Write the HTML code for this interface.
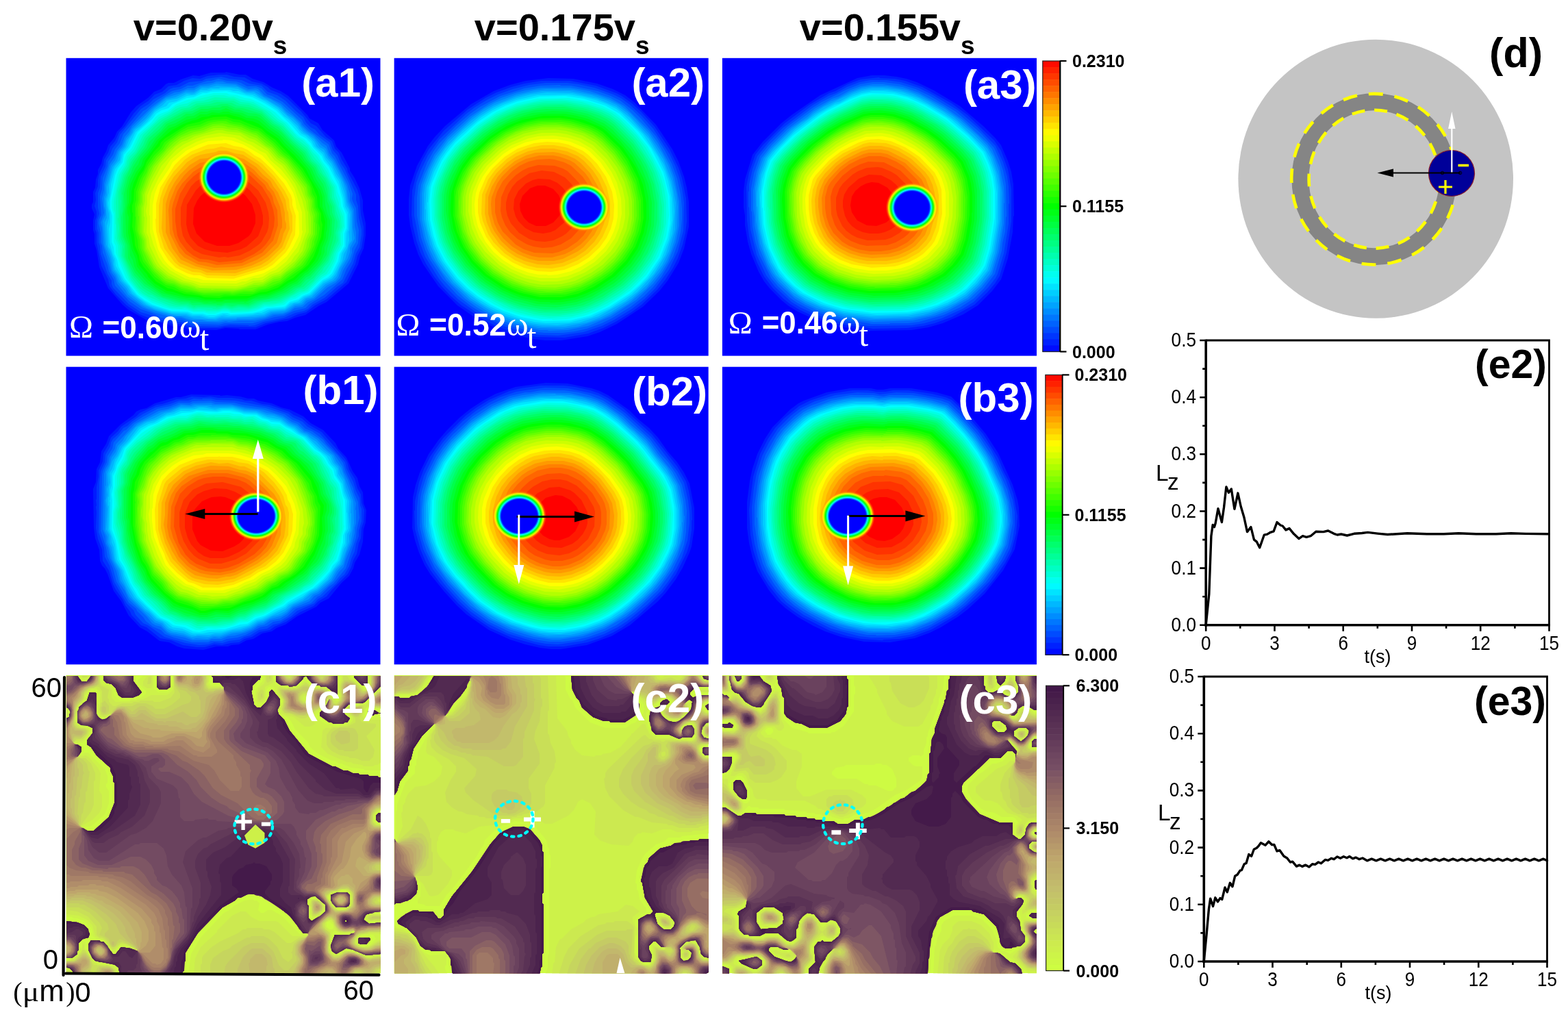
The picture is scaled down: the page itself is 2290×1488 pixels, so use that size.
<!DOCTYPE html>
<html><head><meta charset="utf-8"><title>figure</title><style>html,body{margin:0;padding:0;background:#fff;width:2290px;height:1488px;overflow:hidden}svg{display:block}</style></head><body>
<svg xmlns="http://www.w3.org/2000/svg" width="2290" height="1488" viewBox="0 0 2290 1488">
<rect width="2290" height="1488" fill="#fff"/>
<text x="194.8" y="59.0" font-family='"Liberation Sans", Arial, sans-serif' font-weight="bold" font-size="56">v=0.20v<tspan font-size="37" dy="19.5">s</tspan></text>
<text x="692.8" y="59.0" font-family='"Liberation Sans", Arial, sans-serif' font-weight="bold" font-size="56">v=0.175v<tspan font-size="37" dy="19.5">s</tspan></text>
<text x="1167.8" y="59.0" font-family='"Liberation Sans", Arial, sans-serif' font-weight="bold" font-size="56">v=0.155v<tspan font-size="37" dy="19.5">s</tspan></text>
<clipPath id="cp00"><rect x="96.3" y="84.6" width="459.4" height="435.2"/></clipPath>
<g clip-path="url(#cp00)" fill-rule="evenodd">
<rect x="96.3" y="84.6" width="459.4" height="435.2" fill="#0000ff"/>
<path fill="#001aff" d="M410 133l-12-5-13-8-16-5-10-6-9 0-20-4-1 1-21 0-17 5-9-1-18 6-10 5-8 0-4 2-7 7-10 4-9 9-17 12-8 9-13 21-7 7-4 9-9 11-3 9-5 9-2 9-5 9 0 6-3 8-1 12-3 6 0 15-2 4 0 5 4 9-2 9 0 14 2 6 0 14 3 9 4 25 13 31 21 24 8 7 28 16 29 5 9 4 10-1 12 5 41 1 13-3 20 1 1 1 23 0 18-7 17-4 11-1 12-5 15-4 19-13 12-6 32-27 14-28 3-12 5-11 3-19 0-18-4-19 0-14-5-18-7-15-7-11 0-3-12-23-8-9-3-9-17-15-6-10-13-7-3-5-28-28z"/>
<path fill="#0033ff" d="M281 114l-12 4-11 6-12 2-9 8-11 4-9 9-12 8-10 11-13 19-8 8-6 13-7 8-3 9-6 10-1 8-6 13-2 9 0 9-4 10 1 10-2 9 3 8 0 8-2 5 0 13 2 5 0 14 7 34 10 20 2 10 9 12 16 16 19 13 15 6 7 1 8 4 11 0 9 4 10-1 11 5 10 0 1 1 35 0 7-2 45 1 15-6 34-7 13-6 12-3 13-10 17-9 29-25 13-26 3-12 6-12 3-18 0-13-4-18-2-26-3-10-14-26-1-5-8-13-4-10-6-6-4-11-9-6-14-16-8-4-14-17-20-19-10-7-15-6-4-4-9-5-14-3-11-6-15-1-11-3-11 0-17 2-11 4z"/>
<path fill="#004cff" d="M276 120l-14 7-9 1-5 2-7 6-17 9-7 7-11 7-31 38-4 11-7 9-3 8-6 9-1 9-7 15-1 16-3 8 0 21 2 9-3 9 0 13 2 6 0 14 2 5 1 12 10 29 6 10 0 5 2 5 23 24 18 12 17 5 10 6 12 0 7 3 13 0 8 4 8 2 36 1 19-3 27 1 1 1 8-1 13-5 30-6 16-7 13-3 6-3 6-6 18-10 18-16 9-6 15-29 4-14 5-9 3-18 0-8-4-17-1-17-3-9 0-8-17-38-5-7-5-12-7-8-4-11-15-11-7-8-6-3-7-7-4-8-10-8-16-16-12-8-14-5-9-9-18-3-11-5-18-2-12-3-22 3-6 3z"/>
<path fill="#0066ff" d="M319 115l-11 3-5 0-22 7-7 0-10 5-13 3-23 14-15 13-4 2-29 34-5 13-7 9-3 8-7 10-1 7-7 17-1 16-3 11 2 27-3 6-1 6 3 14 0 14 2 5 1 10 7 18 2 9 7 12 2 9 21 23 16 11 22 8 8 5 10 0 8 3 13 0 15 6 39 1 8-2 41 0 32-9 14-2 14-7 17-4 6-6 21-13 27-23 6-15 7-11 5-17 5-10 1-19-3-13-1-19-5-10-1-4 1-7-6-17-20-38-4-4-5-13-28-22-8-8-3-6-28-26-16-9-7-2-8-9-8-3-13 0-9-5-7-2-13-1z"/>
<path fill="#0080ff" d="M242 141l-20 15-29 28-5 9-6 7-4 11-7 9-4 10-7 10-8 28 0 9-3 13 3 21-5 14 2 8 1 22 13 43 5 7 3 9 15 19 22 16 17 7 27 8 13 0 17 6 38 1 10-2 4 1 15-2 23 0 15-3 13-5 13-1 10-4 7-5 12-2 8-7 9-4 19-17 12-7 7-7 4-11 10-17 3-9 0-6 6-10 0-14-2-9-1-24-6-13 0-10-4-14-18-35-8-10-4-11-6-4-12-12-9-6-9-9-1-3-30-28-24-12-9-9-4-1-10 1-18-8-14-1-6-2-9 0-5 2-19 3-9 5-9 0-12 5-7 1z"/>
<path fill="#0099ff" d="M242 143l-19 15-30 30-4 8-5 6-5 12-6 7-5 13-6 8-8 28 0 12-2 6 0 13 2 6 0 7-4 9 3 36 7 18 4 18 5 7 4 10 10 11 4 7 19 15 9 5 37 12 12 0 16 5 15 0 8 2 14 0 9-2 19 0 1-1 21 0 20-3 11-5 15-1 6-2 12-8 8-1 4-2 4-5 11-4 19-18 13-7 4-5 5-13 9-15 3-9 0-6 7-14-3-16 0-24-6-14-3-21-8-18-11-20-7-8-4-10-7-5-11-13-10-7-8-8-2-4-9-9-11-8-8-9-15-9-10-4-7-7-4-2-13 0-17-8-28-2-11 3-12 1-10 6-11 0-8 4z"/>
<path fill="#00b2ff" d="M243 145l-18 14-12 14-18 16-2 5-8 11-3 9-7 8-4 13-7 9-8 29 0 12-2 5 2 28-3 7 2 32 7 18 4 19 5 7 4 9 10 11 4 7 21 17 18 8 30 8 12 0 13 4 32 2 6-2 24 0 1-1 27-1 13-2 10-5 20-2 14-9 10-2 7-7 8-2 20-19 12-6 5-6 4-11 8-13 6-22 4-6-1-41-6-15-2-16-4-13-16-30-5-5-7-13-6-3-8-12-16-12-8-11-7-7-8-5-9-10-40-24-10 0-14-7-30-2-13 3-9 0-12 7-12 0-15 7z"/>
<path fill="#00ccff" d="M244 147l-7 7-11 7-7 9-14 14-7 5-9 14-5 12-7 8-2 11-7 8-3 6-6 22 0 11-3 11 0 7 3 13 0 7-3 11 2 30 3 5 5 15 0 6 2 7 7 10 3 7 8 8 7 11 21 16 11 5 26 8 21 1 8 3 12 0 12 3 10 0 10-3 9 1 26-1 26-3 10-5 21-2 13-9 8-1 8-7 10-4 17-17 13-7 5-6 10-20 2-10 5-9 3-11-1-13 1-1 1-23-2-9-3-5-3-18-6-19-6-9-7-15-8-9-3-7-11-9-3-7-9-9-7-4-6-6-2-4-29-27-16-10-8-3-10-7-15-2-9-5-13-2-14 0-1 1-12 0-6 2-9 0-9 6-4 1-7-1-14 7z"/>
<path fill="#00e6ff" d="M247 150l-4 5-10 4-7 5-11 14-17 15-11 22-7 8-4 14-8 10-6 22-1 15-3 12 1 9 2 5 0 14-2 10 1 20 5 18 3 6 1 10 12 22 8 8 4 7 10 10 15 10 33 11 22 1 8 3 13 0 12 3 6 0 15-4 9 2 33-2 7-2 6 0 11-5 23-2 8-7 11-3 9-7 9-3 19-19 10-5 5-5 10-20 2-11 6-10 1-20 2-6 0-24-4-8-2-13-7-24-6-9-4-10-10-13-4-8-12-11-4-8-9-8-6-3-8-10-11-11-6-4-9-10-19-12-18-9-9-1-12-5-7 0-6-2-24 0-6 2-12 1-8 5-12 1-16 8z"/>
<path fill="#00ffff" d="M369 142l-38-9-23 1-6 2-6 0-13 6-10 1-21 9-6 6-10 3-8 5-5 7-22 20-11 22-9 11-2 11-7 9-4 10-7 36 0 12 3 11-1 38 3 8 1 10 4 8 2 10 9 18 18 23 12 9 11 6 28 9 23 1 8 3 14 0 6 2 13 0 10-3 7 0 5 2 32-2 13-3 8-4 24-2 3-1 6-6 13-4 6-5 10-4 19-19 8-4 6-6 9-18 2-10 7-12 0-18 3-8 0-20-5-12-1-10-6-21-14-27-7-8-3-7-13-13-3-6-7-7-9-5-13-15-22-21-16-10z"/>
<path fill="#00ffe5" d="M232 167l-5 4-6 8-19 17-10 21-7 7-3 7-1 7-7 10-3 7-8 39 0 10 3 9 0 40 3 6 0 10 15 37 19 24 19 12 18 7 12 3 22 1 9 3 15 0 7 2 9 0 10-3 9 0 5 2 24-1 11-2 14-6 11 0 17-3 7-6 10-3 9-6 9-3 20-20 12-8 9-18 3-12 4-5 3-7 0-18 3-7-1-20-5-11-1-11-4-10-1-8-7-11-6-14-9-12-4-8-22-24-6-3-7-6-12-15-5-3-12-12-21-13-16-7-8-1-11-4-11-1-4-2-19 0-19 4-9 4-8 1-18 7-13 10z"/>
<path fill="#00ffcc" d="M256 156l-8 7-16 8-7 8-20 18-10 21-9 10-4 14-8 13-8 39 0 12 2 5 0 16 1 1-1 20 4 10 1 15 16 36 15 19 18 11 26 10 16 2 6-1 13 4 17 0 1 1 17 0 7-2 8 0 5 2 25-1 15-4 8-4 9 0 17-3 13-8 5-1 10-6 9-3 21-21 7-4 6-9 5-10 3-11 7-12 0-17 4-11-1-14-6-15 0-5-4-11-2-13-6-9-4-10-16-25-7-7-6-9-9-8-7-4-18-20-9-6-12-11-25-14-19-4-10-4-7 0-7-2-15 0-29 7-10 5-10 2z"/>
<path fill="#00ffb2" d="M257 159l-9 7-15 8-24 23-12 24-8 8-3 6-1 6-7 12-7 25-2 17 2 54 4 10 1 15 15 34 9 12 8 8 8 5 31 13 11 2 13 0 12 4 7-1 14 2 14 0 8-2 6 0 6 2 25-1 11-3 11-5 17-1 8-2 28-15 6-1 5-3 19-20 6-4 8-12 4-8 2-8 8-15 0-16 3-7-1-15-10-30-1-13-19-34-8-9-11-16-19-15-17-19-7-4-17-15-17-9-9-3-11-1-10-5-28-2-17 5-11 1-6 2-7 5-9 1z"/>
<path fill="#00ff99" d="M287 151l-11 6-11 2-30 17-10 9-14 15-12 23-9 10-3 10-7 12-7 26 0 37-1 1 2 14-1 11 1 6 4 9 0 14 14 32 12 16 13 9 5 1 10 6 20 7 10 2 10 0 11 4 6-1 21 1 1 1 8 0 9-2 10 2 11-2 15 1 21-8 23-3 21-10 9-6 6-1 14-12 4-6 8-7 3-6 7-8 14-32-1-11 3-8 0-9-5-15-1-8-5-11-1-15-7-14-5-6-6-12-9-9-9-15-17-14-17-19-14-9-17-15-20-8-12-1-10-5-28-1-9 3z"/>
<path fill="#00ff80" d="M288 154l-11 6-8 1-30 16-26 25-4 10-18 25-3 10-6 10-6 21 0 14 1 1-2 20 1 34 5 13-1 5 1 10 12 27 16 19 21 12 26 9 9 2 9 0 10 4 2-1 29 1 1 1 13-2 9 2 10-2 15 1 18-7 11-1 17-4 19-9 6-5 9-3 9-9 6-4 21-26 11-27 1-6-1-7 3-9 0-7-4-11-1-11-6-14-1-13-6-14-8-10-5-10-7-6-8-14-20-17-17-19-9-5-19-17-17-6-19-3-8-4-21-1-11 3z"/>
<path fill="#00ff66" d="M293 156l-12 6-12 2-28 15-9 10-15 13-6 13-16 21-11 23-6 24 1 2 0 23-2 9 1 27 5 13 0 17 2 6 11 22 15 16 26 16 25 7 13 1 6 3 17 0 25 2 6-2 10 2 9-2 15 1 14-6 27-5 17-7 10-7 8-3 8-9 6-3 22-25 5-9 7-25 2-26-4-11 0-8-5-11-2-15-3-9-10-14-4-9-10-10-6-11-17-15-21-22-9-5-16-15-27-8-11-1-12-5-9 0-7 2z"/>
<path fill="#00ff4c" d="M294 159l-14 7-8 0-9 6-20 9-7 9-18 17-4 9-10 12-10 16-3 9-4 6-6 24 1 18-2 12 0 25 1 8 5 12 1 19 10 21 14 16 27 18 27 7 12 1 3 2 12 0 7 2 17 0 1 1 6 0 6-2 33 1 10-5 20-3 25-9 12-8 9-4 9-10 6-3 14-15 10-15 1-9 6-21 1-22-3-7-1-12-3-7-1-9-5-16-9-13-4-10-11-12-6-10-17-15-14-16-16-11-15-14-6-2-11-1-14-5-6 0-11-5-7 0-4 2-9 0-9 2z"/>
<path fill="#00ff33" d="M381 173l-6-3-13-1-8-4-12-2-12-5-8 3-14 0-5 2-10 0-10 6-10 1-17 10-10 3-18 18-12 18-11 13-3 8-4 5-8 16-5 18 0 18-2 12 1 35 5 15 1 14 4 7 2 9 3 6 17 19 20 14 28 8 38 6 6-1 4 1 44-1 2 1 12-5 20-3 24-9 14-9 6-2 12-12 4-2 14-14 6-8 4-10 0-7 5-12 3-21 0-6-4-10-3-13-1-13-4-12-8-12-7-16-10-11-5-8-34-34-11-7z"/>
<path fill="#00ff1a" d="M293 167l-8 5-13 3-16 9-9 3-18 18-12 18-8 9-3 10-7 9-8 17-2 8-1 20-2 7 0 8 2 6-1 23 5 24 6 14 2 11 13 17 14 13 16 9 30 7 7 0 18 4 17 0 1 1 8 0 5-2 31 1 20-7 12-1 20-8 10-7 11-5 12-12 4-2 15-16 5-10 1-9 6-15 0-7 2-6 0-14-7-18 0-14-3-10-9-14-7-16-16-20-20-19-8-10-16-11-14-12-8-3-10-1-11-5-12-2-3-2-8 0-6 2-10-1-8 3z"/>
<path fill="#00ff00" d="M295 171l-8 4-6 1-15 6-15 8-19 16-1 3-19 25-2 7-8 12-7 15-3 12 0 12-3 11 2 12-1 21 5 27 5 10 3 14 12 14 1 3 10 10 18 11 8 1 18 6 20 2 10 3 60-1 18-6 11-1 19-7 13-9 9-4 9-9 9-6 12-14 5-11 3-12 4-8 3-25-4-15-4-8 0-13-3-10-11-18-6-13-17-20-16-15-8-10-15-10-13-11-9-4-8-1-9-4-18-5-25 1-4 2z"/>
<path fill="#1aff00" d="M330 170l-18 1-12 3-9 4-18 4-32 20-6 6-2 5-8 8-11 16-4 11-7 10-7 19-1 17-2 6 0 10 1 1-1 20 3 12 1 15 6 15 1 7 5 9 19 22 17 10 6 1 18 7 24 3 5 2 23 1 6-2 38-1 15-5 9-1 17-6 14-10 8-4 22-19 8-12 11-29 2-18-2-6 0-10-5-10-1-15-9-21-12-20-40-42-13-9-7-7-32-13-9-1z"/>
<path fill="#33ff00" d="M275 185l-13 7-22 16-5 9-10 10-9 13-11 22-6 18 0 12-2 6 0 18 1 1-1 18 4 16 1 11 7 20 17 22 16 12 12 3 9 5 10 3 6 0 17 4 24 1 8-2 13 1 10-2 18 0 12-5 11-2 19-8 8-7 22-15 5-5 13-22 6-18 2-14-2-7 1-14-5-10-1-13-4-7-1-7-3-7-12-19-18-21-8-6-13-14-24-19-11-3-16-7-9-1-10-4-19 1-9 2-11 5z"/>
<path fill="#4cff00" d="M274 189l-10 5-17 12-5 5-4 7-10 10-11 15-3 9-5 8-7 20 0 12-3 12 1 33 4 13 1 12 6 17 11 16 15 15 7 4 10 2 11 6 33 7 37-1 4 1 18-3 14 0 5-3 11-2 22-9 33-25 9-13 8-17 0-4 4-11 0-15-1-1 1-14-4-8-1-13-4-7-2-11-14-22-15-18-11-9-13-14-22-18-9-2-15-7-17-3-6-3-11 0-12 2-14 6z"/>
<path fill="#66ff00" d="M278 191l-17 8-13 10-8 11-11 11-11 16-13 33-1 16-2 6 0 13 1 1-1 18 1 7 4 9 1 13 10 22 8 11 14 13 6 3 9 2 9 5 27 7 8 1 36-1 4 1 17-3 12 0 10-4 10-2 10-6 11-3 9-8 20-14 9-12 7-13 2-10 4-10 0-17-1-1 1-10-4-12 0-9-5-10-3-13-27-36-12-9-12-13-23-18-6-1-15-7-28-6-14 1-21 8z"/>
<path fill="#80ff00" d="M265 200l-11 8-10 10-20 24-10 21-7 19 0 13-2 6 0 38 5 13 1 13 14 26 17 16 12 4 12 6 7 1 18 6 50 1 43-8 16-9 9-2 10-9 11-7 15-17 6-12 2-11 4-8 0-26-3-10-1-14-4-7-2-11-27-37-6-6-7-4-9-11-8-5-15-13-29-11-13-1-5-2-9-1-8 1-14 6-14 3z"/>
<path fill="#99ff00" d="M263 205l-17 15-20 24-9 19-8 22 0 13-2 6 1 37 4 9 1 13 11 22 5 7 17 14 9 3 9 5 20 5 3 2 21 1 1 1 6-1 28 1 8-1 20-6 7 0 7-2 15-9 9-2 19-15 14-16 5-10 2-11 5-10 0-23-3-13-1-12-4-8-2-10-25-35-6-6-7-4-11-13-7-4-13-11-29-12-7 0-14-3-13 0-15 6-16 4z"/>
<path fill="#b3ff00" d="M316 190l-32 9-11 6-7 2-10 7-23 25-13 24-8 20 0 10-2 10 0 13 1 1-1 21 4 11 1 12 11 22 4 6 15 13 20 10 10 2 17 6 52 1 15-3 13-5 12-1 14-9 11-3 22-19 11-15 4-15 5-12-1-29-2-5-1-10-9-23-22-31-12-9-12-14-20-14-7-2-14-8-19-2-7-2z"/>
<path fill="#ccff00" d="M321 194l-22 4-12 4-19 9-11 8-21 23-14 26-7 17 0 13-2 10 2 11-1 21 3 7 2 12 11 23 4 6 13 11 21 11 14 3 10 4 54 1 9-2 15-6 13-1 12-8 12-4 18-15 5-8 6-6 11-30-1-28-5-19-10-23-19-26-11-8-10-13-21-13-9-3-11-7z"/>
<path fill="#e5ff00" d="M342 201l-17-2-24 3-14 5-19 10-19 16-17 26-11 23-2 10-1 22 1 1 0 24 5 18 8 19 6 9 11 10 22 12 23 6 51 1 9-3 5 0 11-5 7 0 7-2 11-7 8-3 15-12 16-21 5-11 3-12-1-2 0-26-11-35-8-13-12-15-15-13-7-10-9-4-12-8z"/>
<path fill="#ffff00" d="M338 205l-12-1-1 1-21 1-14 5-18 9-20 17-4 8-17 25-5 13-3 17 0 34 8 30 9 16 6 7 10 8 21 10 11 1 9 3 47 1 41-11 16-9 18-16 9-13 8-16 1-4-1-31-3-6-2-14-3-9-10-17-35-37-28-16z"/>
<path fill="#ffe500" d="M304 211l-25 10-14 10-10 10-21 33-6 23 0 22-1 1 1 18 6 23 12 19 11 11 16 8 10 3 9 0 11 4 38 1 45-13 12-7 19-18 6-9 8-17 1-28-5-16 0-7-2-7-10-17-17-20-18-17-8-4-10-8-9-4-12-2-11-4z"/>
<path fill="#ffcc00" d="M323 214l-11 3-11 1-21 8-10 7-16 17-10 15-6 12-4 12-2 11 0 38 8 25 15 20 7 6 19 8 12 1 9 4 41 1 37-11 10-5 8-6 18-18 11-26 0-22-4-12-1-12-6-12-15-21-18-19-27-18z"/>
<path fill="#ffb300" d="M319 220l-4 2-22 4-8 3-12 8-19 21-8 13-8 20-2 42 2 11 8 19 14 19 4 3 17 7 12 2 9 4 42 1 37-12 11-7 20-19 11-27-2-24-2-4-2-14-6-12-12-18-22-22-22-14-12-2-12-4z"/>
<path fill="#ff9900" d="M322 225l-19 6-11 1-15 9-14 14-8 11-8 15-5 17 0 41 10 24 12 16 22 10 24 6 35-1 22-6 15-7 9-6 15-14 5-8 3-12 4-8 0-6-2-6 0-10-3-13-7-17-7-9-4-8-11-9-10-11-18-12-27-7z"/>
<path fill="#ff8000" d="M327 230l-9 1-11 4-15 3-16 11-7 7-12 16-9 22-2 13 2 34 14 28 7 7 20 10 24 5 27-1 14-2 22-9 11-7 17-17 6-20 2-3 0-11-3-19-9-22-6-7-3-6-12-10-8-9-13-9-13-5z"/>
<path fill="#ff6600" d="M295 243l-13 8-16 17-7 11-6 17-2 9 1 30 3 11 7 14 9 11 19 11 11 1 16 4 36-3 30-15 16-18 7-22-1-22-5-11-2-9-4-7-4-4-3-6-19-18-7-5-16-7-15-4-10 0z"/>
<path fill="#ff4c00" d="M302 246l-12 6-8 6-9 9-10 16-7 22 0 18 3 21 4 9 10 13 9 7 10 5 12 1 16 4 32-3 19-9 10-7 7-7 7-10 5-16 1-13-2-12-5-15-11-18-18-17-14-8-18-6-11 0z"/>
<path fill="#ff3300" d="M307 253l-21 12-7 7-11 19-4 12 0 25 3 16 5 9 11 12 12 6 25 5 8-1 5 1 17-3 15-7 13-9 4-4 8-14 2-7 1-13-1-9-4-14-11-18-22-19-8-4-16-5z"/>
<path fill="#ff1a00" d="M326 259l-19 4-14 8-7 7-13 21-1 28 2 10 4 10 11 12 10 5 11 3 22 2 20-5 8-4 17-15 7-18 0-12-4-15-5-10-10-12-13-11-8-4z"/>
<path fill="#ff0000" d="M324 270l-10 2-9 4-12 10-5 7-5 11-1 23 5 14 12 12 18 6 18 0 13-4 15-10 4-5 6-14 0-12-5-16-10-13-17-12z"/>
<radialGradient id="vg00"><stop offset="0.637" stop-color="#0000ff" stop-opacity="1.00"/><stop offset="0.677" stop-color="#0060ff" stop-opacity="1.00"/><stop offset="0.718" stop-color="#00ffff" stop-opacity="1.00"/><stop offset="0.758" stop-color="#00ff80" stop-opacity="1.00"/><stop offset="0.798" stop-color="#00ff00" stop-opacity="1.00"/><stop offset="0.852" stop-color="#b0ff00" stop-opacity="1.00"/><stop offset="0.892" stop-color="#ffff00" stop-opacity="0.90"/><stop offset="0.946" stop-color="#ffa000" stop-opacity="0.45"/><stop offset="1.000" stop-color="#ff8000" stop-opacity="0.00"/></radialGradient>
<ellipse cx="327.2" cy="258.9" rx="37.2" ry="36.9" fill="url(#vg00)"/>
</g>
<clipPath id="cp01"><rect x="575.4" y="84.6" width="459.4" height="435.2"/></clipPath>
<g clip-path="url(#cp01)" fill-rule="evenodd">
<rect x="575.4" y="84.6" width="459.4" height="435.2" fill="#0000ff"/>
<path fill="#001aff" d="M801 114l-33 4-23 6-24 9-33 19-38 32-15 16-10 13-16 29-10 29-2 19 0 24 2 16 6 25 6 17 7 14 22 32 28 28 29 20 35 17 15 5 31 7 18 2 24 0 38-6 18-6 25-12 38-25 24-23 12-15 16-26 8-21 7-32 0-36-3-21-4-16-8-22-9-18-24-36-32-33-13-10-18-9-23-8-35-7z"/>
<path fill="#0033ff" d="M791 118l-25 4-19 5-22 8-16 8-26 17-35 31-22 27-10 18-8 19-6 23-1 36 2 16 5 21 6 18 8 16 12 19 11 14 13 14 16 14 34 22 14 7 21 8 40 9 42 1 34-6 22-8 18-9 23-14 15-11 23-22 12-15 11-17 7-14 7-20 4-17 2-17-1-33-6-30-5-15-13-27-22-33-19-21-14-13-15-11-8-4-30-11-37-7z"/>
<path fill="#004cff" d="M797 121l-24 3-24 6-22 8-16 8-18 11-13 10-38 36-17 24-11 23-6 17-3 22 0 26 7 36 9 24 20 32 9 11 19 19 29 21 36 18 40 11 14 2 27 1 37-5 27-9 18-9 26-16 18-14 16-16 20-27 13-27 8-30 1-41-3-21-4-16-6-17-8-17-24-37-17-19-17-16-12-9-12-6-28-10-23-5-17-2z"/>
<path fill="#0066ff" d="M834 125l-15 0-1-1-28 1-24 4-35 11-30 16-14 10-21 18-25 26-8 11-9 16-13 34-2 18 0 26 6 32 6 18 6 13 19 29 22 24 20 16 14 9 27 14 13 5 36 9 17 2 27 0 17-2 18-4 22-8 16-8 26-16 19-15 14-14 12-15 17-29 8-23 3-13 2-19 0-16-2-20-5-23-8-22-11-21-12-19-22-26-12-12-18-14-14-7-19-7z"/>
<path fill="#0080ff" d="M791 128l-24 4-15 4-20 7-18 9-27 18-33 30-20 26-14 29-5 15-2 14 0 36 6 28 5 15 7 15 21 31 27 27 18 13 17 10 19 9 17 6 38 8 12 0 1 1 28-1 30-6 33-14 37-24 25-24 13-17 9-15 11-28 5-24 0-36-7-35-7-19-17-31-13-18-36-36-21-12-30-10-28-5z"/>
<path fill="#0099ff" d="M798 130l-18 2-26 6-31 12-16 9-17 12-36 33-18 24-10 20-8 22-2 13 0 37 6 28 6 17 8 16 11 17 13 16 26 24 30 19 17 8 20 7 33 7 35 1 23-3 34-11 14-7 26-16 26-22 19-23 10-16 6-13 6-18 4-19 1-30-2-19-6-25-6-16-9-18-19-29-27-29-16-13-16-8-16-6-36-8z"/>
<path fill="#00b2ff" d="M792 133l-24 4-15 4-32 13-17 10-16 12-33 31-18 25-8 16-8 22-2 13 0 37 9 37 12 25 22 30 26 24 30 19 31 13 23 6 20 3 33 0 32-6 19-7 16-8 31-20 23-21 21-28 10-20 9-32 1-39-6-32-12-31-22-35-31-33-16-12-15-7-21-7-32-6z"/>
<path fill="#00ccff" d="M799 135l-24 3-20 5-22 8-14 7-19 12-25 21-24 25-9 13-9 17-10 28-2 31 1 1 0 14 3 16 8 26 8 16 11 17 12 15 15 15 24 18 19 11 18 8 36 10 13 2 25 1 32-4 28-9 39-22 18-14 24-26 17-28 10-31 3-32-3-30-3-13-9-25-23-39-27-30-20-16-28-12-36-8z"/>
<path fill="#00e6ff" d="M785 139l-31 7-19 7-16 8-16 10-34 29-12 13-13 18-10 20-8 23-1 21-1 1 1 24 5 24 5 15 11 22 20 27 15 15 15 12 19 12 20 10 23 8 22 5 17 2 34-1 33-8 26-12 32-21 24-23 20-29 11-28 5-28-1-32-5-25-5-15-10-21-22-33-31-31-8-6-14-7-16-6-20-5-19-3z"/>
<path fill="#00ffff" d="M789 141l-33 7-17 6-20 10-21 14-33 30-13 16-7 11-14 32-2 7-2 20 1 27 5 23 5 15 12 23 18 24 15 15 15 12 19 12 18 9 26 9 32 6 40-1 29-7 28-13 29-19 15-13 11-12 19-28 11-29 4-21-1-39-9-35-18-35-18-24-28-27-21-12-32-10-27-4z"/>
<path fill="#00ffe5" d="M785 144l-30 7-29 12-30 20-31 29-18 25-6 12-9 25-2 19 1 28 9 35 8 17 8 13 14 18 16 16 14 11 21 13 16 8 20 7 34 7 15 0 1 1 20-1 26-5 17-6 18-9 33-22 23-23 18-27 11-30 4-30-2-29-5-22-5-14-19-35-23-28-10-10-15-12-18-9-18-6-32-6z"/>
<path fill="#00ffcc" d="M820 145l-30 1-36 8-30 13-24 16-35 33-12 16-15 32-3 10-2 17 1 31 8 31 11 23 19 26 16 16 14 11 33 19 18 7 19 5 31 4 32-2 24-6 28-13 21-13 13-10 17-17 18-25 11-25 6-28 0-30-3-19-5-18-13-28-9-15-13-17-25-25-11-8-12-6-32-10z"/>
<path fill="#00ffb2" d="M797 148l-16 2-25 6-16 6-16 8-26 18-25 23-18 23-14 30-3 10-2 15 0 26 6 29 5 14 7 14 19 27 18 18 22 16 34 17 35 9 18 2 16 0 29-4 28-10 31-18 12-9 16-15 19-25 10-20 8-29 1-32-5-30-6-18-6-13-18-29-10-12-20-20-15-11-13-6-18-6-33-6z"/>
<path fill="#00ff99" d="M793 151l-19 3-19 5-24 10-24 15-35 32-15 20-9 18-6 16-3 17 0 29 3 17 6 20 11 22 16 22 24 23 30 19 27 11 32 7 30 1 17-2 17-4 28-12 31-20 22-21 16-22 8-16 8-27 2-31-5-33-6-18-6-13-22-34-23-24-14-11-12-6-20-7-30-6z"/>
<path fill="#00ff80" d="M789 154l-35 8-25 11-23 15-34 32-13 18-8 16-7 19-2 12 0 32 3 16 6 20 12 23 14 19 19 19 9 7 19 12 18 9 17 6 21 5 16 2 32-1 12-2 20-6 21-10 30-20 16-15 10-12 16-27 8-25 2-12-1-39-9-33-14-27-15-21-26-26-8-6-16-8-22-7-32-5z"/>
<path fill="#00ff66" d="M796 156l-33 6-20 7-16 8-23 16-25 23-15 19-14 29-5 20 0 34 5 23 5 14 7 14 17 24 24 23 23 15 16 8 20 7 32 6 26 0 31-6 29-13 26-17 22-21 18-26 10-26 4-22 0-24-5-28-11-28-19-30-28-29-11-8-10-5-20-7-32-6z"/>
<path fill="#00ff4c" d="M798 159l-17 2-24 6-29 13-23 16-28 27-14 20-8 17-5 15-2 13 0 26 5 25 10 25 17 25 22 22 27 18 22 10 31 8 29 2 30-4 21-7 35-20 14-11 11-11 14-18 13-26 6-22 1-34-5-27-6-17-8-16-16-24-26-27-11-8-26-11-27-6z"/>
<path fill="#00ff33" d="M828 163l-21-1-30 3-30 9-29 16-25 21-19 21-14 25-5 13-3 13-1 24 5 30 5 15 6 12 14 21 18 19 11 9 19 12 21 10 35 9 33 1 24-4 22-8 32-19 9-7 17-17 13-18 9-18 7-25 1-33-5-27-11-27-15-24-27-29-12-9-26-11z"/>
<path fill="#00ff1a" d="M791 166l-29 6-23 9-14 8-15 11-27 26-13 18-13 31-2 13 0 27 4 20 5 15 8 16 16 22 21 20 25 16 27 11 28 6 14 0 1 1 18-1 17-3 13-4 23-11 24-16 22-22 14-21 9-23 4-21-1-32-6-25-17-34-19-24-22-20-23-11-18-5-17-3z"/>
<path fill="#00ff00" d="M794 169l-31 6-23 9-25 16-27 25-13 17-11 23-5 18-1 25 4 25 10 26 17 25 18 18 25 17 14 7 17 6 22 5 31 1 24-4 17-6 14-7 27-18 18-18 15-22 9-23 4-21 0-22-5-27-10-25-19-29-24-24-8-6-26-11-31-6z"/>
<path fill="#1aff00" d="M787 173l-32 8-23 11-16 11-28 27-12 17-6 12-7 20-1 36 5 23 10 23 13 19 21 21 26 17 21 9 31 7 31 0 24-5 23-10 26-17 22-22 13-20 8-21 4-21-1-29-7-28-15-29-12-16-25-24-14-8-28-9-21-3z"/>
<path fill="#33ff00" d="M786 176l-15 3-19 6-18 9-22 16-22 22-14 21-9 23-2 11 0 28 8 31 8 16 12 17 24 23 17 11 14 7 17 6 25 5 36-1 25-7 28-15 16-12 17-18 12-18 9-23 3-15 0-30-7-29-14-28-10-14-25-25-7-5-15-7-25-7-14-2z"/>
<path fill="#4cff00" d="M791 178l-25 5-27 11-22 15-22 21-12 16-8 16-6 17-1 37 8 30 9 17 17 22 17 15 29 17 24 8 16 3 31 0 20-4 24-10 26-17 19-19 11-16 9-20 5-23 0-24-5-25-12-27-15-22-21-21-8-6-12-6-22-7-17-3z"/>
<path fill="#66ff00" d="M811 180l-23 1-23 5-26 11-18 12-26 25-10 14-11 24-4 23 1 22 5 21 11 23 15 20 19 17 27 16 28 9 23 3 21-1 27-7 30-16 13-10 13-13 14-20 9-22 4-22-1-26-6-24-10-21-16-23-18-18-15-10-12-5-18-5z"/>
<path fill="#80ff00" d="M795 183l-20 3-22 7-25 14-25 22-15 19-10 21-4 14-1 27 5 25 8 19 17 24 16 15 23 15 22 9 22 5 24 1 21-3 18-6 14-7 17-11 16-14 16-21 9-19 5-20 0-30-6-26-10-21-12-18-19-20-12-9-24-10-27-5z"/>
<path fill="#99ff00" d="M791 186l-28 6-19 8-21 14-21 20-12 16-7 14-5 14-2 11 0 24 7 28 8 16 13 18 18 17 15 10 16 8 14 5 18 4 26 1 23-4 12-4 16-8 17-11 19-18 12-17 10-24 3-15 0-25-3-17-5-15-8-16-13-19-21-21-19-11-23-7-12-2z"/>
<path fill="#b3ff00" d="M787 190l-22 5-21 9-18 12-22 21-11 15-10 22-3 13 0 27 7 27 7 14 14 19 10 10 13 10 22 12 21 7 18 3 28-1 20-5 24-12 17-12 17-18 8-12 9-21 4-22-1-24-6-23-11-22-15-20-17-16-18-10-24-7-17-2z"/>
<path fill="#ccff00" d="M791 194l-24 5-25 11-13 9-22 21-10 14-8 17-4 13-1 24 5 25 8 18 11 16 21 20 14 9 23 10 24 5 23 0 17-3 24-10 20-13 18-18 10-15 8-20 3-14 0-25-4-19-10-23-12-18-21-21-18-10-20-6-12-2z"/>
<path fill="#e5ff00" d="M786 199l-14 3-25 10-15 10-21 20-10 14-10 23-2 10 0 23 3 15 8 20 14 20 16 15 17 11 22 9 19 4 26 0 15-3 18-7 21-13 17-16 13-19 6-15 4-21-1-22-6-23-8-16-11-16-18-18-19-11-16-5-21-3z"/>
<path fill="#ffff00" d="M790 203l-23 5-20 9-12 8-20 19-10 14-6 12-4 12-2 16 1 16 4 17 11 22 12 15 14 12 18 11 19 7 14 3 13 0 1 1 14-1 20-5 15-7 17-11 17-17 7-10 6-12 4-12 2-11 0-23-3-15-8-20-14-21-16-16-7-5-21-9-20-4z"/>
<path fill="#ffe500" d="M799 207l-19 2-24 8-19 12-18 17-9 12-10 23-2 11 0 18 3 15 9 21 10 14 12 12 16 11 17 8 20 5 20 1 19-3 20-8 16-10 16-15 10-14 6-13 4-15 1-20-3-19-9-22-13-19-13-13-8-6-21-9-14-3z"/>
<path fill="#ffcc00" d="M791 212l-20 4-17 7-14 9-16 15-11 15-9 22-1 28 2 10 8 20 8 12 16 16 15 10 19 8 13 3 22 1 17-3 21-9 15-10 14-14 7-10 8-18 3-14 0-19-5-22-9-18-14-18-11-10-12-7-14-5-17-3z"/>
<path fill="#ffb300" d="M790 217l-19 4-18 8-13 9-15 15-7 10-9 21-1 28 3 13 6 14 12 17 12 11 12 8 13 6 19 5 16 1 20-3 19-8 15-10 13-13 8-12 6-14 3-14 0-18-3-15-8-19-8-12-13-14-9-7-16-7-19-4z"/>
<path fill="#ff9900" d="M782 223l-14 4-16 8-17 14-8 9-9 15-5 15 0 24 5 18 4 8 10 14 13 12 11 7 17 7 13 3 23 0 13-3 22-11 8-6 16-18 7-14 4-16-1-25-5-16-11-19-14-15-8-6-11-5-14-4-7-1z"/>
<path fill="#ff8000" d="M788 227l-20 5-12 6-10 7-13 13-7 10-8 20-1 10 1 14 4 15 5 10 8 11 13 12 15 9 14 5 11 2 18 0 19-5 10-5 13-9 9-9 7-10 6-13 3-13 0-18-5-19-8-15-6-8-15-14-7-4-14-5-10-2z"/>
<path fill="#ff6600" d="M784 233l-12 3-13 6-11 8-14 15-8 15-3 11 0 19 4 15 7 13 19 19 12 7 15 5 27 1 9-2 12-5 15-10 9-9 8-12 6-18 0-22-4-15-5-10-6-9-17-16-10-5-14-4-8-1z"/>
<path fill="#ff4c00" d="M786 241l-15 4-8 4-10 7-9 9-5 7-7 16-1 20 2 9 5 12 7 10 11 10 14 8 9 3 13 2 14-1 13-4 15-9 13-14 5-9 4-13 0-19-4-14-7-13-16-16-7-4-12-4z"/>
<path fill="#ff3300" d="M791 249l-18 4-18 12-7 8-6 11-3 12 0 9 2 10 5 11 12 14 15 9 10 3 13 1 12-2 13-6 6-4 9-9 8-15 2-9 0-12-6-19-6-9-9-9-16-8z"/>
<path fill="#ff1a00" d="M786 261l-8 2-10 5-11 11-6 12-1 14 3 11 4 7 10 10 12 6 14 2 11-2 7-3 14-12 5-9 2-7 0-13-5-14-5-7-8-7-11-5z"/>
<path fill="#ff0000" d="M785 271l-11 4-11 11-4 12 1 10 5 10 7 7 11 5 14 0 11-5 9-10 3-8 0-12-4-10-8-9-12-5z"/>
<radialGradient id="vg01"><stop offset="0.640" stop-color="#0000ff" stop-opacity="1.00"/><stop offset="0.680" stop-color="#0060ff" stop-opacity="1.00"/><stop offset="0.720" stop-color="#00ffff" stop-opacity="1.00"/><stop offset="0.760" stop-color="#00ff80" stop-opacity="1.00"/><stop offset="0.800" stop-color="#00ff00" stop-opacity="1.00"/><stop offset="0.853" stop-color="#b0ff00" stop-opacity="1.00"/><stop offset="0.893" stop-color="#ffff00" stop-opacity="0.90"/><stop offset="0.947" stop-color="#ffa000" stop-opacity="0.45"/><stop offset="1.000" stop-color="#ff8000" stop-opacity="0.00"/></radialGradient>
<ellipse cx="853.0" cy="302.5" rx="37.5" ry="35.6" fill="url(#vg01)"/>
</g>
<clipPath id="cp02"><rect x="1054.6" y="84.6" width="459.4" height="435.2"/></clipPath>
<g clip-path="url(#cp02)" fill-rule="evenodd">
<rect x="1054.6" y="84.6" width="459.4" height="435.2" fill="#0000ff"/>
<path fill="#001aff" d="M1252 114l-54 25-42 29-15 12-27 27-15 19-11 36-2 17 0 24 2 12 0 14 4 24 5 18 11 26 8 14 8 10 18 18 10 8 13 8 24 11 36 11 44 6 62-1 25-4 21-6 30-13 21-13 21-21 13-17 10-31 7-38 1-23 1-1-1-46-3-18-5-16-10-23-8-10-18-18-34-29-38-23-25-12-15-5-15-3-17-2-19 0z"/>
<path fill="#0033ff" d="M1257 116l-19 7-18 10-9 3-29 17-36 27-32 32-11 14-9 26-4 21 1 49 3 23 4 17 8 22 10 20 12 16 16 16 10 8 13 8 19 9 37 12 52 7 50-1 23-3 17-4 25-9 33-18 19-18 11-13 7-11 10-34 7-46 0-47-5-29-10-27-10-15-39-37-23-17-43-24-25-9-15-3-22-1-1-1z"/>
<path fill="#004cff" d="M1255 120l-18 7-16 9-11 4-24 14-43 33-19 19-18 22-7 19-5 22 0 10-1 1 0 22 1 1 2 32 9 37 14 30 13 17 24 22 13 8 24 11 37 11 38 5 63-1 19-3 25-7 31-14 16-10 21-21 11-14 3-6 9-30 7-43 0-29 1-1-1-25-2-14-6-21-11-24-26-27-29-25-36-22-22-11-25-8-21-3-24 0z"/>
<path fill="#0066ff" d="M1256 123l-20 8-36 18-14 9-36 27-28 28-12 15-9 25-4 22 0 33 1 1 1 22 4 22 6 19 17 34 10 12 18 17 10 7 21 11 31 11 23 5 17 1 17 3 26 0 1-1 26 0 16-2 36-10 24-11 20-13 15-15 16-21 10-34 1-11 4-17 1-21 1-1-1-47-4-20-5-15-8-18-19-21-37-32-38-23-21-10-23-7-23-3-17 0z"/>
<path fill="#0080ff" d="M1257 126l-16 6-16 9-9 3-25 14-41 31-23 23-15 19-7 20-5 27 0 27 2 12 0 12 7 33 12 29 7 12 8 10 25 23 15 9 20 9 33 10 47 6 57-2 32-7 19-7 31-17 19-18 15-19 10-32 7-42 0-29 1-1-1-23-6-29-11-26-7-9-36-34-28-20-37-20-23-8-29-4-14 0z"/>
<path fill="#0099ff" d="M1259 128l-19 7-16 9-11 4-25 15-9 8-23 16-31 31-10 13-7 19-5 24 1 48 6 34 11 29 7 13 9 12 23 22 16 10 17 8 39 12 38 5 58-1 31-6 25-9 29-16 19-18 13-16 3-6 8-26 7-40 1-48-5-31-8-22-9-15-14-15-27-24-21-15-36-20-21-8-27-5-25 0z"/>
<path fill="#00b2ff" d="M1257 131l-11 4-43 21-15 10-9 8-9 5-15 12-25 25-12 15-9 25-4 26 0 19 1 1 2 32 8 32 7 17 10 18 24 25 19 13 27 12 32 9 43 5 53-2 17-3 21-6 27-12 16-10 17-16 16-21 8-25 8-50 0-43-3-20-9-27-7-13-20-21-30-26-36-22-23-11-20-6-24-3-15 0z"/>
<path fill="#00ccff" d="M1259 133l-14 5-18 10-7 2-28 16-31 23-33 33-7 9-9 24-4 22 1 42 2 17 4 18 11 29 13 21 26 25 13 8 19 9 36 11 39 5 54-1 31-6 27-10 26-15 17-16 15-19 9-29 7-42 0-50-4-22-8-22-9-15-39-37-21-15-36-20-22-8-23-4-25 0z"/>
<path fill="#00e6ff" d="M1258 136l-16 6-16 9-7 2-23 13-36 27-27 27-11 14-9 28-3 27 3 43 5 23 11 28 8 14 11 13 20 18 31 16 28 9 15 3 39 4 48-2 29-6 26-10 24-14 16-15 16-21 8-25 7-40 1-44-3-24-4-14-10-23-20-22-30-26-34-21-23-11-25-7-17-2-16 0z"/>
<path fill="#00ffff" d="M1259 138l-18 7-34 17-11 7-38 29-18 18-15 18-7 19-5 27 0 23 1 1 1 23 8 35 14 30 11 14 11 11 14 11 31 15 26 8 43 6 51-1 19-3 27-8 25-12 17-12 20-22 7-12 7-24 7-45 0-39-3-21-5-16-9-20-23-24-31-26-32-19-25-11-21-5-34-1z"/>
<path fill="#00ffe5" d="M1258 141l-11 4-37 18-17 11-28 21-29 29-9 12-6 16-5 24 0 31 1 1 1 21 2 12 7 24 16 31 20 21 17 12 16 8 22 8 25 6 17 1 8 2 48 0 24-3 25-7 28-13 11-7 22-22 10-15 7-23 7-42 0-46-3-19-6-18-7-15-18-20-34-29-30-18-18-9-27-8-17-2-16 0z"/>
<path fill="#00ffcc" d="M1260 143l-39 17-24 14-34 26-19 19-14 17-9 27-3 25 2 35 5 27 5 15 10 21 11 15 20 19 11 7 21 10 33 10 39 5 45-1 25-4 14-4 33-15 12-8 15-15 13-17 9-30 6-38 0-43-5-26-11-26-10-12-33-30-19-13-35-19-21-7-19-3-22 0z"/>
<path fill="#00ffb2" d="M1259 146l-48 22-14 9-9 8-6 3-13 10-27 27-10 13-7 20-4 24 0 20 1 1 1 22 7 32 11 25 12 17 20 19 11 7 24 11 27 8 36 5 52-1 26-5 27-10 24-14 19-19 11-16 8-27 6-39 0-39-5-27-6-16-8-14-12-13-21-19-23-17-35-19-20-7-17-3-28 0z"/>
<path fill="#00ff99" d="M1258 149l-44 20-32 22-23 20-17 18-8 11-5 14-5 25 0 26 1 1 1 21 7 30 13 28 9 12 20 19 13 8 17 8 38 11 38 4 44-2 12-2 24-7 20-9 20-13 21-23 6-11 6-20 7-44 0-36-3-20-5-16-11-21-20-20-23-20-31-19-21-10-22-6-17-2-14 0z"/>
<path fill="#00ff80" d="M1257 152l-29 13-27 15-28 21-25 25-11 14-6 17-4 19 1 45 3 19 5 17 11 24 10 14 20 19 13 8 20 9 22 7 42 6 44-1 19-3 21-6 24-11 14-9 21-22 5-7 4-9 7-27 5-35-1-42-7-27-8-17-22-23-23-20-31-19-19-9-26-7-29-1z"/>
<path fill="#00ff66" d="M1259 154l-32 14-26 15-31 24-22 23-9 12-7 22-3 22 2 38 5 24 13 31 11 15 22 20 25 13 28 9 35 5 50-1 18-3 27-9 27-15 11-10 17-21 9-29 5-29 1-40-4-26-9-24-7-10-30-29-17-13-17-9-5-4-30-13-21-4-25 0z"/>
<path fill="#00ff4c" d="M1260 157l-37 16-20 12-32 25-19 20-9 12-7 19-3 15 1 46 5 25 9 23 12 19 22 21 26 14 28 9 35 5 47-1 29-6 16-6 28-16 16-16 11-16 7-23 6-36 0-39-5-25-8-20-12-15-26-24-18-13-31-17-24-8-14-2-22 0z"/>
<path fill="#00ff33" d="M1261 160l-33 14-24 14-24 18-23 23-11 14-7 20-3 16 1 40 5 26 7 19 13 22 23 22 27 14 30 9 31 4 42-1 26-5 22-8 23-13 19-19 9-13 7-22 6-34 0-43-4-20-10-24-10-12-27-25-19-13-25-14-27-9-15-2-17 0z"/>
<path fill="#00ff1a" d="M1262 163l-31 13-22 12-29 22-24 25-6 8-7 18-4 22 1 32 5 28 6 17 13 23 23 22 24 13 28 9 38 5 34-1 28-5 24-9 19-11 17-16 11-15 7-21 6-33 1-33-2-19-3-12-9-22-10-12-27-25-19-13-28-15-19-6-22-3z"/>
<path fill="#00ff00" d="M1260 167l-26 11-24 13-31 24-18 19-9 12-8 25-2 20 2 30 5 24 13 29 11 14 17 15 20 11 30 10 28 4 38 0 31-5 17-6 27-15 17-17 9-13 7-22 5-27 0-12 1-1 0-26-2-16-3-11-9-21-10-12-26-24-14-10-27-15-23-8-13-2-23 0z"/>
<path fill="#1aff00" d="M1261 170l-31 13-22 13-20 15-21 21-11 14-6 15-4 19 1 38 5 25 10 24 12 17 16 15 24 13 28 9 28 4 44-1 24-5 16-6 23-13 14-13 12-16 7-21 6-36 0-32-4-22-9-22-10-12-20-19-22-16-28-15-19-6-14-2-18 0z"/>
<path fill="#33ff00" d="M1261 173l-35 15-31 21-26 25-12 16-5 15-3 15 1 38 4 21 7 19 12 20 21 20 23 12 25 8 27 4 45-1 26-6 34-17 13-12 13-17 7-22 5-27 1-32-4-26-5-14-10-16-28-27-11-8-26-15-21-8-19-3-17 0z"/>
<path fill="#4cff00" d="M1260 176l-26 11-20 11-26 20-19 20-9 12-8 28 0 31 4 27 9 24 10 16 17 17 18 11 27 10 29 5 11 0 1 1 28-1 24-4 22-8 22-13 21-23 8-21 6-31 1-28-4-28-5-14-10-16-27-26-14-10-30-16-16-5-12-2-22 0z"/>
<path fill="#66ff00" d="M1259 179l-30 13-15 9-21 16-18 18-11 14-6 15-4 22 1 27 5 27 4 11 8 16 5 7 17 17 25 14 25 8 28 4 37-1 21-4 17-6 23-13 17-17 8-12 6-19 5-27 0-39-3-15-5-14-10-16-26-25-14-10-28-15-15-5-23-3z"/>
<path fill="#80ff00" d="M1266 180l-18 6-31 16-26 20-17 18-8 11-6 16-3 16 1 33 4 21 5 14 12 21 17 17 25 14 26 8 22 3 30 0 1-1 11 0 19-4 14-5 25-14 13-13 9-12 6-17 6-31 0-37-2-12-5-15-7-13-29-29-14-10-26-14-14-5-19-3z"/>
<path fill="#99ff00" d="M1261 184l-22 9-22 12-20 15-13 13-15 18-5 12-4 17 0 27 4 27 7 19 10 17 17 17 23 13 25 8 31 4 36-2 17-4 18-7 17-10 17-17 8-13 5-16 5-28 0-34-4-19-7-17-8-10-28-26-21-13-17-8-18-5-26-1z"/>
<path fill="#b3ff00" d="M1261 187l-24 10-18 10-21 16-20 21-7 10-4 10-4 18 1 35 4 19 12 27 7 9 15 14 20 11 29 9 29 3 22-1 23-4 19-7 16-9 17-16 7-9 6-16 6-28 1-31-3-20-7-19-7-10-20-20-19-14-22-12-18-6-13-2-16 0z"/>
<path fill="#ccff00" d="M1263 191l-29 12-12 7-21 16-19 20-7 10-6 18-2 15 1 23 3 18 6 17 11 19 14 14 22 13 25 8 21 3 36-1 19-4 18-7 15-9 11-10 11-14 6-17 5-25 1-26-4-25-4-11-8-13-22-22-12-9-17-10-19-8-15-3z"/>
<path fill="#e5ff00" d="M1266 195l-24 9-20 11-17 13-19 20-7 10-4 11-3 15 0 21 4 26 6 16 8 14 17 17 17 10 27 9 25 3 25-1 21-4 11-4 23-13 19-21 6-17 5-25 0-34-3-14-6-15-10-13-19-18-13-9-16-9-20-7-13-2z"/>
<path fill="#ffff00" d="M1264 200l-23 9-16 9-17 13-18 19-7 10-5 16-2 15 1 20 3 17 4 12 7 14 6 8 15 14 14 8 19 7 24 4 25 0 21-3 15-5 14-7 10-7 15-17 6-14 6-28 0-32-2-10-4-12-6-11-19-20-14-11-32-16-15-3z"/>
<path fill="#ffe500" d="M1267 204l-13 4-26 13-17 13-20 22-4 6-6 23 0 20 2 16 6 19 9 16 15 15 13 8 18 7 29 5 34-2 20-6 12-6 9-6 12-12 5-7 6-15 5-25-1-35-4-13-6-12-22-23-21-14-21-9-18-3z"/>
<path fill="#ffcc00" d="M1261 210l-30 14-16 12-10 10-12 15-6 16-2 16 1 18 3 15 7 18 9 13 13 12 17 9 19 6 14 2 26 0 18-3 12-4 18-10 11-10 7-9 7-18 4-21 0-26-2-11-6-16-5-7-20-20-10-7-16-9-18-6-24-1z"/>
<path fill="#ffb300" d="M1261 215l-17 7-15 9-9 7-15 15-8 11-4 10-3 17 1 20 3 15 9 20 6 8 12 11 17 9 8 3 20 4 29 0 16-3 11-4 19-11 12-13 5-9 6-21 2-20-1-18-3-12-5-11-6-8-20-19-18-11-12-5-14-3-17 0z"/>
<path fill="#ff9900" d="M1269 218l-11 3-24 12-13 10-17 19-7 16-2 12 0 12 3 20 3 9 8 15 9 10 9 7 14 7 17 5 16 2 28-2 11-3 15-7 9-6 14-16 5-14 4-20-1-29-7-19-8-10-19-17-28-14-10-2z"/>
<path fill="#ff8000" d="M1269 223l-8 2-20 9-14 10-17 18-6 10-4 17 1 23 5 18 7 13 7 8 10 8 14 7 13 4 15 2 24-1 18-5 10-5 9-6 11-12 5-10 5-20 0-12 1-1-1-16-2-9-6-13-24-24-26-13-10-2z"/>
<path fill="#ff6600" d="M1269 228l-13 4-16 8-13 10-14 16-4 7-4 15 0 16 2 13 4 12 6 11 13 13 10 6 13 5 17 3 16 0 14-2 10-3 15-8 10-9 6-8 4-10 4-19-1-26-3-10-5-9-20-20-11-7-14-6-9-2z"/>
<path fill="#ff4c00" d="M1268 236l-12 4-12 6-14 11-10 12-4 7-3 11 1 26 5 15 4 7 12 12 8 5 13 5 10 2 30-1 12-4 12-7 6-5 7-9 7-22 0-11 1-1-1-14-3-10-5-9-17-17-24-12z"/>
<path fill="#ff3300" d="M1266 245l-13 5-8 5-14 13-5 7-5 14 0 16 2 10 7 15 6 7 8 6 8 4 15 4 26-1 9-3 12-7 11-12 6-20 0-20-2-8-6-11-13-13-8-5-14-6-6-1z"/>
<path fill="#ff1a00" d="M1269 255l-15 6-15 13-6 10-2 9 0 9 3 13 4 8 6 7 7 5 9 4 10 2 13 0 9-2 9-4 6-4 7-8 5-14 1-16-4-14-7-9-8-7-14-7z"/>
<path fill="#ff0000" d="M1273 266l-8 2-8 4-8 7-5 8-2 13 2 10 8 12 14 7 14 1 14-5 8-7 5-12 0-15-2-6-9-11-13-7z"/>
<radialGradient id="vg02"><stop offset="0.648" stop-color="#0000ff" stop-opacity="1.00"/><stop offset="0.688" stop-color="#0060ff" stop-opacity="1.00"/><stop offset="0.727" stop-color="#00ffff" stop-opacity="1.00"/><stop offset="0.766" stop-color="#00ff80" stop-opacity="1.00"/><stop offset="0.805" stop-color="#00ff00" stop-opacity="1.00"/><stop offset="0.857" stop-color="#b0ff00" stop-opacity="1.00"/><stop offset="0.896" stop-color="#ffff00" stop-opacity="0.90"/><stop offset="0.948" stop-color="#ffa000" stop-opacity="0.45"/><stop offset="1.000" stop-color="#ff8000" stop-opacity="0.00"/></radialGradient>
<ellipse cx="1332.0" cy="303.1" rx="38.4" ry="36.3" fill="url(#vg02)"/>
</g>
<clipPath id="cp10"><rect x="96.3" y="535.4" width="459.4" height="435.2"/></clipPath>
<g clip-path="url(#cp10)" fill-rule="evenodd">
<rect x="96.3" y="535.4" width="459.4" height="435.2" fill="#0000ff"/>
<path fill="#001aff" d="M371 582l-9 0-11-3-20-2-9 1-1-1-42-1-15 4-7 0-31 9-12 7-9 2-6 3-4 5-19 14-17 17-4 11-7 11-2 16-5 10-1 19-4 10 1 57 2 15 6 17 1 16 3 7 4 4 4 8 9 25 11 15 11 21 16 17 11 6 18 14 14 2 12 6 10 3 28 2 19-5 17 0 5-2 11-1 11-6 10-2 13-8 14-3 7-5 13-5 17-12 28-14 6-6 12-6 19-23 11-10 6-11 2-8 7-12 5-19 1-18 3-10 1-18-4-10-1-16-5-9-3-12-7-10-9-20-12-13-4-8-18-19-18-10-11-10-20-10-12-3-14-6-20-4z"/>
<path fill="#0033ff" d="M280 579l-9 3-13 1-21 7-8 1-25 12-5 5-22 15-5 7-10 9-4 11-7 12-1 12-6 13 0 9-3 15 0 18-1 1 1 8-1 2 1 8-1 23 3 16 6 15 1 17 9 14 6 20 4 8 10 14 4 9 7 9 2 5 14 15 8 3 20 16 16 3 17 7 20 3 12 0 14-4 11 1 13-3 12-1 8-5 11-3 11-7 15-3 7-5 17-7 20-14 20-9 7-7 12-7 8-10 23-23 5-10 3-10 5-9 3-16 3-7 1-15 3-9 1-17-4-11-1-12-5-9-4-14-8-13-3-11-3-5-34-39-19-11-10-9-12-5-7-5-29-10-10-1-16-5-9 0-5-2-14-2-20 0-12-2-10 1z"/>
<path fill="#004cff" d="M392 594l-49-9-27-1-8-2-12 0-1 1-12-1-8 3-13 0-14 5-21 5-19 10-16 11-6 6-6 3-7 9-8 7-3 5-1 6-7 12-1 11-6 13-2 17-1 72 8 23 1 13 7 13 7 24 18 31 10 10 3 7 11 12 7 3 24 17 31 9 20 3 13-1 9-3 12 1 9-3 16-2 7-4 8-2 13-8 12-2 9-6 9-2 17-10 9-8 25-11 5-6 7-4 20-19 6-8 6-5 7-12 3-11 5-11 2-11 4-11 0-8 4-14 0-18-2-5-1-11-5-10-4-13-10-20-2-9-37-42-18-10-7-7-15-7-6-5z"/>
<path fill="#0066ff" d="M416 605l-28-9-35-5-11-3-27-1-7-2-27 1-4 2-16 0-12 5-19 4-22 12-14 9-10 10-3 1-15 17-2 9-7 11-1 9-6 13-1 6-2 81 8 25 2 13 8 17 5 19 18 31 11 9 1 3 9 9 4 6 10 8 12 5 6 6 13 5 27 7 23 0 4-2 16 0 7-3 16-2 12-4 21-11 10-2 9-6 11-2 10-6 12-11 22-8 10-10 3-1 13-13 7-5 18-22 15-45 1-12 4-17-2-23-6-14-1-6-11-24-4-13-8-11-16-16-5-7-16-12-10-4-9-9-10-4z"/>
<path fill="#0080ff" d="M413 607l-29-9-25-3-22-5-23 0-6-2-26 1-5 2-13-1-18 7-14 3-35 19-28 30-1 6-8 13-2 10-4 7-2 7-2 81 4 10 1 11 3 6 3 15 9 19 4 16 8 12 6 13 26 25 8 10 5 3 8 2 9 9 6 3 20 4 11 4 24 0 4-2 14 0 10-4 10-1 15-4 12-5 7-5 9-2 9-6 14-3 10-6 9-9 24-10 7-8 7-3 21-19 8-13 7-7 3-11 9-22 4-17 0-7 2-7 0-19-1-1 1-9-12-34-6-12-2-8-12-18-23-23-14-9-6-2-11-10-8-3z"/>
<path fill="#0099ff" d="M265 592l-15 6-15 4-34 17-18 18-4 7-7 7-3 9-6 8-3 11-5 10 0 20-1 1 0 19-1 1 1 9-1 36 4 9 0 8 4 10 3 15 9 17 3 14 6 9 3 8 4 7 37 37 9 3 10 10 4 2 20 4 13 5 4-1 17 1 10-3 7 1 19-6 15-2 13-5 11-7 6-1 10-6 17-5 8-5 8-8 24-11 6-7 7-3 20-17 8-14 9-10 5-17 6-14 5-29-1-32-18-49-7-9-4-9-10-8-14-15-15-10-4-1-10-9-11-5-9-7-13-5-12-2-11-4-20-2-19-5-29 0-1-1-24 0-6 2z"/>
<path fill="#00b2ff" d="M340 594l-30 1-8-2-13 0-8 2-19 0-13 6-9 2-15 8-14 5-13 8-11 13-4 7-8 8-5 12-6 9-7 19 1 16-2 6 1 9-2 8 2 12-2 30 4 8 1 12 3 6 4 20 8 13 4 15 10 20 5 7 18 18 6 4 9 10 10 4 7 8 7 4 17 3 12 5 10-1 15 1 5-2 12 0 15-5 15-2 14-5 11-7 8-2 13-7 8-2 10-5 12-10 14-6 12-10 10-5 19-17 8-14 7-7 12-33 0-9 3-8 0-24-1-1 1-17-8-21-2-10-6-10-3-10-5-5-5-11-12-9-10-11-8-5-5-5-9-4-9-8-11-5-9-7-12-4-9-1-16-6-17-1z"/>
<path fill="#00ccff" d="M410 613l-19-4-17-7-17-1-17-5-18 0-8 2-17-3-6 0-7 2-20 0-11 5-9 2-16 9-14 4-12 7-16 21-8 8-6 13-4 5-4 13-4 7 1 14-2 6 0 14-1 1 0 12 1 1-1 35 4 9 1 9 3 7 2 16 2 6 8 12 3 11 5 11 10 17 16 17 6 4 11 11 9 4 9 9 8 3 14 2 10 5 7 1 1-1 19 0 8-2 9 0 17-5 10-1 15-5 11-7 8-2 33-16 5-5 20-10 11-9 10-5 16-14 10-16 7-7 7-22 3-5 1-16 3-5 1-5-2-20 1-18-6-15-3-14-7-11-1-8-7-8-4-9-13-10-21-20-10-5-8-7-9-4z"/>
<path fill="#00e6ff" d="M375 604l-18-1-18-5-15 0-8 2-29-2-11 2-12 0-11 5-10 2-18 10-8 2-13 7-15 19-9 9-11 22-2 9-4 7 0 17-2 6 0 15-1 1 1 3-1 38 8 23 3 22 10 17 1 5 9 20 9 14 30 29 12 6 10 8 14 2 16 7 14 0 10-2 19-1 37-9 13-8 8-2 34-17 4-4 21-11 10-8 10-5 15-14 19-26 4-16 4-9 0-13 4-8-1-23-1-1 1-17-5-12-2-12-8-12-1-8-2-4-5-5-7-12-12-9-19-19-10-5-7-6-12-6-8-6-13-2-12-4z"/>
<path fill="#00ffff" d="M375 606l-19-1-4-2-17-3-9 0-9 2-30-2-6 2-15 1-11 4-11 2-15 9-12 4-10 6-25 27-4 12-7 12-2 8-4 8 0 17-2 10 1 8-1 43 6 16 5 28 7 11 9 23 11 19 12 13 21 19 11 5 8 6 17 3 12 6 9 1 12-3 25-1 23-7 10-1 13-8 13-4 15-9 12-5 7-6 36-20 15-13 10-12 4-8 7-7 8-27 0-10 4-9-1-43-3-6-4-18-8-12-2-9-7-8-5-9-7-7-8-5-16-17-10-5-9-7-7-3-10-7-12-1-5-3-8-2z"/>
<path fill="#00ffe5" d="M371 607l-12 1-8-3-8 0-7-2-31 1-8-2-9 0-17 5-9 0-16 4-28 14-12 8-22 23-4 13-8 14-4 12 0 14-2 8 1 23-2 7 0 23 8 25 4 22 7 12 10 25 6 7 5 10 30 29 12 5 9 6 15 2 15 7 10 0 8-3 10 1 17-2 11-3 8-4 12-1 10-7 12-3 10-5 7-5 13-6 5-5 37-20 23-23 4-8 8-10 4-12 8-36-1-1-1-36-6-24-7-9-3-11-6-7-7-12-6-6-7-4-18-19-24-13-8-6-12-1-7-4-6-1z"/>
<path fill="#00ffcc" d="M369 609l-13 1-4-2-12 0-6-2-34 0-9-2-10 2-8 4-12 0-13 3-23 11-26 20-14 15-3 13-8 12-3 11 0 13-3 12 2 16-3 13 0 14 13 53 6 11 10 25 6 7 6 11 27 27 22 11 18 3 12 6 5 1 9-3 19 0 18-3 14-6 8 0 13-8 12-3 26-14 6-6 24-12 3-3 13-7 20-21 4-9 6-8 5-12 1-8 3-7 4-17-1-28-5-30-3-7-6-7-5-14-7-9-4-8-10-7-16-18-25-13-9-7-12-1-9-5-9-2z"/>
<path fill="#00ffb2" d="M287 607l-16 6-13 0-8 2-23 11-10 9-17 12-11 11-3 6-1 8-7 10-3 7-1 18-3 9 1 23-2 6 0 20 4 13 2 15 4 10 2 10 11 23 4 13 7 8 7 12 11 9 18 19 9 3 11 6 18 3 10 5 30-1 22-4 10-5 7 0 15-8 12-3 24-13 9-8 21-10 6-5 10-5 20-21 10-18 6-15 6-20 0-37-4-14-1-14-8-11-3-9-12-22-6-6-3-1-21-22-20-8-11-8-8-1-13-6-7-1-11-6-11 1-5-2-12 0-7-2-19 0-1-1-10 1-8-2z"/>
<path fill="#00ff99" d="M286 610l-12 5-18 1-25 11-14 12-11 7-12 11-5 8-4 13-6 7-2 7 0 14-4 12 1 23-2 8 0 7 5 22 1 14 6 19 9 18 7 19 15 21 14 11 10 12 7 5 5 1 15 7 14 2 9 4 27 0 6-2 17-2 10-5 9-1 13-7 17-5 17-10 9-8 21-10 17-11 19-20 9-15 13-36 1-33-5-17-2-16-6-8-15-32-6-6-4-2-21-22-10-4-7-1-8-7-6-3-10-2-5-3-12-3-7-4-13 0-5-2-18-2z"/>
<path fill="#00ff80" d="M286 613l-10 4-20 2-19 8-18 14-6 3-17 17-5 8-3 9-8 12 0 15-4 10 1 22-2 8 0 12 4 17 1 16 6 19 11 22 5 14 17 24 12 9 17 17 23 9 11 1 7 3 25 1 11-3 13-1 8-4 13-3 11-6 17-5 16-10 8-7 24-12 15-10 5-7 15-15 9-15 3-11 4-7 1-9 3-6-1-21 2-6 0-8-6-17-1-10-14-26-5-13-33-33-14-3-12-9-38-13-10 0-11-3-10 0-9-2-16 1-1-1z"/>
<path fill="#00ff66" d="M290 615l-11 4-18 2-24 10-22 15-16 17-14 23-3 8 0 12-4 11 1 10-1 30 3 12 1 18 5 18 20 43 14 19 15 12 12 13 9 3 9 5 26 6 21 0 7-2 17-1 13-6 7-1 12-6 19-6 20-15 15-7 25-16 8-11 12-11 9-15 1-6 5-10 1-12 3-5 0-8-2-8 3-10 0-8-14-40-4-5-9-20-18-17-4-2-4-4-3-6-3-2-14-3-14-10-11-3-7-4-16-4-36-5-16 1z"/>
<path fill="#00ff4c" d="M292 618l-13 4-16 2-31 14-16 11-20 23-10 19-1 13-4 11 0 42 2 5 2 26 3 12 7 17 16 33 14 17 15 12 10 11 24 10 6 0 16 4 13-1 6-2 20 0 13-6 12-3 10-5 20-7 12-11 16-7 26-17 7-7 2-4 12-11 6-9 8-19 1-13 3-6-1-20 3-8 0-5-2-9-7-13-4-16-8-12-8-16-15-13-4-2-11-13-11-3-17-11-22-8-26-5-9 0-10-2-29 0z"/>
<path fill="#00ff33" d="M265 627l-11 6-23 9-9 8-6 3-18 22-9 19-2 14-2 4-1 44 2 5 0 13 4 21 10 27 13 26 11 13 11 11 6 4 10 11 18 8 24 6 9 0 14-4 19 1 15-7 12-3 27-11 9-9 17-7 33-24 6-9 8-7 4-6 9-21 1-11 3-8-1-20 3-8 0-9-3-8-6-9-3-14-18-29-19-15-9-11-15-6-6-5-23-10-30-6-60-3-8 3z"/>
<path fill="#00ff1a" d="M270 629l-25 12-13 4-8 8-7 4-15 18-11 24-1 9-2 5-1 42 2 6 0 13 2 11 9 30 5 11 6 9 4 11 13 15 26 24 38 13 10 0 12-4 20 1 13-6 23-7 16-7 13-11 14-5 23-18 6-3 7-7 12-16 11-27 3-13-1-21 3-9 0-9-8-13-4-17-17-25-9-9-11-8-10-11-13-5-6-5-21-9-31-6-28-1-9-2-19 0-8 3z"/>
<path fill="#00ff00" d="M360 633l-20-1-7-2-15 0-8-2-15 0-10 3-17 2-10 6-5 1-11 6-4 0-4 2-11 11-4 2-14 16-4 8-2 8-5 8-3 18 0 44 6 33 9 26 7 10 2 7 6 10 18 19 14 12 10 5 19 5 10 5 9 0 15-4 17 1 22-9 15-4 17-8 12-10 10-3 8-7 12-7 17-14 13-20 10-25 2-11-1-18 2-6 1-12-6-10-4-16-8-16-18-21-12-9-9-10-12-5-14-9z"/>
<path fill="#1aff00" d="M370 639l-12-3-20-1-6-2-16 0-1-1-22 0-11 3-9 0-11 6-8 2-10 6-9 3-24 22-6 11-2 8-6 11-1 11-2 6 0 46 5 26 9 26 5 7 8 18 20 22 17 13 23 7 13 6 5 0 12-3 24-1 22-9 12-3 14-6 14-11 9-3 7-6 18-11 12-11 15-24 8-22 2-43-4-7-1-7-6-12-3-11-21-26-11-8-10-10-9-4-12-8-9-2z"/>
<path fill="#33ff00" d="M386 648l-3 0-18-7-26-3-6-2-24-1-1 1-18 0-6 2-9 0-14 7-6 1-9 6-10 4-12 12-4 2-8 9-10 24-2 10-3 7 0 12 1 1-1 3 0 32 4 22 5 12 2 9 9 16 5 13 13 13 6 9 16 13 17 5 18 8 12 0 38-5 44-18 11-9 6-2 9-7 11-5 13-11 15-21 8-16 4-15 1-36-4-9-1-10-6-10-2-8-21-28-5-5-7-4-8-8z"/>
<path fill="#4cff00" d="M369 645l-40-7-41 1-7 2-6 0-11 6-6 1-24 13-9 10-8 6-6 11-12 34 1 8-1 33 4 27 7 19 14 29 13 13 5 8 7 7 12 8 15 4 17 7 18 0 20-4 9 0 6-2 5-3 32-12 13-10 29-16 10-10 18-27 4-9 3-14 1-32-4-10-1-11-6-10-3-9-6-10-20-23-7-4-9-8-20-10-8-2z"/>
<path fill="#66ff00" d="M286 642l-10 2-9 5-8 2-23 12-16 16-4 6-15 38 2 10-2 9 1 23 3 24 9 23 2 2 9 21 14 14 7 11 12 10 36 12 23 0 10-3 14-1 39-15 13-10 9-4 9-7 10-4 9-8 8-13 9-10 7-16 5-28-1-15-4-11-2-13-11-23-20-25-20-14-29-13-11-3-12-1-7-3-6-1z"/>
<path fill="#80ff00" d="M330 643l-22 0-1 1-23 1-27 10-18 10-16 16-9 15-4 14-6 11 1 9-1 26 4 35 18 41 18 19 3 6 14 12 34 10 20 1 11-3 13-1 15-5 26-11 13-10 8-3 7-6 12-5 6-5 10-16 9-10 3-12 5-10 1-12 2-5-1-16-9-31-8-18-20-24-18-12-19-10-19-6-11-1-10-4-10 0z"/>
<path fill="#99ff00" d="M339 646l-51 1-9 2-29 13-11 7-15 16-8 13-4 14-5 9 1 15-2 8 0 9 2 7 0 14 2 7 0 7 16 39 30 35 7 5 10 2 16 6 15 2 14 0 7-2 6 0 24-7 22-9 13-10 8-3 9-7 13-6 5-5 6-11 10-11 3-8 0-5 6-11 0-7 3-9 0-9-7-28-12-29-20-22-8-4-10-8-17-9-20-6-10-1z"/>
<path fill="#b3ff00" d="M341 649l-31-1-11 2-13 0-36 15-17 14-9 11-6 10-4 14-4 8-1 35 2 6 0 13 2 6 0 7 9 24 7 14 11 14 18 19 6 4 9 2 14 6 15 1 8 2 21-2 13-5 10-2 5-3 15-5 14-11 10-4 6-5 11-5 7-6 8-13 9-10 2-13 6-11 0-7 3-9-3-21-13-36-5-8-18-19-26-17-11-5-7-1-6-3-14-2z"/>
<path fill="#ccff00" d="M283 655l-24 10-12 7-15 14-10 15-8 24-1 33 2 7 0 10 2 12 9 26 6 11 9 13 17 17 9 6 8 2 16 7 9 0 10 2 20-1 43-16 14-11 9-3 19-12 4-4 15-21 2-5 1-9 5-9 0-9 2-7-2-21-10-28-9-16-17-17-24-16-25-9-9-1-9-3-40 0z"/>
<path fill="#e5ff00" d="M282 660l-19 8-15 9-12 11-12 19-5 17 0 17-2 10 4 34 9 25 8 16 8 11 11 10 11 8 14 5 9 5 37 1 10-4 10-2 9-5 16-6 10-8 12-5 15-10 7-7 13-20 1-7 5-12 2-32-6-21-13-25-19-19-19-12-16-7-24-6-44 0z"/>
<path fill="#ffff00" d="M283 665l-18 7-13 8-16 15-8 15-4 12-1 20-1 1 0 17 3 24 17 41 16 17 14 11 8 2 14 7 31 0 20-5 13-7 12-4 11-8 13-6 15-11 6-7 10-17 7-23 1-25-3-13-12-26-14-16-12-11-26-14-17-5-16-2-31 0-6 2z"/>
<path fill="#ffe500" d="M364 673l-25-6-18 0-1-1-1 1-18 0-16 3-23 9-15 12-10 11-8 22-3 20 1 29 6 22 7 14 2 7 6 10 11 11 16 13 8 2 13 6 26 0 19-4 24-10 12-8 13-6 13-10 11-13 9-18 4-14 1-24-4-15-4-7-1-6-7-12-11-13-10-10z"/>
<path fill="#ffcc00" d="M304 671l-18 4-20 8-23 19-3 5-9 29 0 37 4 15 7 18 7 14 12 13 14 12 6 3 18 5 19 1 23-4 25-11 10-7 11-5 21-19 13-27 1-32-2-8-3-4-3-12-5-9-9-12-14-14-6-4-18-9-14-2-9-3z"/>
<path fill="#ffb300" d="M308 675l-22 5-18 8-22 19-10 27-1 37 6 22 11 23 19 20 9 7 5 2 20 4 16 0 22-4 37-19 16-12 9-10 10-20 2-15 0-13-2-13-7-19-9-13-19-19-23-11-6 0-18-5-13 1z"/>
<path fill="#ff9900" d="M308 680l-21 5-16 7-18 16-7 12-5 14 0 18-2 14 4 20 8 18 9 15 14 14 11 7 18 4 14 1 13-3 6 0 10-3 30-16 15-11 11-13 8-18 1-30-5-20-6-10-29-29-12-5-9-1-16-5z"/>
<path fill="#ff8000" d="M304 686l-28 9-11 8-9 10-6 10-4 12-2 34 3 15 14 29 12 13 8 6 12 5 16 3 14 0 19-4 13-6 22-13 14-12 6-8 8-20 1-23-5-19-5-10-6-8-21-20-8-4-27-7z"/>
<path fill="#ff6600" d="M307 691l-11 2-13 5-18 12-8 10-7 20-1 31 4 15 11 23 13 14 14 8 9 3 21 2 16-3 8-3 26-14 9-7 9-10 6-11 5-14 1-16-4-16-5-12-7-10-21-19-8-4-24-6z"/>
<path fill="#ff4c00" d="M312 696l-14 2-9 3-16 10-10 10-8 20-1 28 7 24 10 17 7 7 8 6 18 7 19 1 10-2 16-6 23-14 11-11 6-10 5-16 1-10-3-15-7-17-6-8-13-12-7-5-12-5-20-4z"/>
<path fill="#ff3300" d="M352 711l-27-7-24 2-19 9-14 15-6 18 0 20 2 10 4 12 7 12 8 9 7 5 17 7 16 0 21-6 16-9 19-19 3-7 3-15 0-9-6-19-3-6-11-12z"/>
<path fill="#ff1a00" d="M313 713l-15 4-10 5-11 11-7 17 0 21 4 14 5 10 10 11 9 6 9 3 19 0 8-2 15-7 9-6 10-10 5-9 3-20-7-22-10-12-16-9-12-4z"/>
<path fill="#ff0000" d="M309 726l-14 6-10 11-4 9 0 21 7 17 5 6 15 8 17 1 17-7 8-5 5-5 7-14 1-14-7-17-12-11-15-6-7-1z"/>
<radialGradient id="vg10"><stop offset="0.659" stop-color="#0000ff" stop-opacity="1.00"/><stop offset="0.697" stop-color="#0060ff" stop-opacity="1.00"/><stop offset="0.735" stop-color="#00ffff" stop-opacity="1.00"/><stop offset="0.773" stop-color="#00ff80" stop-opacity="1.00"/><stop offset="0.811" stop-color="#00ff00" stop-opacity="1.00"/><stop offset="0.861" stop-color="#b0ff00" stop-opacity="1.00"/><stop offset="0.899" stop-color="#ffff00" stop-opacity="0.90"/><stop offset="0.949" stop-color="#ffa000" stop-opacity="0.45"/><stop offset="1.000" stop-color="#ff8000" stop-opacity="0.00"/></radialGradient>
<ellipse cx="374.2" cy="753.6" rx="39.6" ry="36.0" fill="url(#vg10)"/>
</g>
<clipPath id="cp11"><rect x="575.4" y="535.4" width="459.4" height="435.2"/></clipPath>
<g clip-path="url(#cp11)" fill-rule="evenodd">
<rect x="575.4" y="535.4" width="459.4" height="435.2" fill="#0000ff"/>
<path fill="#001aff" d="M797 559l-44 6-29 10-17 9-20 13-16 13-19 19-12 14-14 20-13 27-6 18-4 18-1 45 4 18 6 18 8 18 8 13 20 25 19 21 14 13 33 23 31 14 22 7 22 5 16 2 14 0 38-6 36-13 27-16 41-35 11-12 15-20 10-17 10-22 3-9 4-26 0-30-7-36-8-16-10-15-14-16-14-20-13-14-16-13-13-13-31-22-12-6-12-4-35-7z"/>
<path fill="#0033ff" d="M790 563l-29 4-17 4-30 13-18 11-16 12-33 33-19 27-9 18-7 19-6 28 0 13-1 1 1 27 8 29 8 19 7 12 14 19 26 29 20 18 27 18 31 14 40 11 14 2 23 0 34-6 16-5 21-9 14-8 22-16 37-35 19-26 16-32 4-13 3-20 0-14 1-1-1-19-4-23-4-14-13-22-37-47-42-38-22-15-14-7-12-4-22-5-16-2z"/>
<path fill="#004cff" d="M796 566l-42 6-24 8-16 8-19 12-19 15-18 18-12 14-12 17-15 31-8 28-2 18 0 24 1 9 8 28 14 29 20 26 19 21 15 14 25 18 30 15 39 12 17 3 18 1 36-5 31-10 20-10 14-9 29-24 20-20 11-14 12-19 8-16 8-25 3-25 0-15-2-18-6-26-9-16-39-51-38-35-25-18-13-7-12-4-34-7z"/>
<path fill="#0066ff" d="M790 570l-16 3-7 0-22 5-29 13-26 17-29 27-12 14-12 17-13 26-8 25-2 11-1 41 4 18 6 18 12 24 19 25 19 21 16 15 27 19 27 13 24 8 21 5 14 2 20 0 16-2 22-5 22-8 18-9 27-19 34-32 21-29 14-29 3-9 3-18 1-31-2-16-5-22-9-17-11-16-11-12-16-22-40-37-28-19-20-8-16-4-21-3z"/>
<path fill="#0080ff" d="M793 573l-30 4-17 4-27 12-30 20-30 29-12 15-9 14-13 28-7 25-2 20 0 18 1 10 5 20 12 29 20 28 33 35 27 20 30 15 36 11 26 4 11 0 34-5 32-11 31-18 25-21 21-21 8-10 10-15 11-21 8-25 3-33-1-1-1-20-5-23-11-21-21-26-11-16-11-12-17-14-12-12-25-18-11-6-11-4-32-7z"/>
<path fill="#0099ff" d="M788 576l-39 7-30 13-32 22-28 28-18 25-12 25-8 27-2 17 0 26 3 16 6 19 11 23 11 16 11 13 36 36 22 15 30 14 39 11 14 2 20 0 21-3 16-4 22-8 14-7 25-17 31-28 20-25 9-15 10-22 3-9 3-19 0-11 1-1-1-23-7-32-15-25-14-16-16-22-43-39-16-11-13-7-22-7-16-3-22-1-1-1z"/>
<path fill="#00b2ff" d="M785 579l-34 6-16 6-16 8-28 19-31 31-17 24-9 18-8 23-4 23 0 32 4 17 7 20 5 11 10 16 30 35 26 23 30 18 36 13 29 6 34-1 27-6 19-7 14-7 16-10 31-26 18-19 16-23 15-32 5-32-1-27-6-29-14-24-16-19-12-17-19-19-6-4-18-17-22-15-10-5-15-5-36-6z"/>
<path fill="#00ccff" d="M768 584l-18 4-11 4-20 10-17 11-14 11-21 21-13 16-9 14-8 16-10 31-2 13 1 40 4 15 8 21 14 23 25 29 16 16 23 17 29 15 24 8 21 5 27 2 33-5 29-10 14-7 17-11 26-22 15-15 14-18 17-31 5-13 4-26 0-23-4-25-3-11-7-13-32-43-16-17-26-23-18-13-17-9-12-4-24-5-42-1z"/>
<path fill="#00e6ff" d="M798 583l-37 5-12 3-19 8-33 21-30 29-19 26-11 23-8 27-2 35 4 24 12 31 17 25 37 39 24 17 26 13 41 12 14 2 19 0 16-2 21-5 19-7 14-7 26-18 33-31 20-28 13-28 5-27 0-27-6-31-8-16-34-45-34-32-18-14-22-12-31-8-18-2z"/>
<path fill="#00ffff" d="M792 586l-40 7-24 10-33 22-28 28-17 24-13 29-6 25-1 33 7 30 12 26 17 23 18 20 16 15 26 18 26 12 22 7 18 4 33 1 27-5 23-8 16-8 14-9 15-12 29-28 16-22 11-21 5-13 4-22 0-31-5-26-11-22-38-48-30-27-21-15-11-6-11-4-36-7z"/>
<path fill="#00ffe5" d="M801 588l-43 6-20 7-31 18-15 12-17 17-20 26-14 29-7 26-1 38 8 30 13 26 12 16 12 12 5 7 21 20 22 15 28 13 36 10 27 2 23-3 16-4 19-7 14-7 27-19 25-23 11-13 11-16 12-24 4-11 2-11 2-29-5-33-6-15-9-14-15-18-8-12-19-20-32-27-22-13-28-8-13-2z"/>
<path fill="#00ffcc" d="M798 591l-36 5-21 7-16 8-17 11-23 20-18 20-9 13-14 29-7 27-1 34 8 31 11 23 13 18 12 12 5 7 21 20 22 15 23 11 38 11 14 2 17 0 33-6 20-7 14-7 26-18 27-25 19-25 16-33 4-21 1-23-3-23-4-16-8-14-31-41-34-32-22-16-11-6-11-4-29-6z"/>
<path fill="#00ffb2" d="M796 594l-38 6-25 10-33 22-24 24-18 25-11 24-7 28-1 29 4 21 7 20 6 12 14 20 33 35 27 19 26 12 23 7 15 3 29 1 34-7 28-12 25-17 29-27 16-21 15-29 5-19 2-30-3-23-3-12-8-16-30-40-36-34-21-15-20-9-28-6z"/>
<path fill="#00ff99" d="M772 600l-23 6-19 9-13 8-17 13-26 27-13 19-13 30-5 23 0 13-1 1 1 21 10 32 13 23 22 26 17 17 13 10 28 16 19 7 22 6 12 2 26 0 18-3 30-10 26-15 24-20 15-15 11-14 17-31 5-15 3-24 0-12-3-23-4-15-5-9-30-41-14-15-24-21-15-11-17-9-33-8-34-1z"/>
<path fill="#00ff80" d="M772 603l-20 5-28 14-23 17-27 29-10 15-7 14-8 23-3 17 0 32 4 16 8 21 13 21 19 22 18 18 9 7 29 17 40 13 20 3 10 0 23-3 27-8 22-11 17-12 15-13 16-16 8-10 11-17 7-14 6-17 3-23 0-14-6-34-8-15-31-41-29-27-20-15-15-8-16-5-16-3-37-1z"/>
<path fill="#00ff66" d="M792 603l-30 5-27 11-27 18-26 26-15 21-13 30-5 25 0 28 8 29 10 20 16 21 27 28 21 15 27 13 32 9 14 2 16 0 32-6 27-11 23-15 33-31 19-28 10-23 4-27 0-14-5-30-8-17-30-40-32-30-25-17-18-7-27-5z"/>
<path fill="#00ff4c" d="M796 606l-32 5-17 6-12 6-25 17-25 25-15 21-9 19-4 12-4 19 0 33 6 22 9 20 15 21 16 18 15 14 25 17 20 9 32 9 25 2 31-5 13-4 18-8 20-13 30-27 18-24 14-29 4-22 0-26-6-28-13-22-25-32-32-29-25-16-15-5-28-5z"/>
<path fill="#00ff33" d="M777 612l-14 3-14 5-25 14-12 9-28 29-10 15-8 16-5 14-3 12-2 19 2 26 9 27 9 16 24 29 22 20 15 10 16 8 27 9 20 4 24 0 13-2 24-7 24-12 29-23 22-24 9-14 8-16 5-15 3-22 0-12-3-22-3-11-8-15-27-36-31-29-17-12-19-9-28-6-18-1z"/>
<path fill="#00ff1a" d="M797 613l-35 6-23 10-26 18-20 20-17 24-9 20-6 24-1 25 4 22 9 23 14 21 29 31 21 15 25 12 28 8 14 2 16 0 31-6 24-10 25-17 27-26 14-20 11-23 5-25 0-21-5-27-9-17-23-31-9-10-26-23-16-11-12-6-13-4-24-4z"/>
<path fill="#00ff00" d="M807 616l-29 3-17 4-10 4-15 8-16 11-22 21-14 18-12 24-7 25-1 28 4 20 11 26 16 22 24 25 23 16 19 9 22 7 16 3 15 1 28-4 21-7 25-14 25-21 16-18 15-25 7-19 3-28-2-20-6-21-9-15-11-13-7-11-16-17-22-19-21-13-28-8z"/>
<path fill="#1aff00" d="M797 620l-26 4-20 7-25 15-23 21-17 22-10 20-7 25-1 30 7 27 10 20 12 16 26 27 17 12 25 12 30 8 27 1 29-6 23-10 18-12 26-24 15-20 11-22 5-20 1-25-4-24-8-17-24-33-32-30-18-12-17-7-28-5z"/>
<path fill="#33ff00" d="M800 623l-35 6-24 11-21 15-17 17-16 22-6 12-6 17-3 15 0 30 7 24 8 16 23 29 18 17 18 12 29 12 27 6 20 0 25-5 26-11 14-9 26-23 13-16 12-21 7-22 2-25-3-22-5-15-24-35-18-19-20-17-22-13-28-7z"/>
<path fill="#4cff00" d="M777 629l-12 3-12 5-19 11-14 11-22 24-14 24-7 21-2 12 0 26 2 10 7 20 7 13 8 11 26 28 18 13 20 10 31 9 30 1 20-4 17-6 12-6 16-11 23-21 17-23 10-21 4-18 1-20-5-29-6-12-24-33-24-23-24-17-15-6-27-5-20 0z"/>
<path fill="#66ff00" d="M798 629l-29 5-23 10-19 13-22 22-12 17-6 12-6 17-3 17 0 23 6 23 8 17 14 19 21 22 18 13 23 11 25 7 22 2 26-4 10-3 20-9 15-10 25-23 17-24 9-20 3-15 1-20-5-29-7-13-21-29-27-26-17-12-18-8-26-5z"/>
<path fill="#80ff00" d="M797 632l-28 5-22 10-19 13-19 19-13 18-8 17-6 21-1 28 3 15 8 21 16 23 21 22 18 13 18 9 27 8 13 2 14 0 26-5 24-10 20-14 21-20 13-18 9-18 5-19 1-22-4-24-7-15-26-35-23-21-16-11-19-8-22-4z"/>
<path fill="#99ff00" d="M796 635l-23 4-22 9-17 11-21 20-14 19-8 17-6 22-1 24 3 16 9 23 14 20 21 22 18 13 24 11 23 6 25 1 21-4 25-10 19-13 22-21 14-20 8-17 4-16 1-23-4-23-6-13-24-33-25-23-16-11-17-7-20-4z"/>
<path fill="#b3ff00" d="M799 638l-31 6-17 8-20 14-16 16-13 18-10 23-4 20 0 22 6 22 9 18 23 28 10 9 16 11 14 7 26 8 13 2 14 0 22-4 23-9 17-11 21-19 15-20 9-18 5-20 0-26-5-21-10-17-14-19-31-29-16-10-14-5-22-4z"/>
<path fill="#ccff00" d="M784 645l-20 6-21 12-9 7-22 24-11 20-6 18-2 14 0 16 2 11 6 18 13 21 22 24 15 11 20 10 25 7 27 1 11-2 19-6 19-10 16-13 21-23 11-20 5-16 2-21-3-22-6-15-21-30-22-21-12-9-18-9-17-4-30-1z"/>
<path fill="#e5ff00" d="M797 648l-21 4-19 8-20 14-12 12-15 21-7 16-4 16-1 17 2 16 8 22 12 18 21 22 19 13 16 7 18 5 22 2 27-5 22-10 14-10 17-16 12-16 10-21 3-13 1-18-4-24-9-17-18-24-22-20-15-10-16-6-15-3z"/>
<path fill="#ffff00" d="M796 653l-20 4-16 7-20 14-16 17-8 12-9 21-3 14 0 23 4 16 8 17 19 24 12 11 12 8 14 7 12 4 19 4 17 0 16-3 12-4 14-7 15-11 18-18 10-15 8-18 3-18 0-12-4-22-7-13-15-21-23-22-13-9-20-8-22-3z"/>
<path fill="#ffe500" d="M795 658l-21 5-16 8-16 12-13 14-10 15-8 21-2 11 0 20 6 21 8 15 13 16 11 11 16 11 18 8 20 5 23 0 20-5 20-10 16-13 14-15 6-9 10-23 2-13-1-22-3-12-5-10-13-19-15-16-13-11-15-9-16-5-15-2z"/>
<path fill="#ffcc00" d="M802 662l-22 4-12 5-17 11-18 18-8 12-8 19-3 16 0 14 2 11 9 22 13 17 14 14 15 10 23 9 16 3 13 0 16-3 22-9 13-9 13-12 11-14 9-18 4-17 0-18-3-15-7-14-17-23-14-13-14-10-17-7-16-3z"/>
<path fill="#ffb300" d="M805 667l-26 5-19 10-18 16-10 13-7 14-5 19 0 20 5 18 5 10 13 17 12 12 15 10 14 6 15 4 20 1 16-3 19-8 13-9 13-12 11-15 7-14 3-11 1-20-3-17-6-12-16-22-14-13-14-10-15-6-18-3z"/>
<path fill="#ff9900" d="M781 677l-14 7-10 7-13 13-9 13-5 11-4 14 0 23 3 12 6 13 13 17 14 13 13 8 20 7 12 2 12 0 15-3 19-8 10-7 13-12 11-15 5-10 4-14 1-15-3-18-7-14-13-18-15-14-10-7-10-5-16-4-24 0z"/>
<path fill="#ff8000" d="M801 678l-15 3-15 7-9 6-15 15-5 7-9 21-2 11 0 13 2 10 7 17 7 10 13 14 11 8 12 6 17 5 19 1 15-3 16-7 9-6 14-13 10-14 7-17 1-26-2-10-6-12-12-17-15-14-10-7-11-5-14-3z"/>
<path fill="#ff6600" d="M804 683l-19 4-18 10-11 10-8 10-8 16-3 13 0 17 3 12 5 11 14 18 15 12 15 7 18 4 12 0 11-2 19-8 20-17 8-11 7-15 2-9 0-18-3-12-4-8-12-17-15-14-11-7-11-4-11-2z"/>
<path fill="#ff4c00" d="M799 692l-16 5-10 6-10 9-8 10-6 12-3 11 0 19 3 11 5 10 18 20 9 6 15 6 9 2 16 0 15-4 8-4 10-7 10-10 7-10 5-11 2-9 0-16-2-9-11-19-18-18-18-9-11-2z"/>
<path fill="#ff3300" d="M806 700l-14 3-14 8-8 7-7 9-5 10-3 12 0 12 2 9 4 9 8 11 8 8 9 6 13 5 18 2 14-3 12-6 16-15 9-18 1-22-2-7-10-17-15-14-14-7-10-2z"/>
<path fill="#ff1a00" d="M802 712l-17 8-9 9-4 6-5 14 1 17 7 14 8 9 7 5 12 5 18 1 16-6 8-6 7-8 5-9 2-7 0-16-9-18-10-10-6-4-16-5z"/>
<path fill="#ff0000" d="M811 723l-14 4-12 11-5 12 0 12 4 10 9 10 9 5 8 2 7 0 14-5 9-8 6-12 1-10-1-6-4-8-9-10-12-6z"/>
<radialGradient id="vg11"><stop offset="0.659" stop-color="#0000ff" stop-opacity="1.00"/><stop offset="0.697" stop-color="#0060ff" stop-opacity="1.00"/><stop offset="0.735" stop-color="#00ffff" stop-opacity="1.00"/><stop offset="0.773" stop-color="#00ff80" stop-opacity="1.00"/><stop offset="0.811" stop-color="#00ff00" stop-opacity="1.00"/><stop offset="0.861" stop-color="#b0ff00" stop-opacity="1.00"/><stop offset="0.899" stop-color="#ffff00" stop-opacity="0.90"/><stop offset="0.949" stop-color="#ffa000" stop-opacity="0.45"/><stop offset="1.000" stop-color="#ff8000" stop-opacity="0.00"/></radialGradient>
<ellipse cx="758.4" cy="753.7" rx="39.6" ry="36.9" fill="url(#vg11)"/>
</g>
<clipPath id="cp12"><rect x="1054.6" y="535.4" width="459.4" height="435.2"/></clipPath>
<g clip-path="url(#cp12)" fill-rule="evenodd">
<rect x="1054.6" y="535.4" width="459.4" height="435.2" fill="#0000ff"/>
<path fill="#001aff" d="M1174 585l-8 4-12 9-26 26-11 17-11 22-7 21-4 18-4 31 0 38 3 22 5 21 7 20 17 28 12 15 12 11 18 13 23 13 17 8 23 8 34 7 38 1 36-6 22-8 16-8 26-16 13-10 25-23 27-34 17-31 7-34-1-27-2-11-7-22-21-46-18-28-26-31-25-24-21-6-37-6-31 0-10 2-9 0-9-2-31 0-34 6z"/>
<path fill="#0033ff" d="M1183 585l-16 8-22 18-13 14-10 15-12 23-10 33-6 49 2 36 4 22 7 23 7 15 8 13 19 24 16 13 15 10 40 20 26 8 20 4 31 2 1-1 24-1 20-4 27-10 36-21 31-26 12-12 13-16 15-22 9-17 7-26 2-25-6-33-7-19-8-15-7-18-22-35-31-36-15-14-9-4-20-5-34-5-23 0-11 2-13 0-12-2-23 0-32 5z"/>
<path fill="#004cff" d="M1190 586l-21 10-14 11-19 19-13 20-10 20-8 25-4 21-3 29 1 33 3 20 5 20 6 17 9 16 12 17 15 16 25 18 40 20 41 11 17 2 29 0 27-4 27-9 33-18 23-17 34-34 22-32 8-16 4-14 3-19 0-20-3-18-10-29-21-43-20-29-22-25-19-18-11-4-41-8-26-1-24 3-8-2-25-1-32 4z"/>
<path fill="#0066ff" d="M1185 592l-12 6-12 9-20 19-6 8-17 30-10 31-6 43 0 28 5 33 7 24 6 13 12 19 11 14 17 15 13 9 23 13 32 13 38 8 13 0 1 1 27-1 27-5 26-10 34-20 13-10 32-31 15-20 9-14 9-18 7-35-1-20-7-29-21-47-20-31-24-28-21-20-11-4-23-5-20-3-32 0-9 2-15-2-33 0-32 6z"/>
<path fill="#0080ff" d="M1180 598l-7 4-16 13-13 13-10 14-15 29-5 15-5 22-3 24-1 23 1 1 1 23 4 22 8 25 8 15 14 20 12 13 14 11 14 9 27 14 25 9 36 7 36 0 28-5 32-13 19-11 17-12 34-32 22-30 13-26 6-34-3-28-10-30-17-36-22-33-23-26-17-16-23-7-22-4-40-1-15 2-9-2-31 0-29 5z"/>
<path fill="#0099ff" d="M1204 591l-29 13-16 13-13 13-6 8-12 20-6 13-6 18-4 18-4 36 0 17 3 27 4 18 7 21 15 25 18 21 28 20 37 18 38 10 18 2 22 0 24-3 31-10 16-8 24-15 28-24 15-16 12-16 13-21 6-13 6-30-1-24-2-11-6-19-10-20-5-14-10-18-19-27-16-18-18-18-6-4-27-7-29-4-20 0-11 2-12 0-11-2-20 0-18 2z"/>
<path fill="#00b2ff" d="M1193 598l-20 11-11 9-17 18-11 17-9 18-9 30-5 38 0 25 3 24 10 35 15 26 10 13 9 9 27 19 37 18 20 6 20 4 42 1 28-5 30-12 31-19 22-19 16-16 16-21 17-30 6-28 1-12-2-18-8-28-20-43-15-23-28-33-17-16-21-6-29-5-33 0-9 2-12-2-33 0-31 6z"/>
<path fill="#00ccff" d="M1193 601l-14 7-8 6-24 24-18 31-10 32-5 36 0 29 5 32 6 20 6 13 10 16 10 13 9 9 10 8 24 15 20 10 23 8 30 6 29 1 34-5 20-7 16-8 24-15 35-31 19-24 9-14 9-18 5-23 1-21-3-19-4-14-20-45-18-28-12-15-28-29-4-3-21-6-33-5-23 0-10 2-20-2-22 0-27 4z"/>
<path fill="#00e6ff" d="M1195 603l-14 7-8 6-21 20-19 31-5 12-6 21-5 35 1 41 3 18 6 21 5 12 9 15 12 16 10 10 24 17 34 17 15 5 28 6 39 1 28-5 28-11 31-19 21-18 17-17 15-20 10-16 7-15 5-25 0-21-3-17-4-13-22-48-16-24-25-29-16-15-24-7-24-4-35 0-8 2-9-2-35 0-26 5z"/>
<path fill="#00ffff" d="M1197 605l-14 7-8 6-21 20-13 20-8 16-9 30-4 29 0 37 3 20 9 30 16 27 17 19 13 10 18 11 30 14 35 9 32 2 32-4 24-8 34-19 30-25 19-21 17-25 7-14 4-14 3-20 0-9-5-28-17-41-13-23-20-27-27-28-6-4-18-5-31-5-25 0-10 2-16-2-25 0-21 3z"/>
<path fill="#00ffe5" d="M1207 604l-22 10-15 12-14 14-14 22-11 26-6 27-3 29 0 15 5 36 6 20 6 13 18 26 20 18 19 12 22 11 31 10 26 4 35-1 24-5 31-14 18-11 13-10 28-27 19-26 13-27 4-22 0-18-2-13-8-25-18-38-18-27-22-25-16-15-9-3-23-5-25-3-24 1-1 1-36-2-26 3z"/>
<path fill="#00ffcc" d="M1200 610l-12 6-12 9-21 22-16 28-9 29-5 39 2 36 5 23 5 15 13 23 10 13 10 10 21 15 34 17 15 5 23 5 43 1 18-3 26-9 33-19 27-23 14-15 20-29 7-14 5-20 1-26-4-21-15-37-8-16-22-32-19-21-16-14-18-5-32-5-20 0-11 2-19-2-19 0-22 3z"/>
<path fill="#00ffb2" d="M1201 613l-12 6-14 11-13 13-6 8-14 25-9 29-5 38 0 17 2 19 9 35 4 9 12 19 17 19 28 19 27 13 12 4 28 6 33 1 26-4 20-7 34-19 24-20 14-14 11-14 13-20 6-12 5-20 1-27-4-20-16-39-6-12-13-20-10-13-30-31-20-7-30-5-26 0-9 2-14-2-24 0-32 6z"/>
<path fill="#00ff99" d="M1204 615l-18 10-24 23-17 29-9 28-5 38 0 18 2 18 8 32 7 15 7 11 10 13 9 9 26 18 29 14 35 9 41 1 18-3 26-9 31-18 17-14 21-21 12-16 14-24 3-8 4-20 0-21-7-29-17-38-14-22-10-13-29-30-5-3-14-4-28-5-31 0-8 2-9-2-28 0-27 5z"/>
<path fill="#00ff80" d="M1368 615l-22-6-30-4-22 1-1 1-43-1-13 2-22 6-22 10-14 11-16 17-16 28-9 30-4 32 1 30 5 26 8 22 19 28 9 9 13 10 24 14 13 6 30 9 22 3 21 0 16-2 14-3 16-6 32-18 24-20 11-11 14-18 8-12 9-18 3-11 3-23-5-30-13-32-14-26-16-22-27-28z"/>
<path fill="#00ff66" d="M1213 618l-19 9-9 7-18 18-11 17-6 12-6 17-6 34-1 30 3 23 8 28 8 15 13 18 9 9 19 14 31 16 31 9 14 2 31 0 14-2 23-7 30-16 25-20 21-22 15-22 8-16 3-11 3-22-3-24-7-21-19-39-18-25-26-27-5-4-13-4-35-6-19 0-10 2-31-2-23 3z"/>
<path fill="#00ff4c" d="M1366 621l-22-6-29-4-22 1-1 1-9-1-38 1-27 7-20 9-12 9-15 15-13 20-10 24-4 17-3 22 0 32 4 24 6 19 6 12 10 15 16 17 31 20 26 11 33 7 32 0 13-2 20-6 29-15 18-13 28-28 17-25 8-18 4-21 0-16-2-13-8-24-17-35-17-24z"/>
<path fill="#00ff33" d="M1218 624l-22 11-19 17-14 20-7 14-5 14-5 24-2 19 0 18 5 32 5 16 6 12 19 26 12 10 30 18 27 10 26 5 30 0 25-5 25-11 25-16 23-21 20-26 13-27 4-26-3-23-6-19-16-34-18-26-11-12-20-19-11-4-31-6-27 0-1 1-38-1-19 3z"/>
<path fill="#00ff1a" d="M1213 630l-16 9-21 20-16 27-8 25-4 28 0 27 2 15 8 28 14 24 9 11 8 7 24 16 26 12 28 7 36 1 18-3 18-6 32-18 18-15 15-15 12-16 12-21 6-22 1-20-4-21-14-35-17-28-18-21-19-18-30-8-16-2-18 0-10 2-24-2-24 3z"/>
<path fill="#00ff00" d="M1209 636l-7 4-12 10-15 17-13 24-8 29-3 28 3 35 7 24 14 24 8 10 10 9 23 15 24 11 28 7 33 1 23-4 14-5 32-18 28-25 14-18 14-25 5-22-1-26-6-21-15-33-14-21-15-17-19-18-31-8-7-1-30 0-1 1-35-1-25 5z"/>
<path fill="#1aff00" d="M1235 630l-17 6-12 6-9 7-18 19-13 23-8 27-3 23 1 32 3 16 7 21 11 18 13 15 22 16 29 14 18 5 19 3 31-1 26-7 28-15 18-14 18-18 19-28 6-14 4-23-2-22-6-20-15-32-10-15-14-17-22-21-17-5-24-4-22 0-1 1-31-1z"/>
<path fill="#33ff00" d="M1233 634l-25 11-8 6-16 16-9 14-8 17-6 22-3 25 0 15 3 23 7 23 13 22 15 16 12 9 28 15 15 5 25 5 34-1 27-8 24-13 18-14 21-22 17-27 6-19 1-27-3-15-7-19-11-23-14-21-19-21-13-11-17-5-23-4-21 0-1 1-29-1-17 2z"/>
<path fill="#4cff00" d="M1225 640l-16 8-21 19-10 15-7 14-4 12-4 18-2 18 0 18 3 21 4 15 5 12 10 16 16 17 21 14 16 8 14 5 23 5 21 1 27-4 23-9 24-15 21-19 17-22 11-21 5-28-2-18-5-17-14-31-19-27-23-23-11-5-30-6-24 0-1 1-29-1-20 3z"/>
<path fill="#66ff00" d="M1231 641l-21 10-21 20-8 12-9 19-6 24-2 17 0 20 3 20 6 20 10 18 18 20 19 13 23 11 27 7 31 1 18-3 17-6 25-14 18-15 18-20 10-15 7-14 5-27-1-13-6-23-7-14-2-7-9-16-10-14-25-26-6-4-17-5-17-3-28 0-1 1-28-1-13 2z"/>
<path fill="#80ff00" d="M1344 642l-18-4-17-2-20 1-1 1-2-1-25 0-20 4-19 7-12 7-18 17-8 12-8 16-4 12-4 22-1 30 5 27 7 18 17 24 12 10 21 13 22 9 23 5 31 0 15-3 26-11 20-13 23-22 16-23 7-15 4-24-2-19-5-17-14-30-13-19-24-25-5-4z"/>
<path fill="#99ff00" d="M1347 646l-20-5-15-2-52 1-25 6-21 10-15 13-12 16-10 21-5 20-2 16 0 23 2 14 6 21 12 21 9 11 18 14 20 11 28 9 14 2 21 0 18-3 19-7 25-15 21-19 17-23 9-18 4-23-1-15-5-19-13-29-11-17-26-28z"/>
<path fill="#b3ff00" d="M1345 649l-21-5-17-2-19 2-2-1-23 0-12 2-14 4-21 10-20 19-6 9-8 16-7 26-2 30 3 22 6 20 10 17 13 15 18 13 22 11 26 7 29 1 21-4 21-9 19-12 24-23 12-17 8-16 4-18-1-24-5-17-11-25-14-21-23-24z"/>
<path fill="#ccff00" d="M1320 648l-9-1-49 1-11 2-18 6-15 8-17 16-8 12-9 20-5 25-1 25 5 27 7 17 10 15 16 15 26 15 17 6 14 3 23 1 20-3 21-8 22-14 21-20 11-15 10-20 3-15-1-24-5-17-14-29-13-18-19-19-8-5z"/>
<path fill="#e5ff00" d="M1239 659l-19 10-13 12-11 16-8 19-5 28 0 20 4 22 9 21 11 15 14 12 11 7 25 11 18 4 29 0 20-5 15-7 17-11 20-19 12-17 8-16 3-14-1-25-6-19-11-23-12-17-20-20-6-4-9-3-20-4-23 0-1 1-20-1-14 2z"/>
<path fill="#ffff00" d="M1330 660l-27-4-35 1-12 2-16 5-14 7-18 17-13 23-4 13-3 19 0 22 6 27 4 9 10 15 15 14 18 11 18 7 19 4 24 0 18-4 21-10 19-14 18-20 12-21 4-16 0-20-3-13-8-20-7-13-10-14-24-23z"/>
<path fill="#ffe500" d="M1333 666l-25-5-42 1-14 3-11 4-17 10-12 12-6 9-9 21-4 21 0 25 4 19 7 16 10 14 14 12 13 8 23 9 17 3 18 0 16-3 21-9 15-10 16-15 14-20 6-14 3-19-2-16-5-16-9-19-11-16-20-20z"/>
<path fill="#ffcc00" d="M1247 672l-16 8-13 12-9 13-6 13-4 16-2 23 3 22 5 15 11 17 9 9 16 11 15 7 19 5 21 1 14-2 17-6 17-10 18-16 13-18 6-12 3-12 1-12-3-18-6-16-7-14-9-13-13-14-12-9-25-6-20 0-1 1-15-1-14 2z"/>
<path fill="#ffb300" d="M1262 673l-13 4-14 7-14 13-8 12-6 14-4 20 0 24 3 14 6 15 8 12 9 9 13 9 14 7 17 5 27 1 11-2 9-3 23-13 17-16 8-11 7-13 4-15 0-17-3-13-13-28-8-11-20-19-27-7-18 0-1 1-12-1z"/>
<path fill="#ff9900" d="M1325 680l-20-4-36 1-18 5-17 10-9 9-9 14-6 17-2 13 0 20 3 15 5 13 8 12 9 9 15 10 11 5 19 5 24 0 9-2 17-7 15-10 14-14 10-15 5-12 2-11 0-11-5-20-9-19-7-10-18-18z"/>
<path fill="#ff8000" d="M1315 683l-12-2-32 1-20 6-12 7-11 11-10 18-5 23 0 17 5 21 7 13 12 13 12 8 15 7 19 4 14 0 15-3 10-4 12-7 14-12 12-16 6-12 3-17-1-11-4-14-6-14-11-16-13-13-6-4z"/>
<path fill="#ff6600" d="M1317 689l-24-3-1 1-19 0-15 4-14 7-12 12-9 16-5 22 0 15 5 21 9 15 9 9 18 11 21 6 20 0 15-4 15-8 10-8 10-11 10-17 3-12 0-15-7-22-11-18-16-16z"/>
<path fill="#ff4c00" d="M1315 697l-23-3-1 1-16 0-12 3-14 7-11 11-7 12-5 21 0 14 4 17 5 10 13 14 18 10 16 4 16 0 15-4 17-10 12-12 10-17 3-12 0-10-2-10-5-13-11-17-13-12z"/>
<path fill="#ff3300" d="M1275 704l-18 7-14 14-5 10-3 12 1 24 6 14 5 7 16 12 18 6 22-1 19-9 11-10 10-16 3-12-2-18-10-20-16-16-18-5z"/>
<path fill="#ff1a00" d="M1277 715l-11 4-6 4-8 9-6 15-1 13 2 11 7 13 10 9 17 7 21-1 15-8 9-9 4-6 4-10-1-19-7-15-13-13-16-5z"/>
<path fill="#ff0000" d="M1285 726l-9 2-6 3-8 8-5 13 0 12 3 9 5 7 5 4 11 5 11 1 11-3 11-8 5-7 3-8 0-11-5-12-10-11-12-4z"/>
<radialGradient id="vg12"><stop offset="0.662" stop-color="#0000ff" stop-opacity="1.00"/><stop offset="0.699" stop-color="#0060ff" stop-opacity="1.00"/><stop offset="0.737" stop-color="#00ffff" stop-opacity="1.00"/><stop offset="0.774" stop-color="#00ff80" stop-opacity="1.00"/><stop offset="0.812" stop-color="#00ff00" stop-opacity="1.00"/><stop offset="0.862" stop-color="#b0ff00" stop-opacity="1.00"/><stop offset="0.900" stop-color="#ffff00" stop-opacity="0.90"/><stop offset="0.950" stop-color="#ffa000" stop-opacity="0.45"/><stop offset="1.000" stop-color="#ff8000" stop-opacity="0.00"/></radialGradient>
<ellipse cx="1237.9" cy="753.7" rx="39.9" ry="36.9" fill="url(#vg12)"/>
</g>
<clipPath id="cpc0"><rect x="96.3" y="986.0" width="459.4" height="435.2"/></clipPath>
<g clip-path="url(#cpc0)" fill-rule="evenodd">
<rect x="96.3" y="986.0" width="459.4" height="435.2" fill="#cefb43"/>
<path fill="#cdf249" d="M97 987l0 352 8 0 2 2 6 0 10 4 10 10 2 4 0 8 6 4-10 4-2 10-2 2-2-2 0-10-4 0-2-2 10-4 2-4-2-8-10-8-22-4 0 54 4 0 2 2-2 2-4 0 0 20 74 0 2-4 2 4 92 0 0-4 2-2 0-12 2-2 0-12 20-32 34-34 18-10 4-4 4 0 12-6 16 2 26 16 20 16 18 24-4 2-28-28-14-8-6 0-6 4-4 0-4-4 2-10-4-4-4 0-2-2-12 2-16 8-6 6-8 4-34 36-14 24-4 30 282 0 0-88-10 0-2-2 2-2 10 0 0-126-4-2 4-2 0-14-4-2 4-2 0-48-4 0-2-2-12 0-2-2-12 0-2-2-8 0-8-4-6 0-44-20-14-12-4-8-16-18-8-16-4-4 2-2 6 2 6 6 6 12 18 18 4 8 12 10 20 10 4 0 6 4 4 0 14 6 18 2 2 2 24 0 0-78-20 2-4-4 0-8 4-4 8 0 2 2-10 4 0 4 2 2 6 0 2-2 10-2-4 0-6-4 2-2 8 0 0-28-4-2 4-2 0-16-40 0-2 4-2-4-16 0 0 10-2 2-2-2 0-10-90 0 0 4-2 2-2-2 0-4-14 0-2 8-10 12 0 16-2 2-4-10 2-14 8-8 2 0 2-6-128 0 0 14-2 2-2-2 0-14-20 0 0 16 4 4 10 0 4-2 2 2-4 4-14 0-6-6 0-18-16 0-8 6 0 4 12 12 0 4-8 6-4 0-2-2 8-6-12-16 0-8-44 0 0 6-2 2-2-2 0-6-30 0-2 4-2-4zM103 1419l2-2 2 4-2 2zM99 1415l2-2 2 2-2 2zM169 1413l2-2 2 4-2 2zM167 1411l2-2 2 2-2 2zM161 1409l2-2 4 2-2 2zM149 1407l2-2 4 0 2 2-2 2-4 0zM139 1405l2-2 4 2-2 2zM105 1399l2-2 2 2-2 2zM545 1395l2-2 4 2-2 2zM531 1395l2-2 2 2-2 2zM491 1393l2-2 4 2-2 2zM487 1393l2-2 2 2-2 2zM129 1393l2-2 2 2-2 2zM521 1391l2-2 2 2-2 2zM495 1391l2-2 2 2-2 2zM483 1391l2-2 2 2-2 2zM163 1391l2-2 4 0 2 2-2 2-4 0zM515 1389l2-2 2 2-2 2zM499 1389l2-2 2 2-2 2zM127 1389l2-2 2 2-2 2zM113 1389l2-2 2 4-2 2zM503 1387l2-2 6 0 2 2-2 2-6 0zM481 1387l2-2 2 2-2 2zM169 1387l2-2 2 4-2 2zM159 1387l2-2 2 2-2 2zM191 1385l2-2 2 2-2 2zM171 1385l2-2 2 2-2 2zM183 1383l2-2 4 2-2 2zM173 1383l2-2 2 2-2 2zM157 1383l2-2 2 2-2 2zM527 1381l2-2 4 0 2 2-2 2-4 0zM523 1379l2-2 2 2-2 2zM481 1379l2-2 2 2-2 2zM117 1375l2 2 0 6-2 2-2-2 0-6zM117 1375l2-2 2 2-2 2zM145 1373l2-2 2 2-2 2zM483 1371l2-2 2 4-2 2zM525 1367l2-2 18 0 4 6-10 10-2 0-2-2 6-8-2-2-12 0zM443 1365l2-2 4 2-2 2zM509 1363l2-2 2 2-2 2zM515 1361l2-2 2 2-2 2zM485 1367l0-4 4-4 10 4-2 2-8 0-2 4zM537 1347l2-2 10 0 2 2-2 2-10 0zM477 1347l4-2 6 6 0 4-2 2-4 0-4-4zM533 1345l2-2 2 2-2 2zM503 1345l2-2 2 2-2 2zM453 1343l2-2 4 2-2 2zM531 1341l2-2 2 4-2 2zM457 1341l2-2 2 2-2 2zM461 1339l2-2 2 2-2 2zM533 1337l2-2 2 2-2 2zM453 1335l2 2 0 4-2 2-2-2 0-4zM537 1335l2-2 2 2-2 2zM467 1335l2-2 2 2-2 2zM469 1333l2-2 2 2-2 2zM471 1331l2-2 2 2-2 2zM491 1327l2-2 8 0 2 2-2 2-8 0zM505 1325l2-2 2 2-2 2zM509 1321l2-2 2 2-2 2zM471 1321l2-2 2 2-2 2zM481 1317l2-2 2 2-2 2zM463 1313l2-2 2 2-2 2zM451 1311l2 2 0 8-2 2-2-2 0-8zM453 1311l2-2 6 0 2 2-2 2-6 0zM481 1307l2 2 0 4-2 2-2-2 0-4zM509 1305l2-2 2 2-2 2zM483 1305l2-2 2 2-2 2zM507 1303l2-2 2 2-2 2zM489 1303l2-2 2 2-2 2zM497 1301l2-2 6 0 2 2-2 2-6 0zM549 1201l2-2 2 2-2 2zM547 1199l2-2 2 2-2 2zM547 1189l2-2 2 2-2 2zM549 1187l2-2 2 2-2 2zM125 1079l2 2 0 6 6 4 8 12 20 18 0 4 4 8 0 8 2 2 0 30-2 2 0 6-6 12-22 20-10 0-6-4 2-2 8 0 4-2 18-16 6-16 0-18-4-6 0-4 2-2 0-10-4-10-24-24-6 0-4 4-2-2 2-10-6-4 2-2 6 0zM125 1079l2-2 2 2-2 2zM127 1075l2-2 2 4-2 2zM129 1073l2-2 2 2-2 2zM131 1069l2-2 2 4-2 2zM129 1063l4-2 2 4-2 2zM123 1061l2-2 4 2-2 2zM485 1059l2-2 8 0 2 2-2 2-8 0zM115 1059l2-2 2 2-2 2zM501 1057l2-2 4 2-2 2zM507 1055l2-2 2 2-2 2zM509 1051l2-2 2 4-2 2zM147 1049l2-2 4 0 2 2-2 2-4 0zM509 1047l2-2 2 2-2 2zM155 1047l2-2 2 2-2 2zM143 1047l2-2 2 2-2 2zM97 1047l2-2 2 2-2 2zM507 1045l2-2 2 2-2 2zM409 1045l2-2 2 2-2 2zM503 1043l2-2 2 2-2 2zM407 1043l2-2 2 2-2 2zM461 1043l4-4 4 8 18 10-2 2-10-2-14-10zM141 1041l2-2 2 4-2 2zM501 1039l2-2 2 2-2 2zM465 1039l2-2 2 2-2 2zM99 1039l2-2 2 4-2 2zM467 1037l2-2 2 2-2 2zM405 1037l2-2 2 4-2 2zM111 1037l2-2 2 2-2 2zM469 1035l2-2 2 2-2 2zM97 1035l2-2 2 2-2 2zM471 1033l2-2 2 2-2 2zM407 1031l2-2 2 2-2 2zM517 1029l2-2 2 2-2 2zM529 1027l2-2 4 2-2 2zM475 1027l2-2 2 2-2 2zM383 1027l2-2 2 2-2 2zM533 1025l2-2 2 2-2 2zM385 1025l2-2 2 2-2 2zM371 1025l2-2 4 6 4-2 4 2-4 4-6 0-4-4zM121 1025l2-2 2 2-2 2zM535 1023l2-2 2 2-2 2zM477 1023l2-2 2 2-2 2zM409 1023l2-2 2 4-2 2zM123 1023l2-2 2 2-2 2zM537 1021l2-2 2 2-2 2zM387 1021l2-2 2 2-2 2zM539 1019l2-2 2 2-2 2zM489 1021l4-4 2 2-2 4zM487 1019l2-2 2 2-2 2zM407 1019l2-2 2 2-2 2zM193 1019l2-2 4 0 2 2-2 2-4 0zM541 1017l2-2 2 2-2 2zM405 1017l2-2 2 2-2 2zM485 1015l2-2 2 4-2 2zM403 1015l2-2 2 2-2 2zM127 1013l2 2 0 4-2 2-2-2 0-4zM495 1011l2 2 0 4-2 2-2-2 0-4zM143 1011l2 2 0 14-2 2-2-2 0-14zM483 1011l2-2 2 4-2 2zM401 1011l2-2 2 2-2 2zM127 1011l2-2 2 4-2 2zM481 1009l2-2 2 2-2 2zM131 1009l2-2 8 0 2 4-2 2zM551 1007l2-2 2 2-2 2zM479 1007l2-2 2 2-2 2zM475 1005l2-2 2 2-2 2zM399 1003l4 6-2 2-4-4-4 4 0 6-2 2-2-2 0-10 4-4zM247 1005l2-2 2 2-2 2zM165 1005l2-2 8 14 4 2 10 0 2 2-2 2-14 0-8-8zM529 1003l2-2 4 0 2 2-2 2-4 0zM463 1003l2-2 4 2-2 2zM427 1003l2-2 4 2-2 2zM415 1003l2-2 4 0 2 2-2 2-4 0zM323 1003l2-2 2 2-2 2zM163 1003l2-2 2 2-2 2zM525 1001l2-2 2 2-2 2zM457 1001l2-2 2 2-2 2zM433 1001l2-2 2 2-2 2zM405 1001l2-2 4 2-2 2zM321 1001l2-2 2 2-2 2zM161 1001l2-2 2 2-2 2zM535 999l2-2 2 4-2 2zM523 999l2-2 2 2-2 2zM453 999l2-2 2 2-2 2zM435 999l2-2 2 2-2 2zM155 999l2-2 4 2-2 2zM521 997l2-2 2 2-2 2zM451 997l2-2 2 2-2 2zM437 997l2-2 2 2-2 2zM401 997l2-2 4 4-4 2zM151 997l2-2 2 2-2 2zM519 995l2-2 2 2-2 2zM449 995l2-2 2 2-2 2zM439 995l2-2 2 2-2 2zM149 995l2-2 2 2-2 2zM517 993l2-2 2 2-2 2zM447 993l2-2 2 2-2 2zM441 993l2-2 2 2-2 2zM123 993l2-2 4 2-2 2zM117 993l2-2 4 2-2 2zM515 991l2-2 2 2-2 2zM127 991l2-2 2 2-2 2zM115 991l2-2 2 2-2 2zM443 989l4-2 2 4-4 2zM307 989l2-2 2 2 0 8 10 0 2 2-2 2-12 0-4-4zM129 989l2-2 2 2-2 2z"/>
<path fill="#cce950" d="M537 1039l0 4 2 2 6 0 2-2 10-2-4 0-6-4-8 0zM399 987l-12 0 0 8-2 4-8 6 0 4-2 2 0 10 2 4 6 0 4-6 0-16 12-6zM229 987l0 16 4 4 10 0 6-4 0-16zM215 987l-6 8 0 6 6 4 6 0 2-4 0-14zM151 987l0 6 4 4 8 2 6 6 4 10 6 4 14 0 10-4 4-4-12-16 0-8zM97 987l0 46 4 2-2 4-2-2 0 8 2-2 2 2 0 2-4 2 0 286 18 2 12 6 8 8 4 16 8 4-2 2-12 0-4 6 0 8 2 4-2 2-6-8 0-6-2 0-2 10-4 6-2-2 0-4 2-2 0-10 6-6 8-2 2-4-2-8-10-8-22-4 0 54 6 0 2 2-2 2-6 0 0 10 4 0 2 2-2 2-4 0 0 6 6 0 0-4 2-2 2 2 0 4 64 0-2-2 0-6-4-4 2-2 6 4 2 10 92 0 0-4 2-2 0-12 2-2 0-12 20-32 34-34 18-10 4-4 4 0 12-6 16 2 26 16 20 16 18 24 4 0 2 2-2 2-20 0-20-20-4-2-24 0-12-6-8-8-8 0-12 6-22 22 0 2-24 22-8 16-2 24 274 0 0-26-10 0-2-2 2-2 10 0 0-20-4 0-16 10-10 0-2-2 2-2 8 0 6-8-2-2-14 0-2-2 10-4 20 0 4 2 0-30-10 0-2-2 2-2 10 0 0-126-6 0-6-6 0-8 2-2 2 2 0 6 4 4 4 0 0-14-4 0-2-2 2-2 4 0 0-48-4 0-2-2-12 0-2-2-12 0-2-2-8 0-8-4-6 0-44-20-14-12-4-8-16-18-8-16-10-12 4-10 2 2 0 10 8 4 10 2 16 14 8 0 8-4-6-6 0-4 6-8 8-4 2 2-4 4 0 4 14 10 4 0 2 2 14 0 2 2-2 2-16 0-2 2-8 0-4 4-2 24 10 10 28 12 6 0 2 2 14 2 2 2 14 0 2-2 4 0 6-4 0-62-24 0-4-6 4-10 4-4 20 4 0-28-2 2-4-2 6-4 0-16-16 0 0 10-2 2-2-2 0-10-20 0 6 8-2 2-2 0-8-8 0-2-12 0 0 6-2 2 0 24-4 6-8-6-4-8 2-4 4 4 2 6 2 2 2-2 0-30-90 0 0 8 8 6-6 4 0 4 6 10-2 2-12-14-4 4 0 6-4 8-8 8-6 0-4-4-2-12-2-2 2-14 8-8 2 0 2-6-72 0 2 2 0 8 10 0 4 4-2 2-16 0-4-4 2-4 0-8-52 0 0 20-6 6-4 2-22 0-12 6-8 0-2 2-8 0-2 2-20 0-6-6 0-12-4-4-8-2-4-4 0-10-14 0-2 4-2-4-10 0 2 4 8-2 2 2-4 4-8 0-6-8zM101 1417l2-2 2 2-2 2zM157 1409l2-2 6 0 2 2-2 2-6 0zM137 1405l2-2 4 0 2 2 10 0 2 2-2 2-12 0zM135 1403l2-2 2 2-2 2zM133 1401l2-2 2 2-2 2zM105 1399l2-2 4 2-2 2zM535 1397l2-2 6 0 2 2-2 2-6 0zM131 1397l2-2 2 2-2 2zM109 1397l2-2 2 2-2 2zM531 1395l2-2 2 2-2 2zM111 1395l2-2 2 2-2 2zM525 1393l2-2 2 2-2 2zM491 1393l2-2 4 2-2 2zM485 1393l2-2 4 2-2 2zM129 1393l2-2 2 4-2 2zM521 1391l2-2 2 2-2 2zM495 1391l2-2 4 2-2 2zM483 1391l2-2 2 2-2 2zM513 1389l2-2 4 2-2 2zM499 1389l2-2 2 2-2 2zM503 1387l2-2 6 0 2 2-2 2-6 0zM481 1387l2-2 2 4-2 2zM197 1387l2-2 2 2-2 2zM191 1385l2-2 4 2-2 2zM159 1385l2-2 2 4-2 2zM183 1383l2-2 4 0 2 2-2 2-4 0zM157 1383l2-2 2 2-2 2zM185 1381l-2 2-6 0-8 10-4 0-4-4 2-2 6 0 6-8 8 0zM521 1379l2-2 4 2-2 2zM155 1379l2-2 2 2-2 2zM153 1377l2-2 2 2-2 2zM483 1373l2 2 0 4-2 2-2-2 0-4zM151 1375l2-2 2 2-2 2zM521 1371l2 2 0 4-2 2-2-2 0-4zM145 1373l2-2 4 0 2 2-2 2-4 0zM521 1369l2-2 2 2-2 2zM513 1361l2-2 4 2-2 2zM537 1347l2-2 10 0 2 2-2 2-10 0zM503 1345l2-2 2 2-2 2zM475 1347l8-4 4 4 0 4 4 8 4 2 16 0 2 2-2 2-22 0-4 10-2-2 0-12-8-8zM531 1341l2-2 6 6-4 2zM459 1339l2-2 4 2-2 2zM533 1339l2-4 4 2-4 4zM463 1337l2-2 2 2-2 2zM537 1335l2-2 4 2-2 2zM467 1335l2-2 2 2-2 2zM469 1333l2-2 2 2-2 2zM471 1329l2-2 2 4-2 2zM491 1327l2-2 10 0 2 2-2 2-10 0zM505 1325l2-2 2 2-2 2zM487 1325l2-2 2 2-2 2zM453 1323l2 2 0 12 6 4-4 4-6-4 0-16zM485 1323l2-2 2 2-2 2zM509 1321l2-2 2 2-2 2zM483 1321l2-2 2 2-2 2zM471 1321l2-2 2 2-2 2zM469 1319l2-2 2 2-2 2zM481 1317l2-2 2 2-2 2zM465 1315l2-2 2 2-2 2zM463 1313l2-2 2 2-2 2zM453 1311l2 2-4 10-2-2 0-8zM511 1311l2-2 2 4-2 2zM453 1311l2-2 6 0 2 2-2 2-6 0zM481 1305l2 2 0 6-2 2-2-2 0-6zM509 1305l2-2 2 2-2 2zM481 1305l2-2 4 2-2 2zM507 1303l2-2 2 2-2 2zM487 1303l2-2 4 2-2 2zM495 1301l2-2 10 0 2 2-2 2-10 0zM547 1189l2-4 4 2-4 4zM129 1073l2 4-4 4 0 6 6 4 8 12 20 18 0 4 4 8 0 8 2 2 0 30-2 2 0 6-6 12-22 20-10 0-10-6 18-10 10-10 4-8 0-18-4-6 2-26-4-8-14-16-4-2-8 2-2-2 4-6 0-6-12-6 2-2 8 0 4-2zM129 1061l4 0 2 2 0 8-4 4-2-2 2-6-4-4zM117 1061l2-2 8 0 2 2-2 2-8 0zM113 1059l2-2 4 2-2 2zM501 1057l2-2 4 0 2 2-2 2-4 0zM111 1057l2-2 2 2-2 2zM153 1047l2-2 4 2-2 2zM111 1045l2 2 0 6-2 2-2-2 0-6zM509 1043l6 4 0 6-4 4-4-2 4-6-4-4zM157 1045l2-2 2 2-2 2zM99 1039l2-2 2 4-2 2zM505 1033l4 10-2 2-2 0-4-6zM469 1035l2-2 2 2-2 2zM111 1035l2-2 2 4-2 2zM505 1033l2-2 2 2-2 2zM471 1033l2-2 2 2-2 2zM507 1031l2-2 2 2-2 2zM113 1031l2-2 2 2-2 2zM517 1029l2-2 4 0 2 2-2 2-4 0zM115 1029l2-2 2 2-2 2zM475 1027l2-2 2 2-2 2zM117 1027l2-2 2 2-2 2zM537 1021l2 4-4 4-4 0-2-2zM477 1023l2-2 2 2-2 2zM537 1021l2-2 2 2-2 2zM411 1019l2 2 0 8-2 2-2-2 0-8zM539 1019l2-2 2 2-2 2zM541 1017l2-2 2 2-2 2zM441 1019l4-4 4 6-2 2-4 0zM543 1015l2-2 2 2-2 2zM545 1013l2-2 2 2-2 2zM547 1011l2-2 2 2-2 2zM129 1009l2 2-4 12-6 4-2-2 4-4 0-4zM549 1009l2-2 2 2-2 2zM479 1007l2-2 2 2-2 2zM135 1005l6 0 6 6-2 30 2 4 8 4-2 2-8-2-4-6 0-30-2-2-8 0-2-2zM473 1005l2-2 4 2-2 2zM459 1003l2-2 6 0 2 2-2 2-6 0zM427 1003l2-2 4 0 2 2-2 2-4 0zM411 1003l2-2 8 0 2 2-2 2-8 0zM323 1003l2-2 2 2-2 2zM525 1001l2-2 2 2-2 2zM455 1001l2-2 4 2-2 2zM537 997l2 2 0 4-4 4-4 0-4-4 2-2 6 0zM523 999l2-2 2 2-2 2zM521 997l2-2 2 2-2 2zM433 1001l12-14 2 0 10 12-4 2-8-6-8 8z"/>
<path fill="#c9df57" d="M97 1417l0 6 4 0 0-4zM537 1341l6 4 4-2 10 0 0-6-16 0zM553 1187l-4 4 0 6 4 4 4 0 0-14zM537 1039l0 4 2 2 6 0 2-2 10-2-4 0-6-4-8 0zM383 1007l-2 0-4 6 0 8 2 2 6-4 0-10zM517 987l0 2 12 12 6 0 2-4 0-10zM403 987l0 8 8 6 10 0 2 2-2 2-12 0-2 2 0 4 8 12-2 10-2 2 4 6 10 2 14 6 6 0 8-4 8-8 6-2 6-6 2 4-8 8 0 4 14 10 4 0 2 2 14 0 2-2 4 0 4-6-6-4-4-6 4-6 2 2 0 4 12 10 0 6-12 6-10 0-2 2-8 0-4 2-6 8 0 14 2 4 6 6 12 6 12 2 2 2 8 0 10 4 10 0 6-6 2-10-12-20 14-14 0-4-20-2-4-6 6-10 0-8-12 0-2-2 2-2 10 0 12-10 2 4-4 4 0 4 8 4 10 0 0-24-4 2-4-2 8-6 0-16-16 0 0 14-8 8-2 0-14-14-6-2-4-6-6 0 0 6-4 8 0 10 2 2 0 4-2 2 0 4-4 4-4 0-2-2-6-14-4-4 4-2 6 6 2 6 2 2 2-2 0-30zM505 1033l2-2 2 2-2 2zM507 1031l2-2 4 0 2 2-2 2-4 0zM473 1029l2-2 2 2-2 2zM475 1025l2-2 2 4-2 2zM477 1021l2-2 2 4-2 2zM541 1017l2-2 2 2-2 2zM543 1015l2-2 2 2-2 2zM439 1017l4-4 4 0 4 8-4 4-4 0-4-4zM545 1013l2-2 2 2-2 2zM547 1011l2-2 2 2-2 2zM469 1005l2-2 6 0 2 2-2 2-6 0zM423 1005l2-2 4 2-2 2zM427 1003l2-2 4 0 12-14 2 0 10 12 10 2 2 2-2 2-10 0-10-8-12 8-6 0zM397 987l-8 0 0 8 2 2 6-4zM229 987l0 16 4 4 10 0 6-4 0-16zM221 987l-4 2-2 10 4 0 2-2zM151 987l0 6 4 4 8 2 6 6 4 10 6 4 14 0 10-4 4-4-12-16 0-8zM119 987l2 2 6 0 0-2zM97 987l0 46 2 0 4 6-2 8-4 2 0 280 16 2 16 8 12 14 0 12 4 4 4 0 8 6-2 4-4-4-4 0-2-2-12 0-4 6 0 8 4 8-2 2-8-10-2 0-6 8-2-2 0-4 2-2 0-10 6-6 8-2 2-4-2-8-10-8-22-4 0 54 8 0 8-6 2 2 0 2-8 6-10 0 0 10 4 0 6 6 0 4 62 0 0-6-8-6-24-2-4-6 2-4 4 4 4 0 2 2 10 0 2 2 8 0 8 6 2 10 92 0 0-4 2-2 0-12 2-2 0-12 20-32 34-34 18-10 4-4 4 0 12-6 16 2 26 16 20 16 18 24 6 0 2 2-6 4-8 0-12 8-6 0-18-16-8-4-8 0-2-2-22 0-2 2-4 0-8 6-26 12-12 8-12 12-2 4 0 8-2 2 0 10 2 4 256 0 0-2 6-4 0-20-8 0-2 2-12 0-2-2 2-2 22-2 0-18-4 0-14 8-14 0-6-4 0-8 2-2 2 2 0 6 4 2 8 0 6-6-2-4-14 0-2 2-2-2 2-4 14-2 2-2 18 0 0-14-18 2-8-6 2-6 6-4 18-2 0-14-4 0-2-2 2-2 4 0 0-106-2-2-6 0-4-4 0-12 6-6 6-2 0-46-4 0-2-2-12 0-2-2-12 0-2-2-8 0-8-4-6 0-12-6-4 0-34-18-28-34-8-16-8-8-2-6 4-8 0-8-12-14-4 4 0 6-4 8-8 8-6 0-4-4-4-20 2-2 0-6 8-8 2 0 2-6-72 0 2 2 0 8 10 0 6 6-2 4-4-4-2 2-14 0-4-6 2-4 0-8-50 0 2 24-6 8-16 6-8 0-2-2-18 0-2 2-8 0-2 2-14 0-10 4-4 0-6-6 0-4-2-2 2-12-12-6-2-14-12 0-6 8-8 0-6-8zM135 1419l2-2 2 4-2 2zM131 1397l2-2 2 4-2 2zM529 1395l2-2 4 2-2 2zM525 1393l2-2 2 2-2 2zM519 1391l2-2 4 2-2 2zM511 1389l2-2 4 0 2 2-2 2-4 0zM499 1389l2-2 4 2-2 2zM503 1387l2-2 6 0 2 2-2 2-6 0zM481 1387l2-2 2 4 6 4 6-4 4 2-4 4-8 2-8-6zM197 1387l2-2 2 2-2 2zM191 1385l2-2 4 2-2 2zM479 1383l2-2 2 4-2 2zM157 1381l2-2 6 8 12-10 10 2 6 4-2 2-14-2-8 10-4 0-6-6zM155 1379l2-2 2 2-2 2zM513 1361l2-2 4 2-2 2zM503 1345l2-2 2 2-2 2zM473 1349l6-6 6 0 8 16 4 2 14 0 2 2-2 2-22 0-6 16-2-2 2-14-2-4-6-4zM489 1327l2-2 14 0 2 2-2 2-14 0zM505 1325l2-2 4 2-2 2zM487 1325l2-2 2 2-2 2zM485 1323l2-2 2 2-2 2zM509 1321l2-2 2 4-2 2zM483 1321l2-2 2 2-2 2zM473 1319l2 2 0 10-8 6-2-2 6-6 0-8zM469 1319l2-2 2 2-2 2zM481 1317l2-2 2 4-2 2zM467 1317l2-2 2 2-2 2zM465 1315l2-2 2 2-2 2zM461 1309l6 4-2 2-4 0-2-2-4 2 0 18 2 4 4 0 2-2 4 2-12 8-4-4 0-18-2-2 0-8 6-4zM513 1305l2 2 0 12-2 2-2-2 0-12zM481 1305l2 2 0 8-2 2-4-8zM481 1305l2-2 4 2-2 2zM485 1303l2-2 4 0 2 2-2 2-4 0zM493 1301l2-2 14 0 4 6-2 2-4-4-12 0zM159 1043l2-2 2 2-2 2zM111 1041l2 2 0 12 6 4 8 0 8 4 0 8-8 10 0 6 6 4 8 12 20 18 0 4 4 8 0 8 2 2 0 30-2 2 0 6-6 12-22 20-10 0-10-6 16-22 4-10 0-34 2-2 0-10-6-14-8-8-10 0-2-2 6-8 0-6-12-6 4-4 10-2 6-6 2-6-6-4-6 0-8-6 0-14zM113 1031l2 2 0 4-2 2-2-2 0-4zM113 1031l2-2 2 2-2 2zM115 1029l2-4 4 2-4 4zM131 1005l6 0 2-2 6 0 4 6 0 16-2 2-2 10 2 2 0 4 4 2 8-2 2 2-4 4-8 2-4-2-4-6 0-30-2-2-8 0-4 12-4 4-4-2 4-6 0-6z"/>
<path fill="#c6d55e" d="M97 1419l0 4 4 0-2-4zM141 1415l0 8 28 0-2-2 0-4-8-6-14 0zM125 1391l-4 0-12 12-12 0 0 10 4 0 6 6 0 4 24 0 4-14-4-10zM523 1377l4 2 8 0 6-8-2-2-14 0-2 2zM97 1345l0 54 8 0 8-6 0-4 2-2 0-10 6-6 8-2 2-6-2-2 0-4-6-6-10-4zM539 1341l2 2 16 0 0-6-12 0zM553 1187l-4 4 0 6 4 4 4 0 0-14zM485 1069l-2 4 0 10 2 4 10 8 6 0 2 2 14 0 6-4 0-20-4-8-4-2-20 0zM537 1039l0 4 2 2 6 0 2-2 10-2-4 0-6-4-8 0zM153 1023l-4 4 0 4-2 2 0 6 4 4 4 0 4-4 0-8zM383 1013l-2 0 0 6 2-2zM557 1009l-16 14 0 6 10 4 6 0zM557 987l-14 0-2 16-6 6-6 0-6-8-12-8-8 0-4 6 0 22-8 8-4-2-2-6-4-4 0-4-6-6-20-2-6-4-6 0-10 6-24 0 0 4 6 10-2 16 4 4 8 0 8 4 16 0 24-16 2 4-8 8 0 4 20 12 14 0 2-2 4 0 4-6-8-6-2-4 2-4 6-6 8 0 2 2-2 2-6 0-2 2 0 4 10 8 4 0 6-8 0-8-10 0-2-2 2-2 10 0 4-2 22-22 2 0zM473 1029l2-2 2 2-2 2zM475 1025l2-2 2 4-2 2zM477 1021l2-2 2 4-2 2zM479 1019l2-2 2 2-2 2zM443 1011l4 0 4 4 0 8-4 4-4 0-6-6 0-4zM517 987l0 2 12 12 6 0 2-4 0-10zM403 987l0 8 8 6 10 0 2 2 10-2 10-10 0-2 4-2 10 12 10 2 2 2 8 0 10 8 4 8 2-2 0-30-68 0-2 4-4-4zM393 987l0 4 2 0 0-4zM229 987l0 16 4 4 10 0 6-4 0-16zM151 987l0 6 4 4 8 2 6 6 4 10 6 4 14 0 10-4 4-4-12-16 0-8zM97 987l0 46 2 0 4 6-2 8-4 2 0 276 18 0 16 8 14 14 4 8-4 10 8 4 6 6 4 8 4 0 6-6 6-2 20 10-2 2-4 0-2-2-14-2-8 10-4 0-14-18-4 0-2-2-12 0-4 6 0 8 6 12 4 4 30 6 4 4 2 10 92 0 0-4 2-2 0-12 2-2 0-12 20-32 34-34 18-10 4-4 4 0 12-6 8 0 2 2 10 2 4 4 18 10 20 16 18 24 6 0 2 2-4 4-4 0-8 4-6 6-2 10-2 2 2 2 0 6-6 6-8-6-8-16-12-12-8-4-18 0-2 2-4 0-22 12-4 4-10 4-14 10-4 10 0 12 2 2 210 0 2-2 4 0 2 2 20 0 6-8 4 0 0-18-14 2-2 2-2-2-6 0-6-4 2-2 4 0 2 2 22-2 0-16-4 0-16 8-14-2-6-6 2-8 6-6 6 0 2-2 24 0 0-14-18 2-8-6 2-6 6-4 18-2 0-12-8 0-2-2 4-6 6 0 0-104-10-2-4-6 2-12 6-6 6 0 0-46-4 0-2-2-12 0-2-2-12 0-2-2-8 0-8-4-6 0-12-6-4 0-34-18-28-34-8-16-8-8-2-6 4-8 0-8-12-14-4 4 0 6-4 8-8 8-6 0-4-4-4-20 2-2 0-6 8-8 2 0 2-6-72 0 2 2 0 8 10 0 6 6-2 4-2-2-18 2-4-4 0-16-48 0 2 14 8 12 0 6-12 10-12 6-12 0-4-4-10-4-12 0-8 4-20 0-8 6-2 6-10 8-8-2-4-6 0-30-2-2-8 0-4 12-12 10-2-2 0-2 8-8 2-10 6-6 10-2 6-4 0-12-12 0-6 8-8 0-6-8zM523 1393l2-2 4 2-2 2zM517 1391l2-2 4 0 2 2-2 2-4 0zM197 1387l2-2 2 2-2 2zM503 1345l2-2 2 2-2 2zM479 1341l6 0 2 2 2 8 6 8 4 0 2 2 16-2 2 2-8 4-22 0-6 16 2 8 6 4 14-8 6 0 2 2 4 0 2 2-2 2-6 0-2-2-2 2-4 0-8 6-8 0-6-6-2-4 2-24-10-10 0-4zM485 1323l2-2 4 4 14 0 2-2 4 2-4 4-8 0-4 2-2-2-4 0zM483 1321l2-2 2 2-2 2zM481 1317l2-2 2 4-2 2zM467 1317l2-2 2 2-2 2zM461 1309l8 6-2 2-4-2-6 0-2 2 0 12 2 2 0 4 6 0 8-6 0-6-2-2 2-4 4 4 0 10-6 6-14 8-4-4 0-18-2-2 0-8 6-4zM491 1301l2 2-2 2-8 2 0 8-2 2-4-6 0-4 8-6zM493 1299l14-2 6 4 2 4 0 16-4 4-2-2 2-4 0-12-4-4-14 0-2-2zM111 1037l2 2 0 16 6 4 8 0 8 4 0 8-8 10 0 6 6 4 8 12 20 18 0 4 4 8 0 8 2 2 0 30-2 2 0 6-6 12-22 20-10 0-10-6 2-18 2-2 2-14 2-2 0-14 2-2 4-28-2-2-2-10-6-6-8-4 6-8 0-6-12-6 4-6 6 0 10-8 0-4-2-2-12-2-4-4 0-20zM113 1031l2 2 0 4-2 2-2-2 0-4z"/>
<path fill="#c5cb64" d="M143 1419l0 4 24 0-2-8-4-2-16 0 0 4zM125 1393l-4 0-10 10-14 2 0 8 4 0 6 6 0 4 20 0 6-10 0-8-2-2 0-4zM523 1377l4 2 8 0 6-8-2-2-14 0-2 2zM97 1345l0 54 8 0 8-6 0-4 2-2 0-10 6-6 8-2 2-6-2-2 0-4-6-6-10-4zM543 1339l0 2 14 0 0-2zM459 1315l-2 2 0 16 4 2 10-8 0-4-6-6zM553 1187l-4 4 0 6 4 4 4 0 0-14zM495 1067l-6 8 2 6 8 6 10-2 2-2 0-12-4-4zM537 1039l0 4 2 2 6 0 2-2 10-2-4 0-6-4-8 0zM529 1033l-4-2-4 2-8 0-4 6 10 6 4 0 4-4zM151 1031l-2 2 0 6 4 2 2-2 0-6zM557 1011l-4 0-10 10-2 4 2 4 4 2 10 0zM557 987l-14 0 0 12-2 2 0 4-8 6-4 0-10-12-8-4-8 0-4 8 0 10 2 4-2 2 0 4-8 8-6-4 0-6-4 0-2-2 0-8-6-4-18 0-6-4-6 0-4 4-28 0 0 6 6 12-2 2 0 10 8 4 20 4 10-4 6-6 4 0 10-6 2 4-8 8 0 4 20 12 14 0 2-2 4 0 4-6-8-6-2-4 2-4 6-6 8 0 2-2 10 0 4-2 22-22 2 0zM479 1019l2 4-6 8-2-4zM441 1009l8 0 4 6 0 8-4 4-8 0-4-4 0-10zM517 987l0 2 12 12 6 0 2-4 0-10zM403 987l0 8 8 6 10 0 2 2 10-2 10-10 0-2 4-2 10 12 10 2 2 2 8 0 10 8 4 8 2-2 0-30-20 0-2 4-2 0-2-4-40 0-2 4-6 0-2-4zM229 987l0 16 4 4 10 0 6-4 0-16zM151 987l0 6 4 4 8 2 6 6 4 10 6 4 14 0 10-4 4-4-12-16 0-8zM97 987l0 46 2 0 4 6-2 8-4 2 0 272 4-2 14 0 2 2 6 0 16 10 18 18 2 8-6 6 0 4 6 4 2 8 4 4 4-2 2-6 4-4 14 6 10 8-2 2-4 0-2-2-14-2-8 10-4 0-14-18-4 0-2-2-12 0-4 6 0 8 6 12 4 4 30 6 4 4 2 10 92 0 0-4 2-2 0-12 2-2 0-12 20-32 34-34 18-10 4-4 4 0 12-6 8 0 2 2 10 2 4 4 18 10 20 16 18 24 6 0 2 2-4 4-12 6-4 6 0 14 2 2 0 6-12 14-6 0-8-8-8-20-10-10-4-2-18 0-12 6-22 22-4 6-2 12 190 0 2-4 8 0 2 4 16 0 4-8 8-2 0-14-20 2-10-6 2-2 4 0 2 2 22-2 0-14-10 2-6 4-14 0-10-6 0-8 6-8 14-2 2-2 18 0 0-12-18 2-8-6 2-6 6-4 18-2 0-10-8 0-4-4 0-4 2-2 10-2 0-38-6 0-4-4 2-4 8 0 0-56-10 0-4-4 0-14 6-8 8-2 0-44-4 0-2-2-12 0-2-2-12 0-2-2-8 0-8-4-6 0-12-6-4 0-34-18-28-34-8-16-8-8-2-6 4-8 0-8-12-14-4 4 0 6-4 8-8 8-6 0-4-4-4-20 2-2 0-6 8-8 2 0 2-6-72 0 2 2 0 8 10 0 6 6-2 4-10 0-2 2-8 0-6-4 0-12 2-2 0-4-46 0 0 10 2 4 6 6 8 2 8 8 0 6-4 4-8 2-26 14-14 0-16-12-6 0-12 8-8-6-8-2-2 2-4 0-14 16-8 2-4-2-4-6 0-30-2-2-8 0-4 12-12 10 0 4-2 2 0 16 6 4 8 0 8 4 0 8-8 10 0 6 6 4 8 12 20 18 0 4 4 8 0 8 2 2 0 30-8 20-22 20-10 0-10-6-2-4 0-12-2-2 2-24 2-2 0-10 2-2 2-20 2-2-2-4 0-8-8-10 6-10 0-6-12-6 0-6 2-2 10 0 6-6 0-4-14-4-4-6 0-4 2-2 0-14 2-2 0-4 8-10 4-12 10-6 8-2 2-2 2-12-12 0-6 8-8 0-6-8zM523 1393l2-2 4 2-2 2zM517 1391l2-2 4 0 2 2-2 2-4 0zM197 1387l2-2 2 2-2 2zM503 1345l2-2 2 2-2 2zM477 1341l6-2 6 6 2 8 6 6 4 0 2 2 14-2 2 2-8 4-22 0-6 16 2 8 6 4 14-8 6 0 2 2 4 0 2 2-2 2-12 0-12 8-4 0-8-6-2-4 0-14 2-2 0-6-10-12 0-8zM461 1309l14 12 0 10-6 6-14 8-4-4 0-18-2-2 0-8 6-4zM475 1307l8-6 6 0 8-4 12 0 6 6 0 20-6 6-18 2-8-8 0-2 2-2 6 6 14 0 4-2 2-4 0-12-4-4-14 0-2 2-4 0-4 2 0 8 2 2-2 4-4-4z"/>
<path fill="#c3c16a" d="M145 1419l0 4 22 0-2-6-6-4-10 0zM125 1395l-4 0-6 6-8 4-10 0 0 8 4 0 6 6 0 4 16 0 0-2 8-8 0-12zM347 1415l0 8 54 0 0-8-2-2-2-14-2-4-12-10-14 0-4 2-10 10zM167 1375l-4 0 0 4 2 2 2-2zM523 1377l4 2 8 0 6-8-2-2-14 0-2 2zM97 1345l0 54 8 0 8-6 0-4 2-2 0-10 6-6 8-2 2-6-2-2 0-4-6-6-10-4zM459 1317l-2 2 0 10 2 4 4 0 6-4 0-8-6-4zM483 1307l0 8 8 10 14 0 4-2 2-4 0-12-4-4-14 0zM553 1187l-4 4 0 6 4 4 4 0 0-14zM537 1039l0 4 2 2 6 0 2-2 10-2-4 0-6-4-8 0zM511 1035l0 4 6 4 6 0 4-4 0-6-12 0zM557 1011l-10 6-4 6 0 4 6 4 8 0zM413 1009l0 6 4 6 0 10-2 4 6 4 6 0 10 4 8 0 12-8 12-4 6-6 4-8 0-4-8-6-16 0-2 2 0 6 2 2-2 8-4 4-6 0-4-2-4-6 0-8 2-2-2-2-12 0-2-2zM557 987l-14 0 0 14-2 4-10 8-4-2-12-14-6 0-2-2-6 4 0 22-2 4-8 8-2 0-4-4 0-6-4-2-6 12-8 8 0 4 14 10 4 0 2 2 14 0 2-2 4 0 4-6-8-6-2-4 2-4 6-6 8 0 2-2 10 0 4-2 22-22 2 0zM517 987l0 2 12 12 6 0 2-4 0-10zM403 987l0 8 8 6 10 0 2 2 10-2 10-10 0-2 4-2 10 12 10 2 2 2 8 0 10 8 4 8 2-2 0-30-18 0-4 6-4-2-2-4-36 0-4 6-4 0-6-6zM229 987l0 16 4 4 10 0 6-4 0-16zM151 987l0 6 4 4 8 2 6 6 4 10 6 4 14 0 10-4 4-4-12-16 0-8zM97 987l0 46 2 0 4 6-2 8-4 2 0 268 4 0 2-2 18 0 14 6 20 14 14 14 6 14 10 10 14 10-2 4-20-4-8 10-4 0-14-18-4 0-2-2-12 0-4 6 0 8 6 12 4 4 30 6 4 4 2 10 92 0 0-4 2-2 0-12 2-2 0-12 20-32 34-34 18-10 4-4 4 0 12-6 8 0 2 2 10 2 4 4 18 10 20 16 18 24 6 0 2 2-6 6-8 4-4 6 0 12 4 8-10 22 88 0 4-6 10 0 4 6 10 0 0-4 6-6 8-2 0-12-14 2-2 2-26-12-8 0-12 8-8 0-8-8 0-26-10-10 0-6 10-10 6 0 4 4 2 8 4 6 4 2 16 0 2-2 2 2-2 4-4 0-2 2-22 0-6 20 2 4 6 4 14-8 6 0 24 10 22-2 0-12-8 0-6 4-10 2-2-2-10-2-6-6 0-4 4-6 8-6 30-4 0-10-18 2-8-6 2-6 6-4 18-2 0-10-12 0-2-2 0-6 6-4 8 0 0-38-12 0-2-2 0-4 6-4 8 0 0-52-12-2-4-6 0-8 4-10 6-4 6 0 0-44-4 0-2-2-12 0-2-2-12 0-2-2-8 0-8-4-6 0-12-6-4 0-34-18-28-34-8-16-8-8-2-6 4-8 0-8-12-14-4 4 0 6-4 8-8 8-6 0-4-4-4-20 2-2 0-6 8-8 2 0 2-6-72 0 2 2 0 8 10 0 6 6-2 4-12 2-2 2-10 0-4-4 2-20-44 0 0 8 6 8 12 2 4 4 8 2 6 6 0 4 2 2 0 18-6 6-8 0-12-8-24 10-14 0-8-4-8-8-10 0-6 6-6 0-10-10-8 0-16 16-8 2-4-2-4-6 0-30-2-2-8 0-4 12-12 10 0 4-2 2 0 16 6 4 8 0 8 4 0 8-8 10 0 6 6 4 8 12 20 18 0 4 4 8 0 8 2 2 0 30-8 20-22 20-10 0-12-8 0-4-6-12 0-26 2-2 2-26 2-2 0-10-2-2 0-10-2-4 6-6 2-10-12-6 0-8 2-2 10 0 4-6-2-2-10-2-4-4 0-12 2-2 0-12 4-10 6-6 0-6 8-8 14-6 2-4 0-8-10 0-6 8-8 0-6-8zM197 1387l2-2 2 2-2 2zM503 1345l2-2 2 2-2 2zM461 1309l14 12 0 10-6 6-14 8-4-4 0-18-2-2 0-8 6-4zM509 1295l8 10-2 20-12 6-14 0-8-10-6-12 0-4 4-4 14-2 6-4z"/>
<path fill="#c2b86c" d="M147 1419l0 4 18 0 0-4-4-4-12 0zM125 1397l-4 0-12 8-12 0 0 8 4 0 6 6 0 4 14 0 0-4 8-6 2-4 0-6zM373 1393l-8 8 0 4-2 2 2 14 2 2 18 0 4-6 0-6 2-2-2-10-6-6zM523 1377l4 2 8 0 6-8-2-2-14 0-2 2zM97 1345l0 54 8 0 8-6 0-4 2-2 0-10 6-6 8-2 2-6-2-2 0-4-6-6-10-4zM461 1317l-4 8 2 2 0 4 6 0 4-4 0-4zM483 1307l0 8 8 10 14 0 4-2 2-4 0-12-4-4-14 0zM493 1313l2-2 4 0 2 4-2 2-4 0zM553 1187l-4 4 0 6 4 4 4 0 0-14zM537 1039l0 4 2 2 6 0 2-2 10-2-4 0-6-4-8 0zM513 1035l0 4 6 4 8-6-2-4zM553 1013l-8 8 0 6 2 2 10 2 0-18zM477 1011l-10-4-10 2-2 2 0 14-8 6-2-2-4 0-6-6 0-10-4-4-16 0 0 6 4 10-2 2 0 8 16 6 14 0 10-8 14-4 6-10zM557 987l-12 0 0 10-2 2 0 4-2 4-8 6-6 0-8-12-8-4-6 0-4 6 0 12 2 2-2 2 0 4-10 10-4 0-2-2-2-10-2 0-6 12-8 8 0 4 14 10 4 0 2 2 14 0 2-2 4 0 4-6-8-6-2-4 2-4 6-6 8 0 2-2 10 0 4-2 22-22 2 0zM517 987l0 2 12 12 6 0 2-4 0-10zM403 987l0 8 8 6 10 0 2 2 10-2 10-10 0-2 4-2 10 12 10 2 2 2 8 0 10 8 4 8 2-2 0-30-16 0-4 6-6 0-4-6-34 0 0 4-2 2-8 0-4-6zM255 987l2 10 4 4 10 0 16 8 6-2 4-10 0-10zM229 987l0 16 4 4 10 0 6-4 0-16zM151 987l0 6 4 4 8 2 6 6 4 10 6 4 14 0 10-4 4-4-12-16 0-8zM97 987l0 46 2 0 4 6-2 8-4 2 0 264 6 0 2-2 18 0 2 2 6 0 16 8 18 12 12 12 6 10 0 4 4 8 14 18-2 4-8-4-14-2-8 10-4 0-14-18-4 0-2-2-12 0-4 6 0 8 6 12 4 4 30 6 4 4 2 10 92 0 0-4 2-2 0-12 2-2 0-12 20-32 34-34 18-10 4-4 4 0 12-6 8 0 2 2 10 2 4 4 18 10 20 16 18 24 6 0 2 2-8 8-2 0-6 8 0 12 4 10-6 10-2 10 82 0 4-6 4 0 2-2 10 2 4 4 8-8 12-4 0-8-20 2-8-6-16-6-10 2-6 6-4 0-2 2-6-2-6-6 0-4-2-2 2-20-12-12 2-8 8-8 8-2 4 4 2 8 6 8 4 2 10 0 2-2 4 0 2 2-2 4-4 0-2 2-22 0-6 20 2 4 6 4 14-8 6 0 24 10 22-2 0-12-4 0-14 6-10 0-10-4-4-4 0-6 6-10 8-4 28-2 0-10-18 2-8-6 2-6 6-4 18-2 0-8-10 0-6-4 0-6 4-4 12-2 0-34-16 0-2-2 0-6 2-2 10-4 6 0 0-50-10 0-6-6 0-14 2-4 6-6 8-2 0-42-4 0-2-2-12 0-2-2-12 0-2-2-8 0-8-4-6 0-12-6-4 0-34-18-28-34-8-16-8-8-2-6 4-8 0-8-12-14-4 4 0 6-4 8-8 8-6 0-4-4-4-20 2-2 0-6 8-8 2 0 2-6-72 0 2 2 0 8 10 0 6 6 0 4-22 8-4 4-2 18-4 10-8 8-10 2-2 2-4 0-6-4-6 0-2-2-14 0-2 2-4-2-10 0-20-12-8 6-6 0-4-2-8-10-10 0-14 14-8 2-4-2-4-6 0-30-2-2-8 0-4 12-12 10 0 4-2 2 0 16 6 4 8 0 8 4 0 8-8 10 0 6 6 4 8 12 20 18 0 4 4 8 0 8 2 2 0 30-8 20-22 20-10 0-12-8-10-18 0-6-2-2 0-12 2-2 0-10 2-2 0-18 2-2 0-22 10-14 0-6-12-6-2-4 0-8 2-2 4 2 8 0 2-4-4-2-8 0-4-6 0-4 2-2 0-10 2-2 0-12 10-16 0-4 6-6 8-4 4 0 6-8 0-6-10 0-6 8-8 0-6-8zM141 1387l2-2 4 0 2 2 0 4-2 2-4-2zM503 1345l2-2 2 2-2 2zM461 1309l14 12 0 10-6 6-14 8-4-4 0-18-2-2 0-8 6-4zM507 1293l10 8 0 22-10 8-10 0-2 2-4 0-8-8-10-20 4-4 12-2 12-6z"/>
<path fill="#c0af6c" d="M149 1419l0 4 16 0-2-6-4-2-6 0zM129 1403l-4-4-4 0-8 6-16 0 0 8 4 0 6 6 0 4 12 0 2-8 8-6zM523 1377l4 2 8 0 6-8-2-2-14 0-2 2zM97 1345l0 54 8 0 8-6 0-4 2-2 0-10 6-6 8-2 2-6-2-2 0-4-6-6-10-4zM461 1319l-2 2 0 8 4 2 4-2 0-8zM483 1307l0 8 8 10 14 0 4-2 2-4 0-12-4-4-14 0zM491 1313l8-4 4 6-4 4-4 0zM553 1187l-4 4 0 6 4 4 4 0 0-14zM537 1039l0 4 2 2 6 0 2-2 10-2-4 0-6-4-8 0zM525 1035l-4-2-4 2-2 4 6 2zM557 1013l-6 2-4 4-2 6 4 4 8 0zM415 1011l4 10 0 14 10 4 6 0 2 2 12-2 8-8 8 0 4-2 6-6 0-4 2-2 0-4-4-4-14 0-2 2 0 12-2 2 0 4-2 2-10 0-10-8 0-10-2-2-4 0-2-2zM557 987l-12 0 0 14-2 4-12 10-4 0-4-4 0-4-8-8-10 0-4 8 2 2 0 12-4 6-8 8-4 0-4-4 0-10-2 0-6 12-8 8 0 4 14 10 4 0 2 2 14 0 2-2 4 0 4-6-8-6-2-4 2-4 6-6 8 0 2-2 10 0 4-2 22-22 2 0zM517 987l0 2 12 12 6 0 2-4 0-10zM403 987l0 8 8 6 10 0 2 2 10-2 10-10 0-2 4-2 10 12 10 2 2 2 8 0 10 8 4 8 2-2 0-30-14 0-6 8-4 0-6-8-32 0-6 8-8-2-4-6zM257 987l0 8 4 4 14 0 8 6 6 0 4-4 4-10-2-4zM229 987l0 16 4 4 10 0 6-4 0-16zM151 987l0 6 4 4 8 2 6 6 4 10 6 4 14 0 10-4 4-4-12-16 0-8zM97 987l0 46 2 0 4 6-2 8-4 2 0 262 2-2 8 0 2-2 16 0 2 2 6 0 12 6 4 0 4 4 10 4 12 8 14 16 8 16 0 6 2 2 0 6 4 10-4 2-8-4-14-2-8 10-4 0-14-18-4 0-2-2-12 0-4 6 0 8 6 12 4 4 30 6 4 4 2 10 92 0 0-4 2-2 0-12 2-2 0-12 20-32 34-34 18-10 4-4 4 0 12-6 8 0 2 2 10 2 4 4 18 10 20 16 18 24 6 0 2 2-12 12-4 10 4 8 0 12-4 6-2 10 40 0 8-6 6 6 26 0 6-8 20 0 8-6 10-2 0-4-18 2-20-12-14 0-10 8-8 0-10-12 0-22-12-12 2-2 0-4 12-12 8-2 4 6 0 6 4 8 8 4 6 0 2-2 6 0 2 2-2 4-4 0-2 2-22 0-6 16 0 4 4 6 4 2 14-8 6 0 24 10 22-2 0-10-6 0-8 4-16 0-8-4-6-6 0-4 6-8 8-6 6 0 2-2 22 0 0-10-18 2-8-6 2-6 6-4 18-2 0-8-14 0-4-4 0-4 4-6 4-2 10 0 0-34-4 2-16 0-6-8 6-6 4 0 2-2 14 0 0-50-14 0-4-8 4-18 6-6 8-2 0-40-4 0-2-2-12 0-2-2-12 0-2-2-8 0-8-4-6 0-12-6-4 0-34-18-28-34-8-16-8-8-2-6 4-8 0-8-12-14-4 4 0 6-4 8-8 8-6 0-4-4-4-20 2-2 0-6 8-8 2 0 2-6-72 0 2 2 0 8 10 0 6 6 0 4-4 4-12 6-4 6-8 26-14 14-4 0-2 2-12 0-8-4-12 0-2-2-14 0-2-2-14-2-6-4-14 0-6-4-10-12-10 2-12 12-8 2-4-2-4-6 0-30-2-2-8 0-4 12-12 10 0 4-2 2 0 16 6 4 8 0 8 4 0 8-8 10 0 6 6 4 8 12 20 18 0 4 4 8 0 8 2 2 0 30-8 20-22 20-10 0-8-4-14-16-6-14 0-20 2-2 0-12 2-2 2-24 4-10 10-12 0-6-6-4-4 0-4-4 0-4-2-2 0-14 2-2 0-8 2-2 2-24 8-10 2-8 4-4 8-4 4 0 6-6 2-8-10 0-6 8-8 0-6-8zM141 1385l2-2 4 0 4 4 0 4-2 2-4 0-4-4zM503 1345l2-2 2 2-2 2zM461 1309l14 12 0 10-6 6-14 8-4-4 0-18-2-2 0-8 6-4zM517 1297l0 28-8 6-20 2-14-20-2-10 6-4 8 0 14-8 8 0z"/>
<path fill="#bea56c" d="M151 1419l0 4 12 0 0-4-2-2-8 0zM127 1403l-2-2-4 0-4 4-20 2 0 6 4 0 6 6 0 4 12 0 0-8 8-8zM523 1377l4 2 8 0 6-8-2-2-14 0-2 2zM97 1345l0 36 4 2 0 6-4 2 0 8 8 0 8-6 0-4 2-2 0-10 6-6 8-2 2-6-2-2 0-4-6-6-10-4zM461 1321l0 8 4 0 2-2 0-4-2-2zM483 1307l0 8 8 10 14 0 4-2 2-4 0-12-4-4-14 0zM491 1315l4-6 6 0 4 4-4 6-6 0zM553 1187l-4 4 0 6 4 4 4 0 0-14zM537 1039l0 4 2 2 6 0 2-2 10-2-4 0-6-4-8 0zM517 1037l0 2 6 0 0-4-4 0zM553 1015l-6 6 0 6 10 2 0-14zM417 1013l4 10 0 4-2 2 2 6 12 2 2 2 10 0 4-2 0-4-4 0-12-8-2-12-2-2-10 0zM461 1009l-4 4 0 16 12 0 6-8 0-8-4-4zM557 987l-12 0 0 16-8 10-10 4-4-4-4-10-8-4-4 0-4 4 0 12 2 2-2 2 0 4-10 12-6 2-4-4 0-10-2-2-6 12-8 8 0 4 14 10 4 0 2 2 14 0 2-2 4 0 4-6-8-6-2-4 2-4 6-6 8 0 2-2 10 0 4-2 22-22 2 0zM517 987l0 2 12 12 6 0 2-4 0-10zM403 987l0 8 8 6 10 0 2 2 10-2 10-10 0-2 4-2 10 12 10 2 2 2 8 0 10 8 4 8 2-2 0-30-14 0 0 4-4 4-8 0-6-8-30 0 0 4-4 4-8 0-6-8zM131 1011l-4 12-12 10 0 4-2 2 0 16 6 4 8 0 8 4 0 8-8 10 0 6 6 4 8 12 20 18 0 4 4 8 0 8 2 2 0 30-8 20-22 20-10 0-8-4-20-20-2-8 0 126 4-2 10 0 2-2 18 0 2 2 6 0 2 2 10 2 28 16 22 22 6 14 0 14-2 2 0 6-4 6-10-4-14-2-8 10-4 0-14-18-4 0-2-2-12 0-4 6 0 8 6 12 4 4 30 6 4 4 2 10 92 0 0-4 2-2 0-12 2-2 0-12 20-32 34-34 18-10 4-4 4 0 12-6 8 0 2 2 10 2 4 4 18 10 20 16 18 24 6 0 2 2-14 18 0 8 4 6 0 10-4 6-2 10 34 0 0-2 8-6 8 0 4 4 0 4 22 0 6-8 4 0 2-2 14 0 4-6-14-10-10-4-10 0-14 10-8-2-8-10 0-22-4-6-6-2-4-4 6-12 16-12 0-4-10-18-4-4 0-4 4-4 14-2 4-4 0-8 6-6 4 0 2-2 4 0 6 6 0 6 4 4 0 18-2 2 2 10-6 8-10 0-2 2-10 2 0 10 8 12 18 0 2 4-8 4-22 0-6 20 2 4 6 4 14-8 6 0 24 10 22-2 0-10-22 6-2-2-8 0-12-8 0-6 8-12 10-4 26-2 0-8-18 2-8-6 2-6 6-4 18-2 0-6-10 0-2-2-4 0-4-4 0-4 8-8 12 0 0-32-10 0-8 4-8 0-12-14 2-10 4-4 14 8 18-2 0-46-14 0-4-4 0-18 2-2 0-4 6-6 10-2 0-40-4 0-2-2-12 0-2-2-12 0-2-2-8 0-8-4-6 0-12-6-4 0-34-18-28-34-8-16-8-8-2-6 4-8 0-8-12-14-4 4 0 6-4 8-8 8-6 0-4-4-4-20 2-2 0-6 8-8 2 0 2-6-72 0 2 2 0 8 10 0 6 6 0 6-8 6-14 26-2 8-8 12-8 8-52-2-2-2-14 0-2-2-6 0-16-8-10-10 0-2-10-8-8 4-10 10-8 2-4-2-4-6 0-30-2-2zM139 1387l4-4 6 0 4 6-4 6-4 0zM503 1345l2-2 2 2-2 2zM461 1309l14 12 0 10-6 6-14 8-4-4 0-18-2-2 0-8 6-4zM121 1045l4-6 4 4-4 4zM281 987l0 4-2 2 2 8 4 2 6-2 4-8 0-6zM257 987l0 6 4 4 8 0 4-4 0-6zM229 987l0 16 4 4 10 0 6-4 0-16zM151 987l0 6 4 4 8 2 6 6 4 10 6 4 14 0 10-4 4-4-12-16 0-8zM141 987l-8 0-6 8-8 0-6-8-16 0 0 46 2 0 4 6-2 8-4 2 0 98 0-10 2-2 0-6 2-2 2-10 16-20 0-6-6-4-4 0-4-4-2-10-2-2 2-14 4-8 2-24 6-8 2-6 8-8 8-2 6-4z"/>
<path fill="#b7996b" d="M161 1419l-4-2-4 2 0 4 8 0zM97 1407l0 6 4 0 6 6 0 4 10 0 2-16zM523 1377l4 2 8 0 6-8-2-2-14 0-2 2zM97 1345l0 34 6 4 0 6-6 4 0 6 8 0 8-6 0-4 2-2 0-10 6-6 8-2 2-6-2-2 0-4-6-6-10-4zM461 1323l0 2 4 2 0-4zM483 1307l0 8 8 10 14 0 4-2 2-4 0-12-4-4-14 0zM497 1307l8 4 0 4-6 6-6-2-4-4 0-2zM557 1275l-12 2-18 12-8 16 0 22-4 4-18 2-6 4 2 12 4 6 4 2 12 0 2-2 4 6-8 4-22 0-6 16 0 4 4 6 4 2 14-8 6 0 24 10 22-2 0-8-8 0-8 4-10 0-2-2-10-2-8-8 0-4 12-14 12-2 2-2 20 0 0-8-18 2-8-6 2-6 6-4 18-2 0-6-14 0-6-4 0-8 6-6 4-2 10 0zM503 1345l2-2 2 2-2 2zM553 1187l-4 4 0 6 4 4 4 0 0-14zM537 1039l0 4 2 2 6 0 2-2 10-2-4 0-6-4-8 0zM557 1015l-8 4-2 4 2 4 8 0zM419 1013l0 4 2 2 0 12 4 4 4 0 2 2 14 0 2-2-2-2-4 0-8-6-4-14-4 0-2-2zM473 1011l-8-2-6 4 0 14 2 2 6 0 6-6 2-4 0-6zM557 987l-10 0 0 10-4 10-12 10-8 0-2-2-2-10-4-4-8 0-4 6 2 4 0 10-4 6-10 10-6 0-4-6 2-2 0-6-2-2-6 12-8 8 0 4 14 10 4 0 2 2 14 0 2-2 4 0 4-6-8-6-2-4 2-4 6-6 8 0 2-2 10 0 4-2 22-22 2 0zM517 987l0 2 12 12 6 0 2-4 0-10zM403 987l0 8 8 6 10 0 2 2 10-2 10-10 0-2 4-2 10 12 10 2 2 2 8 0 10 8 4 8 2-2 0-30-12 0-2 6-8 4-4-2-6-8-28 0 0 2-10 8-2-2-4 0-6-8zM131 1011l-4 12-12 10 0 4-2 2 0 16 6 4 8 0 8 4 0 8-8 10 0 6 6 4 8 12 20 18 0 4 4 8 0 8 2 2 0 30-8 20-22 20-10 0-12-6-18-16 0 112 4-2 8 0 2-2 32 0 2 2 10 2 16 8 30 22 10 12 6 14 0 14-4 8-10 8-4 0-8-4-6 0-2-2-6 0-8 10-4 0-14-18-4 0-2-2-12 0-4 6 0 8 6 12 4 4 30 6 4 4 2 10 92 0 0-4 2-2 0-12 2-2 0-12 20-32 34-34 18-10 4-4 4 0 12-6 8 0 2 2 10 2 4 4 18 10 20 16 18 24 6 0 2 2-12 16 0 12 4 6 0 6-6 12 0 6 28 0 4-6 8-4 8 0 6 6 0 4 20 0 0-4 8-6 10 0 8-4 0-2-8-8-14-6-6 0-14 10-10 0-6-6-4-10 0-8 2-2-2-10-16-8 6-10 18-16 0-6-14-24 6-6 10 0 4-4-2-10 2-4 10-10 2 0 6-8 4-10 2-14 8-12 10-10 2 0 2 2 0 6-6 12 0 6 4 10 8 6 16 0 0-46-10 0-2 2-6 0-2-2 0-14 2-2 0-10 2-4 6-6 10-2 0-38-4 0-2-2-12 0-2-2-12 0-2-2-8 0-8-4-6 0-12-6-4 0-34-18-28-34-8-16-8-8-2-6 4-8 0-8-12-14-4 4 0 6-4 8-8 8-6 0-4-4-4-20 2-2 0-6 8-8 2 0 2-6-72 0 2 2 0 8 10 0 6 6 0 8-4 4-2 8-16 30-4 4-6 12 0 6-4 4-22-8-18 0-16 6-12 0-2-2-16-4-10-8-10-18-8-8-6 0-14 12-8 2-4-2-4-6 0-30-2-2zM139 1385l4-4 4 0 6 6 0 4-4 4-6 0-4-4zM461 1309l14 12 0 10-6 6-14 8-4-4 0-18-2-2 0-8 6-4zM125 1037l4 4 0 6-2 2-4 0-4-4zM293 987l-8 0-2 4 0 6 2 2 4 0 2-2zM257 987l2 8 6 2 6-8 0-2zM229 987l0 16 4 4 10 0 6-4 0-16zM151 987l0 6 4 4 8 2 6 6 4 10 6 4 14 0 10-4 4-4-12-16 0-8zM141 987l-8 0-6 8-8 0-6-8-16 0 0 46 2 0 4 6-2 8-4 2 0 76 4-8 18-20 0-6-6-4-4 0-8-10 0-16 6-14 0-22 6-8 2-6 8-8 8-2 8-6z"/>
<path fill="#b08d6a" d="M155 1421l0 2 6 0-2-2zM97 1407l0 6 4 0 6 6 0 4 10 0 0-12-6-4zM523 1377l4 2 8 0 6-8-2-2-14 0-2 2zM97 1345l0 34 4 0 4 4-2 8-2 2-4 0 0 6 8 0 8-6 0-4 2-2 0-10 6-6 8-2 2-6-2-2 0-4-6-6-10-4zM483 1307l0 8 8 10 14 0 4-2 2-4 0-12-4-4-14 0zM489 1313l6-6 6 0 4 4 0 6-4 4-6 0zM557 1277l-8 0-8 4-6 10-14 12 0 4-2 2 2 18-6 6-16 0-6 4 0 10 6 8 4 2 14-2 2 2 0 4-8 4-22 0-6 16 0 4 4 6 4 2 14-8 6 0 24 10 22-2 0-8-12 2-2 2-14 0-14-6-4-4 0-6 8-8 0-4 2-2 10-2 2-2 18 0 2-2 4 0 0-6-18 2-8-6 2-6 6-4 18-2 0-6-18 0-4-4 0-6 8-10 14 0zM503 1345l2-2 2 2-2 2zM545 1213l-6 4 0 4-6 14 0 10 8 10 16 0 0-42zM553 1187l-4 4 0 6 4 4 4 0 0-14zM537 1039l0 4 2 2 6 0 2-2 10-2-4 0-6-4-8 0zM553 1017l-4 4 0 4 2 2 6 0 0-10zM423 1013l-2 2 0 4 2 2 0 10 6 4 12 2 2-2-10-6-4-6 0-6zM463 1011l-4 4 0 10 2 2 8 0 4-4 2-8-4-4zM289 991l-2 0 0 4zM557 987l-10 0 0 14-2 4-16 14-8 0-2-2 0-10-4-4-6-2-4 4 2 14-14 18-8 2-4-4 0-14-6 12-8 8 0 4 14 10 4 0 2 2 14 0 2-2 4 0 4-6-8-6-2-4 2-4 6-6 8 0 2-2 10 0 4-2 22-22 2 0zM517 987l0 2 12 12 6 0 2-4 0-10zM403 987l0 8 8 6 10 0 2 2 10-2 10-10 0-2 4-2 10 12 10 2 2 2 8 0 10 8 4 8 2-2 0-30-12 0 0 4-6 6-10-2-6-8-26 0 0 4-8 6-6 0-8-8 0-2zM131 1011l-4 12-12 10 0 4-2 2 0 16 6 4 8 0 8 4 0 8-8 10 0 6 6 4 8 12 20 18 0 4 4 8 0 8 2 2 0 30-8 20-22 20-10 0-30-16 0 100 4 0 2-2 10 0 2-2 14 0 2-2 8 0 2 2 10 0 2 2 4 0 12 6 38 26 14 16 0 4 4 6 0 6 2 2 0 20-8 10-14 0-14-6-14-2-8 10-4 0-14-18-4 0-2-2-12 0-4 6 0 8 6 12 4 4 30 6 4 4 2 10 92 0 0-4 2-2 0-12 2-2 0-12 20-32 34-34 18-10 4-4 4 0 12-6 8 0 2 2 10 2 4 4 18 10 20 16 18 24 6 0 2 2-12 18 0 6 4 6 0 14-4 8 0 6 22 0 4-6 12-6 10 0 4 4 2 8 16 0 0-2 8-8 6 0 10-4-2-8-10-6-6 0-2-2-10 4-10 8-8 0-10-14 0-22-4-4-4 0-2-2-4 2-8 0-2-2 16-16 0-2 16-14 0-4-4-8-10-12-2-6 4-4 12-2 0-14 4-8 12-14 6-30 12-12 14-6 4-4 4-26 6-6 12-6 0-34-4 0-2-2-12 0-2-2-12 0-2-2-8 0-8-4-6 0-12-6-4 0-34-18-28-34-8-16-8-8-2-6 4-8 0-8-12-14-4 4 0 6-4 8-8 8-6 0-4-4-4-20 2-2 0-6 8-8 2 0 2-6-72 0 2 2 0 8 10 0 6 6 0 10-2 2-2 14-8 16-6 6-8 14 0 14 2 4-6 8-10-2-8-8-10-6-12 0-2 2-10 2-6 4-18 0-2-2-22-4-6-6-6-22-8-10-8 0-16 12-8-2-4-6 0-30-2-2zM137 1385l4-4 8 0 4 4 0 8-6 4-10-8zM461 1309l14 12 0 10-6 6-14 8-4-4 0-18-2-2 0-8 6-4zM119 1041l4-4 4 0 4 4 0 6-8 4-4-4zM259 993l2 2 4 0 4-8-10 0zM229 987l0 16 4 4 10 0 6-4 0-16-6 0-2 2-4-2zM151 987l0 6 4 4 8 2 6 6 4 10 6 4 14 0 10-4 4-4-12-16 0-8zM141 987l-8 0-6 8-8 0-6-8-16 0 0 46 2 0 4 6-2 8-4 2 0 70 14-14 2 0 6-8 0-6-6-4-4 0-10-12 0-12 8-18 0-24 12-16 18-8z"/>
<path fill="#a88268" d="M97 1407l0 6 4 0 6 6 0 4 8 0 0-12-2-2zM531 1403l-12-8-12 0-10 10-6 2 4 16 12 0 0-2 8-8 16-4zM523 1377l4 2 8 0 6-8-2-2-14 0-2 2zM467 1365l-18 4-8 12 0 10 4 6 0 10-4 8 0 8 16 0 8-8 18-8-2-6-6-8 0-8-2-2 2-2 0-10zM483 1381l2 8 6 4 14-8 6 0 24 10 22-2 0-6-30 2-10-4-8-8 0-4 8-6 2-4-6 0-2 2-22 0zM97 1345l0 32 4 0 4 4 0 8-8 6 0 4 8 0 8-6 0-4 2-2 0-10 6-6 8-2 2-6-2-2 0-4-6-6-10-4zM483 1307l0 8 8 10 14 0 4-2 2-4 0-12-4-4-14 0zM489 1311l4-4 10 0 4 8-6 6-8 0-4-4zM557 1277l-6 0-8 4-4 6 0 4-10 10-4 0-4 4 0 16 2 2 0 6-4 4-18 0-8 6 4 14 8 4 4-2 8 0 4 4 8-4 28-2 0-6-18 2-8-6 2-6 6-4 18-2 0-4-14 0-10-4 0-8 8-10 4-2 10 0 2 2zM503 1345l2-2 2 2-2 2zM549 1213l-4 2-6 8 0 4-4 8 0 8 2 2 0 4 8 6 12 0 0-42zM553 1187l-4 4 0 6 4 4 4 0 0-14zM119 1091l-12-6-10 0 0 28 16-8 6-8zM537 1039l0 4 2 2 6 0 2-2 10-2-4 0-6-4-8 0zM557 1017l-6 4 0 4 6 0zM425 1017l0 14 10 2-6-6-2-10zM473 1013l-4-2-8 2 0 12 2 2 4 0 6-6zM557 987l-8 0-2 16-4 6-16 12-10 0-2-2 2-4 0-8-4-4-4 0-4 6 4 10-8 8 0 2-10 10-8 0-2-2 0-16-6 12-8 8 0 4 14 10 4 0 2 2 14 0 2-2 4 0 4-6-8-6-2-4 2-4 6-6 8 0 2-2 10 0 4-2 22-22 2 0zM517 987l0 2 12 12 6 0 2-4 0-10zM403 987l0 8 8 6 10 0 2 2 10-2 10-10 0-2 4-2 10 12 10 2 2 2 8 0 10 8 4 8 2-2 0-30-10 0 0 4-6 6-10 0-4-2-4-8-24 0-8 10-8 0-8-6 0-4zM381 987l-72 0 2 2 0 8 10 0 6 6 0 26-2 2-2 10-16 20-4 8 0 6 4 8 0 8-10 8-14-4-16-14-10 0-16 6-22 0-10-4-12 0-2-2-4 0-6-8-2-18-2-2 0-6-4-6-10 0-14 10-4 0-6-4-2-4 0-30-2-2-8 0-4 12-12 10 0 4-2 2 0 16 6 4 8 0 8 4 0 8-8 10 0 6 6 4 8 12 20 18 0 4 4 8 0 8 2 2 0 30-8 20-22 20-10 0-6-4-24-6 0 86 4 0 2-2 16 0 2-2 26 0 2 2 8 0 20 10 36 24 12 12 4 8 0 4 4 8 0 8 2 2 2 20 2 2 0 16-4 6-6 2-2-2-4 0-14-14-12-6-20-4-8 10-4 0-14-18-4 0-2-2-12 0-4 6 0 8 6 12 4 4 4 0 2 2 10 0 2 2 8 0 8 6 2 10 92 0 0-4 2-2 0-12 2-2 0-12 20-32 34-34 18-10 4-4 4 0 12-6 16 2 26 16 20 16 18 24 8 0 0-2 26-26 4-2 0-8-16-24 6-6 8-2 0-14 14-28 0-22 4-8 4-4 16-8 14-2 4-6 2-18 2-4 6-6 12-6 0-32-4 0-2-2-12 0-2-2-12 0-2-2-8 0-8-4-6 0-12-6-4 0-34-18-28-34-8-16-8-8-2-6 4-8 0-8-12-14-4 4 0 6-4 8-8 8-6 0-4-4-4-20 2-2 0-6 8-8 2 0zM145 1379l10 8 0 6-4 4-6 0-8-6 0-6zM461 1309l14 12 0 10-6 6-14 8-4-4 0-18-2-2 0-8 6-4zM123 1035l4 0 6 6 0 4-6 6-6 0-4-6 2-6zM259 987l0 4 2 2 4 0 2-6zM229 987l0 16 4 4 10 0 6-4 0-16-4 0-4 6-4-6zM151 987l0 6 4 4 8 2 6 6 4 10 6 4 14 0 10-4 4-4-12-16 0-8zM139 987l-6 0-6 8-8 0-6-8-16 0 0 46 2 0 4 6-2 8-4 2 0 24 0-6 10-24-2-24 4-2 8-12 12-6 4 0 6-6z"/>
<path fill="#9f7866" d="M97 1409l0 4 4 0 6 6 0 4 8 0 0-8-2-4-4-2zM531 1405l-8-8-4 0-2-2-8 0-4 2-10 10 0 10 2 2 0 4 8 0 8-10 12-2 4-2zM523 1377l4 2 8 0 6-8-2-2-14 0-2 2zM469 1367l-20 4-6 8-2 8 6 14-2 12-2 2 0 8 12 0 6-8 8-4 4 0 6-4 0-6-6-12 0-18zM483 1381l2 8 6 4 14-8 6 0 24 10 22-2 0-6-6 0-10 4-8 0-20-8-6-8 2-4 8-6 0-2-4 0-2 2-22 0zM97 1345l0 30 6 2 4 6 0 6-6 6-4 0 0 4 8 0 8-6 0-4 2-2 0-10 6-6 8-2 2-6-2-2 0-4-6-6-10-4zM483 1307l0 8 8 10 14 0 4-2 2-4 0-12-4-4-14 0zM487 1313l6-6 10 0 4 4 0 6-4 4-6 2-4-2zM557 1277l-12 4-4 6-2 10-4 4-10 2-4 6 0 10 4 4 0 8-4 4-10 0-2-2-4 0-10 4 0 10 6 8 16 0 2 2 6 0 2-2 8 0 2-2 20 0 0-6-18 2-8-6 2-6 6-4 18-2 0-4-22 0-4-4 0-6 4-6 0-4 4-4 18 0zM503 1345l2-2 2 2-2 2zM553 1213l-2 2-4 0-6 6-4 22 2 2 0 4 4 4 10 0 4 2 0-42zM553 1187l-4 4 0 6 4 4 4 0 0-14zM119 1091l-6-4-8 0-8 4 0 18 8 0 8-4 6-8zM537 1039l0 4 2 2 6 0 2-2 10-2-4 0-6-4-8 0zM557 1019l-4 2 0 4 4 0zM463 1013l-2 2 0 8 2 2 6 0 4-6 0-4-2-2zM509 1005l-2 2 0 4 2 4 4 0 4-6-2-4zM557 987l-8 0 0 12-4 8-12 12-10 4-14-2-12 12 0 2-8 6-4 0-6-6 2-14-6 12-8 8 0 4 14 10 4 0 2 2 14 0 2-2 4 0 4-6-8-6-2-4 2-4 6-6 8 0 2-2 10 0 4-2 22-22 2 0zM517 987l0 2 12 12 6 0 2-4 0-10zM403 987l0 8 8 6 10 0 2 2 10-2 10-10 0-2 4-2 10 12 10 2 2 2 8 0 10 8 4 8 2-2 0-30-10 0 0 6-4 4-4 0-2 2-8-2-6-6 0-4-24 0-2 6-4 4-12 0-6-4-2-6zM381 987l-72 0 2 2 0 8 10 0 6 6 2 20 2 2 0 8-2 2-2 10-16 18-4 8 0 6 10 18 0 4-8 6-20 0-2-2-4 0-20-14-38 2-2-2-12 0-2-2-14 0-2-2-4 0-10-12-2-20-4-8-8-2-12 8-4 0-6-4-2-4 0-30-2-2-8 0-4 12-12 10 0 4-2 2 0 16 6 4 8 0 8 4 0 8-8 10 0 6 6 4 8 12 20 18 0 4 4 8 0 8 2 2 0 30-8 20-22 20-10 0-6-4-20 0-4 2 0 66 4 0 2 2 40 0 2 2 12 0 2 2 6 0 10 4 42 28 14 12 6 14 2 16 2 2 0 12 2 2 0 10 2 2 0 14-2 2 0 4-8 8-10 0-4-2-8-8-6-10-10-6-20-4-8 10-4 0-14-18-4 0-2-2-12 0-4 6 0 8 6 12 4 4 4 0 2 2 10 0 2 2 8 0 8 6 2 10 92 0 0-4 2-2 0-12 2-2 0-12 20-32 34-34 18-10 4-4 4 0 12-6 16 2 26 16 20 16 18 24 8 0 0-2 30-30-2-10-12-14-4-8 12-8 0-14 4-6 0-4 4-8 0-6 2-2 0-26 14-16 4 0 12-6 16 0 2-2 0-4 2-2 0-12 2-4 16-14 4 0 0-30-4 0-2-2-12 0-2-2-12 0-2-2-8 0-8-4-6 0-12-6-4 0-34-18-28-34-8-16-8-8-2-6 4-8 0-8-12-14-4 4 0 6-4 8-8 8-6 0-4-4-4-20 2-2 0-6 8-8 2 0zM137 1383l4-4 10 2 4 6 0 8-6 4-2-2-4 0-6-6zM461 1309l14 12 0 10-6 6-14 8-4-4 0-18-2-2 0-8 6-4zM121 1035l8 0 4 4 0 8-6 6-4 0-6-6 0-6zM265 987l-4 0 0 4 2 0zM229 987l0 16 4 4 10 0 6-4 0-16-4 0 0 4-4 4-4-2-2-6zM151 987l0 6 4 4 8 2 6 6 4 10 6 4 14 0 10-4 4-4-12-16 0-8zM139 987l-6 0-6 8-8 0-6-8-16 0 0 46 2 0 4 6-2 8-4 2 0 18 0-4 8-14 0-10 2-2-2-2 0-6-4-6 0-4 18-16 16-6 4-6z"/>
<path fill="#966e64" d="M97 1409l0 4 4 0 6 6 0 4 6 0 0-10-6-4zM529 1403l-4-4-10-4-8 2-10 12 2 14 4 0 8-10 16-4 2-2zM523 1377l4 2 8 0 6-8-2-2-14 0-2 2zM469 1369l-4 0-8 4-8 0-6 8 0 8 4 8 0 16-2 2 0 8 6 0 6-8 8-2 12-8 0-6-4-6 0-20zM483 1381l2 8 6 4 14-8 6 0 24 10 22-2 0-6-4 2-8 0-2 2-12 0-16-6-8-8 0-4 8-6 2-4-4 0-2 2-22 0zM97 1345l0 30 4 0 6 6 0 10-4 4-6 0 0 4 8 0 8-6 0-4 2-2 0-10 6-6 8-2 2-6-2-2 0-4-6-6-10-4zM557 1327l-26 0-4 2-6 8-6 0-2-2-14 0-4 4 0 8 2 4 6 4 14-2 4 4 10-4 26 0 0-6-18 2-8-6 4-8 10-2 2-2 10 0zM503 1345l2-2 2 2-2 2zM533 1305l-8 0-2 2-2 8 4 6 6-4zM483 1307l0 8 8 10 14 0 4-2 2-4 0-12-4-4-14 0zM491 1307l4 0 2-2 8 2 2 2 0 8-6 6-10-2-4-4 0-6zM551 1279l-6 4-4 14 2 4 14 2 0-24zM549 1215l-6 6-2 12-2 2 0 8 4 8 4 2 10 0 0-38zM553 1187l-4 4 0 6 4 4 4 0 0-14zM119 1091l-6-4-6 0-8 8 0 10 4 2 10-2 6-8zM537 1039l0 4 2 2 6 0 2-2 10-2-4 0-6-4-8 0zM97 1023l0 10 2 0 4 6-2 8-4 2 0 14 8-16 0-16-2-4zM555 1021l0 2 2 0 0-2zM469 1013l-4 0-2 2 0 8 2 2 6-4 0-6zM509 1007l0 4 4 0 2-2-2-2zM557 987l-6 0-4 18-4 6-12 10-4 0-2 2-16 0-4 2-14 16-8 0-4-4 2-16-6 12-8 8 0 4 14 10 4 0 2 2 14 0 2-2 4 0 4-6-8-6-2-4 2-4 6-6 8 0 2-2 10 0 4-2 22-22 2 0zM517 987l0 2 12 12 6 0 2-4 0-10zM403 987l0 8 8 6 10 0 2 2 10-2 10-10 0-2 4-2 10 12 10 2 2 2 8 0 10 8 4 8 2-2 0-30-8 0-2 8-6 4-14-2-4-4-2-6-22 0 0 4-8 8-6 0-2-2-4 0-6-6 0-4zM381 987l-72 0 2 2 0 8 10 0 6 6 0 6 2 2 2 10 4 6 0 16-6 10-14 16 0 8 4 6 22 20 0 4 4 6 0 4 6 10 0 6 2 2 0 14-4 6-12 0-16-16-8-14-8-8-22-6-22-14-14-2-2-2-32 0-2-2-16 0-10-4-10-10-4-22-6-10-4 0-8 6-4 0-6-4-2-4 0-30-2-2-8 0-4 12-12 10 0 4-2 2 0 16 6 4 8 0 8 4 0 8-8 10 0 6 6 4 8 12 20 18 0 4 4 8 0 8 2 2 0 30-8 20-16 16-6 4-10 0-6-4-4 0-10 6-10 10 0 38 4 4 10 4 18 2 2 2 34 2 2 2 12 2 12 6 24 20 14 8 8 8 4 6 0 4 4 8 0 10 2 2 0 46-4 10-10 8-8 0-4-2-6-6-8-14-10-8-20-4-8 10-4 0-14-18-4 0-2-2-12 0-4 6 0 8 6 12 4 4 4 0 2 2 10 0 2 2 8 0 8 6 2 10 92 0 0-4 2-2 0-12 2-2 0-12 20-32 34-34 18-10 4-4 4 0 12-6 16 2 26 16 20 16 18 24 6 0 6-8 20-20 4-2 2-4-8-16-14-14 2-4 8-4 0-8 2-2 0-6 6-16 0-36 6-10 10-8 20-8 18 0 2-2 0-14 20-18 4 0 0-28-4 0-2-2-12 0-2-2-12 0-2-2-8 0-8-4-6 0-12-6-4 0-34-18-28-34-8-16-8-8-2-6 4-8 0-8-12-14-4 4 0 6-4 8-8 8-6 0-4-4-4-20 2-2 0-6 8-8 2 0zM141 1379l8 0 6 6 2 8-4 6-8 0-8-6-2-8zM461 1309l14 12 0 10-6 6-14 8-4-4 0-18-2-2 0-8 6-4zM371 1179l4-4 6 0 6 4 2 6-6 6-6 0-6-6zM123 1033l6 0 6 8 0 4-6 8-8 0-4-4 0-10zM229 987l0 16 4 4 10 0 6-4 0-16-4 2 0 4-2 2-6 0-2-2 0-6zM151 987l0 6 4 4 8 2 6 6 4 10 6 4 14 0 10-4 4-4-12-16 0-8-16 0-2 2-4 0-2-2zM97 1017l10-4 10-10 16-6 4-4 2-6-6 0-6 8-8 0-6-8-10 0 0 2-6 4z"/>
<path fill="#8a6264" d="M97 1409l0 4 4 0 6 6 0 4 6 0 0-6-4-6-4-2zM527 1401l-6-4-12 0-8 8-2 10 2 2 4 0 8-6 12-2 2-2zM469 1371l-4 0-6 4-10 0-4 4 0 12 4 8 0 18 12-6 4 0 10-6 0-8-4-8 0-16zM523 1377l4 2 8 0 6-8-2-2-14 0-2 2zM483 1381l2 8 6 4 14-8 6 0 24 10 22-2 0-4-28 2-18-8-6-6 0-4 6-6 6-2 0-2-4 0-2 2-22 0zM97 1345l0 28 4 0 8 10 0 6-6 6-6 2 0 2 8 0 8-6 0-4 2-2 0-10 6-6 8-2 2-6-2-2 0-4-6-6-10-4zM557 1327l-4 2-22 0-10 10-4 0-6-4-10 0-4 2-2 6 2 2 0 4 8 6 4 0 2-2 14 2 2-2 30-2 0-4-18 2-8-6 4-8 10-2 2-2 10 0zM503 1345l2-2 2 2-2 2zM525 1307l-2 2 0 6 2 2 4 0 2-10zM483 1307l0 8 8 10 14 0 4-2 2-4 0-12-4-4-14 0zM485 1313l10-8 8 0 6 6 0 4-6 8-10 0zM557 1279l-4 0-8 6 0 14 4 2 8 0zM553 1215l-4 2-6 8-2 20 2 4 14 4 0-38zM553 1187l-4 4 0 6 4 4 4 0 0-14zM119 1091l-6-4-4 0-6 8 0 8 2 2 8 0 6-8zM537 1039l0 4 2 2 6 0 2-2 10-2-4 0-6-4-8 0zM97 1025l0 8 2 0 4 6-2 8-4 2 0 10 8-14 0-12-2-4zM469 1015l-4 0-2 2 0 4 2 2 6-4zM557 987l-6 0 0 10-2 2 0 4-14 16-12 6-16 0-16 18-8 0-4-4 0-12 2-2 0-4-6 12-8 8 0 4 14 10 4 0 2 2 14 0 2-2 4 0 4-6-8-6-2-4 2-4 6-6 8 0 2-2 10 0 4-2 22-22 2 0zM517 987l0 2 12 12 6 0 2-4 0-10zM403 987l0 8 8 6 10 0 2 2 10-2 10-10 0-2 4-2 10 12 10 2 2 2 8 0 10 8 4 8 2-2 0-30-8 0 0 6-6 6-12 0-4-2-6-6 0-4-20 0-2 6-8 6-8 0-4-2-8-10zM381 987l-72 0 2 2 0 8 10 0 6 6 2 10 14 22 0 10-16 22 0 12 4 6 34 32 0 6 2 2-2 4 0 20 4 8 4 4 8 4 4 0 6 4 6 8 0 10-12 10-10 0-8-4-20-20-24-12-12-10-12-18-8-8-18-12-6-2-10-8-22-8-38 0-16-6-14-16 0-10-2-2 0-10-2-2 0-4-10 6-4 0-6-4-2-4 0-30-2-2-8 0-4 12-12 10 0 4-2 2 0 16 6 4 8 0 8 4 0 8-8 10 0 6 6 4 8 12 20 18 0 4 4 8 0 8 2 2 0 30-8 20-16 16-6 4-10 0-6-4-4 2 0 4-8 14 0 4-4 8 0 14 6 8 8 4 6 0 10 4 14 0 2 2 30 0 2 2 10 2 28 26 8 4 14 12 8 14 2 18 2 2-2 18-2 2 0 10-2 2 0 12-6 14-10 8-8 0-4-2-8-8-8-16-8-6-20-4-8 10-4 0-14-18-4 0-2-2-12 0-4 6 0 8 6 12 4 4 4 0 2 2 10 0 2 2 8 0 8 6 2 10 92 0 0-4 2-2 0-12 2-2 0-12 20-32 34-34 18-10 4-4 4 0 12-6 16 2 26 16 20 16 18 24 6 0 30-32 0-8-2-4-16-16-4-2-8 0-4-4 4-6 6 0 8-4 0-6 8-22 0-12-2-2 0-12-2-2 2-12 14-16 32-14 12 0 2-2 0-6 6-6 8-4 8-8 6-2 0-26-4 0-2-2-12 0-2-2-12 0-2-2-8 0-8-4-6 0-12-6-4 0-34-18-28-34-8-16-8-8-2-6 4-8 0-8-12-14-4 4 0 6-4 8-8 8-6 0-4-4-4-20 2-2 0-6 8-8 2 0zM135 1383l4-4 10 0 8 8 0 8-4 4-10 0-8-8zM461 1309l14 12 0 10-6 6-14 8-4-4 0-18-2-2 0-8 6-4zM127 1031l4 2 4 6 0 10-4 4-8 2-6-4-2-8 2-2 0-4 4-4 4 0zM229 987l0 16 4 4 10 0 6-4 0-16-2 0 0 4-4 6-6 0-4-6 0-4zM151 987l0 6 4 4 8 2 6 6 4 10 6 4 14 0 10-4 4-4-12-16 0-8-14 0 0 4-2 2-6 0-8-6zM97 1015l10-4 10-10 4 0 14-6 2-2 0-6-4 0-6 8-8 0-6-8-8 0 0 4-8 6z"/>
<path fill="#7e5664" d="M97 1409l0 4 4 0 6 6 0 4 4 0 0-8-4-4zM501 1413l8 0 8-4 6 0 4-6-8-6-10 0-4 4-4 8zM469 1375l-4 0-6 6-12-2 0 4-2 2 4 8 2 18 10 0 12-6 0-10-4-10zM523 1377l4 2 8 0 6-8-2-2-14 0-2 2zM483 1381l2 8 6 4 14-8 6 0 24 10 22-2 0-4-16 2-2 2-12-2-24-12-4-4 18-12-4 0-2 2-22 0zM489 1381l6-6 4 0 2 2-8 8zM97 1345l0 28 6 0 6 6 0 10-2 4-6 4-4 0 0 2 8 0 8-6 0-4 2-2 0-10 6-6 8-2 2-6-2-2 0-4-6-6-10-4zM557 1329l-22 0-14 12-4 0-4-4-10-2-6 4 0 8 4 6 12 0 2-2 4 2 38-2 0-4-18 2-8-6 4-8 10-2 2-2 10 0zM503 1345l2-2 2 2-2 2zM529 1309l-4 2 0 4 4-2zM483 1307l0 8 8 10 14 0 4-2 2-4 0-12-4-4-14 0zM485 1311l8-6 12 0 4 6 0 6-6 6-10 0-8-8zM557 1279l-2 2-4 0-6 8 2 8 10 4zM551 1217l-4 2-2 4-2 22 8 6 6 0 0-34zM553 1187l-4 4 0 6 4 4 4 0 0-14zM109 1087l-4 14 4 4 4 0 6-8 0-6-6-4zM537 1039l0 4 2 2 6 0 2-2 10-2-4 0-6-4-8 0zM99 1027l-2 0 0 6 4 2 2 6-2 2 0 4-4 2 0 8 4-4 4-10 0-8zM465 1017l0 4 4 0 0-4zM557 987l-4 0-2 4 0 8-4 8-14 14-8 4-16 0-4 2-10 14-8 4-6-2-4-4 0-6 2-2 2-10-6 12-8 8 0 4 14 10 4 0 2 2 14 0 2-2 4 0 4-6-8-6-2-4 2-4 6-6 8 0 2-2 10 0 4-2 22-22 2 0zM517 987l0 2 12 12 6 0 2-4 0-10zM403 987l0 8 8 6 10 0 2 2 10-2 10-10 0-2 4-2 10 12 10 2 2 2 8 0 10 8 4 8 2-2 0-30-6 0 0 6-6 6-6 0-2 2-2-2-10-2-4-4-2-6-18 0 0 4-8 8-12 0-8-6-2-6zM381 987l-72 0 2 2 0 8 10 0 6 6 0 4 4 8 18 20 0 12-4 8-10 12 0 12 2 4 16 14 28 12 4 6 0 4-10 18 0 12 8 8 8 2 6 4 8 10 0 14-14 12-22 0-16-8-4-4-14-6-4-4-10-4-12-8-16-16-6-10-12-12-16-10-14-14-8-4-40 0-20-8-14-12-6-2-10-10 0-2 4-4 4 0 6-4 0-12-8 6-4 0-6-4-2-4 0-30-2-2-8 0-4 12-12 10 0 4-2 2 0 16 6 4 8 0 8 4 0 8-8 10 0 6 6 4 8 12 20 18 0 4 4 8 0 8 2 2 0 30-8 20-22 20-10 0-8-4 0 20-4 10 0 16 6 6 16 6 20 2 2-2 16 0 2-2 18 0 8 4 8 8 10 16 18 12 14 14 4 8 0 4 4 8 0 8 2 2 0 12-10 18-4 22-6 12-10 8-10 0-6-4-10-16 0-4-4-6-6-4-20-4-8 10-4 0-14-18-4 0-2-2-12 0-4 6 0 8 6 12 4 4 4 0 2 2 10 0 2 2 8 0 8 6 2 10 92 0 0-4 2-2 0-12 2-2 0-12 20-32 34-34 18-10 4-4 4 0 12-6 16 2 26 16 20 16 18 24 6 0 8-12 22-20 0-6-4-8-10-10-6-4-10 0-8-6 0-4 6-6 8-4 8-18 0-20-2-2 0-6-4-10 2-12 4-6 12-10 20-10 20-6 18-10 4 0 14-12 6 0 0-26-4 0-2-2-12 0-2-2-12 0-2-2-8 0-8-4-6 0-12-6-4 0-34-18-28-34-8-16-8-8-2-6 4-8 0-8-12-14-4 4 0 6-4 8-8 8-6 0-4-4-4-20 2-2 0-6 8-8 2 0zM137 1379l10-2 8 6 2 4 0 10-4 4-12-2-6-6-2-8zM441 1329l2-2 2 4-2 2zM461 1309l14 12 0 10-6 6-14 8-4-4 0-18-2-2 0-8 6-4zM123 1031l8 0 6 12-2 8-6 4-8 0-6-6 0-8zM229 987l0 16 4 4 10 0 6-4 0-16-2 0 0 6-6 6-8-6 0-6zM151 987l0 6 4 4 8 2 6 6 4 10 6 4 14 0 10-4 4-4-12-16 0-8-12 0 0 6-2 2-8 0-12-8zM97 1013l6-2 12-10 16-4 6-6 0-4-4 0-6 8-8 0-6-8-6 0-2 8-4 4-4 0z"/>
<path fill="#734b62" d="M97 1411l0 2 4 0 6 6 0 4 4 0-2-10-4-2zM503 1409l2 2 16-2 4-2 0-6-8-4-6 0-6 6 0 4zM467 1381l-12 8-4-2 0 18 2 4 10 0 10-8zM523 1377l4 2 8 0 6-8-2-2-14 0-2 2zM483 1381l2 8 6 4 14-8 6 0 24 10 22-2 0-4-4 2-8 0-2 2-10 0-2-2-10-2-14-8-6 0-10 6-4-6 6-8 10-2 14-8-4 0-2 2-22 0zM97 1345l0 26 6 0 6 6 0 4 2 2-2 8-6 6-6 0 0 2 8 0 8-6 0-4 2-2 0-10 6-6 8-2 2-6-2-2 0-4-6-6-10-4zM557 1329l-16 0-2 2-6 0-12 12-6-2-4-4-10 0-4 4 0 4 6 8 8 0 2-2 6 0 2 2 4-2 32 0 0-4-18 2-8-6 4-8 10-2 2-2 10 0zM503 1345l2-2 2 2-2 2zM483 1307l0 8 8 10 14 0 4-2 2-4 0-12-4-4-14 0zM485 1311l6-6 14 0 4 4 0 8-4 6-10 2-8-6zM553 1281l-4 2-2 10 2 4 8 2 0-18zM557 1217l-8 2-2 4 0 16-2 4 4 6 8 0zM553 1187l-4 4 0 6 4 4 4 0 0-14zM109 1087l0 16 4 2 6-8 0-6-6-4zM537 1039l0 4 2 2 6 0 2-2 10-2-4 0-6-4-8 0zM101 1029l-4 0 0 4 2 0 4 6-2 8-4 2 0 6 4-4 2-10 2-2zM557 987l-4 0 0 8-8 16-14 12-10 2-2 2-8-2-4 2-16 18-8 0-6-4 0-10 4-10-6 12-8 8 0 4 14 10 4 0 2 2 14 0 2-2 4 0 4-6-8-6-2-4 2-4 6-6 8 0 2-2 10 0 4-2 22-22 2 0zM517 987l0 2 12 12 6 0 2-4 0-10zM403 987l0 8 8 6 10 0 2 2 10-2 10-10 0-2 4-2 10 12 10 2 2 2 8 0 10 8 4 8 2-2 0-30-6 0 0 8-8 6-10 0-2-2-4 0-8-8 0-4-18 0 0 4-6 8-10 2-2-2-4 0-8-8 0-4zM381 987l-72 0 2 2 0 8 10 0 6 6 0 4 4 6 20 18 4 8 0 10-2 2 0 4-12 16 2 10 12 10 32 12 8 10 0 16-8 16 4 4 10 4 10 10 4 8 0 14-2 4-8 8-10 4-30 0-2-2-6 0-2-2-22-6-38-20-12-12-8-14-10-10-18-8-12 0-4-4 2-2 4 0 4-4 0-8-6-6-4-2-8 0-10 4-10 0-20-10-4 0-22-12-12-14 0-6 6-6 4 0 4-4 2-8-8 6-4 0-6-4-2-4 0-30-2-2-8 0-4 12-12 10 0 4-2 2 0 16 6 4 8 0 8 4 0 8-8 10 0 6 6 4 8 12 20 18 0 4 4 8 0 8 2 2 0 30-8 20-22 20-10 0-8-4 2 10 2 2 0 28 6 8 14 6 20 0 28-12 14 0 8 4 8 8 4 8 0 4 4 6 0 4 8 8 6 2 8 6 8 10 4 8 0 6 2 2 2 14 2 2 0 20-12 14-6 14-2 12-6 12-10 8-10 0-12-10-4-14-6-10-10-4-14-2-8 10-4 0-14-18-4 0-2-2-12 0-4 6 0 8 6 12 4 4 4 0 2 2 10 0 2 2 8 0 8 6 2 10 92 0 0-4 2-2 0-12 2-2 0-12 20-32 34-34 18-10 4-4 4 0 12-6 16 2 26 16 20 16 18 24 6 0 6-10 24-24-2-8-10-12-6-4-12 0-10-6 0-8 8-8 8-18 0-18-8-22 0-12 14-16 24-12 4 0 6-4 4 0 8-4 30-6 12-10 8-2 0-24-4 0-2-2-12 0-2-2-12 0-2-2-8 0-8-4-6 0-12-6-4 0-34-18-28-34-8-16-8-8-2-6 4-8 0-8-12-14-4 4 0 6-4 8-8 8-6 0-4-4-4-20 2-2 0-6 8-8 2 0zM133 1383l6-6 8 0 4 2 6 6 2 14-2 2-12 0-4-2-6-6zM441 1323l6 4 0 6-4 4-6-4 0-4zM461 1309l14 12 0 10-6 6-14 8-4-4 0-18-2-2 0-8 6-4zM391 1037l0-4 2-2 4 0 2 2-4 6zM127 1029l8 6 2 4 0 10-6 6-12 0-4-4 0-12 4-6zM229 987l0 16 4 4 10 0 6-4 0-16-2 8-4 4-6 0-4-4-2-8zM151 987l0 6 4 4 8 2 6 6 4 10 6 4 14 0 10-4 4-4-12-16 0-8-10 0 0 6-6 6-14-6-6-6zM97 1011l8-4 4-6 6 0 2-2 6 0 10-4 4-8-4 0-6 8-8 0-6-8-6 0 0 10-4 4-6 0z"/>
<path fill="#6a425e" d="M97 1411l0 2 4 0 6 6 0 4 4 0-4-10zM507 1409l10 0 2-2 4 0 2-4-4-4-12 0zM467 1389l-6 0-8 6 0 10 2 2 8 0 8-6 0-4zM129 1379l0 8 6 12 4 4 30 6 4 4 2 10 42 0-6-6-4-8 0-6-6-14-10-4-14-2-8 10-4 0-14-18-4 0-2-2-12 0zM133 1381l4-4 12 0 8 8 4 14-6 4-6 0-10-4-6-8zM523 1377l4 2 8 0 6-8-2-2-14 0-2 2zM483 1381l2 8 6 4 14-8 6 0 24 10 22-2 0-2-26 2-2-2-10-2-10-6-10 0-8 6-4-4 2-10 8-6 6 0 14-6-4 0-2 2-22 0zM97 1345l0 24 6 0 8 10 0 10-6 8-8 2 8 0 8-6 0-4 2-2 0-10 6-6 8-2 2-6-2-2 0-4-6-6-10-4zM557 1329l-22 2-4 2-10 12-4 0-8-8-8 0-2 2 0 10 6 4 10-4 4 0 2 2 4-2 2 2 20 0 2-2 8 0 0-2-18 2-8-6 4-8 10-2 2-2 10 0zM503 1345l2-2 2 2-2 2zM483 1307l0 8 8 10 14 0 4-2 2-4 0-12-4-4-14 0zM487 1307l10-4 10 2 2 2 0 12-8 6-8 0-8-8 0-8zM557 1281l-8 4 0 8 4 4 4 0zM553 1219l-4 4 0 6 6 6-6 6 0 4 8 4 0-30zM553 1187l-4 4 0 6 4 4 4 0 0-14zM109 1087l4 18 6-8 0-6-6-4zM537 1039l0 4 2 2 6 0 2-2 10-2-4 0-6-4-8 0zM99 1029l-2 0 0 4 4 2 2 6-2 2 0 4-4 2 0 6 6-8 0-14zM131 1011l-4 12-12 10 0 4-2 2 0 16 6 4 8 0 8 4 0 8-8 10 0 6 6 4 8 12 20 18 0 4 4 8 0 8 2 2 0 30-8 20-16 16-6 4-10 0-8-4 4 6 0 4 4 8 2 14 8 12 8 4 14 0 38-24 6 0 2-2 24 0 10 8 4 10 2 16 6 12 14 16 4 10 2 20 2 2 0 36-4 8-12 12-4 8-6 22-4 6-8 6 32 0 0-4 2-2 0-12 2-2 0-12 20-32 34-34 18-10 4-4 4 0 12-6 16 2 26 16 20 16 18 24 6 0 8-14 20-18 0-8-12-14-8-4-12 0-4-2-6-8 10-22 2-20-2-2-2-12-4-6 0-4-6-10 0-4-4-8-4-4-72 0-2-2-34-2-2-2-10 0-2-2-18 2-2 2-14 0-6-6 0-26-2-2-2-12-6-6-24-10-8-10 0-8 12-8-2-4-6 0-8 4-6 0-2-2-10-2-18-10-10-2-12-6-10-10-6-10 0-8 4-4 8-2 4-4 2-6-8 6-4 0-6-4-2-4 0-30-2-2zM441 1321l4 0 4 8-2 8-4 4-6-4 0-4-2-2 2-6zM461 1309l14 12 0 10-6 6-14 8-4-4 0-18-2-2 0-8 6-4zM125 1029l6 0 6 6 0 8 2 2-2 8-8 4-8 0-8-10 2-10zM97 1003l0 4 2 0zM557 987l-2 0 0 6-4 10-16 18-12 6-16 0-6 6-2 6-8 8-8 0-8-8 4-14-4 8-8 8 0 4 14 10 4 0 2 2 14 0 2-2 4 0 4-6-8-6-2-4 2-4 6-6 8 0 2-2 10 0 4-2 22-22 2 0zM517 987l0 2 12 12 6 0 2-4 0-10zM403 987l0 8 8 6 10 0 2 2 10-2 10-10 0-2 4-2 10 12 10 2 2 2 8 0 10 8 4 8 2-2 0-30-4 0 0 6-6 8-16 0-2-2-4 0-6-6 0-4-2-2-14 0-2 6-6 6-4 2-8 0-2-2-4 0-6-6-2-6zM309 987l2 2 0 8 10 0 6 6 0 4 16 12 14 14 4 10 0 10-4 10-6 8 0 6 8 8 32 14 12 12 4 10 2 14 10 18 4 4 4 8 0 4 4 6 0 4 6 8 14 2 2-2 8 0 6-4 4 0 20-8 6 0 2-2 22-2 2-2 16 0 4-2 4-6 10-4 0-22-4 0-2-2-12 0-2-2-12 0-2-2-8 0-8-4-6 0-12-6-4 0-34-18-28-34-8-16-8-8-2-6 4-8 0-8-12-14-4 4 0 6-4 8-8 8-6 0-4-4-4-20 2-2 0-6 8-8 2 0 2-6zM395 1027l4 0 2 2 0 6-4 6-6 0-2-2 0-6zM229 987l0 16 4 4 10 0 6-4 0-16 0 6-6 8-6 0-6-8 0-6zM151 987l0 6 4 4 8 2 6 6 4 10 6 4 14 0 10-4 4-4-12-16 0-8-8 0 0 8-4 6-6 0-4-4-14-6-4-4zM109 997l2 2 10 0 2-2 4 0 8-6 0-4-2 0-6 8-8 0-6-8-4 0z"/>
<path fill="#623a59" d="M97 1411l0 2 4 0 6 6 0 4 2 0 0-6-4-4zM507 1405l6 4 2-2 6 0 2-4-4-4-8 0zM467 1393l-10 2-2 8 2 2 10-2 2-4zM129 1379l0 8 6 12 4 4 30 6 4 4 2 10 34 0-4-10 0-12-2-2-2-10-10-4-14-2-8 10-4 0-14-18-4 0-2-2-12 0zM131 1383l8-8 12 2 6 6 6 16-4 4-12 0-2-2-4 0-8-8zM523 1377l4 2 8 0 6-8-2-2-14 0-2 2zM483 1381l2 8 6 4 14-8 6 0 24 10 22-2 0-2-6 0-2 2-18 0-24-10-4 0-8 6-6 0-4-4 0-4 2-2 0-4 6-6 6 0 2-2 6 0 10-4-4 0-2 2-22 0zM97 1345l0 22 10 2 4 6 0 16-8 8-6 0 8 0 8-6 0-4 2-2 0-10 6-6 8-2 2-6-2-2 0-4-6-6-10-4zM499 1341l0 6 4 4 8 0 4-4-4-8-4 0-2-2zM503 1345l2-2 2 2-2 2zM525 1343l0 4 2 2 30 0 0-2-18 2-8-6 2-6 6-4 18-2-20 0-4 2zM483 1307l0 8 8 10 14 0 4-2 2-4 0-12-4-4-14 0zM483 1311l6-6 4 0 2-2 10 0 6 8 0 6-8 8-10 0-10-10zM553 1283l-2 2 0 8 2 2 4 0 0-12zM557 1243l-2 2 2 0zM553 1221l-2 4 6 4 0-8zM415 1213l-6-4-12-2-2-2-34 0-2 2-26 2-2 2-12 2-18 10-4 0-8 4-18 16-4 16 14 38 0 28-2 2-2 30-4 10-18 20-6 22-10 14 28 0 0-4 2-2 0-12 2-2 0-12 20-32 34-34 18-10 4-4 4 0 6-4 14-2 2 2 6 0 8 6 6 2 28 20 22 28 6 0 2-2 0-6 20-20 4-2 2-10-10-12-6-4-16 0-12-10 0-10 4-8 0-10 2-2-2-20-8-16zM441 1319l4 0 4 6-2 18-4 4-8-10 0-12zM461 1309l14 12 0 10-6 6-14 8-4-4 0-18-2-2 0-8 6-4zM553 1187l-4 4 0 6 4 4 4 0 0-14zM109 1087l4 6 0 12 6-8 0-6-6-4zM537 1039l0 4 2 2 6 0 2-2 10-2-4 0-6-4-8 0zM97 1029l0 4 2 0 4 6-2 8-4 2 0 4 6-8 0-10zM131 1011l-4 12-12 10 0 4-2 2 0 16 6 4 8 0 8 4 0 8-8 10 0 6 6 4 8 12 20 18 0 4 4 8 0 8 2 2 0 30-8 20-16 16-6 4-10 0-8-4 4 4 12 24 10 8 10 0 36-26 8-2 14-8 10-10 12-26 0-16-4-8-14-14-4-14-10-10-6-2-8-6-4 0-6-4-6 0-6-4-8-2-12-12-6-10 0-12 4-4 10-2 6-8-8 6-4 0-6-4-2-4 0-30-2-2zM127 1027l6 0 6 12 0 14-4 4-16 0-6-8 0-8 4-8zM557 993l-6 12-18 18-10 4-14 0-6 4-8 16-10 2-10-8 0-8 4-8-4 8-8 8 0 4 14 10 4 0 2 2 14 0 2-2 4 0 4-6-8-6-2-4 2-4 6-6 8 0 2-2 10 0 4-2 22-22 2 0zM517 987l0 2 12 12 6 0 2-4 0-10-4 0-4 4-2 0-2-4zM403 987l0 8 8 6 10 0 2 2 10-2 10-10 0-2 4-2 10 12 10 2 2 2 8 0 10 8 4 8 2-2 0-30-4 0 0 10-4 4-20 0-12-10 0-4-14 0 0 4-6 8-4 2-12 0-8-4-4-6 0-4zM309 987l2 2 0 8 10 0 6 6 0 4 16 8 18 18 8 18 0 6-4 8 0 12 8 8 12 6 4 0 10 6 12 12 24 44 14 16 10 4 12 0 2-2 14 0 2-2 14 0 2-2 34 0 12-10 6 0 0-22-4 0-2-2-12 0-2-2-12 0-2-2-8 0-8-4-6 0-12-6-4 0-34-18-28-34-8-16-8-8-2-6 4-8 0-8-12-14-4 4 0 6-4 8-8 8-6 0-4-4-4-20 2-2 0-6 8-8 2 0 2-6zM401 1023l2 2 0 10-6 8-6 0-4-4 0-6 10-10zM229 987l0 16 4 4 10 0 6-4 0-16 0 8-2 4-6 4-8-4-2-4 0-8zM151 987l0 6 4 4 8 2 6 6 4 10 6 4 14 0 10-4 4-4-12-16 0-8-6 0 0 8-4 10-8-2-4-4-14-6zM109 987l4 10 12 0 2-2 4 0 4-4 0-4-2 0-6 8-8 0-6-8z"/>
<path fill="#5a3255" d="M97 1411l0 2 4 0 6 6 0 4 2 0-2-8zM521 1401l-6-2-4 2-2 4 2 2 8 0 2-2zM465 1397l-4 0-2 4 4 0zM525 1391l10 4 22-2 0-2-2 0-2 2-18 2zM129 1379l0 8 6 12 4 4 30 6 4 4 2 10 8 0 4-6 8 0 4-4 0-4 2-2 0-18-10-4-14-2-8 10-4 0-14-18-4 0-2-2-12 0zM131 1381l6-6 10 0 4 2 8 8 0 4 6 12-4 4-8 0-2-2-8 0-4-2-8-12zM523 1377l4 2 8 0 6-8-2-2-14 0-2 2zM515 1363l-4 2-22 0-6 16 2 8 6 4 14-8 10 2-4-2-10 0-8 6-8-4 0-10 6-8 4-2 10 0zM97 1345l0 20 12 0 2 2 0 10 2 2 0 10-2 4-8 6-6 0 8 0 8-6 0-4 2-2 0-10 6-6 8-2 2-6-2-2 0-4-6-6-10-4zM501 1339l-2 4 2 6 8 2 4-4 0-4-4-4zM503 1345l2-2 2 2-2 2zM527 1343l4 6 26 0 0-2-18 2-8-6 2-6 6-4 18-2-16 0-2 2-4 0zM483 1307l0 8 8 10 14 0 4-2 2-4 0-12-4-4-14 0zM483 1309l10-6 12 0 6 6 0 8-6 8-14 0-6-6zM557 1283l-6 4 4 6 2 0zM401 1211l-10-4-22 0-2 2-6 0-2 2-16 4-36 18-4 4-6 2-8 8-4 10 0 10 8 22 0 22-2 2 0 6-8 20 0 6-2 2-4 16-20 24-6 20-8 16 24 0 0-4 2-2 0-12 2-2 0-12 14-24 40-42 18-10 4-4 4 0 12-6 8 0 2 2 10 2 38 26 22 28 6 0 0-2-16-24 0-14 6-6 6 0 4 6 0 24 2 2 4 0 22-20 0-4-4-8-14-10-8 0-4 2-14-6-4-4 2-44-12-24zM461 1309l14 12 0 10-6 6-14 8-4-4 0-18-2-2 0-8 6-4zM553 1187l-4 4 0 6 4 4 4 0 0-4-4-2 0-2 4-2 0-4zM111 1087l4 8 0 8-2 2 6-8 0-6zM537 1039l0 4 2 2 6 0 2-2 10-2-4 0-6-4-8 0zM99 1031l-2 0 0 2 4 2 2 6-2 2 0 4-4 2 0 4 6-10 0-6zM131 1011l-4 12-12 10 0 4-2 2 0 16 6 4 8 0 8 4 0 8-8 10 0 6 6 4 8 12 20 18 0 4 4 8 0 8 2 2 0 30-8 20-16 16-6 4-10 0-6-4 0 2 14 18 4 2 12 0 8-6 14-6 4-4 16-8 18-16 8-20 0-16-8-16-2-10-6-12-6-6-10-6-4 0-8-4-6 0-12-6-18-18 0-18-4-2-4 2-8 0-10-8 0-12 2-4 6-6 8-4 4 0 4 4 2 14 4 10 10 0 4-2 4-6-8 6-4 0-6-4-2-4 0-30-2-2zM557 997l-10 14-12 12-10 4-12 0-2 2-4 0-6 6-2 12-4 4-14-2-8-8 0-4 4-8-10 12 0 4 14 10 4 0 2 2 14 0 2-2 4 0 4-6-8-6-2-4 2-4 6-6 8 0 2-2 10 0 4-2 22-22 2 0zM517 987l0 2 12 12 6 0 2-4 0-10-2 0-4 8-6-2-4-6zM403 987l0 8 8 6 10 0 2 2 10-2 10-10 0-2 4-2 10 12 10 2 2 2 8 0 10 8 4 8 2-2 0-30-2 0 0 8-6 8-14 0-2-2-6 0-8-6-2-8-12 0-2 6-8 8-16 0-10-8 0-6zM309 987l2 2 0 8 10 0 6 6 0 4 4-6 4 2 22 20 22 32-2 12-2 2 2 8 6 6 8 2 20 12 14 16 8 14 18 24 10 8 10 2 2 2 52 0 2 2 14 0 10-10 6 0 0-20-4 0-2-2-12 0-2-2-12 0-2-2-8 0-8-4-6 0-12-6-4 0-34-18-28-34-8-16-8-8-2-6 4-8 0-8-12-14-4 4 0 6-4 8-8 8-6 0-4-4-4-20 2-2 0-6 8-8 2 0 2-6zM401 1019l4 4 0 10-2 2 0 4-6 6-8 0-4-4 0-8zM229 987l0 16 4 4 10 0 6-4 0-16 0 10-6 6-8 0-4-4zM151 987l0 6 4 4 8 2 6 6 4 10 6 4 14 0 10-4 4-4-12-16 0-8-4 0 0 4-2 2 0 6 2 2 0 8-2 2-6 0-10-10-10-6-4 0-6-8zM111 987l0 4 4 6 14-2 6-6 0-2-2 0-6 8-8 0-6-8z"/>
<path fill="#522a51" d="M97 1413l4 0 6 6 0 4 0-6-4-4zM511 1405l8 0 2-2-2-2-6 0zM129 1379l0 8 6 12 4 4 30 6 4 4 2 10 2 0 0-12-4-6-26 0-2-2-4 0-8-8-4-8 2-8 4-4 4 0 2-2 2 2 10 2 4 4 8 16 8 0 6-8 4 0 6 8 4 2 8-10-10-4-14-2-8 10-4 0-14-18-4 0-2-2-12 0zM523 1377l4 2 8 0 6-8-2-2-14 0-2 2zM489 1365l-6 16 2 8 6 4 14-8 4 0-6 0-8 6-6 0-6-8 2-2 0-6 4-6 8-4 12 0zM97 1345l0 18 8-2 6-4 4 0 6 4 0 4-6 4-2 4 0 18-8 8-4 0 4 0 8-6 0-4 2-2 0-10 6-6 8-2 2-6-2-2 0-4-6-6-10-4zM501 1341l0 6 2 2 6 0 2-2 0-4-6-4zM503 1345l2-2 2 2-2 2zM557 1331l-20 2-6 4-2 8 6 4 14 0 2-2 6 0-18 2-8-6 2-6 6-4zM489 1305l-6 2 0 8 0-6zM507 1303l-4 0 4 0 4 4 0 12-8 6 6-2 2-4 0-12zM555 1285l0 6 2 0 0-6zM393 1211l-4 0-2-2-14 0-2 2-4 0-14 8-24 18-18 8-10 10 0 16 2 2 0 6 6 16-2 12-6 14-12 18-14 32-14 14-6 12-2 12-4 6-2 8 20 0 0-4 2-2 0-12 2-2 0-12 14-24 40-42 18-10 4-4 4 0 12-6 8 0 2 2 10 2 38 26 22 28 6 0-8-8-10-18 0-8-2-2 2-2 0-4 8-6 6 0 4 4 0 4 2 2 0 12-2 2 0 4 2 4 6 0 18-16 0-10-10-10-4-2-14 0-2 2-6-4-14 0-4-4 0-8 2-2 0-38-18-32zM461 1309l14 12 0 10-6 6-14 8-4-4 0-18-2-2 0-8 6-4zM553 1187l-4 4 0 6 4 4 4 0 0-2-4 0-2-2 0-4 6-4 0-2zM111 1087l6 10-4 8 6-8 0-6zM101 1043l0 4-4 2 0 2 4-4zM113 1039l0 16 6 4 8 0 8 4 0 8-8 10 0 6 6 4 8 12 20 18 0 4 4 8 0 8 2 2 0 30-8 20-22 20-10 0-6-4 12 14 10 2 12-8 10-4 32-22 8-16 0-30-2-2 0-8-2-2 0-6-4-10-10-8-18-4-16-8-8-8 0-2-10-6 0-6 4-8-2-2 0-4-2-2-14 0-8-6zM537 1039l0 4 2 2 6 0 2-2 10-2-4 0-6-4-8 0zM467 1041l0 4 14 10 4 0 2 2 14 0 2-2 4 0 4-6-8-6-2-4 2-4 6-6 8 0-8 0-6 4-2 4 2 14-4 4-8 0-12-6-8-8 6-12zM131 1011l-4 12-6 4-6 8 8-8 12-6 4 8 0 10 2 2 2 10 4 0 2 2 2-2 4 0 6-6-8 6-4 0-6-4-2-4 0-30-2-2zM557 1001l-2 0-22 24-10 2 10-2 22-22 2 0zM517 987l0 2 12 12 6 0 2-4 0-10-2 0 0 8-2 2-8-2-4-6zM493 987l-2 0 0 14-4 4-4 0-2-2-12 0 8 0 4 2 6 6 4 8 2-2zM423 1003l10-2 12-14 2 0 10 12 8 2-4 0-8-8-2-6-10 0-2 8-6 6zM403 987l0 8 8 6 8 0-10-2-4-4zM309 987l2 2 0 8 10 0 6 8-2-4 2-4 10 0 2 2 4 0 6 6 18 28 14 12 4-14 14-14 2 0 6 6 0 8-2 2-2 10-6 6-6 2 0 20 2 4 6 2 14 10 14 14 10 14 24 24 0 2 14 12 16 6 32 0 12 6 6-2 6-8 10-2 0-18-4 0-2-2-12 0-2-2-12 0-2-2-8 0-8-4-6 0-12-6-4 0-34-18-28-34-8-16-8-8-2-6 4-8 0-8-12-14-4 4 0 6-4 8-8 8-6 0-4-4-4-20 2-2 0-6 8-8 2 0 2-6zM229 987l0 16 4 4 10 0 6-4 0-10 0 6-6 6-10-2-4-6zM151 987l0 6 4 4 8 2 6 6 4 10 6 4 14 0 10-4 4-4-12-16 0-8-4 0 0 10 6 12-4 6-10 0-12-12 0-2-6-4-8-2zM113 987l0 6 2 2 12 0 6-4 0-4-6 8-8 0z"/>
<path fill="#4b234d" d="M97 1413l4 0 6 6 0 4-2-8zM157 1407l8 0 8 6 2 10 0-8-6-8zM513 1403l4 2 0-2zM133 1395l6 8 14 2-8 0-8-4zM161 1391l4 4 4 0 8-10 8 0 8 4 6 0-8-4-14-2-8 10-4 0-4-4zM145 1373l-12 0-4 6 0 8 0-6 4-6 4-2zM523 1377l4 2 8 0 6-8-2-2-14 0-2 2zM523 1373l4-4 4 0 4 6-4 4-4 0zM487 1371l4-6 16 0-18 0zM97 1345l0 14 4-4 4 0 2-2 8 0 2 2 4 0 4 4 0 6-10 8 0 14-2 2 0 4-4 4 4-4 0-4 2-2 0-10 6-6 8-2 2-6-2-2 0-4-6-6-10-4zM503 1341l-2 4 6 4 2-2 0-4-2-2zM503 1345l2-2 2 2-2 2zM545 1333l-10 2-4 4 0 6 2 2 4 0-6-4 2-6 6-4zM451 1323l0 20 4 4 12-10-12 8-4-4zM435 1311l0 2 2 0 0-2zM459 1309l-10 2-2 2 2 6 0-6 6-4zM507 1303l4 4 0 4 0-4zM387 1213l-12 0-4 2-34 36-6 2-10 10-2 12 2 2 0 10 2 2 0 18-34 42-8 16-8 12-8 8-6 12 0 6-2 2 0 6-2 2-2 10 14 0 0-4 2-2 0-12 2-2 0-12 20-32 34-34 18-10 4-4 4 0 12-6 16 2 26 16 20 16 18 24 4 0-6-4-2-6-4-4-8-16-2-8-8-6-8-10 0-12 4-10 0-26-4-10-6-8 0-4-4-6 0-4-4-8zM553 1187l-4 4 0 6 4 4 4 0-4 0-4-4 0-4 8-6zM111 1087l6 6 0 8-2 2 4-6 0-6zM113 1051l0 4 6 4 8 0 8 4 0 8-8 10 0 6 6 4 8 12 20 18 0 4 4 8 0 8 2 2 0 30-8 20-22 20-10 0-6-4 12 10 10 0 18-12 26-28 0-10 2-2 0-8 4-10-2-4 0-10-2-2 0-12-2-4-16-4-4-4-10-4-16-16-6-2-4-4 0-6 6-8-2-8-16-2-6-4zM99 1049l-2 0 0 2zM537 1039l0 4 2 2 6 0 2-2 10-2-4 0-6-4-8 0zM467 1041l0 4 20 12 14 0 2-2 4 0 4-6-6-4-2-4 0 4 4 4 0 4-6 4-10 0-12-6-8-8 0-6 2-2zM97 1033l2 0 2 4 0-2zM517 1029l-8 0-6 8 6-8zM537 1021l-4 4-8 2 4 0zM131 1011l-4 12-6 4-6 8 6-8 8-4 2-8 2-2 4 0 4 6-2 10 2 2 0 12 6 8 10-2 4-4-8 6-4 0-6-4-2-4 0-30-2-2zM557 1003l-2 0-12 12 12-12zM229 989l0 14 4 4 10 0 6-4 0-4 0 2-8 6-8-2-4-6zM517 987l0 2 12 12 6 0 2-4 0-10 0 8-4 4-4 0-10-8 0-4zM493 987l0 12-2 2 0 4-2 2-10-2 8 6 4 8 2-2zM457 999l-6-6 0-4-2-2-6 0-2 6-8 8-2 0 2 0 12-14 2 0zM403 987l0 8 4 4 8 2-4 0-8-8zM309 987l2 2 0 8 10 0 4 4-2-4 2-4 16 0 8-4 6 6 4 16 10 20 6 6 6 0 4-8 14-16 6 4 4 6 0 6-4 8 0 12-2 2 2 12 14 16 0 2 14 14 0 2 18 18 22 14 18 22 4 0 2 2 20-2 8 4 6 6 8 0 10-10 8 0 0-16-4 0-2-2-12 0-2-2-12 0-2-2-8 0-8-4-6 0-12-6-4 0-34-18-28-34-8-16-8-8-2-6 4-8 0-8-12-14-4 4 0 6-4 8-8 8-6 0-4-4-4-20 2-2 0-6 8-8 2 0 2-6-56 0-2 2zM151 987l0 6 4 4 8 2 6 6 4 10 6 4 14 0 10-4 4-4-12-16 0-8-2 0 0 10 8 12-6 8-14 0-16-18-8-2-6-6zM113 987l4 8 8 0-6 0z"/>
<path fill="#441a4a" d="M161 1389l4 4 4 0 2-2-2 2-4 0zM173 1387l4-4 6 0-6 0zM131 1375l2-2 12 0-12 0zM539 1369l-6 0 4 0 2 2 0 4-6 4 8-6zM527 1369l-4 2 0 6 0-6zM97 1345l0 4 18 0 2 2 4 0 8 8 0 6-6 6-6 2-2 4 0 10 0-10 6-6 8-2 2-4-2-8-10-8zM503 1343l2 4 4-2-2-2zM503 1345l2-2 2 2-2 2zM389 1265l-10-4-6 0-2-2-2 2-10 2-4 4-6 2-8 8-2 4 0 12 6 4 4 6-28 20-34 36-6 12-12 16-2 14-2 2-2 20 4 0 0-4 2-2 2-26 20-32 34-34 18-10 4-4 4 0 12-6 16 2 26 16 16 12 12 14 4 8 8 6-6-4-14-24-8-8-22-14-8-8 0-4 8-10 0-4 2-2 0-8zM555 1187l-6 4 0 6 0-6zM111 1087l8 6 0 4 0-6zM129 1079l-2 2 0 6 6 4 8 12 20 18 0 4 4 8 0 8 2 2 0 30-8 20-22 20-10 0-2-2 6 4 8 0 10-6 14-14 4-8 0-4 4-8 0-32-2-2 0-10-6-14-36-34zM407 1041l0 4 6 10 0 4 8 12 10 10 14 20 8 6 40 20 34 10 4 4 0 10 4 6 2 0 4-10 4-4 10 0 2 2 0-10-4 0-2-2-12 0-2-2-12 0-2-2-8 0-8-4-6 0-12-6-4 0-34-18-28-34-8-16-8-8zM537 1039l0 4 2 2 6 0 2-2 10-2-4 0-6-4-8 0zM537 1039l2-2 6 0 4 4-8 4zM471 1037l-4 4 0 4 16 10-14-10 0-6zM397 1007l-4 4 0 6-4 6 4-6 0-4 4-4 6 4zM229 1001l4 6 10 0-10 0zM161 999l8 6 6 12 4 2 14 0-12 0-4-2-6-6-2-6zM493 997l0 18-2 2-4-6-8-6 8 6 4 8 2-2zM403 991l0 4 4 4-4-4zM441 993l2-4 4-2 6 8-4-4 0-4-4 0zM381 987l-4 2-8 0-4 8 0 14 2 2 0 6 4 10 6 6 2 0 8-8-6 6-6 0-4-4-4-20 2-2 0-6 8-8 2 0zM329 989l4 2 6-4-10 0zM309 987l2 2 0 8 10 0 2 2-4-4-4 0-4-8zM195 987l0 10 10 12 0 4-6 4 8-6-12-16z"/>
<path d="M373 1203.9 L386.5 1216.2 L386.5 1230.8 L373 1238.8 L362.3 1233.4 L357 1220 Z" fill="#cdf048"/>
<path d="M342.6 1199.8h25.3M355.1 1187.7v24.2" stroke="#fff" stroke-width="5.3"/>
<path d="M381.9 1203.4h13.4" stroke="#fff" stroke-width="5.7"/>
<ellipse cx="370.2" cy="1207.0" rx="27.8" ry="25.4" fill="none" stroke="#00ffff" stroke-width="4.3" stroke-dasharray="3.4 7.2" stroke-linecap="round"/>
</g>
<clipPath id="cpc1"><rect x="575.4" y="986.0" width="459.4" height="435.2"/></clipPath>
<g clip-path="url(#cpc1)" fill-rule="evenodd">
<rect x="575.4" y="986.0" width="459.4" height="435.2" fill="#cefb43"/>
<path fill="#cdf249" d="M774 1211l-10-4-14 0-20 10-14 16-28 42-28 34-12 20 0 8-4 4-4 0-8-10-20 0-2-2-6 0-12 6-12 10 2 4 6 4-2 2-4 0-6-4 0 72 78 0-4-8 0-4 2-2 0-14 2-2 4 6 0 10 2 2 0 8 2 4 126 0 2-10 2-2 0-18 2-2 0-70-2-2 0-14 2-2 0-58-2-2 0-8-4-8zM650 1393l2-2 2 2-2 2zM614 1385l4-2 4 4 6 0 2 2 20 0 2 2-2 2-22 2-8-4zM612 1383l2-2 2 2-2 2zM610 1379l2-2 2 2-2 2zM608 1377l2-2 2 2-2 2zM606 1373l2-2 2 2-2 2zM604 1369l2-2 2 2-2 2zM602 1367l2-2 2 2-2 2zM596 1361l2-2 2 2-2 2zM594 1359l2-2 2 2-2 2zM590 1357l2-2 4 2-2 2zM586 1355l2-2 4 2-2 2zM576 987l0 178 0-4 4-6 4-14 12-16 0-6 2-2 0-6 2-2 4-16 12-18 10-10 2 2-18 32 0 8-2 2 0 8-2 2 0 10-14 14-12 32 0 8-2 2 0 38-2 2 0 96 2-2 6 0 2-2 10-2 12-10 0-4 2-2-2-12 2-2 4 6 0 18-4 6 0 4 10 2 2 2 20 0 10-16 8-8 36-48 6-12 4-4 2-8 12-12 14-10 4 0 14-6 20 2 8 4 18 22 2 10 2 2 0 8 2 2 0 18-2 2 0 124-2 2 0 18-4 10 236 0 0-2 4-2 0-194-14 0-2 2-12 0-2 2-20 2-6 4-16 4-16 14-2 6-6 8-4 20 2 2 4 22 12 20-4 4-4 0-10 6-4-2 4-4 6-2 2-2 0-4-10-14-2-12-2-2 0-8-2-2 2-18 8-18 4-6 16-14 12-4 6-6 18 0 2-2 40-4 0-126-4 0-2-2 2-2 4 0 0-72-10 0-2-2 2-2 10 0 0-4-20 0-2-2 2-2 20 0 0-16-202 0 2 20 6 12 4 4 4 10 16 14 16 6 8 0 2 2 20 0 8-6 6-2 8-12 0-6-4-6 2-4 8 10 0 4 2 2-2 2 0 4-12 14-6 2-8 6-30 0-22-8-22-22-4-10-4-4-6-12 0-18-2-2-190 0-2 2-2-2zM940 1407l2-2 6 0 2 2-2 2-6 0zM936 1405l2-2 2 2-2 2zM950 1403l2-2 2 2-2 2zM932 1403l2-2 2 2-2 2zM1002 1401l2-2 2 2-2 2zM996 1401l2-2 2 2-2 2zM1030 1399l2-2 2 2-2 2zM994 1399l2-2 2 2-2 2zM930 1399l2-2 2 2-2 2zM1006 1397l2-2 2 2-2 2zM950 1391l2-2 2 4-2 2zM1020 1389l2-2 2 2-2 2zM992 1385l2-2 2 2-2 2zM960 1381l2-2 2 2-2 2zM950 1379l2 2 0 6-2 2-2-2 0-6zM958 1379l2-2 2 2-2 2zM950 1379l2-2 2 2-2 2zM1000 1377l2-2 2 2-2 2zM952 1377l2-2 4 0 2 2-2 2-4 0zM1014 1375l2-2 2 2-2 2zM1006 1375l2-2 2 2-2 2zM930 1365l2 2 0 28-2 2-2-2 0-28zM978 1355l2-2 2 2-2 2zM966 1355l2-2 2 2-2 2zM980 1353l2-2 2 2-2 2zM964 1353l2-2 2 2-2 2zM962 1351l2-2 2 2-2 2zM960 1349l2-2 2 2-2 2zM982 1347l2-2 2 4-2 2zM958 1345l2-2 2 2-2 2zM980 1343l2-2 2 2-2 2zM930 1341l2 2 0 10-2 2-2-2 0-10zM978 1341l2-2 2 2-2 2zM930 1341l2-2 2 2-2 2zM976 1339l2-2 2 2-2 2zM972 1337l2-2 2 2-2 2zM956 1339l0-4 2-2 12 0 2 2-2 2-8 0-4 4zM576 1225l2-2 2 4-2 2zM1024 1101l2-2 2 2-2 2zM1024 1091l2 2 0 4-2 2-2-2 0-4zM1024 1091l2-2 2 2-2 2zM1002 1079l2-2 6 0 2 2-2 2-6 0zM994 1079l2-2 4 2-2 2zM988 1079l2-2 2 2-2 2zM1030 1077l2-2 2 2-2 2zM1010 1077l2-2 2 2-2 2zM980 1077l2-2 4 2-2 2zM1026 1075l2-2 2 2-2 2zM958 1075l2-2 18 0 2 2-2 2-18 0zM1012 1073l2-2 2 4-2 2zM1024 1071l2-2 2 2-2 2zM952 1071l2-2 4 4-4 2zM950 1069l2-2 2 2-2 2zM1024 1065l2-2 2 2-2 2zM994 1065l2-2 2 2-2 2zM626 1065l2-2 2 2-2 2zM1012 1063l2-2 2 2-2 2zM950 1061l2 2 0 4-2 2-2-2 0-4zM628 1063l2-2 2 2-2 2zM996 1061l2-2 2 2-2 2zM630 1061l2-2 2 2-2 2zM1010 1059l2-2 2 2-2 2zM1000 1059l2-2 2 2-2 2zM632 1059l2-2 2 2-2 2zM1030 1057l2-2 2 2-2 2zM948 1053l2 2 0 6-2 2-2-2 0-6zM980 1053l2-2 6 0 2 2-2 2-6 0zM974 1051l2-2 2 2-2 2zM996 1047l2-2 2 2-2 2zM968 1047l2-2 2 2-2 2zM966 1045l2-2 2 2-2 2zM964 1041l2-2 2 2-2 2zM1004 1039l2-2 2 2-2 2zM654 1039l2-2 2 2-2 2zM1030 1037l2-2 2 2-2 2zM950 1035l2 2-2 2-2 14-2 2-2-2 0-12 2-4zM656 1037l2-2 2 2-2 2zM1028 1035l2-2 2 2-2 2zM950 1035l2-2 2 2-2 2zM1026 1033l2-2 2 2-2 2zM1006 1033l2-2 2 4-2 2zM966 1031l2 2-4 6-2-2 0-4zM952 1033l2-2 4 2-2 2zM966 1031l2-2 4 0 2 2-2 2-4 0zM1028 1029l2-2 2 2-2 2zM974 1029l2-2 2 2-2 2zM1030 1027l2-2 4 2-2 2zM976 1027l2-2 2 2-2 2zM962 1025l2 2 0 4-2 2-4 0-2-2zM1002 1025l2-2 2 2-2 2zM978 1025l2-2 2 2-2 2zM962 1025l2-2 2 2-2 2zM1004 1023l4-2 4 4-4 2zM976 1023l2-2 2 2-2 2zM964 1023l2-2 2 2-2 2zM974 1021l2-2 2 2-2 2zM968 1021l2-2 2 2-2 2zM928 1019l2-2 2 2-2 2zM672 1017l2 4-14 16-2-4zM926 1017l2-2 2 2-2 2zM582 1017l2-2 14 0 2 2-2 2-14 0zM602 1015l2-2 4 2-2 2zM606 1013l2-2 4 2-2 2zM922 1011l2-2 2 2-2 2zM678 1009l2 4-6 6-2-4zM610 1011l2-2 2 2-2 2zM1008 1011l4-4 2 4 6 4-8 4-4-4zM614 1009l2-2 2 2-2 2zM1012 1007l2-2 2 2-2 2zM678 1007l2-2 2 4-2 2zM616 1007l2-2 2 2-2 2zM680 1005l2-2 2 2-2 2zM622 999l2 4-4 4-2-4zM682 999l2-2 2 4-2 2zM622 999l2-2 2 2-2 2zM684 995l2-2 2 2-2 2zM1028 993l2-2 2 2-2 2zM1024 989l2-2 2 2-2 2zM630 987l2 4-6 8-2-4z"/>
<path fill="#cce950" d="M1036 1225l-14 0-2 2-24 2-2 2-8 0-6 4-16 4-16 14-2 6-4 4-6 24 2 2 4 22 12 20-4 4-4 0-14 8 0 54 2 2-2 4-4-4 0-6-2-2 2-38-4-8 0-6 10-8-10-8-10-2-12 10-28 4-6 4-4 0-8 4-4 4-18 10-14 14-2 0-6 12-2 22-2 2-2 16 226 0 0-2 4-2zM938 1407l2-2 10 0 2 2-2 2-10 0zM934 1405l2-2 4 2-2 2zM950 1403l2-2 2 4-2 2zM932 1403l2-2 2 2-2 2zM996 1401l2-2 6 0 2 2-2 2-6 0zM1026 1399l2-2 4 0 2 2-2 2-4 0zM1004 1399l2-2 2 2-2 2zM1024 1397l2-2 2 2-2 2zM994 1397l2-2 2 4-2 2zM1022 1395l2-2 2 2-2 2zM954 1393l2 2 0 6-2 2-2-2 0-6zM1008 1389l2 2 0 6-2 2-2-2 0-6zM1020 1389l2-2 2 4-2 2zM1004 1389l2-2 2 2-2 2zM994 1389l2-2 2 4-2 2zM992 1385l2-2 2 2-2 2zM966 1385l2-2 4 2-2 2zM1018 1383l2-2 2 2-2 2zM962 1383l2-2 2 2-2 2zM1016 1379l2-2 2 2-2 2zM998 1379l2-2 2 2-2 2zM1000 1377l2-2 4 2-2 2zM958 1375l6 6-2 2-8-2 0 12-2 2-4-8 0-6 6-6zM1006 1375l2-2 8 0 2 4-2 2zM976 1355l2-2 4 2-2 2zM966 1355l2-2 4 0 2 2-2 2-4 0zM964 1353l2-2 2 2-2 2zM962 1351l2-2 2 2-2 2zM960 1347l2-2 2 4-2 2zM976 1337l2 0 8 10-4 8-2-2 0-8-6-6zM956 1339l0-4 2-2 12 0 6 4-2 2-6 0-2-2-4 2 0 6-2 2zM774 1211l-10-4-14 0-20 10-14 16-28 42-28 34-12 20 0 8-4 4-4 0-8-10-20 0-2-2-6 0-12 6-12 10 2 4 12 6 6 6-4 2-6-4-14-4 0 68 66 0-8-12-22-26 2-4 8 6 6 0 2 2 20 0 8 10 0 10 2 2 0 8 2 4 126 0 2-10 2-2 0-18 2-2 0-70-2-2 0-14 2-2 0-58-2-2 0-8-4-8zM608 1377l2-2 4 6-2 2zM606 1373l2-2 2 4-2 2zM602 1367l2-2 4 6-2 2zM600 1365l2-2 2 2-2 2zM598 1363l2-2 2 2-2 2zM1020 1009l0 2 16 0 0-4-12 0zM576 987l0 178 0-4 4-6 4-14 12-16 0-6 2-2 0-6 2-2 4-16 12-18 16-16 2 4-10 16-2 18 2 4 10 4 12 14-2 12-10 10-12 6-16 2-10 10-4 8 0 4-4 6 0 8-2 2 2 20-8 20-2 2-2-4 0 96 2-2 6 0 2-2 10-2 12-10 0-4 2-2-2-14 2-2 8 8 8 16 4 2 10-2 14-16 6-12 0-8-18-20-4-8 0-14 2-2 0-4 4-8 6-4 12 0 2 2 16 4 20-10 20-2 8-4 6 0 2-2 6 0 10-4 26 0 2 2 10 2 6 4 10 0 24-12 8-8 6-12 6-4 12 6 8 12-2 34 8 8 16 6 26 2 6-6 2-6 6-6 4 0 2-2 14 2 16-6 12 0 8 4 22 0 2-2 14 0 10-4 0-102-4 0-2-2 2-2 4 0 0-12-8 0-2-2 2-2 8 0 0-46-4 0-6-6 0-6 4-4 4 0 2 2-4 2-2 4 6 4 0-22-16 0-8 4-4-4 0-4 8-8 20 0 0-16-42 0-2 2-4-2-18 0-2 2-4 0-2-2-128 0 2 20 6 12 4 4 4 10 16 14 16 6 8 0 2 2 20 0 8-6 6-2 8-12 0-6-8-12 2-4 8 6 10 12 6 0 14-10 2 2-4 4 0 4-10 4-4 4 0 4-2 2 0 8 2 2 2 12 6 6 20 0 8 4-2 2-26 0-10-8-6-14-4 0-14 14-2 0 0 2-16 18-14 8-12 2-2 2-8 0-2 2-18-2-10-8-6-10 0-4-4-6-2-8-14-18-2-62-178 0-4 8-14 16-4-2 16-22zM606 1283l2-2 2 2-2 2zM1026 1103l2-2 2 2-2 2zM1024 1101l2-2 2 2-2 2zM1026 1089l2 2-4 10-2-2 0-8zM984 1079l2-2 4 0 2 2-2 2-4 0zM1030 1077l2-2 4 2-2 2zM1026 1075l2-2 2 2-2 2zM1016 1073l0 4-4 4-16 0-2-2 2-2 14 0 4-6zM1026 1063l2 2 0 6-2 2-2-2 0-6zM994 1063l2-2 2 4-2 2zM1026 1061l2-2 2 2-2 2zM1012 1061l2-2 2 4-2 2zM996 1061l2-2 2 2-2 2zM1010 1059l2-2 2 2-2 2zM998 1059l2-2 4 2-2 2zM632 1059l2-2 2 2-2 2zM1030 1057l2-2 4 2-2 2zM1004 1057l2-2 4 0 2 2-2 2-4 0zM980 1053l2-2 6 0 2 2-2 2-6 0zM990 1051l2-2 2 2-2 2zM974 1051l2-2 4 0 2 2-2 2-4 0zM972 1049l2-2 2 2-2 2zM996 1047l2-2 2 2-2 2zM968 1047l2-2 4 2-2 2zM998 1045l2-2 2 2-2 2zM1000 1043l2-2 2 2-2 2zM966 1043l2-2 2 4-2 2zM652 1043l2-2 2 2-2 2zM1002 1041l2-2 2 2-2 2zM1004 1037l2-2 2 4-2 2zM974 1029l2 2-8 4 0 6-2 2-4-6 0-4 6-4zM1000 1027l2-2 2 2-2 2zM1006 1021l6 4-2 2 0 8-2 2-2-2 0-8-4-2zM976 1019l6 4 0 4-4 4-4-2 4-4-4-4zM966 1021l2-2 4 2-2 2zM924 1013l2-2 2 2-2 2zM922 1011l2-2 2 2-2 2zM614 1011l-4 4-10 2-2 2-14 0-6-4 2-2 24 0 6-4zM682 1003l2 2 0 4-4 8-16 18 0 2-8 6-2-4zM684 997l2 2 0 4-2 2-2-2 0-4zM684 995l2-2 2 4-2 2zM1028 993l2-2 2 2-2 2zM1024 989l2-2 2 4-2 2z"/>
<path fill="#c9df57" d="M576 1359l0 64 56 0-10-14-20-40-6-6zM966 1339l-2 2 0 6 6 6 8 0 2-2-2-8-6-4zM1036 1225l-14 0-2 2-24 2-2 2-8 0-6 4-16 4-16 14-2 6-6 8-4 20 2 2 4 22 12 20-4 4-4 0-14 8 0 54 2 4 6 4 10 0 2-10-4-8 0-6 6-6 4 0 8 8-2 2-8-2 0 20-6 8-12-2-12-10 0-44-2-4-8-6-18 0-2 2-10 0-2 2-10 2-26 16-18 18-6 12-8 26 216 0 0-2 4-2zM1026 1399l2-2 4 0 2 2-2 2-4 0zM1022 1395l2-2 4 4-4 2zM1022 1387l2 2 0 4-2 2-2-2 0-4zM1004 1389l2-2 2 2-2 2zM994 1387l2-2 4 4-2 2 0 6 2 2 6-4 0-4 2-2 2 2 0 6-6 6-6 0-4-4zM992 1385l2-2 2 2-2 2zM964 1385l2-2 4 0 2 2-2 2-4 0zM1018 1383l2-2 2 4-2 2zM994 1383l2-2 2 2-2 2zM996 1381l2-2 2 2-2 2zM1016 1379l2-2 2 4-2 2zM998 1379l2-2 2 2-2 2zM1000 1377l2-2 4 2-2 2zM1006 1375l2-2 8 0 2 4-2 2zM956 1335l2-2 12 0 8 4 8 10-2 6-4 4-12 0-8-8zM774 1211l-10-4-14 0-20 10-14 16-28 42-28 34-12 20 0 8-4 4-4 0-8-10-20 0-2-2-6 0-12 6-12 10 2 4 12 6 14 14 6 12 8 6 6 0 2 2 20 0 8 10 0 10 2 2 0 8 2 4 126 0 2-10 2-2 0-18 2-2 0-70-2-2 0-14 2-2 0-58-2-2 0-8-4-8zM610 1191l-10 20-20 18-2 0-2-4 0 96 2-2 6 0 2-2 10-2 12-10 0-4 2-2 0-6-4-10 2-4 18 0 4-2 2-4 0-28-2-2 0-18-2-2 0-6-6-14-6-8zM1036 1027l-6 4 4 6 2 0zM834 987l2 20 6 12 4 4 4 10 16 14 16 6 8 0 2 2 20 0 8-6 6-2 8-12 0-6-8-12 2-4 14 8 2 4 6 4 6-2 14-10 6 0 8 6 0 4-6 6-4 0-6 4 2 6 4 4-2 2-6-4-4-8 0-4 2-2 10-2 4-4-6-4-8 6 0 4-2 2-4 0-8 6-2 14 2 2 2 12 6 6 20 0 14 6-2 2-18 0-2 2-4 0-2-2-10 0-2-2-4 0-6-6-4 2-50 48-4 6 0 6-2 2 2 14 6 12 20 20 18 10 4 0 20 8 22 2 2 2 6 0 10 4 28 0 2-2 12-2 2-2 0-96-6 0-2-2 2-2 6 0 0-12-8 0-4 10-4-8 4-6 12 0 0-8-4 0-2-2 2-2 4 0 0-16-4 0-2-2 2-2 4 0 0-14-6 0-6-6 2-6 4-4 6-2 0-8-16 0-8 4-4-4 0-4 8-8 20 0 0-6-4-2 4-2 0-6-10 0 2 2-2 4-4-6-24 0-6 6-4 0-8-4-16 4-4-2-2-4zM1024 1101l2-2 4 4-4 2zM966 1099l4-2 2 2 0 4-4 2-2-2zM990 1081l2-2 4 2-2 2zM1026 1073l2-2 4 4-4 2zM1016 1073l0 6-6 4-14-2-2-2 2-2 14 0 4-6zM1026 1063l2 2 0 6-2 2-2-2 0-6zM994 1063l2-2 2 4-2 2zM1026 1061l2-2 2 2-2 2zM996 1061l2-2 2 2-2 2zM1028 1059l2-2 2 2-2 2zM998 1059l2-2 4 2-2 2zM1002 1057l2-2 8 0 4 4 0 4-2 2-4-6-6 0zM992 1049l2-2 2 2-2 2zM972 1049l4-2 2 2 14 0 2 2-6 4-6 0-2-2-4 0zM994 1047l2-2 4 2-2 2zM998 1045l2-2 2 2-2 2zM1000 1043l2-2 2 2-2 2zM1008 1021l4 4-2 2 0 8-6 8-2-2 2-4 0-8-4-2zM924 1013l2-2 2 2-2 2zM922 1011l2-2 2 2-2 2zM1026 993l2-2 4 2-2 2zM576 987l0 178 0-4 4-6 4-14 12-16 0-6 2-2 0-6 2-2 4-16 12-18 18-18 2 2 0 4-6 10 0 6-2 2 2 10 8 8 18 10 10 10 0 8-8 12-8 18 2 14 8 8 10 6 4 0 8 4 16 2 2 2 8 0 2 2 36 0 2-2 6 0 2-2 6 0 2-2 20-4 10-8 2-4 0-26 14-26 0-6 2-2-2-16-6-12-2-12-2-2 0-32 2-2-2-50-166 0-4 8-14 16-10 6-6 0-2 2-14 0-8-4 2-2 20 0 2-2 6 0 10-8 6-12 4-4zM650 1045l2-2 2 2-2 2zM684 997l2 2 0 6-2 2-2 10-8 12-14 14-6 2-2-2 10-16 16-18zM684 995l2-2 2 4-2 2z"/>
<path fill="#c6d55e" d="M1000 1391l-2 2 2 4 4 0 0-6zM576 1361l0 62 50 0-4-4-8-16-2-12-6-14-12-12-16-2zM964 1343l4 8 4 2 6-2 0-6-4-4-8 0zM1036 1225l-14 0-2 2-24 2-2 2-8 0-6 4-16 4-16 14-2 6-6 8-4 20 2 2 4 22 12 20-4 4-4 0-14 8 0 54 2 4 6 4 10 0 2-10-4-8 0-6 6-6 4 0 8 8 14 2 2 2-2 4-4 0-6-4-8 0-4-2 0 14-4 10-6 4-2-2-12-2-8-6-4-8 2-38-8 0-2 2-28 0-14 6-26 20-14 24-4 14 168 0 2-4 4 0 2 4 28 0 0-2 4-2 0-16-10-2-6-6 0-6 2-2 2 2 0 4 4 4 8 2zM1020 1381l2 2 0 4-2 2-2-2 0-4zM996 1381l2 2 0 4 2-2 2 2 4 0 4 4 0 6-6 6-6 0-4-4 0-12-2-2zM996 1381l2-2 2 2-2 2zM998 1379l4-4 14-2 4 8-2 2-8-6-8 4zM1006 1357l4-6 4 0 2 2-4 6-4 0zM956 1335l2-2 12 0 8 4 8 10-2 6-4 4-12 0-8-8zM616 1217l-4 0-2-2-2 2-4 0-8 6-8 2-6 4-4 0-2-4 0 96 2-2 6 0 2-2 10-2 12-10 2-12-2-2-2-12 16-14 2-10 2-2 0-20-4-10zM774 1211l-10-4-14 0-20 10-14 16-28 42-28 34-12 20 0 8-4 4-4 0-8-10-20 0-2-2-6 0-12 6-12 10 2 4 12 6 14 14 6 12 8 6 6 0 2 2 20 0 8 10 0 10 2 2 0 8 2 4 126 0 2-10 2-2 0-18 2-2 0-70-2-2 0-14 2-2 0-58-2-2 0-8-4-8zM1028 1091l-2 2 0 6 4 4 6 0 0-12zM1036 1027l-6 4 4 6 2 0zM834 987l2 20 6 12 4 4 4 10 16 14 16 6 8 0 2 2 20 0 8-6 6-2 8-12 0-6-8-12 2-4 12 4 8 8 8 0 12-8 10 0 6 4 2 4-6 8-8 2-2 2 0 4 10 8 12 0 2 2-6 4-6 0-2-2-4 0-10-8-4-8 0-4 6-4 6 0 4-4-6-4-8 6 0 4-2 2-4 0-8 6-2 14 2 2 2 12 6 6 20 0 14 6 4-2 14 0 4-6-2-10-2-2-6 0-4 2-4 6-2-2 0-4 8-6 10-2 4 4 0 4 2 2 0 12-2 2 0 4-2 2-38 0-4 6 4 6 0 8-6 6-4 0-4-4 0-4 4-6 0-8-2-2-10-2-6 4-8 2-18 18-12 16-6 14 0 12 6 10 12 12 12 8 10 4 4 4 8 2 6 4 4 0 26 10 8 0 2 2 14 0 2-2 8 0 10-4 0-92-8 0-8-10 0-8 2-2 14 0 0-8-4 0-2-2 2-2 4 0 0-16-4 2-4-2 4-4 4 0 0-12-4 0-8-6 0-8 4-4 8-2 0-8-16 0-8 4-4-4 0-4 8-8 20 0 0-6-4 0-2-2 2-2 4 0 0-6-10 0 2 2-2 4-4-6-22 0-4 6-38 0-2-2 0-4zM1026 1063l6 12-2 2-2 0-4-6 0-6zM1026 1061l2-2 2 4-2 2zM992 1049l2-2 2 2-2 2zM1008 1021l4 4-2 2 0 8-2 4-10 10-2 0-2-2 10-12 0-4-4-4zM924 1013l2-2 2 2-2 2zM922 1011l2-2 2 2-2 2zM1026 993l2-2 4 2-2 2zM576 987l0 178 0-4 4-6 4-14 12-16 0-6 2-2 0-6 2-2 4-16 12-18 18-18 2 2 0 12-2 2 0 8 2 4 10 10 12 6 20 6 18 16-2 10-16 18 2 6 12 12 26 18 10 4 22 0 14-6 10-8 2-4 0-14-4-8 0-14 16-22 0-14-8-22 2-12 6-14 2-20 2-2 0-10-2-2 0-28-2-4-154 0-4 8-14 16-10 6-6 0-2 2-14 0-8-4 6-4 18 0 10-4 14-20zM686 993l2 2 0 6-2 2 0 6-8 20-16 16-10 2-2-2 12-18 16-18z"/>
<path fill="#c5cb64" d="M1004 1393l-2-2-2 4zM576 1365l0 58 44 0-6-10-8-32-10-10-10-2-2-2-6 0zM968 1341l-2 2 0 4 4 4 6 0 2-2-2-4zM1036 1225l-14 0-2 2-24 2-2 2-8 0-6 4-16 4-16 14-2 6-6 8-4 20 2 2 4 22 12 20-4 4-4 0-14 8 0 54 2 4 6 4 10 0 2-10-4-8 0-6 6-6 4 0 8 8 14 0 4 6-6 6-8-6-10-2-2 2 0 14-6 10-8 0-8-4-6 0-10-10 0-4-2-2 0-12-4-6-14-6-12 0-18 8-8 8-2 0-12 16-8 22 154 0 4-6 6 0 4 6 24 0 0-2 4-2 0-16-8 0-6-4-4-14-4-6-10 0-2 2-4-2 4-4 14-2 6 10 2 10 4 4 8 2zM996 1381l2 4 8 2 4 4 0 6-6 6-6 0-4-4 0-12-2-2zM996 1381l2-2 2 2-2 2zM1002 1359l2-6 6-4 6 0 4 4-4 6-4 0-2 2-6 0zM956 1335l2-2 12 0 8 4 8 10-2 6-4 4-12 0-8-8zM614 1223l-14 0-20 8-4-6 0 96 2-2 6 0 2-2 10-2 12-10 2-12-2-2-2-12 10-14 6-16 0-12-4-10zM774 1211l-10-4-14 0-20 10-14 16-28 42-28 34-12 20 0 8-4 4-4 0-8-10-20 0-2-2-6 0-12 6-12 10 2 4 12 6 14 14 6 12 8 6 6 0 2 2 20 0 8 10 0 10 2 2 0 8 2 4 126 0 2-10 2-2 0-18 2-2 0-70-2-2 0-14 2-2 0-58-2-2 0-8-4-8zM720 1157l-2 4 0 8 4 8 12 10 6 0 2 2 10-2 8-6 4-8-2-10-8-6-12-2-2-2-14 0zM1028 1091l-2 2 0 6 4 4 6 0 0-12zM1032 1061l-2 2 0 8 6 4 0-14zM1036 1027l-6 4 4 6 2 0zM1026 987l2 4 8 2 0-6zM834 987l2 20 6 12 4 4 4 10 16 14 16 6 8 0 2 2 20 0 8-6 6-2 8-12 0-6-10-16 2-2 16 4 8 8 8 0 4-4 10-4 8 2 6 6 0 4-8 8-4 0-2 2 0 6 12 6 6 0 2-2 4 2-8 6-6 0-2-2-4 0-10-8-4-8 0-4 6-4 6 0 4-4-6-4-8 6 0 4-2 2-4 0-8 6-2 14 2 2 2 12 6 6 20 0 14 6 4-2 14 0 4-6-2-10-2-2-6 0-4 2-4 6-2-2 0-4 12-8 8 0 4 6 0 22-4 4-8 0-2-2-22 0-4 2 0 18-2 4-6 4-6 0-4-4 2-18-2-2-6 0-10 8-6 12-12 16-4 10 0 12 4 10 16 16 36 20 4 0 10 6 14 2 2 2 16-2 2-2 10-2 0-86-10-2-4-4-4-10 0-4 6-4 12 0 0-6-8-2-4-6 2-10 6-6 4 0 0-12-8 0-6-8 2-6 6-6 6 0 0-8-16 0-8 4-4-4 0-4 8-8 20 0 0-6-10-2-4-4 0-4-22 0 0 4-6 4-12 0-2-2-4 0-2 2-16 0-6-8zM1008 1021l4 4-2 2 0 8-2 4-10 10-2 0-2-2 8-10-2-10zM922 1011l2-2 2 2-2 2zM778 987l-144 0-10 16-14 12-10 2-2 2-14 0-2-2-6 0 0 148 0-4 4-6 4-14 12-16 0-6 2-2 0-6 2-2 4-16 12-18 18-18 4 2 2 14 4 8 10 10 8 4 4 0 8 4 6 0 2 2 6 0 2 2 22 2 24 14 14 0 4-2 10-12 0-26 2-2 0-8 14-32 0-12 2-4-2-2 0-20-2-2zM686 993l2 2 0 8-2 2 0 8-2 2 0 8-2 2-2 10-10 10-8 4-8 0-4-4 12-18 16-18zM576 1013l8-4 16 0 2-2 4 0 8-8 6-12-44 0z"/>
<path fill="#c3c16a" d="M576 1371l0 52 38 0-4-14-4-6 0-16-4-8-20-8zM966 1345l4 4 6 0-4-6-4 0zM1036 1225l-14 0-2 2-24 2-2 2-8 0-6 4-16 4-16 14-2 6-6 8-4 20 2 2 4 22 12 20-4 4-4 0-14 8 0 54 2 4 6 4 10 0 2-10-4-8 0-6 6-6 4 0 8 8 14 0 4 4 0 4-6 6-10-8-6 0-2 2 0 8-4 10-6 6-4 0-6-4-16-2-6-6-6-16-6-6-10-4-6 0-14 6-12 12-8 14-4 14 140 0 0-4 6-4 8 2 2 2 0 4 24 0 0-2 4-2 0-16-10 0-6-6-2-10-6-8-6 0-8 6 8 2 4 4 0 6-6 6-6 0-4-4 0-12-2-2 10-10 14-2 6 10 2 10 4 4 8 2zM1022 1353l0 2-8 6-4 0-2 2-6 0-2-2 2-8 10-6 6 2zM956 1335l2-2 12 0 8 4 8 10-2 6-4 4-12 0-8-8zM606 1225l-20 4-2 2-4 0-4-6 0 96 2-2 6 0 16-6 8-8 0-4 2-2 0-6-4-10 0-8 10-18 2-20-2-4zM774 1211l-10-4-14 0-20 10-14 16-28 42-28 34-12 20 0 8-4 4-4 0-8-10-20 0-2-2-6 0-12 6-12 10 2 4 12 6 14 14 6 12 8 6 6 0 2 2 20 0 8 10 0 10 2 2 0 8 2 4 126 0 2-10 2-2 0-18 2-2 0-70-2-2 0-14 2-2 0-58-2-2 0-8-4-8zM738 1169l-2 2 0 6 6 6 6 0 4-4 0-8-4-2zM1028 1091l-2 2 0 6 4 4 6 0 0-12zM954 1091l-8 10 0 10-10 22 0 12 6 12 18 16 18 8 4 4 20 10 22 0 2-2 10-2 0-82-8 0-8-8-4-14-4 0-2-2-28 0-2 2 0 16-2 4-8 6-8 0-6-8 2-2 0-12zM1032 1061l-2 2 0 8 2 2 4 0 0-12zM1036 1027l-6 4 4 6 2 0zM1026 987l2 4 8 2 0-6zM834 987l2 20 6 12 4 4 4 10 16 14 16 6 8 0 2 2 20 0 18-12 4-8 0-6-12-18 2-2 4 2 12 0 4 2 6 8 8 0 12-6 8 0 4 2 6 6 0 4-8 8-8 4 0 2 8 6 12 0 8-8 0-12 8-6 4 4-2 2 0 8-2 4-10 10-10 6-12-2-10-8-4-8 0-4 6-4 6 0 4-4-4-4-6 2-4 4 0 4-2 2-4 0-8 6-2 14 2 2 2 12 6 6 20 0 14 6 4-2 14 0 4-6 0-6-4-6-10 2-6 8-2-4 8-10 10-2 2-2 6 6 0 26 2 2 16 0 0-6-8-2-4-6 2-10 6-6 4 0 0-10-6 0-8-6 0-8 6-8 8-2 0-6-16 0-8 4-4-4 0-4 8-8 20 0 0-6-8 0-8-8 0-2-18 0 0 2-10 8-4 0-2-2-22 0-2 2-4 0-8-6 0-4zM766 987l-132 0-10 16-14 12-10 2-2 2-14 0-2-2-6 0 0 148 0-4 4-6 4-14 12-16 0-6 2-2 0-6 2-2 4-16 12-18 18-18 2 0 12 12 6 12 10 8 4 0 8 4 12 0 2 2 42 0 2-2 4 0 8-10 6-22 18-30 0-26-2-2zM686 993l2 2 0 14-2 2 0 30-14 12-16 0-6-8 12-18 16-18zM576 1013l4-4 4 0 2-2 12 0 8-4 12-16-42 0z"/>
<path fill="#c2b86c" d="M576 1375l0 48 32 0-2-10-6-10 2-18-8-6zM968 1345l4 4 2-2-2-2zM1036 1225l-14 0-2 2-24 2-2 2-8 0-6 4-16 4-16 14-2 6-6 8-4 20 2 2 4 22 12 20-4 4-4 0-14 8 0 54 2 4 6 4 10 0 2-10-4-8 0-6 6-6 4 0 8 8 10 0 4-2 6 6-2 8-2 2-6 0-8-6-6 0-4 18-8 8-14-6-14 2-8-8-4-12-6-6-4-2-12 0-8 4-8 10-4 8-4 16 126 0 4-8 12 0 4 4 0 4 22 0 0-2 4-2 0-14-12-2-4-4-2-10-4-8-12 0-4 4 8 2 4 4 0 6-6 6-6 0-4-4 0-12-2-2 10-10 14-2 6 10 2 10 4 4 8 2zM996 1363l2-6 10-10 10 0 6 6 0 4-6 4-12 2-2 2-6 0zM956 1335l2-2 12 0 8 4 8 10-2 6-4 4-12 0-8-8zM604 1229l-24 2-4-6 0 96 2-2 6 0 16-6 8-8 0-4 2-2-2-14-4-6 2-2 0-6 8-20 0-10-2-2 0-4zM774 1211l-10-4-14 0-20 10-14 16-28 42-28 34-12 20 0 8-4 4-4 0-8-10-20 0-2-2-6 0-12 6-12 10 2 4 12 6 14 14 6 12 8 6 6 0 2 2 20 0 8 10 0 10 2 2 0 8 2 4 126 0 2-10 2-2 0-18 2-2 0-70-2-2 0-14 2-2 0-58-2-2 0-8-4-8zM1028 1091l-2 2 0 6 4 4 6 0 0-12zM988 1085l-6 4 2 10-4 8-8 8-4 0-2 2-10 0-4 4-4 10 0 16 4 8 12 12 20 10 10 8 14 6 16 0 2-2 6 0 4-2 0-76-10-2-8-10 0-4-6-8-6 0-2-2zM1034 1061l-4 4 0 4 6 4 0-12zM1036 1027l-6 4 4 6 2 0zM1026 987l2 4 8 2 0-6zM834 987l2 20 6 12 4 4 4 10 16 14 16 6 8 0 2 2 20 0 18-12 4-8 0-6-12-18 2-2 20-2 10 14 14-6 12 0 8 6 0 8-6 6-8 4 4 6 4 0 2 2 6 0 6-4 4-8 0-8 8-6 4 4-2 2 0 8-2 4-10 10-10 6-12-2-10-8-4-8 0-4 6-4 6 0 4-4-4-4-6 2-4 4 0 4-2 2-4 0-8 6-2 14 2 2 2 12 6 6 20 0 14 6 4-2 14 0 4-6 0-6-4-6-10 2-6 8-2-2 0-4 4-6 12-6 8 0 2 2 0 20 2 2 0 6 6 4 10 0 0-6-8-2-4-6 2-10 6-6 4 0 0-10-10 0-4-4 0-12 6-6 8-2 0-6-16 0-8 4-4-4 0-4 8-8 20 0 0-6-8 0-8-6 0-4-16 0-8 10-46 0-4-6 2-4zM754 987l-120 0-10 16-14 12-10 2-2 2-14 0-2-2-6 0 0 148 0-4 4-6 4-14 12-16 0-6 2-2 0-6 2-2 4-16 12-18 18-18 6 0 2 2 8-2 0-8-2-2 6-6 8-14 20-24 0-4 6-10 2 2 0 10-2 2 0 16 2 2 0 6 4 8 6 6 2 10-10 8-12 2-2 2-12 0-6 4 0 4 2 2 0 4 6 6 4 0 2 2 40 0 8-4 6-6 8-16 12-16 6-4 6-8 0-4 2-2 0-10-2-2 0-6-4-8 0-8zM576 1013l4-6 8-4 10-2 8-6 6-8-36 0z"/>
<path fill="#c0af6c" d="M886 1395l-6 10 0 18 30 0 0-10-2-2-2-14-4-4-12 0zM576 1381l0 42 20 0 0-8-6-8 0-6 6-6 2-8-8-6zM1036 1225l-14 0-2 2-24 2-2 2-8 0-6 4-16 4-16 14-2 6-4 4-6 24 2 2 4 22 12 20-4 4-4 0-14 8 0 54 2 4 6 4 10 0 2-10-4-8 0-6 6-6 4 0 8 8 8 0 6-6 6 8 0 8-4 6-6 0-4-4-8-2-2 2-4 16-8 8-10-6-10 0-6 4-4 6 70 0 0-6 6-4 8 0 4 2 4 8 20 0 0-2 4-2 0-14-8 0-4-2-6-6-2-12-4-4-8 0-4 2 2 4 4 0 4 4 0 6-6 6-6 0-4-4 0-12-2-2 10-10 14-2 6 10 2 10 4 4 8 2zM1026 1353l0 4-4 4-12 2-8 4-6 0-2-2 0-4 4-6 12-10 6 0zM956 1335l2-2 12 0 8 4 8 10-2 6-4 4-12 0-8-8zM576 1225l0 96 2-2 6 0 16-6 8-8 0-4 2-2-2-14-4-6 0-4 2-2 0-10 2-2 0-22-6-6-16 0-2-2-4 0zM774 1211l-10-4-14 0-20 10-14 16-28 42-28 34-12 20 0 8-4 4-4 0-8-10-20 0-2-2-6 0-12 6-12 10 2 4 12 6 14 14 6 12 8 6 6 0 2 2 20 0 8 10 0 10 2 2 0 8 2 4 126 0 2-10 2-2 0-18 2-2 0-70-2-2 0-14 2-2 0-58-2-2 0-8-4-8zM1028 1091l-2 2 0 6 4 4 6 0 0-12zM988 1087l-2 2 0 12-6 10-6 6-12 6-4 8 0 16 4 8 8 8 22 12 4 4 14 6 24 0 2-2 0-72-8 0-8-8-4-10-8-6zM1034 1063l-2 2 0 6 4 2 0-10zM1036 1027l-6 4 4 6 2 0zM1026 987l2 4 8 2 0-6zM952 1001l-2 4 0 8 4 6 22-6 2 2 4 0 8 8-2 8-12 8 0 2 6 4 10 0 6-8 2-10 6-6 6 4-2 2 0 8-2 4-16 14-10 2-12-6-8-12 0-4 2-2 10-2 4-4-4-4-6 2-4 4 0 4-2 2-4 0-8 6-2 14 2 2 2 12 6 6 20 0 14 6 4-2 14 0 4-6 0-6-4-6-10 2-6 10-2-2 0-8 6-6 8-4 10-2 4 6 0 24 2 4 14 2 0-6-8-2-4-6 2-10 6-6 4 0 0-10-12 0-4-4 0-10 2-4 8-6 6 0 0-6-16 0-8 4-4-4 0-4 8-8 20 0 0-4-10-2-8-10-14 0 0 4-6 6-4 0-2 2-6 0-2-2-20 0-2 2zM834 987l2 20 6 12 4 4 4 10 16 14 16 6 8 0 2 2 20 0 18-12 4-8 0-6-12-18 18-16 2-8zM746 987l-112 0-10 16-14 12-10 2-2 2-14 0-2-2-6 0 0 148 0-4 4-6 4-14 12-16 0-6 2-2 0-6 2-2 4-16 12-18 18-18 8 0 4-2 2-8 34-44 0-4 6-10 2 2 0 18 2 2 0 10 2 4 8 8 6 2 12 12 10 2 8-4 16-18 0-12-6-10zM576 1009l6-8 6-2 12-12-24 0z"/>
<path fill="#bea56c" d="M592 1387l-6-2-10 4 0 16 10-10 6-2zM1036 1225l-14 0-2 2-24 2-2 2-8 0-6 4-16 4-16 14-2 6-4 4-6 24 2 2 4 22 12 20-4 4-4 0-14 8 0 54 2 4 6 4 10 0 2-10-4-8 0-6 6-6 4 0 8 8 6 0 4-4 0-4 6-4 4 0 2 2-4 8 2 2 0 12-4 6-6 0-4-4-8-2-2 8-4 6 0 4-6 8-6-2-4-4-10 0-6 8 62 0 0-4 4-6 16 0 4 4 0 6 20 0 0-2 4-2 0-14-12 0-6-6 0-6-4-10-8-2-6 4 2 2 4 0 4 4 0 6-6 6-6 0-4-4 0-12-2-2 10-10 14-2 6 10 2 10 4 4 8 2zM1030 1355l-4 6-14 2-18 8-4-2 8-16 10-8 12 0zM956 1335l2-2 12 0 8 4 8 10-2 6-4 4-12 0-8-8zM576 1225l0 96 2-2 6 0 16-6 8-8 0-4 2-2-2-14-4-6 0-32-4-8-20-8zM774 1211l-10-4-14 0-20 10-14 16-28 42-28 34-12 20 0 8-4 4-4 0-8-10-20 0-2-2-6 0-12 6-12 10 2 4 12 6 14 14 6 12 8 6 6 0 2 2 20 0 8 10 0 10 2 2 0 8 2 4 126 0 2-10 2-2 0-18 2-2 0-70-2-2 0-14 2-2 0-58-2-2 0-8-4-8zM1028 1091l-2 2 0 6 4 4 6 0 0-12zM994 1087l-6 4 0 4 2 2-10 20-8 8-4 8 0 16 10 12 22 14 4 0 8 4 8 0 2 2 14 0 0-68-10-2-6-6-4-10-6-6-4 0-2-2zM1034 1063l-2 2 0 4 4 2 0-8zM1036 1027l-6 4 4 6 2 0zM1026 987l2 4 8 2 0-6zM952 1005l0 8 4 4 4 0 8-4 12 0 10 8 0 8-2 4-8 6 0 2 6 4 4 0 6-4 2-10 8-10 6 4-2 2 0 8-2 4-10 10-10 6-6 0-12-6-8-12 0-4 2-2 10-2 4-4-4-4-6 2-4 4 0 4-2 2-8 2-4 4-2 14 2 2 2 12 6 6 20 0 14 6 4-2 14 0 4-6 0-6-4-6-10 2-6 10-4-6 10-12 4 0 6-4 8-2 2 2 0 28 4 6 12 0 0-4-8-2-4-6 2-10 6-6 4 0 0-8-16 0-2-2 2-4 0-12 8-8 8 0 0-6-16 0-8 4-4-4 0-4 8-8 20 0 0-4-6 0-8-4-4-8-12 0-2 6-8 6-36 0zM834 987l2 20 6 12 4 4 4 10 16 14 16 6 8 0 2 2 20 0 18-12 4-8 0-6-12-18 2-2 6-22zM740 987l-106 0-10 16-14 12-10 2-2 2-14 0-2-2-6 0 0 148 0-4 4-6 4-14 12-16 0-6 2-2 0-6 2-2 4-16 12-18 18-18 8-2 6-6 14-22 10-10 10-14 0-4 6-10 6 10 2 18 2 4 22 18 4 2 10 0 10-6 4-6 0-14-6-10 0-16zM588 987l-12 0 0 14z"/>
<path fill="#b7996b" d="M930 1419l0 4 16 0 0-2-8-6-4 0zM1032 1365l-2-2-14 0-24 10-6 6 0 6 2 2-2 12-4 4-4 0-8-6-4 0-4 4 0 4-4 6 0 4-4 8 32 0 2-8 6-4 10 0 2 2 4 0 4 6 0 4 18 0 0-2 4-2 0-12-14-2-4-4-2-14-4-4-10 0-2 2 2 2 4 0 4 4 0 6-6 6-6 0-4-4 0-12-2-2 10-10 14-2 6 10 2 10 4 4 8 2 0-14-4-2 0-6-2-2 2-2zM1036 1225l-14 0-2 2-24 2-2 2-8 0-6 4-16 4-16 14-2 6-4 4-6 24 2 2 4 22 12 20-4 4-4 0-14 8 0 54 4 6 4 2 10 0 2-10-4-8 0-6 6-6 4 0 8 8 6 0 2-2 0-6 4-4 10-4 10-16 12-8 8 0 14 12 4 0zM944 1353l2-2 4 0 4 6-6 4-4-4zM956 1335l2-2 12 0 8 4 8 10-2 6-4 4-12 0-8-8zM576 1225l0 96 2-2 6 0 16-6 8-8 0-4 2-2-2-14-4-6 0-6-2-2 0-8-2-2-2-14-2-4-6-6-8-4zM774 1211l-10-4-14 0-20 10-14 16-28 42-28 34-12 20 0 8-4 4-4 0-8-10-20 0-2-2-6 0-12 6-12 10 2 4 12 6 14 14 6 12 8 6 6 0 2 2 20 0 8 10 0 10 2 2 0 8 2 4 126 0 2-10 2-2 0-18 2-2 0-70-2-2 0-14 2-2 0-58-2-2 0-8-4-8zM1028 1091l-2 2 0 6 4 4 6 0 0-12zM996 1089l-4 2 0 8-6 10 0 6 6 8-6 4-8 10 0 12 12 14 14 8 4 0 8 4 8 0 2 2 10 0 0-64-10 0-6-6-4-10-6-6-4-2zM1034 1065l0 4 2 2 0-6zM1028 1047l-6 4 0 4-2 2 0 18 6 8 10 0 0-4-8-2-4-6 2-10 6-6 4 0 0-8zM1036 1027l-6 4 4 6 2 0zM1026 987l2 4 8 2 0-6zM1036 999l-8 0-4-2-8-10-10 0 0 4-8 8-4 0-2 2-6 0-2-2-20 0-2 2-4 0-4 4 0 8 2 2 8 0 2-2 16 0 8 6 2 10-10 10 2 4 8 0 4-4 2-10 8-8 6 4-2 2 0 8-2 4-16 14-10 2-12-6-8-12 0-4 2-2 10-2 4-4-4-4-6 2-4 4 0 4-2 2-4 0-8 6-2 14 2 2 2 12 6 6 20 0 14 6 4-2 14 0 4-6 0-6-4-6-10 2-6 12-4-4 0-6 6-8 18-8 4-4 0-10 6-10 12-4 0-4-16 0-8 4-4-4 0-4 8-8 20 0zM834 987l2 20 6 12 4 4 4 10 16 14 16 6 8 0 2 2 20 0 18-12 4-8 0-6-12-18 0-20 2-4zM736 987l-102 0-10 16-14 12-10 2-2 2-14 0-2-2-6 0 0 148 0-4 4-6 4-14 12-16 0-6 2-2 0-6 2-2 4-16 12-18 18-18 12-6 16-24 20-24 0-4 4-8 4-2 10 8 4 8-2 10 4 8 18 12 12 0 8-6 0-10-4-8-2-20z"/>
<path fill="#b08d6a" d="M932 1419l0 4 12 0-4-6-6 0zM1028 1367l-2-2-14 0-18 8-6 6 0 16-2 2 0 4-6 4-10-6-4 0-6 10-4 14 30 0 0-8 4-4 18 0 6 4 0 6 2 2 16 0 0-2 4-2 0-12-12 0-6-6-2-4 0-8-4-6-8 0-2 2 0 2 4 0 4 4 0 6-6 6-6 0-4-4 0-12-2-2 10-10 14-2 6 10 2 10 4 4 8 2 0-10-6-4zM1036 1225l-14 0-2 2-24 2-2 2-8 0-6 4-16 4-16 14-2 6-4 4-6 24 2 2 4 22 12 20-4 4-4 0-14 8 0 54 4 6 4 2 10 0 2-10-4-8 0-6 6-6 4 0 8 8 6 0 0-10 4-4 10-2 8-12 12-12 14 0 12 8 4 0zM942 1353l4-4 4 0 6 8-6 6-4 0-4-4zM956 1335l2-2 12 0 8 4 8 10-2 6-4 4-12 0-8-8zM576 1225l0 96 2-2 6 0 16-6 8-8 0-4 2-2-2-14-12-24-2-12zM774 1211l-10-4-14 0-20 10-14 16-28 42-28 34-12 20 0 8-4 4-4 0-8-10-20 0-2-2-6 0-12 6-12 10 2 4 12 6 14 14 6 12 8 6 6 0 2 2 20 0 8 10 0 10 2 2 0 8 2 4 126 0 2-10 2-2 0-18 2-2 0-70-2-2 0-14 2-2 0-58-2-2 0-8-4-8zM1028 1091l-2 2 0 6 4 4 6 0 0-12zM998 1091l-2 2 0 6-6 10 8 6 16 2 2 4-4 4-16 6-8 8 0 12 2 4 14 12 32 8 0-60-12 0-4-4-4-12-8-8zM1034 1067l2 2 0-2zM1026 1049l-4 4-2 20 4 8 4 2 8 0 0-4-8-2-4-6 2-10 6-6 4 0 0-6zM1036 1027l-6 4 4 6 2 0zM1026 987l2 4 8 2 0-6zM1036 999l-10 0-8-6-2-6-8 0 0 4-12 10-20 0-2-2-4 0-2 2-10 2-2 2 0 8 2 2 4-2 8 0 2-2 8 0 12 10 2 6-8 12 0 2 4 2 4-2 4-12 8-8 6 4-2 2 0 8-2 4-16 14-10 2-12-6-8-12 0-4 2-2 10-2 4-4-4-4-6 2-4 4 0 4-2 2-4 0-8 6-2 14 2 2 2 12 6 6 20 0 14 6 4-2 14 0 4-6 0-6-4-6-10 2-6 12-6-8 10-12 12-4 6-6 2-4 0-8 8-10 10-2 0-4-16 0-8 4-4-4 0-4 8-8 20 0zM834 987l2 20 6 12 4 4 4 10 16 14 16 6 8 0 2 2 20 0 18-12 4-8 0-6-12-18 0-8-2-2 0-10-2-4zM732 987l-98 0-10 16-14 12-10 2-2 2-14 0-2-2-6 0 0 148 0-4 4-6 4-14 12-16 0-6 2-2 0-6 2-2 4-16 12-18 18-18 8-4 12-12 8-14 10-10 10-14 0-4 4-8 4-4 10 2 8 12 0 14 2 4 6 6 8 4 12 0 2-2 0-12-2-2-2-24z"/>
<path fill="#a88268" d="M934 1421l0 2 8 0-2-4-4 0zM1026 1367l-4-2-8 0-22 10-4 6 0 20-2 4-4 2-2-2-4 0-4-4-6 0-6 10-2 12 26 0 2-4 0-8 2-2 24 2 4 6 0 6 16 0 0-2 4-2 0-12-14 0-6-6 0-10-6-8-8 2 0 2 4 0 4 4 0 6-6 6-6 0-4-4 0-12-2-2 10-10 14-2 6 10 2 10 4 4 8 2 0-8-2 0-6-8 0-10-2-2zM1036 1225l-14 0-2 2-24 2-2 2-8 0-6 4-16 4-16 14-2 6-4 4-6 24 2 2 4 22 12 20-4 4-4 0-14 8 0 54 4 6 4 2 10 0 2-10-4-8 0-6 6-6 4 0 8 8 6 0-2-10 6-6 10-2 6-6 2-6 10-10 4-2 12 0 12 8 4 0zM946 1347l4 0 6 6 0 6-8 6-2 0-6-8 2-6zM956 1335l2-2 12 0 8 4 8 10-2 6-4 4-12 0-8-8zM576 1225l0 96 2-2 6 0 16-6 8-8 0-4 2-2-2-14-14-20-4-8 0-8-12-18zM774 1211l-10-4-14 0-20 10-14 16-28 42-28 34-12 20 0 8-4 4-4 0-8-10-20 0-2-2-6 0-12 6-12 10 2 4 12 6 14 14 6 12 8 6 6 0 2 2 20 0 8 10 0 10 2 2 0 8 2 4 126 0 2-10 2-2 0-18 2-2 0-70-2-2 0-14 2-2 0-58-2-2 0-8-4-8zM1036 1117l-10 4-6 6-8 2-14 8-4 8 0 4 2 2 0 4 6 6 14 6 20 4zM998 1097l0 4-2 2 0 6 6 4 12 0 4-2-2-10-4-6-10-2zM1028 1091l-2 2 0 6 4 4 6 0 0-12zM1028 1049l-6 6 0 22 8 6 6 0 0-4-8-2-4-6 2-10 6-6 4 0 0-6zM1036 1027l-6 4 4 6 2 0zM1026 987l2 4 8 2 0-6zM1036 999l-10 0-4-2-8-8 0-2-4 0-2 6-6 6-10 4-8 0-2-2-18 0-6 4 0 8 24-2 12 10 0 10-6 8 2 2 4-2 4-10 8-8 6 4-2 2 0 8-2 4-16 14-10 2-12-6-8-12 0-4 2-2 10-2 4-4-4-4-6 2-4 4 0 4-2 2-4 0-8 6-2 14 2 2 2 12 6 6 20 0 14 6 4-2 14 0 4-6 0-6-4-6-10 2-6 12-6-4 0-6 10-10 16-8 4-10 0-6 6-8 4-2 8 0 0-4-16 0-8 4-4-4 0-4 8-8 20 0zM834 987l2 20 6 12 4 4 4 10 16 14 16 6 8 0 2 2 20 0 18-12 4-8 0-6-12-18 0-4-6-14 0-6zM706 987l4 10 0 10 2 2 0 4 6 6 10 2 4-6 0-16-2-2-2-10zM690 987l-56 0-10 16-14 12-10 2-2 2-14 0-2-2-6 0 0 148 0-4 4-6 4-14 12-16 0-6 2-2 0-6 2-2 4-16 12-18 18-18 2 0 18-16 8-14 20-24 0-4 4-8z"/>
<path fill="#9f7866" d="M936 1421l0 2 4 0 0-2zM966 1403l-6 10 0 10 24 0 0-12-12-8zM994 1375l-6 8 2 4 0 4-2 2 0 12 4 4 20 0 4 4 2 10 14 0 0-2 4-2 0-10-12 0-2-2-4 0-2-2 0-10-4-10-10 0 0 2 4 0 4 4 0 6-6 6-6 0-4-4 0-12-2-2 10-10 14-2 6 10 2 10 4 4 8 2 0-8-4 0-4-4-2-16-4-4-12 0zM1036 1225l-14 0-2 2-24 2-2 2-8 0-6 4-16 4-16 14-2 6-4 4-6 24 2 2 4 22 12 20-4 4-4 0-14 8 0 54 4 6 4 2 10 0 2-10-4-8 0-6 6-6 4 0 8 8 6 0-2-4 0-10 2-2 12-2 18-22 10-4 6 0 18 8zM940 1351l4-4 8 0 4 4 2 8-6 6-8 2-4-4zM956 1335l2-2 12 0 8 4 8 10-2 6-4 4-12 0-8-8zM576 1225l0 96 2-2 6 0 16-6 8-8 0-4 2-2 0-6-2-2-2-10-18-18-2-4 0-10-6-10zM774 1211l-10-4-14 0-20 10-14 16-28 42-28 34-12 20 0 8-4 4-4 0-8-10-20 0-2-2-6 0-12 6-12 10 2 4 12 6 14 14 6 12 8 6 6 0 2 2 20 0 8 10 0 10 2 2 0 8 2 4 126 0 2-10 2-2 0-18 2-2 0-70-2-2 0-14 2-2 0-58-2-2 0-8-4-8zM1036 1121l-10 8-18 6-6 6-2 10 6 8 8 4 22 4zM1000 1099l0 4-2 2 2 4 4 2 8 0 4-2 0-4-4-8-8-2zM1028 1091l-2 2 0 6 4 4 6 0 0-12zM1032 1049l-2 2-4 0-4 6 0 18 4 6 10 2 0-4-8-2-4-6 2-10 6-6 4 0 0-6zM1036 1027l-6 4 4 6 2 0zM1036 1001l-12-2-12-10-16 14-22 0-2-2-10 2-4 6 2 2 20-2 8 4 8 10 0 8 10-10 6 4-2 2 0 8-2 4-16 14-10 2-12-6-8-12 0-4 2-2 10-2 4-4-4-4-6 2-4 4 0 4-2 2-4 0-8 6-2 14 2 2 2 12 6 6 20 0 14 6 4-2 14 0 4-6 0-6-4-6-10 2-6 12-2 0-6-8 14-14 10-4 4-4 4-16 6-6 4-2 8 0 0-4-16 0-8 4-4-4 0-4 8-8 20 0zM1026 987l2 4 8 2 0-6zM834 987l2 20 6 12 4 4 4 10 16 14 16 6 8 0 2 2 20 0 18-12 4-8 0-6-12-18-10-24zM718 987l-4 4-2 14 4 6 8 0 2-2 0-14-2-4zM688 987l-54 0-10 16-14 12-10 2-2 2-14 0-2-2-6 0 0 38 8 8 0 6-8 6 0 90 0-4 4-6 4-14 12-16 0-6 2-2 0-6 2-2 4-16 12-18 26-26 12-8 8-14 10-10 10-14 0-4z"/>
<path fill="#966e64" d="M1018 1411l0 12 14 0 0-2 4-2 0-10-16 0zM966 1405l-4 6-2 12 22 0 0-12-8-6zM1024 1369l-4-2-14 2-8 4-8 8 0 24 2 2 4 0 2 2 12 0 4-2 0-18-2-4-8 0-2 2 4 0 4 4 0 6-6 6-6 0-4-4 0-12-2-2 10-10 4 0 2-2 8 0 6 10 2 10 4 4 8 2 0-6-2 0-8-10zM1036 1225l-14 0-2 2-24 2-2 2-8 0-6 4-16 4-16 14-2 6-4 4-6 24 2 2 4 22 12 20-4 4-4 0-14 8 0 54 4 6 4 2 10 0 2-10-4-8 0-6 6-6 4 0 8 8 4 0-2-14 4-4 10 0 8-6 6-12 6-6 10-4 6 0 12 6 6 0 0-30-10-2-4-6 4-4 10 2zM950 1345l8 8 2 8-16 8-6-8 0-6 4-8zM956 1335l2-2 12 0 8 4 8 10-2 6-4 4-12 0-8-8zM576 1225l0 96 2-2 6 0 16-6 8-8 0-4 2-2 0-6-2-2-2-10-14-6-10-12 0-4-2-2 0-10-2-2 0-16zM774 1211l-10-4-14 0-20 10-14 16-28 42-28 34-12 20 0 8-4 4-4 0-8-10-20 0-2-2-6 0-12 6-12 10 2 4 12 6 14 14 6 12 8 6 6 0 2 2 20 0 8 10 0 10 2 2 0 8 2 4 34 0 0-28 4-4 12 0 8 8 0 6 2 2-2 16 68 0 2-10 2-2 0-18 2-2 0-70-2-2 0-14 2-2 0-58-2-2 0-8-4-8zM1036 1131l-26 8-4 6 2 10 8 4 18 2 2 2zM1006 1097l-4 4 0 6 10 2 2-2 0-4-2-4zM1028 1091l-2 2 0 6 4 4 6 0 0-12zM1028 1051l-6 8 0 16 6 6 8 0 0-2-8-2-4-6 2-10 6-6 4 0 0-4zM1036 1027l-6 4 4 6 2 0zM1036 1001l-8 0-2-2-4 0-8-6-4 0-8 8-10 4-12 0-2-2-12 0-6 4 2 4 4 0 2-2 16 0 4 2 8 10 0 4 2 2 8-6 6 4-2 2 0 8-2 4-16 14-10 2-12-6-8-12 0-4 2-2 10-2 4-4-4-4-6 2-4 4 0 4-2 2-4 0-8 6-2 14 2 2 2 12 6 6 20 0 14 6 4-2 14 0 4-6 0-6-4-6-10 2-4 6 0 6-2 2-8-6 0-6 10-10 10-4 8-8 2-10 6-10 14-4 0-2-16 0-8 4-4-4 0-4 8-8 20 0zM958 1053l2-2 4 0 2 2 0 6-4 2-4-4zM1026 987l2 4 8 2 0-6zM834 987l2 20 6 12 4 4 4 10 16 14 16 6 8 0 2 2 20 0 18-12 4-8 0-6-16-24-8-18zM688 987l-54 0-10 16-14 12-10 2-2 2-14 0-2-2-6 0 0 30 8 8 4 8 0 8-4 6-8 6 0 82 0-4 4-6 4-14 12-16 0-6 2-2 0-6 2-2 4-16 12-18 20-20 0-2 6-6 8-2 4-4 8-14 10-10 10-14 0-4z"/>
<path fill="#8a6264" d="M1036 1409l-14 2-2 2 0 10 12 0 0-2 4-2zM968 1405l-6 8 0 10 20 0 0-8-6-8zM1022 1369l-4 0-2-2-2 2-6 0-12 6-6 6 0 22 4 4 18 0 2-2 0-16-4-4-6 0-2 2 4 0 4 4 0 6-6 6-6 0-4-4 0-12-2-2 10-10 4 0 2-2 8 0 6 10 2 10 4 4 8 2 0-6-4 0-6-6 0-6-2-2zM606 1281l-20-2-10-8 0 50 2-2 6 0 2-2 10-2 12-10 2-12-2-2zM1036 1225l-14 0-2 2-24 2-2 2-8 0-6 4-16 4-16 14-2 6-4 4-6 24 2 2 4 22 12 20-4 4-4 0-14 8 0 54 4 6 4 2 10 0 2-10-4-8 0-6 6-6 4 0 8 8 4 0-4-10 0-6 2-2 16-2 6-6 4-10 10-10 12-2 2-2 6 0 8 4 0-2-14-4-8-8-6-14 0-12 4-8 10-6 16 0 2 2zM938 1351l6-6 8 0 6 6 4 10-4 4-16 6-4-4zM956 1335l2-2 12 0 8 4 8 10-2 6-4 4-12 0-8-8zM576 1225l0 8 2-4zM774 1211l-10-4-14 0-20 10-14 16-28 42-28 34-12 20 0 8-4 4-4 0-8-10-20 0-2-2-6 0-12 6-12 10 2 4 12 6 14 14 6 12 8 6 6 0 2 2 20 0 8 10 0 10 2 2 0 8 2 4 28 0 0-28 6-8 8-4 12 0 4 2 8 10 0 4 2 2 0 22 58 0 2-10 2-2 0-18 2-2 0-70-2-2 0-14 2-2 0-58-2-2 0-8-4-8zM1012 1147l4 6 20-2 0-6-4-2-16 0zM1008 1099l-4 4 6 4 2-4zM1028 1091l-2 2 0 6 4 4 6 0 0-12zM1030 1051l-4 2-4 8 0 12 4 6 10 2 0-2-8-2-4-6 2-10 6-6 4 0 0-4zM1036 1027l-6 4 4 6 2 0zM964 1005l0 4 12-2 0-2zM1036 1001l-10 0-10-6-6 0-6 6-8 4-10 2 10 12 2 8 8-6 6 4-2 2 0 8-2 4-10 10-10 6-12-2-10-8-4-8 0-4 2-2 10-2 4-4-6-4-8 6 0 4-2 2-4 0-8 6-2 14 2 2 2 12 6 6 20 0 14 6 4-2 14 0 4-6 0-6-4-6-10 2-4 6 0 6-2 2-2 0-8-8 2-6 12-10 10-4 4-4 4-14 8-10 12-2 0-2-16 0-8 4-4-4 0-4 8-8 20 0zM956 1051l2-2 4 0 6 6 0 4-6 4-6-6zM1026 987l2 4 8 2 0-6zM834 987l2 20 6 12 4 4 4 10 16 14 16 6 8 0 2 2 20 0 18-12 4-8 0-6-28-42zM688 987l-54 0-10 16-14 12-10 2-2 2-14 0-2-2-6 0 0 26 10 10 4 8 0 10-4 6 0 4-10 10 0 74 0-4 4-6 4-14 12-16 0-6 6-16 0-6 14-22 18-18 0-12 2-2 4 2 10 0 4-4 8-14 10-10 10-14 0-4z"/>
<path fill="#7e5664" d="M1024 1411l-4 6 0 6 12 0 0-2 4-2 0-8zM968 1407l-4 4-2 12 18 0 0-10-4-4zM1020 1369l-10 0-18 10-2 4 0 4 2 2-2 2 0 10 2 4 4 2 12 0 4-2 0-4 2-2-2-12-4-2-6 2 4 0 4 4 0 6-6 6-6 0-4-4 0-12-2-2 10-10 4 0 2-2 8 0 6 10 2 10 4 4 8 2 0-4-6-2-4-4-2-14zM606 1281l-8 4-22 2 0 34 2-2 6 0 2-2 10-2 12-10 2-12-2-2zM1036 1225l-14 0-2 2-24 2-2 2-8 0-6 4-16 4-16 14-2 6-4 4-6 24 2 2 4 22 12 20-4 4-4 0-14 8 0 54 4 6 4 2 10 0 2-10-4-8 0-6 6-6 4 0 8 8 4 0-8-16-10 0-8 6-4 0-2-2 0-4-2-2 2-16 4-4 8-2 10 10 2 6 4 4 16 0 8-8 8-18 4-4 0-4-6-14 0-20 4-8 6-6 8-4 4 0 2-2 16 0zM956 1335l2-2 12 0 8 4 8 10-2 6-4 4-12 0-8-8zM576 1225l0 6 2-2zM774 1211l-10-4-14 0-20 10-14 16-28 42-28 34-12 20 0 8-4 4-4 0-8-10-20 0-2-2-6 0-12 6-12 10 2 4 12 6 14 14 6 12 8 6 6 0 2 2 20 0 8 10 0 10 2 2 0 8 2 4 24 0 0-34 8-8 16-8 8 0 4 2 10 10 4 8 0 8 2 2 0 18-2 2 52 0 2-10 2-2 0-18 2-2 0-70-2-2 0-14 2-2 0-58-2-2 0-8-4-8zM1028 1091l-2 2 0 6 4 4 6 0 0-12zM1032 1051l-8 6-2 12 4 10 10 2 0-2-8-2-4-6 2-10 6-6 4 0 0-4zM1036 1027l-6 4 4 6 2 0zM1036 1001l-12 0-6-4-8 0-8 6-10 4 0 6 4 4 4 10 6-6 6 4-2 2 0 8-2 4-10 10-10 6-12-2-10-8-4-8 0-4 6-4 6 0 4-4-4-4-6 2-4 4 0 4-2 2-4 0-8 6-2 14 2 2 2 12 6 6 20 0 14 6 4-2 14 0 4-6 0-6-4-6-10 2-4 6 0 6-2 2-4 0-6-6 0-6 8-8 14-8 6-6 4-14 8-8 4-2 8 0 0-2-16 0-8 4-4-4 0-4 8-8 20 0zM1002 1067l4-2 2 4-4 2zM956 1049l2-2 4 0 8 8 0 6-8 4-6-6zM1026 987l2 4 8 2 0-6zM834 987l2 20 6 12 4 4 4 10 16 14 16 6 8 0 2 2 20 0 18-12 4-8 0-6-8-14-16-16-8-12zM688 987l-54 0-10 16-14 12-10 2-2 2-14 0-2-2-6 0 0 22 10 10 4 6 0 6 2 2-4 22-12 14 0 66 0-4 4-6 4-14 12-16 0-6 2-2 0-6 2-2 4-16 12-18 18-18-2-6-6-8 0-4 4-4 6 0 8 8 6 2 12-18 10-10 10-14 0-4z"/>
<path fill="#734b62" d="M1036 1411l-8 0-6 4 0 8 10 0 0-2 4-2zM964 1413l0 10 16 0 0-8-6-6-6 0zM1018 1369l-12 2-14 10 0 22 2 2 10 2 8-4 0-14-2-2-8 0 4 0 4 4 0 6-6 6-6 0-4-4 0-12-2-2 10-10 4 0 2-2 8 0 6 10 2 10 4 4 8 2 0-4-4 0-6-6-4-16zM606 1281l-16 14-14 4 0 22 2-2 6 0 2-2 10-2 12-10 2-12-2-2zM1036 1225l-14 0-2 2-24 2-2 2-8 0-6 4-16 4-16 14-2 6-4 4-6 24 2 2 4 22 12 20-4 4-4 0-14 8 0 54 4 6 4 2 10 0 2-10-4-8 0-6 6-6 4 0 8 8 4 0-8-14-12 0-8 8-6-4 0-22 2-4 6-4 8 0 14 18 6 0 2 2 10-2 4-4 4-8 0-22-4-8 0-22 6-12 10-10 12-6 20 0zM956 1335l2-2 12 0 8 4 8 10-2 6-4 4-12 0-8-8zM576 1225l0 4 2 0zM774 1211l-10-4-14 0-20 10-14 16-28 42-28 34-12 20 0 8-4 4-4 0-8-10-20 0-2-2-6 0-12 6-12 10 2 4 12 6 14 14 6 12 8 6 6 0 2 2 20 0 8 10 0 10 2 2 0 8 2 4 22 0-2-22-2-2 0-6-6-8-18 0-4-4 0-6 8-6 28 0 16-8 12 0 8 4 14 14 6 16 0 26-2 2 46 0 2-10 2-2 0-18 2-2 0-70-2-2 0-14 2-2 0-58-2-2 0-8-4-8zM1028 1091l-2 2 0 6 4 4 6 0 0-12zM1030 1053l-4 2-2 4 0 16 4 4 8 2 0-2-8-2-4-6 2-10 6-6 4 0 0-2zM1036 1027l-6 4 4 6 2 0zM1036 1003l-14-2-6-4-4 0-18 12 0 4 6 8 0 6 6-6 6 4-2 2 0 8-2 4-10 10-10 6-12-2-10-8-4-8 0-4 6-4 6 0 4-4-4-4-6 2-4 4 0 4-2 2-4 0-8 6-2 14 2 2 2 12 6 6 20 0 14 6 4-2 14 0 4-6 0-6-4-6-6 0-6 4-2 4 0 4 2 2-4 4-10-6-2-8 6-6 22-14 4-8 0-6 8-10 4-2 10 0 0-2-16 0-8 4-4-4 0-4 8-8zM1000 1071l0-4 4-4 6 4-4 6-4 0zM958 1045l4 0 10 10 0 6-4 4-8 0-6-8 0-8zM1026 987l2 4 8 2 0-4-2-2zM834 987l2 20 6 12 4 4 4 10 16 14 16 6 8 0 2 2 20 0 18-12 4-8 0-6-8-14-6-6-8-4-16-18zM688 987l-54 0-10 16-14 12-10 2-2 2-14 0-2-2-6 0 0 18 12 12 4 8 0 20-2 2 0 10-6 10-8 8 0 60 0-4 4-6 4-14 12-16 0-6 2-2 0-6 2-2 4-16 12-18 18-18-10-10-2-4 0-8 8-6 2 2 4 0 14 14 12-18 10-10 10-14 0-4z"/>
<path fill="#6a425e" d="M1036 1411l-10 2-4 6 0 4 10 0 0-2 4-2zM970 1409l-6 8 0 6 14 0 0-8zM992 1381l0 20 4 4 12 0 4-4 0-12-2-2-8 0 4 0 4 4 0 6-6 6-6 0-4-4 0-12-2-2 10-10 4 0 2-2 8 0 6 10 2 10 4 4 8 2 0-2-6-2-4-4-4-10 0-6-4-4-10 0zM606 1281l-4 10-10 10-16 4 0 16 2-2 6 0 2-2 10-2 12-10 2-12-2-2zM1036 1225l-14 0-2 2-24 2-2 2-8 0-6 4-16 4-16 14-2 6-4 4-6 24 2 2 4 22 12 20-4 4-4 0-14 8 0 54 4 6 4 2 10 0 2-10-4-8 0-6 6-6 4 0 8 8 4 0-8-12-4-2-8 2-10 10-4-4 0-6-2-2 2-4 0-16 6-6 8-2 10 10 0 2 10 8 12 0 6-6 2-4 0-12-10-18 0-22 2-2 0-4 8-12 16-14 14-6 14 0 2 2zM956 1335l2-2 12 0 8 4 8 10-2 6-4 4-12 0-8-8zM576 1225l0 4 2 0zM774 1211l-10-4-14 0-20 10-14 16-28 42-28 34-12 20 0 8-4 4-4 0-8-10-20 0-2-2-6 0-12 6-12 10 2 4 12 6 14 14 6 12 8 6 6 0 2 2 20 0 8 10 0 10 2 2 0 8 2 4 20 0-6-24-6-6-16-4-10-10-2-8 8-8 4 0 2-2 22-2 2-2 8 0 10-4 20 0 2 2 4 0 20 18 4 8 2 14 2 2 0 12-2 2 0 10-2 2 40 0 2-10 2-2 0-18 2-2 0-70-2-2 0-14 2-2 0-58-2-2 0-8-4-8zM1028 1091l-2 2 0 6 4 4 6 0 0-2-6-4 0-2 2-2 4 0 0-2zM1030 1053l-6 8 0 12 4 6 8 0-8-2-4-6 2-10 6-6 4 0 0-2zM1036 1027l-6 4 4 6 2 0zM1036 1003l-8 0-10-4-8 0-14 10 4 14 2 2 6-4 4 4-2 2 0 8-2 4-10 10-10 6-12-2-10-8-4-8 0-4 6-4 6 0 4-4-4-4-6 2-4 4 0 4-2 2-4 0-8 6-2 14 2 2 2 12 6 6 20 0 14 6 4-2 14 0 4-6 0-6-4-6-6 0-6 4-2 4 0 4 2 2-4 4-6-2-8-8 0-6 12-6 18-14 4-8 0-6 6-8 16-4-16 0-8 4-4-4 0-4 8-8zM1006 1061l4 4 0 6-6 4-6-4 0-4zM958 1043l2 0 14 14 0 4-8 6-6 0-6-8 0-12zM1026 987l2 4 8 2 0-2-6-4zM834 987l2 20 6 12 4 4 4 10 16 14 16 6 8 0 2 2 20 0 18-12 4-8 0-6-8-14-4-4-10-2-12-6-14-16zM688 987l-54 0-10 16-14 12-10 2-2 2-14 0-2-2-6 0 0 14 2 4 14 12 0 6 2 2 0 18-2 2 2 10-8 14-10 12 0 54 0-4 4-6 4-14 12-16 0-6 2-2 0-6 2-2 4-16 12-18 18-18-8-4-8-8-2-4 2-10 8-6 6 0 12 10 6 10 12-18 10-10 10-14 0-4z"/>
<path fill="#623a59" d="M1036 1413l-8 0-4 4 0 6 8 0 0-2 4-2zM970 1411l-4 4 0 8 12 0 0-6zM992 1383l0 16 2 4 4 2 8 0 6-8 0-6-2-4-8 0 4 0 4 4 0 6-6 6-6 0-4-4 0-12-2-2 10-10 4 0 2-2 8 0 6 10 2 10 4 4 8 2 0-2-4 0-8-8 0-4-6-14-8 0-12 6zM606 1281l0 8-4 8-6 6-20 6 0 12 2-2 6 0 2-2 10-2 12-10 2-12-2-2zM1036 1225l-14 0-2 2-24 2-2 2-8 0-6 4-16 4-16 14-2 6-4 4-6 24 2 2 4 22 12 20-4 4-4 0-14 8 0 54 4 6 4 2 10 0 2-10-4-8 0-6 6-6 4 0 8 8 4 0-10-12-8 0-4 2-6 12 4 8 0 4-2 2-4 0-2-2 0-12-4-8 0-24 2-2 0-4 6-6 10 0 8 8 4 8 14 4 8-4 4-12-4-8-12-12 0-4-2-2 0-18 2-2 0-6 32-34 8-4 22 0zM956 1335l2-2 12 0 8 4 8 10-2 6-4 4-12 0-8-8zM774 1211l-10-4-14 0-20 10-14 16-28 42-28 34-12 20 0 8-4 4-4 0-8-10-20 0-2-2-6 0-12 6-12 10 2 4 12 6 14 14 6 12 8 6 6 0 2 2 20 0 8 10 0 10 2 2 0 8 2 4 18 0-8-20-10-10-10-4-22-18 0-6 6-4 12-2 8-4 6 0 2-2 6 0 2-2 14-2 2-2 12 0 2-2 22 2 12 6 14 14 4 6 0 4 4 8 0 28-4 10 34 0 2-10 2-2 0-18 2-2 0-70-2-2 0-14 2-2 0-58-2-2 0-8-4-8zM1028 1091l-2 2 0 6 4 4 6 0 0-2-4 0-4-4 2-4 6-2zM1032 1053l-4 2-4 8 0 10 6 6 6 0-8-2-4-6 2-10 6-6 4 0 0-2zM1036 1027l-6 4 4 6 2 0zM1036 1003l-10 0-2-2-8 0-2-2-8 4-8 8 4 14 4-4 6 4-2 2 0 8-12 14-10 6-12-2-10-8-4-8 0-4 6-4 6 0 4-4-4-4-6 2-4 4 0 4-2 2-4 0-8 6-2 14 2 2 2 12 6 6 20 0 14 6 4-2 14 0 4-6 0-6-4-6-10 2-4 6 2 8-2 2-6 0-14-12-4 0-2 2-12 0-6-10 0-10 8-6 20 18 14-6 14-10 4-6 2-12 8-8 14-2-16 0-8 4-4-4 0-4 8-8zM996 1069l6-8 6 0 4 4 0 6-4 4-8 0zM1026 987l2 4 8 2 0-2-4 0-2-4zM834 987l2 20 6 12 4 4 4 10 16 14 16 6 8 0 2 2 20 0 18-12 4-8 0-6-12-18-4 2-20 0-8-4-8-8-6-14zM686 987l-52 0-10 16-14 12-10 2-2 2-14 0-2-2-6 0 0 10 6 8 8 2 6 4 0 32-2 2 2 10-14 26-6 6 0 48 0-4 4-6 4-14 12-16 0-6 2-2 0-6 2-2 4-16 12-18 16-16 0-2-10-4-10-8-2-4 0-8 2-4 10-8 12 0 10 10 4 6 2 8 12-18 10-10 10-14 0-4 4-6z"/>
<path fill="#5a3255" d="M1036 1413l-8 2-2 2 0 6 6 0 0-2 4-2zM970 1413l-4 6 0 4 10 0 0-6zM992 1385l2 2 0 4-2 2 2 8 6 4 4 0 6-4 0-12-2-2-6 0 4 0 4 4 0 6-6 6-6 0-4-4 0-12-2-2 10-10 14-2 6 10 2 10 4 4 8 2 0-2-6 0-6-6-4-16-6-4-16 6zM606 1281l0 14-4 6-8 6-4 0-8 4-6 0 0 10 2-2 6 0 2-2 10-2 12-10 2-12-2-2zM1036 1225l-14 0-2 2-24 2-2 2-8 0-6 4-16 4-16 14-2 6-4 4-6 24 2 2 4 22 12 20-4 4-4 0-14 8 0 54 4 6 4 2 10 0 2-10-4-8 0-6 6-6 4 0 8 8 2 0-8-10-4-2-2 2-4 0-4 6 2 20-6 4-6-6 0-10-2-2 0-36 6-8 10-2 4 2 8 12 8 6 12 0 6-8-2-10-16-14-4-10 0-24 4-8 36-34 10-2 2-2 18 2zM956 1335l2-2 12 0 8 4 8 10-2 6-4 4-12 0-8-8zM774 1211l-10-4-14 0-20 10-14 16-28 42-28 34-12 20 0 8-4 4-4 0-8-10-20 0-2-2-6 0-12 6-12 10 2 4 12 6 14 14 6 12 8 6 6 0 2 2 20 0 8 10 0 10 2 2 0 8 2 4 14 0-8-20-12-12-10-4-8-6-14-4-6-6-2-10 8-6 20 0 20-8 6 0 2-2 4 0 8-4 8 0 2-2 30 0 2 2 6 0 20 12 12 18 0 4 2 2 0 14 2 2-2 4-2 20-4 6 28 0 2-10 2-2 0-18 2-2 0-70-2-2 0-14 2-2 0-58-2-2 0-8-4-8zM1028 1091l-2 2 0 6 4 4 6 0-8-4 0-4 4-4 4 0zM1030 1055l-4 4-2 12 4 6 8 2-8-2-4-6 2-10 6-6 4 0zM632 1059l-22-8-6 0-4 6 0 10-2 2 0 16-2 2 0 4-6 8-8 20-6 6 0 40 0-4 4-6 4-14 12-16 0-6 2-2 0-6 2-2 4-16 12-18zM1036 1027l-6 4 4 6 2 0zM1036 1003l-24-2-12 10 2 14 4-4 6 4-2 2 0 8-12 14-10 6-12-2-10-8-4-8 0-4 6-4 6 0 4-4-4-4-6 2-4 4 0 4-2 2-4 0-8 6-2 14 2 2 2 12 6 6 20 0 14 6 4-2 14 0 4-6 0-6-4-6-10 2-4 6 0 4 0-4 6-6 8 0 2 2 0 10-6 4-4-2-14 2-12-10-16 2-8-8 0-16 6-6 18 16 4 2 10-2 12-8 8-8 4-16 4-4 8-4 10 0-16 0-8 4-4-4 0-4 8-8zM1026 987l2 4 8 2zM834 987l2 20 6 12 4 4 4 10 16 14 16 6 8 0 2 2 20 0 18-12 4-8 0-6-10-16-16 8-6 0-2 2-12-2-16-14-6-14 0-6zM686 987l-52 0-10 16-14 12-10 2-2 2-14 0-2-2-6 0 0 6 2 4 8 6 12 0 20-16 20 0 6 6 4 8 2 14 12-18 10-10 10-14 0-4 4-6z"/>
<path fill="#522a51" d="M1036 1415l-6 0-4 8 6 0 0-2 4-2zM970 1415l-2 2 0 6 6 0 0-6zM994 1387l0 12 4 4 8 0 4-4 0-10-2-2-6 0 4 0 4 4 0 6-6 6-6 0-4-4zM1004 1375l4-2 8 0 6 10 2 10 4 4 8 2-6-2-6-6-4-14-4-4-8 0zM608 1285l-2 14-8 8-14 6-6 0-2 2 0 6 2-2 6 0 2-2 10-2 12-10 0-4 2-2zM1036 1225l-14 0-2 2-24 2-2 2-8 0-6 4-16 4-16 14-2 6-4 4-6 24 2 2 4 22 12 20-4 4-4 0-14 8 0 54 4 6 4 2 10 0 2-10-4-8 0-6 6-6 4 0 8 8 2 0-10-10-6 0-6 8 0 6 2 2 2 10-4 4-6 0-6-6-2-38 2-2 0-10 2-4 6-4 10 0 8 8 0 2 12 10 6 0 8-6 0-10-8-8-8-4-8-10 0-4-4-8 0-22 2-4 8-8 16-8 16-20 16-6 16 0 4 2zM956 1335l2-2 12 0 8 4 8 10-2 6-4 4-12 0-8-8zM774 1211l-10-4-14 0-20 10-14 16-28 42-28 34-12 20 0 8-4 4-4 0-8-10-20 0-2-2-6 0-12 6-12 10 2 4 12 6 14 14 6 12 8 6 6 0 2 2 20 0 8 10 0 10 2 2 0 8 2 4 12 0-12-24-8-8-12-6-20-4-10-10-2-6-12-10 0-6 8-6 6 0 2 2 8 0 14 6 6 0 16-8 12-2 20-8 6 0 2-2 16 0 2-2 14 0 2 2 6 0 2 2 16 4 12 12 6 16 0 10 2 2 0 20-2 2 0 10-6 14 20 0 2-10 2-2 0-18 2-2 0-70-2-2 0-14 2-2 0-58-2-2 0-8-4-8zM754 1245l2 0 8 8 4 10 0 30-4 8-6 6-12 0-10-10-2-12-2-2 0-10 4-10 10-10 0-2zM1028 1091l-2 2 0 6 4 4 6 0-4 0-6-6 4-6 6 0zM1026 1073l2 4 8 2-8-2zM632 1059l-18 0-8 4-4 10 0 8-12 24-2 12-12 14 0 34 0-4 4-6 4-14 12-16 0-6 2-2 0-6 2-2 4-16 12-18zM1036 1055l-8 2-2 6 6-8zM1036 1027l-6 4 4 6 2 0zM1030 1003l-18 0-10 8 0 4 2 2 0 6-2 2 4-4 6 4-2 2 0 8-12 14-10 6-12-2-10-8-4-8 0-4 6-4 6 0 4-4-4-4-6 2-4 4 0 4-2 2-4 0-8 6-2 14 2 2 2 12 6 6 20 0 14 6 4-2 14 0 4-6 0-6-4-6-6 0-6 4 6-4 4 0 6 6 0 6-6 6-12 0-4 2-2-2-4 0-10-8-16 2-8-8 0-4-2-2 0-10 6-8 4 0 18 16 10 0 20-14 4-10 0-6 8-8 4-2 12 0-16 0-8 4-4-4 0-4 8-8zM1026 987l2 4 8 2-4 0-4-6zM834 987l2 20 6 12 4 4 4 10 16 14 16 6 8 0 2 2 20 0 18-12 4-8 0-6-10-16-14 16-4 0-2 2-22 0-10-6-8-10-8-20 0-8zM686 987l-52 0-10 16-14 12-10 2-2 2-14 0-2-2-6 0 0 2 8 8 14 0 10-8 12-6 4 0 2-2 18 0 4 4 2 10 2 2 0 16-2 2 12-18 10-10 10-14 0-4 4-6z"/>
<path fill="#4b234d" d="M970 1419l0 4 2 0 0-4zM1036 1417l-6 0-2 6 4 0zM1024 1391l0 2 6 4-2 0zM652 1391l6 8 0 10 2 2 0 8 2 4 8 0-6-10-4-14zM994 1387l0 12 4 4 10-2 2-10-4-4-4 0 4 0 4 4 0 6-6 6-6 0-4-4zM1010 1373l6 0 4 8-4-8zM608 1285l0 14-12 12-4 0-8 4-6 0-2 2 0 4 2-2 6 0 2-2 10-2 12-10 0-4 2-2zM1036 1225l-14 0-2 2-24 2-2 2-8 0-6 4-16 4-16 14-2 6-4 4-6 24 2 2 4 22 12 20-4 4-4 0-14 8 0 54 4 6 4 2 10 0 2-10-4-8 0-6 6-6 4 0 8 8-8-8-6 0-4 4 0 10 4 8-2 6-2 2-8 0-6-6-2-4 0-48 2-4 10-6 8 0 6 6-2-4 0-4 2-2 12 0 8 4 8 10-2 6-4 4-10 0 10 0 4-2 2-4-2-8-8-8-8-2-10-10-6-12-2-14-2-2 0-12 4-10 10-8 12 0 8-4 8-16 10-6 12-2 2-2 22 0zM774 1211l-10-4-14 0-20 10-14 16-28 42-28 34-12 20 0 8-4 4-4 0-8-10-20 0-2-2-6 0-18 10-6 6 2 4 12 6 14 14 6 12 8 6 6 0 2 2 18 0-10-2-2-2-10 0-2-2-4 0-10-10-2-6-14-14-2-6 12-10 20 2 2 2 4 0 8 6 4 0 18-12 10 0 2-2 4 0 18-14 18-6 6-6 0-18-6-10 0-12 16-30 18-16 4 0 2-2 14 2 10 10 6 12 0 10 2 2 0 12-2 2 0 34-2 2 0 30 2 2 0 24 2 2 0 30-2 2 0 14-6 14 12 0 2-10 2-2 0-18 2-2 0-70-2-2 0-14 2-2 0-58-2-2 0-8-4-8zM1028 1091l2 0-4 2 0 6 4 4 6 0-6 0-4-4 0-6zM1004 1059l6 0 2 2-2-2zM632 1059l-18 8-4 4-6 14-4 4-8 20-2 12-14 18 0 26 0-4 4-6 4-14 12-16 0-6 2-2 0-6 2-2 4-16 12-18zM1036 1055l-4 0-6 8 6-8zM972 1049l4 4 8 2-8-2zM1036 1027l-6 4 4 6 2 0 0-2-2 0-2-4 4-2zM972 1021l-8 6 0 4-2 2-4 0-8 6 0 4-2 2 2 16 2 2 0 4 6 6 20 0 10 4-12-6-18 0-8-10 0-18 4-6 6 0 6 6-4-6 0-4 6-4 6 0 4-4zM970 1025l2-2 2 2-2 2zM1024 1003l-10 0-10 8 0 6 2 2-2 4 4-2 4 4-2 2 0 8-2 4-8 8 8-8 4-16 6-6 10-2-8 0-8 4-4-4 0-4 8-8zM686 991l-4 0-20 22-6 14-2 12-4 6 12-18 20-24 0-4zM834 987l2 20 6 12 4 4 4 10 16 14 16 6 8 0 2 2 20 0 18-12 4-8 0-6-10-16 0 14-10 12-6 0-2 2-26 0-14-8-10-12-8-16-2-18zM642 987l-8 0-10 16-8 8-10 6-6 0-2 2-14 0-2-2-6 0 10 6 14-2 32-16 4-4z"/>
<path fill="#441a4a" d="M1036 1419l-4 0-2 4zM654 1393l4 6 2 20 2 4 4 0-4-6-2-12zM614 1381l8 6 6 0 2 2 16 0-22-2zM938 1339l-6 4 0 20 0-18zM610 1293l-2 10-8 8-14 6-6 0-4 2 0 2 2-2 6 0 16-6 8-8zM1036 1225l-14 0-2 2-12 0-2 2-20 2-6 4-16 4-16 14-2 6-6 8-4 20 2 2 4 22 12 20-4 4-8 2 10-2 6 8-2-8 2-2 8 0-4 0-10-10-8-16 0-6-2-2-2-16 2-2 2-14 4-4 2-6 14-12 4 0 18-10 16-2 2-2 10 0 2-2 20 0zM788 1227l-14-16-10-4-14 0-14 6-6 4-14 16-16 26-40 50-12 20 0 8-4 4-4 0-8-10-20 0-2-2-6 0-18 10-6 6 2 4 12 6 12 12-12-12-2 0-6-8 0-2 8-8 8-4 22 0 2 2 6 0 8 8 8-4 6-12 8-8 10-18 26-32 24-38 14-14 8-4 4 0 2-2 14 0 2 2 4 0 16 18 4 10 0 8 2 2 0 14-2 2 0 134-2 2 0 10-4 10 4 0 2-10 2-2 0-18 2-2 0-70-2-2 0-14 2-2 0-58-2-2 0-8zM952 1065l6 8 20 0 4 2-4-2-20 0zM630 1061l-18 16-4 8-6 6-4 10-4 22-10 12-6 12 0 4-2 2 0 12 0-4 4-6 4-14 12-16 0-6 2-2 0-6 2-2 4-16 12-18zM1032 1029l-2 4 6 4-6-4zM978 1025l-6-4 6 4-4 4-6 0-2-2 2-4-4 4 0 4-10 4-4 6 0-2 8-6 6 6-2-2 0-4 6-4 6 0zM578 1017l4 0 2 2 14 0 2-2 4 0-4 0-2 2-14 0-2-2zM1014 1005l-4 2-4 6 2 4-2 4 4 2 6-6-4 2-4-4 0-4zM686 993l-8 14-14 14-8 16 6-10 16-18zM834 987l2 20 6 12 4 4 4 10 16 14 16 6 8 0 2 2 20 0 18-12 4-8 0-6-8-14 4 10 0 10-8 10-12 6-22 0-2-2-16-4-18-16-12-22-2-20zM636 987l-4 2-2 6-6 8-12 10 20-18z"/>
<path d="M731.9 1198.8h13.2" stroke="#fff" stroke-width="5.7"/>
<path d="M765 1196.5h25M777.6 1184.2v24.2" stroke="#fff" stroke-width="5.9"/>
<path d="M905.5 1398.4 L912.5 1421.5 L900.4 1421.5 Z" fill="#fff"/>
<ellipse cx="750.8" cy="1195.7" rx="27.7" ry="26.0" fill="none" stroke="#00ffff" stroke-width="4.3" stroke-dasharray="3.4 7.2" stroke-linecap="round"/>
</g>
<clipPath id="cpc2"><rect x="1054.6" y="986.0" width="459.4" height="435.2"/></clipPath>
<g clip-path="url(#cpc2)" fill-rule="evenodd">
<rect x="1054.6" y="986.0" width="459.4" height="435.2" fill="#cefb43"/>
<path fill="#cdf249" d="M1055 987l0 66 8 0 2 2-2 2-8 0 0 4 4 2-4 2 0 64 6-2 4-4 2 2-4 6-8 2 0 42 2 2-2 2 0 244 10 0 0-8 2-2 2 2 0 8 126 0 2-4 2 4 154 0 2-2 0-20 2-2 2-28 2-2 0-6 6-12 0-4 6-8 18-10 28 0 2 2 16 4 18 18 8 28 6 4 8 0 2-2 6 0 2 2-12 8-8-4-4 0-6-6-2-12-6-14-14-14-16-6-26 0-14 8-4 6 0 8-6 10-2 12-2 2-2 40 130 0 0-4-2-2 2-4 8 8 0 2 14 0 0-64-4-2 4-2 0-22-6 0-2-2 2-2 6 0 0-26-4-2 4-2 0-14-4-2 4-2 0-66-4-2 4-2 0-10-6 0-2-2 2-2 6 0 0-102-4 0-2-2 2-2 4 0 0-50-4 0-2-2 2-2 4 0 0-50-32 0-2 4-2-4-6 0-2 4-2-4-82 0 0 4-2 2 0 14-2 2-2 12-2 2 0 4-14 38 0 6-4 8-2 20-2 2 0 28-2 2-2 10-16 14-6 2-10 8-6 2-34 22-20 8-12 0-10 6-16 0-6-4-14 0-2-2-10 0-2-2-10 0-2-2-14 0-2-2-14 0-2-2-40 0-2-2-14 0-4 2-2-2 10-10 2 0 2 2 10 0 2 2 36 0 2 2 30 2 2 2 10 0 2 2 8 0 2 2 12 0 2 2 16 4 2-2 6 0 10-6 12 0 2-2 4 0 12-6 28-20 18-8 20-14 2-4 0-16-10 0-4-2-6-6 0-4 6-4 10 0 2 2 4-4 0-6 4-10 0-8 2-2 0-4 16-44 0-6 6-14 2-20-132 0 0 14 2 2 0 10-2 2 0 24-14 20-14 10-4 0-2 2-32 0-2-2-22-6-12-12-2-8 2-2 4 6 12 8 10 2 12 6 24 0 10-4 4-4 6-2 10-14 0-6 2-2 0-38-2-2 0-4-102 0-2 2-2-2-16 0 0 4-2 2-4-6zM1105 1415l2-2 2 2-2 2zM1095 1415l2-2 4 2-2 2zM1489 1413l2-2 2 2-2 2zM1197 1413l2-2 2 4-2 2zM1179 1413l2-2 2 2-2 2zM1109 1413l2-2 2 2-2 2zM1091 1413l2-2 2 2-2 2zM1063 1413l2-2 2 2-2 2zM1487 1411l2-2 2 2-2 2zM1181 1411l2-2 2 2-2 2zM1111 1411l2-2 2 2-2 2zM1087 1411l2-2 2 2-2 2zM1057 1411l2-2 4 0 2 2-2 2-4 0zM1485 1409l2-2 2 2-2 2zM1199 1409l2-2 2 2-2 2zM1183 1409l2-2 2 2-2 2zM1083 1409l2-2 2 2-2 2zM1483 1407l2-2 2 2-2 2zM1185 1407l2-2 2 2-2 2zM1479 1405l2-2 4 2-2 2zM1201 1405l2-2 2 2-2 2zM1187 1405l2-2 2 2-2 2zM1113 1405l2-2 2 2-2 2zM1203 1403l2-2 2 2-2 2zM1151 1403l2-2 4 2-2 2zM1075 1403l2-2 6 6-4 2zM1471 1401l4-2 6 4-2 2-4 0zM1157 1401l2-2 2 2-2 2zM1143 1401l2-2 4 2-2 2zM1111 1401l2-2 2 2-2 2zM1077 1401l2-2 4 2-2 2zM1205 1399l2-2 2 2-2 2zM1159 1399l2-2 2 2-2 2zM1137 1399l2-2 4 2-2 2zM1109 1399l2-2 2 2-2 2zM1083 1399l2-2 4 0 2 2-2 2-4 0zM1133 1397l2-2 4 2-2 2zM1105 1397l2-2 2 2-2 2zM1097 1397l2-2 2 2-2 2zM1463 1395l4-2 6 6-4 2zM1207 1395l2-2 2 2-2 2zM1129 1395l2-2 2 2-2 2zM1461 1393l2-2 2 2-2 2zM1187 1393l2-2 2 4-2 2zM1127 1393l2-2 2 2-2 2zM1125 1391l2-2 2 2-2 2zM1449 1389l2-2 8 0 4 4-4 2zM1149 1389l2-2 2 2-2 2zM1151 1387l2-2 2 2-2 2zM1139 1387l2-2 4 2-2 2zM1185 1385l2-2 2 4-2 2zM1123 1389l0-4 2-2 12 0 2 2-2 2-10 0-2 4zM1485 1383l2-2 4 2-2 2zM1491 1381l2-2 2 2-2 2zM1493 1379l2-2 2 2-2 2zM1187 1379l2-2 2 4-2 2zM1495 1377l2-2 2 2-2 2zM1189 1377l2-2 2 2-2 2zM1191 1375l2-2 2 2-2 2zM1155 1375l2-2 4 2-2 2zM1147 1375l2-2 4 2-2 2zM1201 1373l2-2 12 0 2 2-2 2-12 0zM1195 1373l2-2 4 2-2 2zM1159 1373l2-2 2 2-2 2zM1145 1373l2-2 2 2-2 2zM1497 1371l2-2 2 4-2 2zM1199 1371l2-2 2 2-2 2zM1161 1371l2-2 2 2-2 2zM1143 1371l2-2 2 2-2 2zM1219 1369l2-2 2 2-2 2zM1141 1369l2-2 2 2-2 2zM1221 1367l2-2 2 2-2 2zM1137 1367l2-2 4 2-2 2zM1109 1367l2-2 4 0 2 2-2 2-4 0zM1089 1367l2-2 4 2-2 2zM1115 1365l2-2 20 0 2 2-2 2-20 0zM1083 1365l2-2 2 2-2 2zM1511 1363l2-2 2 2-2 2zM1493 1363l2-2 2 2-2 2zM1081 1363l2-2 2 2-2 2zM1079 1361l2-2 2 2-2 2zM1509 1359l2-2 2 4-2 2zM1491 1359l2-2 2 2-2 2zM1165 1355l2 2 0 10-2 2-2-2 0-10zM1077 1357l2-2 2 4-2 2zM1225 1353l2 2 0 8-2 2-2-2 0-8zM1123 1353l2-2 10 0 2 2-2 2-10 0zM1109 1353l2-2 10 4-2 2-8 0zM1221 1351l2-2 2 2-2 2zM1165 1351l2-2 2 2-2 2zM1137 1351l2-2 2 2-2 2zM1197 1349l2-2 6 0 2 2-2 2-6 0zM1139 1349l2-2 2 2-2 2zM1107 1349l2-2 2 4-2 2zM1219 1347l2-2 2 2-2 2zM1207 1347l2-2 2 2-2 2zM1491 1343l2 2 0 8-2 2-2-2 0-8zM1211 1345l2-2 4 0 2 2-2 2-4 0zM1167 1345l2-2 2 2-2 2zM1193 1343l2-2 2 2-2 2zM1107 1341l2 2 0 4-2 2-2-2 0-4zM1503 1341l2-2 4 2-2 2zM1191 1341l2-2 2 2-2 2zM1189 1339l2-2 2 2-2 2zM1171 1339l2-2 2 2-2 2zM1143 1337l2 2 0 4-2 2-2-2 0-4zM1187 1337l2-2 2 2-2 2zM1177 1335l2-2 6 0 2 2-2 2-6 0zM1505 1331l2 2-4 4 2 2-4 2-2-2 0-4zM1139 1333l2-2 2 4-2 2zM1105 1333l2-2 2 4-2 2zM1487 1329l4 10 0 4-2 2-4-6 0-8zM1135 1331l2-2 4 2-2 2zM1107 1331l2-2 2 2-2 2zM1077 1329l2 2-2 4 2 2 0 6-2 2-4-8 0-4zM1133 1329l2-2 2 2-2 2zM1109 1329l2-2 2 2-2 2zM1077 1329l2-2 4 2-2 2zM1487 1327l2-2 2 4-2 2zM1127 1327l2-2 4 2-2 2zM1113 1327l2-2 4 2-2 2zM1081 1327l2-2 2 2-2 2zM1489 1325l2-2 2 2-2 2zM1491 1323l2-2 2 2-2 2zM1083 1325l4-4 2 2-2 4zM1087 1321l2-2 2 2-2 2zM1493 1319l2-2 2 2-2 2zM1493 1313l2-2 2 2-2 2zM1491 1311l2-2 2 2-2 2zM1483 1311l2-2 2 2-2 2zM1509 1297l2-2 2 4-2 2zM1507 1291l2-2 2 2-2 2zM1509 1285l2-2 2 2-2 2zM1503 1239l2-2 2 2-2 2zM1505 1231l2-2 2 2-2 2zM1485 1223l2-2 4 0 2 2-2 2-4 0zM1481 1221l2-2 2 2-2 2zM1509 1219l2-2 2 2-2 2zM1493 1219l2-2 2 2-2 2zM1495 1213l2-2 2 2-2 2zM1497 1205l2-2 2 4-2 2zM1499 1203l2-2 2 2-2 2zM1501 1201l2-2 4 2-2 2zM1075 1189l2-2 6 0 2 2-2 2-6 0zM1071 1187l2-2 2 2-2 2zM1067 1185l2-2 2 2-2 2zM1061 1181l2-2 2 2-2 2zM1059 1179l2-2 2 2-2 2zM1081 1167l2-2 2 2-2 2zM1079 1165l2-2 2 2-2 2zM1071 1157l2-2 2 2-2 2zM1069 1155l2-2 2 2-2 2zM1077 1133l6 0 4 4 8 16 0 16-4 4-4 0-4-4 2-2 4 0 2-4 0-8-6-12-4-4-6 0-4 4 0 10-2 2-2-2-2-8 2-4zM1065 1121l2-2 2 4-2 2zM1309 1149l-6 6-6 0-18-8-10 0-2-2-4 0-12-8-28 0-8-6 0-4 6-6 12-2 2-2 42 0 2-2 8 0 2 2 6 0 8 6 6 14zM1067 1115l2-2 2 4-2 2zM1059 1103l2-2 10 0 4 4-2 8-2 2-2-2 0-8-8 0zM1483 1101l2-2 2 2-2 2zM1471 1097l8 0 4 4 0 4-2 2-4-6-4 0-8 10-10 4-6 0-8 8-12 8-16 16 0 8 6 12 14 14 8 4 12 2 10 6 16 0 4 2 4 6-4 6 0 12-2 2-2-2 0-18-20 0-28-12-18-18-8-14 0-10 2-4 20-20 2 0 16-16 16 0zM1483 1095l2-2 2 2-2 2zM1481 1093l2-2 2 2-2 2zM1479 1091l2-2 2 2-2 2zM1477 1089l2-2 2 2-2 2zM1503 1087l2-2 2 4-2 2zM1489 1081l2-2 2 2-2 2zM1485 1079l2-2 2 2-2 2zM1483 1077l2-2 2 2-2 2zM1497 1075l2-2 2 2-2 2zM1481 1075l2-2 2 2-2 2zM1501 1065l2 2 0 4-2 2-2-2 0-4zM1481 1067l2-2 2 2-2 2zM1497 1065l2-2 2 2-2 2zM1485 1065l2-2 2 2-2 2zM1453 1065l2-2 2 2-2 2zM1117 1067l4-4 6 0 2 2 0 4-4 4-4 0zM1059 1065l2-2 8 0 2 2-2 2-8 0zM1471 1063l-4 6-10 0-2-2 2-2 8 0 4-4zM1451 1063l2-2 2 2-2 2zM1465 1059l2-2 2 4-2 2zM1073 1057l2 2 0 4-4 2-2-2zM1463 1057l2-2 2 2-2 2zM1069 1057l2-2 2 2-2 2zM1459 1055l2-2 2 2-2 2zM1453 1053l2 2-4 8-2-2 0-6zM1065 1055l2-2 4 2-2 2zM1481 1045l2-2 2 2-2 2zM1483 1043l2-2 2 2-2 2zM1485 1039l2-2 2 2-2 2zM1505 1037l2-2 4 2-2 2zM1503 1035l2-2 2 2-2 2zM1487 1035l2-2 2 2-2 2zM1105 1035l2-2 4 0 2 2-2 2-4 0zM1491 1033l2-2 8 0 2 2-2 2-8 0zM1111 1033l2-2 2 2-2 2zM1101 1033l2-2 2 2-2 2zM1113 1031l2-2 2 2-2 2zM1091 1029l2-2 2 2-2 2zM1115 1027l2-2 2 2-2 2zM1089 1027l2-2 2 2-2 2zM1117 1023l2-2 2 2-2 2zM1083 1021l2-2 2 2-2 2zM1143 1017l2 2 0 22-2 2-2-2 0-22zM1081 1019l2-2 2 2-2 2zM1475 1017l2-2 4 2-2 2zM1121 1017l2-2 2 2-2 2zM1079 1017l2-2 2 2-2 2zM1469 1015l2-2 2 2-2 2zM1123 1015l2-2 2 2-2 2zM1077 1015l2-2 2 2-2 2zM1061 1015l4-2 2 4-2 2zM1465 1013l2-2 2 2-2 2zM1073 1013l2-2 2 2-2 2zM1055 1013l2-2 4 2-2 2zM1483 1011l2-2 2 2-2 2zM1463 1011l2-2 2 2-2 2zM1141 1009l2 2 0 6-2 2-2-2 0-6zM1125 1011l2-2 2 2-2 2zM1069 1011l2-2 2 2-2 2zM1461 1009l2-2 2 2-2 2zM1441 1009l2-2 8 0 2 2-2 2-8 0zM1067 1009l2-2 2 2-2 2zM1439 1005l2-2 2 4-2 2zM1065 1003l2-2 2 2-2 2zM1483 1001l2-2 2 2-2 2zM1127 999l4 4 0 4-2 2-4-6zM1463 999l2-2 2 2-2 2zM1457 997l4 4 2-2 2 2-4 8-2-2-2 2-4-2zM1121 999l2-2 4 2-2 2zM1465 997l2-2 2 2-2 2zM1119 997l2-2 2 2-2 2zM1481 995l2-2 2 2-2 2zM1117 995l2-2 2 2-2 2zM1079 995l2-2 2 2-2 2zM1063 995l2-2 2 2-2 2zM1467 993l2-2 2 2-2 2zM1439 991l2 2 0 8-2 2-2-2 0-8zM1135 991l2 2 0 6 4 6 0 4-2 2-8-12zM1113 993l2-2 2 2-2 2zM1081 993l2-2 2 2-2 2zM1455 989l2 2 0 4-2 2-2-2 0-4zM1071 989l2-2 2 2-2 2z"/>
<path fill="#cce950" d="M1055 1411l0 12 10 0 0-8zM1373 1387l-4 36 124 0-2-8-8-8-8-2-14-12-10-2-2-2 2-2 0-10-6-14-12-12-14-6-18 0-4 2-6 6 0 6-4 10-10 10zM1513 1285l-2 2 0 8 2 4 2 0 0-14zM1069 1105l-14 0 0 24 6-2 4-4 4-10zM1071 1059l-6-4-2 2-8 0 0 4 4 2 10 0zM1515 987l-32 0 0 6-2 2-2-2 0-6-6 0 0 6-4 4-2-2 2-8-14 0-2 4-2-4-10 0 0 10 2 2 0 4 4 4 6-4 0-12 2-2 2 2 0 6 4 4 6-6 2 4-4 8 6 6-2 2-2 0-8-8-8 4-8 0-4-4 0-4-2-2 0-14-50 0 0 4-2 2 0 14-2 2-2 12-2 2 0 4-14 38 0 6-4 8-2 20-2 2 0 28-2 2-2 10-8 8-24 16-6 2-34 22-20 8-12 0-10 6-16 0-6-4-14 0-2-2-10 0-2-2-10 0-2-2-14 0-2-2-14 0-2-2-40 0-2-2-14 0-6 4-6 0-2-2 8-4 2-4 0-8-8-8 4-2 4 4 4 0 2-4 0-8-6-12-4-4-6 0-4 4 0 10 4 4-2 4-6-6-4-8 0-10-8 0 0 38 4 0 2 2-2 2-4 0 0 228 12 2 4 4-2 2 0 8 108 0 0-10 10-10 0-10 2-2 2 2 0 12-10 10 0 8 14 0 2-10 8-12 2 4-6 10 0 6-2 2 154 0 2-2 0-20 2-2 2-28 2-2 0-6 6-12 0-4 6-8 18-10 28 0 2 2 16 4 18 18 8 28 6 4 8 0 2-2 12-2 2 2-4 2-10 12 22 20 14 2 0-54-6-4 0-2 6-4 0-10-4 0-2-2 2-2 4 0 0-8-8 0-4 4 6 4-2 2-12 0-2 10-2 2-2-2 0-8-4-6 0-8 10-14-4-6 2-2 6 4 0 6-6 10 0 6 10-6 12 0 0-24-8-6 0-14 8-6 0-64-4 0-2-2 2-2 4 0 0-10-8 0-4 2-4 6-2-2 0-4 6-6 12 0 0-102-8 0-2-2 2-2 8 0 0-12-4-2 4-2 0-32-4 0-8-6-10-2-2-2 2-2 8 0 10 6 4 0zM1105 1415l2-2 4 2-2 2zM1093 1415l2-2 4 0 8 4-2 2-6 0zM1109 1413l2-2 2 2-2 2zM1089 1413l2-2 4 2-2 2zM1111 1411l2-2 2 2-2 2zM1085 1411l2-2 4 2-2 2zM1115 1401l2 2 0 6-2 2-2-2 0-6zM1111 1401l2-2 2 2-2 2zM1205 1399l2-2 2 4-2 2zM1109 1399l2-2 2 2-2 2zM1073 1401l6-4 10 0 2 2-2 2-10 2 8 6-2 2-12-2-2-2zM1105 1397l2-2 4 2-2 2zM1093 1397l2-2 4 0 2 2-2 2-4 0zM1207 1395l2-2 2 4-2 2zM1209 1393l2-2 2 2-2 2zM1211 1391l2-2 2 2-2 2zM1123 1385l2-2 12 0 8 4 6 0 2-2 4 4-2 2-14 0-8-4-4 2 4 4 4 0 10 6 10 0 4-4 2 4-8 6-16-4-8-4-8-8zM1491 1381l2-2 2 2-2 2zM1493 1379l2-2 2 2-2 2zM1495 1377l2-2 2 2-2 2zM1499 1367l2 2 0 6-2 2-2-2 0-6zM1219 1371l-4 4-12 0-2-2-2 2-4 0-6 8 0 8-2 2-2-2 0-10 2-4 12-10 4 0 8 4 4-2zM1087 1367l2-2 4 0 2 2-2 2-4 0zM1495 1365l2-2 2 2-2 2zM1223 1363l2 4-6 4-2-2zM1097 1369l2-2 10 0 8-4 20 0 16 12 6-2 4-4 2 4-8 6-6 0-16-12-14 0-10 4-12 0zM1083 1365l2-2 2 2-2 2zM1493 1361l2-2 2 4-2 2zM1491 1357l2-2 2 4-2 2zM1225 1353l2 2 0 8-2 2-2-2 0-8zM1221 1351l2-2 2 4-2 2zM1167 1349l2 2 0 8-2 2 0 8-2 2-2-2 0-12zM1195 1347l2-2 2 2 8 0 2 2-8 6zM1207 1347l6-4 4 0 4 2 2 4-2 2-6-4-2 2-4 0zM1167 1345l2-2 2 4-2 2zM1193 1343l2-2 2 4-2 2zM1169 1343l2-2 2 2-2 2zM1191 1341l2-2 2 2-2 2zM1189 1339l2-2 2 2-2 2zM1171 1341l2-4 4 2-4 4zM1143 1337l2 2 0 4-2 2-2-2 0-4zM1185 1337l2-2 4 2-2 2zM1175 1337l4-4 6 0 2 2-8 4zM1105 1333l6-6 4 2-6 6 0 8 4 8 20 0 4-2 4-6 2 2 0 4-8 6-24 2-6-10zM1113 1327l2-2 16 0 8 4 4 4 0 4-2 2-4-6-8-4-14 0zM1089 1315l2 2-2 8-10 6-2 4 2 2 0 18 6 8-4 2-6-8 0-12-6-10 0-4 4-4 8-2zM1483 1311l2-2 2 2-2 2zM1487 1309l2-2 4 2-2 2zM1509 1243l2-2 4 2-2 2zM1505 1241l2-2 2 2-2 2zM1503 1237l2-2 2 4-2 2zM1503 1233l2-2 2 2-2 2zM1505 1231l2-2 2 2-2 2zM1491 1221l2-2 2 2-2 2zM1509 1219l2-2 2 2-2 2zM1493 1217l2-2 2 4-2 2zM1507 1215l2-2 2 4-2 2zM1497 1207l2 2 0 4-2 2-2-2 0-4zM1071 1187l2-2 4 2-2 2zM1067 1185l2-2 4 2-2 2zM1065 1183l2-2 2 2-2 2zM1061 1181l2-2 4 2-2 2zM1059 1179l2-2 2 2-2 2zM1075 1163l2-2 2 2-2 2zM1073 1161l2-2 2 2-2 2zM1483 1101l2-2 2 2-2 2zM1471 1097l8 0 4 4 0 8-2 2-6 0-6 6-14 6-30 26 0 8 10 10 4 2 8 0 10 4 14 14 14 4 8 6-8 10 0 4-2 2 2 6 8 4-2 2-4 0-8-6 0-18-20 0-28-12-18-18-8-14 0-10 2-4 20-20 2 0 16-16 16 0zM1483 1095l2-2 2 2-2 2zM1477 1087l2-2 6 8-2 2zM1505 1083l2 2 0 6-2 2-2-2 0-6zM1475 1085l2-2 2 2-2 2zM1473 1083l2-2 2 2-2 2zM1505 1081l2-2 2 2-2 2zM1489 1081l2-2 2 2-2 2zM1507 1079l2-2 2 2-2 2zM1493 1079l2-2 2 2-2 2zM1485 1079l2-2 2 2-2 2zM1495 1077l2-2 2 2-2 2zM1483 1077l2-2 2 2-2 2zM1497 1075l2-2 2 2-2 2zM1485 1065l2 2-4 10-2-2 0-8zM1485 1065l2-2 12 0 4 4 0 4-2 2-4-6-10 0zM1449 1055l2-2 10 0 2 2-2 2-6 0 0 4 6 4 2-2 0-4-2-2 4-2 4 4 2 6-4 4-10 0-8-8zM1487 1037l2 2 0 4-6 6-4 0-2-2 4-2zM1487 1037l2-4 4 2-4 4zM1475 1017l2-2 4 2-2 2zM1479 1015l2-2 2 2-2 2zM1469 1015l2-2 4 2-2 2zM1481 1013l2-2 2 2-2 2zM1485 999l2 2 0 10-2 2-2-2 0-10zM1481 995l2-2 2 4-2 2zM1269 987l12 20 0 4 14 28 0 4 8 10 18 8 20 0 6-4 12-22 0-4 4-6 0-4 4-8 0-6 2-2 0-18zM1135 987l2 12 4 6 2 12 2 2 0 22 4 6 12 8 10 2 12 6 24 0 20-10 8-10 2-10 2-2 0-38-2-2 0-4zM1055 987l0 66 12-2 8 6 0 8-2 2-18 0 0 34 10 0 2-2 4 0 6 4 0 4-4 6-6 20 6 0 6-4 6 0 4 4 4 8 0 4 6 8 2 10 4 4 14 0 2 2 54 0 16 8 4 4 4 0 10 6 4 0 14 6 4 0 14-6 4-4 10-4 6-6 0-6-6-6-16-8-36 0-24 10-10 0-10-12 0-10 8-22 0-18-8-6-6 0-14-6-10-10-4 0-2-2-10 0-6-6 0-2 8-8 12 0 6 6 4 0 4-4 0-4-4-8 0-10-2-2 0-22-2-2 0-4-4-2-6 6-2-2 2-8-2-4-8-6 4-2 6 4 4-6 0-4-14 0 0 4 2 2-2 2-2 0-6-8-22 0-2 2-2-2zM1099 1033l2-2 4 2-2 2zM1117 1031l-6 8-8-4 2-2 6 0 4-4zM1095 1031l2-2 2 2-2 2zM1091 1029l2-2 2 2-2 2zM1115 1027l2-2 2 4-2 2zM1087 1027l2-2 4 2-2 2zM1085 1025l2-2 2 2-2 2zM1117 1023l2-2 2 4-2 2zM1119 1021l2-2 2 2-2 2zM1081 1019l2-2 4 6-2 2zM1079 1017l2-2 2 2-2 2zM1125 1013l2 4-4 4-2-4zM1075 1015l2-2 4 2-2 2zM1077 1013l-2 2-6 0-2 4-12-6 2-2 10 0 2-4zM1067 1001l2 2 0 4-2 2-2-2 0-4zM1077 997l2-2 2 2-2 2zM1079 995l2-2 2 2-2 2zM1073 995l2-2 2 2-2 2zM1063 995l2-2 2 4-2 2zM1081 993l2-2 2 2-2 2zM1071 989l2-2 2 4-2 2z"/>
<path fill="#c9df57" d="M1055 1411l0 12 10 0 0-8zM1147 1395l2 2 6 0 0-2-4-2zM1379 1397l-2 26 116 0-2-8-8-8-8-2-14-12-10-2-4-6 0-4-4-8-18-16-8 0-2-2-2 2-6 0-12 12-4 8-6 6zM1503 1337l6 4 6 0 0-8-8 0zM1111 1335l0 10 4 4 20 0 4-4 0-8-8-6-12-2zM1513 1285l-2 2 0 8 2 4 2 0 0-14zM1207 1167l0 10 8 8 8 4 10 0 4-2 10-12-2-8-8-6-20 0-2 2-4 0zM1075 1139l-4 4 0 10 8 10 6 4 4 0 2-4 0-8-6-12-4-4zM1069 1105l-14 0 0 24 6-2 4-4 4-10zM1457 1059l0 2 4 0zM1071 1059l-6-4-2 2-8 0 0 4 4 2 10 0zM1469 987l-14 0 2 10 4 4 6-6zM1443 987l0 12 2 4 4 2 2-2 0-16zM1515 987l-32 0 0 6 2 2 0 4-2 2-6-12-2 0-2 6-6 8 0 4 2 4 10 2 4-4 0-8 2-2 2 2 0 10-8 8-12-4-8-8-8 4-8 0-4-4 0-4-2-2 0-14-50 0 0 4-2 2 0 14-2 2-2 12-2 2 0 4-14 38 0 6-4 8-2 20-2 2 0 28-2 2-2 10-16 14-6 2-10 8-6 2-4 4-6 2-4 4-6 2-4 4-18 10-4 0-8 4-12 0-10 6-16 0-6-4-14 0-2-2-10 0-2-2-10 0-2-2-14 0-2-2-14 0-2-2-40 0-2-2-14 0-6 4-6 0-6-4 2-2 6 0 4-4 0-8-18-18-4-8-6-4 0 30 6 2 6 6-4 2-4-4-4 0 0 228 10 0 4-2 6-8 14 0 2 2-2 2-10 2 4 4 12 6 10 2 8-6 0-6-4-4 4-2 4 4 0 10-8 8-8 2-14-8-12-2-4 4 0 8 106 0-2-4 2-8 10-12-4-10 0-6 4-8 14-14 2 4 6 4 6 0 4-2 2-4 0-10-4-4-8 2-8 10-4-4-4-12-6-6-8 0-6 4-2-2 2-4 6-4 6 0 4 2 10 12 8 0 6-4 8 2 6 10 0 8-2 4-10 8-12 0-2-2-2 2-4 0-6 8 2 22-10 10 0 8 14 0 2-10 10-18 4-4 2 4-10 18-2 10 152 0 2-2 0-20 2-2 2-28 2-2 0-6 8-20 4-4 18-10 28 0 2 2 16 4 18 18 4 10 2 14 2 4 6 4 8 0 2-2 12-2 6-6 0-8 2-2 2 2 0 10-14 12-2 10 14 14 16 4 0-52-6-4 0-2 6-4 0-10-18 0-2 2 0 10 4 6-2 4-6-8-2-14-4-6 0-8 10-14-4-6-4 0-2-2 2-2 8 0 6 6-4 16 18-2 0-20-4 0-4-4 0-10-2-2 2-8 8-6 0-32-4 0-2-2 2-2 4 0 0-18-4-2 4-2 0-4-4 0-2-2 2-2 4 0 0-10-8 0-4 2-6 12-2-2 0-8-2-2-4 2-4 6 0 6 2 2 4 0 4-6 2 2 0 4-6 6-4 0-8-6 0-18-20 0-28-12-18-18-8-14 0-10 2-4 38-36 16 0 10-10 8 0 4 4 0 10-16 18-6 16 0 10 2 2 2 10 4 4 2 6 8 8 8 4 4 0 10 6 14-2 0-98-10 0-4-4 4-10 2 2 0 8 8 0 0-12-4 0-2-2 2-2 4 0 0-30-8-2-6-6-8 0-8 12-8 0-2-2 2-2 4 0 4-4 2-6 6-4 8 0 10 6 4 0zM1105 1397l2-2 4 2-2 2zM1089 1397l2-2 8 0 2 2-2 2-8 0zM1211 1391l2-2 2 2-2 2zM1213 1389l2-2 2 2-2 2zM1215 1387l2-2 2 2-2 2zM1123 1385l2-2 12 0 8 4 6 0 2-2 6 8 4 2 0 4-8 6-16-4-8-4-8-8zM1085 1367l2-2 6 0 2 2-2 2-6 0zM1173 1343l-4 10 0 16-4 6-6 4-10 0-12-10-20 0-2 2-20 0-2-2 2-2 14 0 8-4 20 0 12 10 6 2 8-6 0-12 2-2 2-10 4-4zM1105 1333l10-8 16 0 12 8 2 10-2 2 0 4-8 6-24 2-6-10zM1089 1315l2 2-2 8-10 6-2 4 2 2 0 18 8 10-4 2-10-10 0-12-2-4-6-6-8-4 4-4 14-2 8-4zM1483 1311l2-2 2 2-2 2zM1505 1241l2-2 2 2-2 2zM1505 1231l2 2 0 6-2 2-2-2 0-6zM1505 1231l2-2 4 2-2 2zM1507 1215l2-2 4 6-4 2-2-2zM1065 1183l4-2 4 4-4 2zM1483 1101l2-2 2 2-2 2zM1477 1087l2-2 8 8 0 2-2 2-8-8zM1475 1085l2-2 2 2-2 2zM1473 1083l2-2 2 2-2 2zM1505 1081l2-2 2 2-2 2zM1471 1081l2-2 2 2-2 2zM1507 1079l2-2 2 2-2 2zM1495 1077l2-2 2 2-2 2zM1481 1075l0-8 6-4 12 0 4 4 0 4-4 6-2-2 0-8-8 0-4 4 4 6 6 0 2 2-6 4zM1449 1055l2-2 10 0 8 6 2 6-4 4-10 0-8-8zM1299 987l0 8 2 2 2 12 12 18 12 6 8 0 8-4 6-6 8-18 0-16-2-2zM1135 987l2 12 4 6 2 12 2 2 0 22 4 6 12 8 10 2 12 6 24 0 20-10 8-10 2-10 2-2 0-38-2-2 0-4zM1119 987l0 4 2 2 6 0 2-2 0-4zM1055 987l0 22 4 2 6-2 0-6 2-2 2 2 0 4 4 4 6 2 8 8 0 2 8 6-2 2-6-2-6-8-6-4-4 0-4 4-6-6-4 0-2-2 0 38 16 0 6 8 0 6-4 4-14 0-4-2 0 34 4-2 16 0 4 4 0 4-6 10 0 6-2 2 2 2 16-2 4 4 2 8 8 6 22 0 10-4 6-4 8-12 0-12-16-18-8-6-14-6-6-6 2-6 8-8 4-2 18 0 2-2 0-32-2-2-2-10-4 0-6 6-8 16-6 6-14-8 2-2 12 2 4-4 2-6 10-14-2-8-10-6-6-8-22 0 0 4-2 2-2-2 0-4zM1093 1031l2-2 4 2-2 2zM1063 1021l2-2 2 2-2 2zM1073 995l2-2 2 2-2 2zM1065 993l2 2 0 6-2 2-2-2 0-6zM1083 991l2 4-4 4-4 0-2-2zM1073 987l2 2 0 4-2 2-2-2 0-4z"/>
<path fill="#c6d55e" d="M1071 1423l28 0 0-2-14-8-10 0zM1055 1411l0 12 10 0 0-8zM1385 1407l0 16 108 0-2-8-8-8-8-2-14-12-10-2-16-18-12-6-10 0-12 8-10 14-4 10 0 6zM1211 1351l-4 4 0 10 2 2 6 0 4-2 2-10-4-4zM1193 1347l-8-8-6 0-8 10 0 18-2 4-12 10-10-2-12-10-14 0-8 4-10 0-2-2-10 0-10-4-12-12-8 4-4 0-2-2 0 48 10 0 12-10 22 0 2 2-2 2-8 0-2 2-10 2 4 4 12 6 10 2 8-6 0-6-8-6 2-2 4 0 6 6 2 6-14 16 32 0 2-4 4 0 2 4 30 0 0-10 10-12 0-6-2-2 0-14 12-16 0-10-2-2zM1099 1395l2-2 4 0 2 2-2 2-4 0zM1123 1385l2-2 12 0 8 4 6 0 2-2 10 10 0 4-8 6-16-4-8-4-8-8zM1055 1337l0 14 2-2 12 2 0-8-8-6zM1503 1337l6 4 6 0 0-8-8 0zM1111 1337l0 4 6 8 14 0 8-6-2-6-8-6-12 0-4 2zM1513 1285l-2 2 0 8 2 4 2 0 0-14zM1511 1215l0 2 4 2 0-4zM1493 1207l-4 0-2 10 4 0 2-2zM1233 1169l-4 0-2-2-2 2-4 0-4 4 0 6 6 6 8 0 6-8zM1055 1149l0 22 16 12 8 0 4-4-2-8-24-22zM1075 1139l-4 4 0 10 8 10 6 4 4 0 2-4 0-8-6-12-4-4zM1069 1105l-14 0 0 24 6-2 4-4 4-10zM1497 1069l-4-2-6 2 0 6 2 2 4 0 4-4zM1071 1059l-6-4-2 2-8 0 0 4 4 2 10 0zM1055 1013l0 38 14-2 6 4 4 8 0 4-8 6-4 0-2-2-10 0 0 30 20-2 6 6 0 4-6 10 0 6 18-2 8 10 18 0 8-4 4-4 0-4 2-2-2-10-4-6-8-6-22-8-2-2 0-8 4-6 10-6 8-8 18 0 2-2 0-34-4-6-10 8-6 16-6 4-8-6-18-8-6-8-4-2-8 2-6-6-4 0zM1063 1021l2-2 2 2-2 2zM1475 993l-6 8 0 8 8 4 4-2 2-6-4-10zM1469 987l-14 0 2 10 4 4 6-6zM1443 987l2 12 4 2 0-14zM1515 987l-32 0 0 6 4 8 0 10-8 8-12-4-8-8-8 4-8 0-4-4 0-4-2-2 0-14-50 0 0 4-2 2 0 14-2 2-2 12-2 2 0 4-14 38 0 6-4 8-2 20-2 2 0 28-2 2-2 10-16 14-6 2-10 8-6 2-4 4-6 2-4 4-6 2-4 4-18 10-4 0-8 4-12 0-10 6-16 0-6-4-14 0-2-2-10 0-2-2-10 0-2-2-14 0-2-2-14 0-2-2-40 0-2-2-14 0-6 4-6 0-18-12-4 0 0 146 2-2 16 0 10-4 6-6 2 2-2 10-10 6-2 4 2 2 0 18 2 4 6 6 6 0 2 2 14 0 8-4 20 0 12 10 6 2 8-6 0-12 2-2 2-10 4-6 8-6 6 0 4 2 10 12 8 0 6-4 8 2 6 10 0 8-2 4-10 8-12 0-2-2-2 2-4 0-6 8 2 22-10 10 0 8 14 0 2-10 4-8 4-4 2-6 8-8 2 4-4 4-8 16-2 12 150 0 2-2 0-20 2-2 2-28 2-2 0-6 8-20 4-4 18-10 28 0 2 2 16 4 18 18 4 10 2 14 2 4 6 4 8 0 2-2 12-2 6-6 0-8 2-2 4 8-4 8-10 8-2 8 14 16 14 2 0-50-6-4 0-2 6-4 0-10-16 0-4 4 0 6 4 8-2 4-6-8-2-14-4-6 0-8 10-14-4-6-4 0-2-2 4-4 8 2 6 4 0 6-2 2 0 6 2 2 12 0 0-18-4 0-6-6 0-20 6-6 4 0 0-32-4 0-2-2 2-2 4 0 0-18-4 0-4-4 0-6 8-4 0-8-8 0-4 2-4 6-2 10-6 6-4 0-8-6 0-18-20 0-28-12-18-18-8-14 0-10 2-4 38-36 16 0 10-10 8 0 4 4 0 10-6 10-2 14-2 2 0 14 2 2 0 12 2 2 0 4 2 4 14 12 8 0 2 2 12-2 0-90-8 0-6-4 0-6 4-6 2 2 0 8 8 0 0-12-4 0-2-2 2-2 4 0 0-28-8-2-10-8-6 4 0 4-6 6-6 0-4-4 2-2 4 0 4-4 2-6 6-4 8 0 10 6 4 0zM1223 1389l4-2 2 4-2 2zM1215 1387l2-2 2 2-2 2zM1105 1333l10-8 16 0 12 8 2 10-2 2 0 4-8 6-24 2-6-10zM1483 1311l2-2 2 2-2 2zM1513 1229l2 2-8 4 4 6-4 2-4-4 0-6 4-4zM1483 1101l2-2 2 2-2 2zM1477 1087l2-2 10 10 0 2-2 2-10-10zM1475 1085l2-2 2 2-2 2zM1473 1083l2-2 2 2-2 2zM1505 1081l2-2 2 2-2 2zM1471 1081l2-2 2 2-2 2zM1507 1079l2-2 2 2-2 2zM1481 1075l0-8 6-4 12 0 4 4-2 8-10 8zM1449 1055l2-2 10 0 8 6 2 6-4 4-10 0-8-8zM1455 1031l4-4 4 2 4 6-2 2-6 0zM1135 987l2 12 4 6 2 12 2 2 0 22 4 6 12 8 10 2 12 6 24 0 20-10 8-10 2-10 2-2 0-38-2-2 0-4zM1121 987l2 4 4-2 0-2zM1055 987l0 22 8 0 0-14 2-2 2 2 2 12 4 4 6 2 10 12 16 8 6 0 4-4 2-6 10-14-2-8-10-6-6-8-22 0 0 6-4 6-6 0-2-2 8-6 0-4zM1073 995l2-2 2 2-2 2zM1073 987l2 2 0 4-2 2-2-2 0-4z"/>
<path fill="#c5cb64" d="M1073 1419l0 4 24 0-10-8-12 0zM1055 1411l0 12 10 0 0-8zM1113 1409l0-6-8-6-26 6 4 4 18 8 4 0zM1391 1415l0 8 102 0-2-8-8-8-8-2-14-12-10-2-10-8-12-6-14 0-4 2-12 12-4 8-2 14zM1211 1353l-2 2 0 8 2 2 6 0 2-2 0-8-2-2zM1515 1345l-2 2-14 0-2 2 0 10 6 10 0 6-14 18 0 6 6 8 10 6 10 0 0-48-6-4 0-2 6-4zM1193 1349l-6-8-8 0-4 2-4 10 0 18-12 10-10 0-12-10-4 0-2-2-14 2-2 2-16 0-2-2-14-2-12-8-16 0 0 44 6 0 14-10 20 0 2-2 10 0 8 4 4 6 0 6-10 14 26 0 0-4 2-2 6 0 6 6 26 0-2-2 2-12 8-8-2-20 2-2 0-4 10-12zM1123 1385l2-2 12 0 8 4 6 0 2-2 10 10 0 4-8 6-16-4-8-4-8-8zM1055 1339l0 8 8-2 0-4zM1503 1337l6 4 6 0 0-8-8 0zM1113 1335l0 8 4 4 18 0 2-2 0-6-6-6-12-2zM1507 1311l-4 6 0 6 2 2 10 0 0-14zM1513 1285l-2 2 0 8 2 4 2 0 0-14zM1509 1233l0 6 6 2 0-8zM1511 1215l0 2 4 2 0-4zM1491 1209l-2 2 0 4 4-2zM1055 1153l0 18 4 0 8 8 6 4 4 0 4-4-2-8-18-16zM1075 1139l-4 4 0 10 8 10 6 4 4 0 2-4 0-8-6-12-4-4zM1069 1105l-14 0 0 24 6-2 4-4 4-10zM1487 1071l4 6 4-2 0-6-6 0zM1071 1059l-6-4-2 2-8 0 0 4 4 2 10 0zM1055 1013l0 38 4-2 12 0 8 10 0 8-4 4-16 0-4-2 0 30 20-4 8 6 0 8-4 8 6 0 4-4 6-2 8 8 12 0 2-2 0-8-8-6-12 2-4-4-4-10 0-14 4-6 10-4 10-10 4-2 16 0 4-6 0-20-2-2 0-6-2-2-4 0-6 6-4 14-8 6-6-6-18-8-12-10-10 2-2-2 2-2-4-4-4 0zM1477 995l-4 2-4 8 4 6 6 0 2-2 0-8zM1469 987l-14 0 2 10 4 4 6-6zM1449 987l-4 0 2 10zM1515 987l-32 0 0 6 4 8 0 10-8 8-12-4-8-8-8 4-8 0-4-4 0-4-2-2 0-14-50 0 0 4-2 2 0 14-2 2-2 12-2 2 0 4-14 38 0 6-4 8-2 20-2 2 0 28-2 2-2 10-16 14-6 2-10 8-6 2-4 4-6 2-4 4-6 2-4 4-18 10-4 0-8 4-12 0-10 6-16 0-6-4-14 0-2-2-10 0-2-2-10 0-2-2-14 0-2-2-14 0-2-2-40 0-2-2-14 0-6 4-6 0-18-12-4 0 0 142 20-2 14-6 2 2-2 10-10 6-2 4 2 2 0 18 2 4 6 6 6 0 2 2 14 0 8-4 20 0 12 10 6 2 8-6 0-12 2-2 2-10 4-6 8-6 10 2 10 12 8 0 6-4 8 2 6 10 0 8-2 4-10 8-12 0-2-2-2 2-4 0-6 8 2 22-10 10 0 8 14 0 2-10 4-8 4-4 2-6 10-10 2 2 10-2 4 6-4 4-4 0-6-4-6 6-8 16-2 10 150 0 2-2 0-20 2-2 2-28 2-2 0-6 6-12 0-4 6-8 18-10 28 0 2 2 16 4 18 18 4 10 2 14 4 6 4 2 8 0 2-2 12-2 6-6 0-8-6-8-2-14-4-6 0-8 8-10 2-6-4-4-4 0-2 2-2-4 4-4 16 2 2-4 0-22 6-6 4 0 0-30-4 0-8-6 0-6 4-4 8 0 0-6-4 0-6-6 6-8 4 0 0-8-8 0-4 2-4 6-2 10-6 6-4 0-8-6 0-18-20 0-28-12-22-24-4-8 0-10 2-4 38-36 16 0 10-10 8 0 4 4 0 10-4 8 0 16 8 16 2 22 4 6 10 0 2-2 10-2 0-78-14 0-2-2 0-6 6-8 2 2 0 8 8 0 0-12-4 0-4 4-2-2 4-6 4 0 2-2 0-24-12-4-2-4-4-2-4 2 0 4-4 6-10 0-4-4 2-2 4 0 4-4 2-6 6-4 8 0 10 6 4 0zM1105 1333l10-8 16 0 12 8 2 10-2 2 0 4-8 6-24 2-6-10zM1483 1101l2-2 2 2-2 2zM1473 1083l4-2 12 12 0 4-2 2zM1471 1081l2-2 2 2-2 2zM1481 1075l0-8 6-4 12 0 4 4-2 8-10 8zM1449 1055l2-2 10 0 8 6 2 6-4 4-10 0-8-8zM1473 1045l2-2 2 2-2 2zM1453 1029l2-2 8 0 6 6 0 4-2 2-8 0-6-4zM1135 987l2 12 4 6 2 12 2 2 0 22 4 6 12 8 10 2 12 6 24 0 20-10 8-10 2-10 2-2 0-38-2-2 0-4zM1073 987l4 8 6-4 0-4zM1055 987l0 22 8-2 0-12 2-2 2 2 2 12 4 4 6 2 10 12 16 8 6 0 4-4 2-6 10-14-2-8-10-6-6-8-22 0 0 8-6 6-6-2-4-4-2-8-4 0 0 4-2 2-2-2 0-4z"/>
<path fill="#c3c16a" d="M1073 1423l20 0 0-2-4-4-10-2-4 2 0 4zM1055 1411l0 12 10 0 0-8zM1113 1409l0-6-8-6-26 6 4 4 18 8 4 0zM1395 1423l98 0 0-4-10-12-8-2-14-12-10-2-16-8-12 0-2 2-4 0-12 12-6 12 0 6zM1213 1355l-2 2 0 6 6 0 2-6-2-2zM1501 1347l-4 4 0 6 6 12 0 8-12 14 0 8 4 6 8 6 12 2 0-48-6-4 0-2 6-4 0-8zM1191 1347l-6-6-6 0-6 8 0 20-8 10-8 4-10-2-12-10-14 0-2 2-14 2-2-2-8 0-2-2-14-2-8-6-16 0 0 42 2-2 6 0 8-8 4 0 2-2 6 0 2 2 6 0 2-2 16 0 10 8 0 10-8 12 22 0 0-4 4-4 6 0 6 8 24 0 0-12 8-10 0-24 10-14zM1123 1385l2-2 12 0 8 4 6 0 2-2 10 10 0 4-8 6-16-4-8-4-8-8zM1503 1337l6 4 6 0 0-8-8 0zM1115 1335l0 8 6 4 10 0 4-2 0-8-6-4-12 0zM1509 1313l-4 8 2 2 8 0 0-10zM1513 1285l-2 2 0 8 2 4 2 0 0-14zM1511 1233l-2 4 2 2 4 0 0-6zM1511 1215l0 2 4 2 0-4zM1055 1157l0 10 16 14 8 0 0-8-2-4-8-6zM1075 1139l-4 4 0 10 8 10 6 4 4 0 2-4 0-8-6-12-4-4zM1069 1105l-14 0 0 24 6-2 4-4 4-10zM1515 1079l-4 0-4 4 0 8 8 0zM1491 1069l-2 4 4 2 2-4zM1071 1059l-6-4-2 2-8 0 0 4 4 2 10 0zM1055 1097l8 0 2-2 20 0 2-4 0-18 4-4 12-4 12-12 4 0 2 2 8 0 4-2 2-4 0-24-2-4-4 0-4 4-4 8-2 10-6 6-12-12-16-6-10-8-10 0-2-2 2-2-4-4-4 0-2-2 0 36 18 0 8 12 0 8-2 2-4 0-2 2-18-2zM1473 999l-2 8 6 4 4-6-2-2 0-4zM1469 987l-14 0 2 10 4 4 6-6zM1515 987l-32 0 0 6 4 8 0 10-8 8-12-4-8-8-8 4-8 0-4-4 0-4-2-2 0-14-50 0 0 4-2 2 0 14-2 2-2 12-2 2 0 4-14 38 0 6-4 8-2 20-2 2 0 28-2 2-2 10-16 14-6 2-10 8-6 2-4 4-6 2-4 4-6 2-4 4-18 10-4 0-8 4-12 0-10 6-16 0-6-4-14 0-2-2-10 0-2-2-10 0-2-2-14 0-2-2-14 0-2-2-40 0-2-2-14 0-6 4-6 0-18-12-4 0 0 138 4-2 20 0 2-2 8 0 2 2-2 10-10 6-2 4 2 2 0 18 2 4 6 6 6 0 2 2 14 0 8-4 20 0 12 10 6 2 8-6 0-12 2-2 2-10 4-6 8-6 10 2 10 12 8 0 6-4 8 2 6 10 0 8-2 4-10 8-12 0-2-2-2 2-4 0-6 8 2 22-10 10 0 8 14 0 2-10 10-18 10-10 8 0 2-2 8 6-2 6-2 2-14-2-4 4-6 12-2 12 148 0 2-2 0-20 2-2 2-28 2-2 0-6 6-12 0-4 6-8 18-10 28 0 2 2 16 4 18 18 4 10 2 14 4 6 4 2 8 0 2-2 12-2 6-6 0-8-6-8-2-14-4-6 0-8 8-10 2-6-4-4-4 0-2 2-2-4 4-4 14 0 2-2 0-22 6-6 6-2 0-28-4 0-8-6 0-6 4-4 8 0 0-6-6 0-4-4 0-4 6-6 4 0 0-8-8 0-4 2-4 6-2 10-6 6-4 0-8-6 0-18-20 0-28-12-22-24-4-8 0-10 2-4 38-36 16 0 10-10 8 0 4 4-2 28 4 8 12 10 10 14 8 2 0-66-6 0-2 2-12 0-2-2 0-2 8-8 2-6 6-6 6-2 0-24-10 0-8-6-2 4-8 6-6 0-6-4 0-2 2-2 4 0 4-4 2-6 6-4 8 0 10 6 4 0zM1105 1333l10-8 16 0 12 8 2 10-2 2 0 4-8 6-24 2-6-10zM1483 1101l2-2 2 2-2 2zM1471 1081l4-2 16 16-4 4zM1481 1075l0-8 6-4 12 0 4 4-2 8-10 8zM1449 1055l2-2 10 0 8 6 2 6-4 4-10 0-8-8zM1473 1045l2-2 2 2-2 2zM1451 1029l4-4 8 0 8 8 0 6-2 2-14-2-4-4zM1135 987l2 12 4 6 2 12 2 2 0 22 4 6 12 8 10 2 12 6 24 0 20-10 8-10 2-10 2-2 0-38-2-2 0-4zM1073 987l4 8 6-4 0-4zM1065 987l4 20 4 4 6 2 10 12 10 6 12 2 16-24-2-8-10-6-6-8-20 0-2 2 0 6-6 6-4 0-6-6-2-8zM1055 987l0 20 6 0 2-4 0-4-2-2 0-10z"/>
<path fill="#c2b86c" d="M1075 1423l16 0 0-2-6-4-8 0zM1055 1411l0 12 10 0 0-8zM1113 1409l0-6-8-6-26 6 4 4 18 8 4 0zM1401 1421l0 2 92 0-2-8-8-8-8-2-14-12-10-2-8-4-14 0-8 4-8 8zM1213 1357l0 4 2 0 2-2zM1503 1347l-4 2-2 4 2 8 4 6 0 12-10 10 0 10 6 8 8 4 8 0 0-46-6-4 0-2 6-4 0-8zM1191 1351l-4-8-8 0-4 4 0 4-2 2 2 18-14 12-12 0-16-12-10 0-8 4-14 0-2-2-16-2-12-6-14 0-2-2 0 40 6 0 12-10 38 0 10 12 0 4-6 8-2 6 18 0 0-4 8-6 6 2 6 8 22 0-2-2 2-14 8-10 0-4-2-2 0-16 8-8 4-8zM1123 1385l2-2 12 0 8 4 6 0 2-2 10 10 0 4-8 6-16-4-8-4-8-8zM1503 1337l6 4 6 0 0-8-8 0zM1115 1337l0 4 4 4 14 0 2-2 0-4-8-6-8 0zM1511 1315l-2 2 0 4 6 0 0-6zM1513 1285l-2 2 0 8 2 4 2 0 0-14zM1515 1233l-4 2 0 4 4 0zM1511 1215l0 2 4 2 0-4zM1061 1163l0 4 6 10 8 4 4-4-2-6-4-4zM1075 1139l-4 4 0 10 8 10 6 4 4 0 2-4 0-8-6-12-4-4zM1069 1105l-14 0 0 24 6-2 4-4 4-10zM1515 1079l-4 0-4 4 0 8 8 0zM1491 1071l0 2 2 0 0-2zM1055 1071l0 26 4-2 8 0 2-2 12 0 4-4 0-10-2-2 0-4-24 0zM1071 1059l-6-4-2 2-8 0 0 4 4 2 10 0zM1131 1023l-2 0-6 8-2 12-2 2 0 6 2 2 8 0 4-2 0-4 2-2 0-12zM1055 1013l0 36 6 0 2-2 8 0 4 2 10 20 16-4 6-4 4-10-12-14-8-2-16-10-10-2-2-2 2-2-4-4-4 0zM1475 1001l-2 2 0 4 4 2 2-2 0-4zM1469 987l-14 0 2 10 4 4 6-6zM1515 987l-32 0 0 6 4 8 0 10-8 8-12-4-8-8-8 4-8 0-4-4 0-4-2-2 0-14-50 0 0 4-2 2 0 14-2 2-2 12-2 2 0 4-14 38 0 6-4 8-2 20-2 2 0 28-2 2-2 10-16 14-6 2-10 8-6 2-4 4-6 2-4 4-6 2-4 4-18 10-4 0-8 4-12 0-10 6-16 0-6-4-14 0-2-2-10 0-2-2-10 0-2-2-14 0-2-2-14 0-2-2-40 0-2-2-14 0-6 4-6 0-18-12-4 0 0 12 6 4-2 4-4 0 0 112 28 0 8 4-2 10-10 6-2 4 2 2 0 18 2 4 6 6 6 0 2 2 14 0 8-4 20 0 12 10 6 2 8-6 0-12 2-2 2-10 4-6 8-6 10 2 10 12 8 0 6-4 8 2 6 10 0 8-2 4-10 8-12 0-2-2-2 2-4 0-6 8 2 22-10 10 0 8 14 0 2-10 10-18 10-10 6 0 2-2 6 0 4 4 0 8-4 4-14-2-8 12-2 14 146 0 2-2 0-20 2-2 2-28 2-2 0-6 6-12 0-4 6-8 18-10 28 0 2 2 16 4 18 18 4 10 2 14 4 6 4 2 8 0 2-2 12-2 6-6 0-8-6-8-2-14-4-6 0-8 8-10 2-6-4-4-4 0-2 2-2-2 0-4 4-4 14 0 2-4 0-20 6-6 6-2 0-10-2-2 2-2 0-12-4 0-8-6 0-6 4-4 8 0 0-4-2-2-4 0-4-4 0-6 4-4 4 0 2-2 0-6-8 0-4 2-4 6-2 10-6 6-4 0-8-6 0-18-20 0-28-12-22-24-4-8 0-10 2-4 38-36 16 0 10-10 8 0 4 4 0 12-2 2 0 10 6 10 28 18 0-54-12 0-2 2-10 0-2-2-2 2-16-20 4-2 14 12 6 0 16-18 4 0 0-22-10 0-2-2-4 0-8 4-12 0-6-6 2-4 2 2 4 0 4-4 2-6 6-4 8 0 10 6 4 0zM1105 1333l10-8 16 0 12 8 2 10-2 2 0 4-8 6-24 2-6-10zM1483 1101l2-2 2 2-2 2zM1481 1075l0-8 6-4 12 0 4 4-2 8-10 8zM1449 1055l2-2 10 0 8 6 2 6-4 4-10 0-8-8zM1449 1031l4-6 8-2 12 10 0 6-4 4-4-2-8 0-6-4zM1135 987l2 12 4 6 2 12 2 2 0 22 4 6 12 8 10 2 12 6 24 0 20-10 8-10 2-10 2-2 0-38-2-2 0-4zM1073 987l4 8 6-4 0-4zM1065 987l4 20 4 4 6 2 10 12 10 6 12 2 16-24-2-8-10-6-6-8-20 0-2 10-4 4-8 0-6-10 0-4zM1055 987l0 20 4 0 2-2 0-18z"/>
<path fill="#c0af6c" d="M1077 1421l0 2 12 0-2-4-8 0zM1055 1411l0 12 10 0 0-8zM1113 1409l0-6-8-6-26 6 4 4 18 8 4 0zM1407 1423l86 0-2-8-8-8-8-2-14-12-10-2-2-2-16 0-4 2-16 18zM1507 1347l-8 4 0 8 4 6 2 10-12 16 0 6 8 10 14 4 0-46-6-4 0-2 6-4 0-8zM1189 1349l-4-6-8 2-2 4 0 12 4 10-6 6-16 8-10-2-12-10-36 2-2-2-18-2-8-4-16-2 0 36 6 0 10-8 26 0 2-2 8 0 8 4 6 8 0 10-4 4-2 6 14 0 2-6 4-4 10 0 8 8 0 2 18 0 0-16 8-10-2-24 10-10 2-4zM1123 1385l2-2 12 0 8 4 6 0 2-2 10 10 0 4-8 6-16-4-8-4-8-8zM1117 1337l0 4 6 4 8 0 2-2 0-4-4-4-10 0zM1503 1337l6 4 6 0 0-8-8 0zM1513 1285l-2 2 0 8 2 4 2 0 0-14zM1511 1235l0 2 4 2 0-4zM1511 1215l0 2 4 2 0-4zM1065 1167l2 8 8 4 2-2 0-4-6-6zM1075 1139l-4 4 0 10 8 10 6 4 4 0 2-4 0-8-6-12-4-4zM1069 1105l-14 0 0 24 6-2 4-4 4-10zM1515 1079l-4 0-4 4 0 8 8 0zM1055 1073l0 22 8 0 2-2 10 0 2-2 4 0 2-4 0-8-4-4zM1071 1059l-6-4-2 2-8 0 0 4 4 2 10 0zM1129 1025l-4 4-2 12-2 2 0 6 2 2 6 0 4-4 0-18zM1055 1013l0 36 4-2 14 0 6 6 6 12 12 0 10-6 2-8-8-12-8-4-10-2-6-6-12-4-2-2 2-2-4-4-4 0zM1475 1003l0 4 2 0 0-4zM1469 987l-14 0 2 10 4 4 6-6zM1515 987l-32 0 0 6 4 8 0 10-8 8-12-4-8-8-8 4-8 0-4-4 0-4-2-2 0-14-50 0 0 4-2 2 0 14-2 2-2 12-2 2 0 4-14 38 0 6-4 8-2 20-2 2 0 28-2 2-2 10-16 14-6 2-10 8-6 2-4 4-6 2-4 4-6 2-4 4-18 10-4 0-8 4-12 0-10 6-16 0-6-4-14 0-2-2-10 0-2-2-10 0-2-2-14 0-2-2-14 0-2-2-40 0-2-2-14 0-6 4-6 0-18-12-4 0 0 12 4 0 4 4-4 6-4 0 0 104 20 2 2 2 10 2 4 4-2 10-10 6-2 4 2 2 0 18 2 4 6 6 6 0 2 2 14 0 8-4 20 0 12 10 6 2 8-6 0-12 2-2 2-10 4-6 8-6 10 2 10 12 8 0 6-4 8 2 6 10 0 8-2 4-10 8-12 0-2-2-2 2-4 0-6 8 2 22-10 10 0 8 14 0 2-10 10-18 10-10 4 0 6-4 4 0 6 6 0 10-4 4-14-4-6 6-4 8-2 12 146 0 2-2 0-20 2-2 2-28 2-2 0-6 6-12 0-4 6-8 18-10 28 0 2 2 16 4 18 18 4 10 2 14 4 6 4 2 8 0 2-2 12-2 6-6 0-8-6-8-2-14-4-6 0-8 8-10 2-6-4-4-4 0-2 2-4-4 4-6 14 0 2-2 0-6 2-2-2-2 0-12 4-6 6-4 4 0 0-4-10-6 4-6 6 0 0-8-4 0-8-6 0-6 4-4 8 0 0-4-8-2-4-6 8-10 4 0 0-6-8 0-4 2-4 6-2 10-6 6-4 0-8-6 0-18-20 0-28-12-22-24-4-8 0-10 2-4 38-36 16 0 10-10 8 0 4 4 0 12-2 2 2 12 12 10 4 0 16 8 0-46-6 0-8 4-10 0-6-4 0-2-14-16 4-2 12 10 6 2 6-4 8-12 8-2 0-22-16 0-10 4-8 0-8-8 2-4 2 2 4 0 4-4 2-6 6-4 8 0 10 6 4 0zM1105 1333l10-8 16 0 12 8 2 10-2 2 0 4-8 6-24 2-6-10zM1483 1101l2-2 2 2-2 2zM1481 1075l0-8 6-4 12 0 4 4-2 8-10 8zM1449 1055l2-2 10 0 8 6 2 6-4 4-10 0-8-8zM1449 1029l6-6 8 0 4 2 6 6 0 12-2 2-2-2-6 0-2-2-10-2-2-2zM1135 987l2 12 4 6 2 12 2 2 0 22 4 6 12 8 10 2 12 6 24 0 20-10 8-10 2-10 2-2 0-38-2-2 0-4zM1073 987l4 8 6-4 0-4zM1065 987l4 20 4 4 6 2 10 12 10 6 12 2 16-24-2-8-10-6-6-8-20 0 0 6-8 10-6-2-6-8 0-6zM1055 987l0 18 4 0 2-2 0-16z"/>
<path fill="#bea56c" d="M1079 1421l0 2 8 0-4-4zM1055 1411l0 12 10 0 0-8zM1113 1409l0-6-8-6-26 6 4 4 18 8 4 0zM1411 1423l82 0 0-4-10-12-8-2-14-12-4-2-8 0-2-2-8 0-12 8zM1055 1367l0 34 6-2 10-8 12 0 2 2 24-2 4 2 10 12 0 6-6 8 0 4 10 0 2-2 0-4 8-6 10 2 8 10 14 0 2-20 6-6 0-14-2-4-4 0-10 6-12 0-16-12-12 0-8 4-8 0-10-4-14 0-2-2-6 0-10-4zM1123 1385l2-2 12 0 8 4 6 0 2-2 10 10 0 4-8 6-16-4-8-4-8-8zM1503 1349l-4 4 0 4 6 12 0 8-10 14 0 8 8 8 4 2 8 0 0-44-6-4 0-2 6-4 0-6zM1185 1345l-6 0-4 8 4 12 6-2 4-10zM1119 1337l0 4 2 2 10 0 0-4-6-4-4 0zM1503 1337l6 4 6 0 0-8-8 0zM1513 1285l-2 2 0 8 2 4 2 0 0-14zM1513 1235l0 2 2 0 0-2zM1511 1215l0 2 4 2 0-4zM1069 1169l-2 2 4 6 4 0 0-4zM1075 1139l-4 4 0 10 8 10 6 4 4 0 2-4 0-8-6-12-4-4zM1069 1105l-14 0 0 24 6-2 4-4 4-10zM1515 1079l-4 0-4 4 0 8 8 0zM1055 1073l0 22 2-2 20-2 4-4 0-8-6-4-18 0zM1071 1059l-6-4-2 2-8 0 0 4 4 2 10 0zM1129 1029l-4 4 0 6-2 2 0 6 2 2 4 0 2-2 0-16zM1055 1013l0 34 18-2 6 6 4 10 6 4 10-2 8-6 0-8-10-12-16-4-4-4-10-4-4-4 2-2-4-4-4 0zM1469 987l-14 0 2 10 4 4 6-6zM1515 987l-32 0 0 6 4 8 0 10-8 8-12-4-8-8-8 4-8 0-4-4 0-4-2-2 0-14-50 0 0 4-2 2 0 14-2 2-2 12-2 2 0 4-14 38 0 6-4 8-2 20-2 2 0 28-2 2-2 10-16 14-6 2-10 8-6 2-4 4-6 2-4 4-6 2-4 4-18 10-4 0-8 4-12 0-10 6-16 0-6-4-14 0-2-2-10 0-2-2-10 0-2-2-14 0-2-2-14 0-2-2-40 0-2-2-14 0-6 4-6 0-18-12-4 0 0 10 8 4 0 6-8 4 0 96 4 0 8 4 6 0 12 6 6 6-2 10-10 6-2 4 2 2 0 18 2 4 6 6 6 0 2 2 14 0 8-4 20 0 12 10 6 2 8-6 0-12 2-2 2-10 4-6 8-6 10 2 10 12 8 0 6-4 8 2 6 10 0 8-2 4-10 8-12 0-2-2-2 2-4 0-6 8 2 22-10 10 0 8 14 0 2-10 10-18 10-10 4 0 4-4 8 0 6 8 0 10-4 4-6 0-6-4-8 2-6 14 0 8 144 0 2-2 0-20 2-2 2-28 2-2 0-6 6-12 0-4 6-8 18-10 28 0 2 2 16 4 18 18 4 10 2 14 4 6 4 2 8 0 2-2 12-2 6-6 0-8-6-8-2-14-4-6 0-8 8-10 2-6-4-4-4 0-2 2-4-4 0-4 4-4 8 0 2 2 6-4 0-24 6-6 0-4-6-6 0-6 2-2 4 0 2 2 4 0 2-2 0-6-4 0-8-6 0-6 4-4 8 0 0-4-6 0-6-6 0-4 4-6 8-2 0-6-8 0-4 2-4 6-2 10-6 6-4 0-8-6 0-18-20 0-28-12-22-24-4-8 0-10 2-4 38-36 16 0 10-10 8 0 4 4 0 12-2 4 4 10 4 4 8 2 6 4 12 2 0-38-8 0-6 4-16-2-2-2 2-4-14-16 2-2 4 0 10 10 8 0 14-16 6-2 0-18-34 2-4-2-6-8-14-2-10-8 0-6 6-6 6-2 10 4 6 8 0 10 2 2 4 0 4-4 2-6 6-4 8 0 10 6 4 0zM1105 1333l10-8 16 0 12 8 2 10-2 2 0 4-8 6-24 2-6-10zM1481 1075l0-8 6-4 12 0 4 4-2 8-10 8zM1449 1055l2-2 10 0 8 6 2 6-4 4-10 0-8-8zM1135 987l2 12 4 6 2 12 2 2 0 22 4 6 12 8 10 2 12 6 24 0 20-10 8-10 2-10 2-2 0-38-2-2 0-4zM1073 987l4 8 6-4 0-4zM1065 987l4 20 4 4 6 2 10 12 10 6 12 2 16-24-2-8-10-6-6-8-20 0 0 8-6 8-6 0-8-8 0-8zM1061 987l-6 0 0 18 6-4z"/>
<path fill="#b7996b" d="M1055 1411l0 12 10 0 0-8zM1113 1409l0-6-8-6-26 6 4 4 18 8 4 0zM1417 1421l0 2 76 0-2-8-8-8-8-2-14-12-4-2-8 0-2-2-2 2-6 0-8 6zM1055 1367l0 32 4 0 12-10 4 0 2 2 34 0 6 4 6 8 0 12-4 4 0 4 6 0 2-2 0-4 6-6 12 0 4 2 8 10 12 0 0-22 6-6 0-12-2-2-16 6 6 8 0 4-4 4-6 2-22-8-8-8 0-4 2-2 12 0 8 4 6 0 0-2-6-2-6-6-8-4-6 0-10 4-14 0-10-4-18 0-2-2-14-2zM1505 1349l-4 2 0 10 4 6 0 12-8 10-2 6 6 10 14 4 0-44-6-4 0-2 6-4 0-6zM1179 1347l-2 10 2 4 4 0 4-6 0-6-2-2zM1121 1337l0 4 4 2 4-2-2-4zM1503 1337l6 4 6 0 0-8-8 0zM1513 1285l-2 2 0 8 2 4 2 0 0-14zM1511 1215l0 2 4 2 0-4zM1071 1173l2 2 0-2zM1075 1139l-4 4 0 10 8 10 6 4 4 0 2-4 0-8-6-12-4-4zM1069 1105l-14 0 0 24 6-2 4-4 4-10zM1515 1079l-4 0-4 4 0 8 8 0zM1055 1075l0 18 18-2 6-4 0-8-2-2zM1071 1059l-6-4-2 2-8 0 0 4 4 2 10 0zM1129 1033l-4 8 0 4 2 2 2 0 2-4zM1055 1013l0 34 20-2 12 18 10 0 8-6 0-10-6-8-20-6-4-4-6-2-6-6 2-2-4-4-4 0zM1469 987l-14 0 2 10 4 4 6-6zM1515 987l-16 0-4 4-2-4-10 0 0 6 4 8 0 10-8 8-12-4-8-8-8 4-8 0-4-4 0-4-2-2 0-14-50 0 0 4-2 2 0 14-2 2-2 12-2 2 0 4-14 38 0 6-4 8-2 20-2 2 0 28-2 2-2 10-16 14-6 2-10 8-6 2-4 4-6 2-4 4-6 2-4 4-18 10-4 0-8 4-12 0-10 6-16 0-6-4-14 0-2-2-10 0-2-2-10 0-2-2-14 0-2-2-14 0-2-2-40 0-2-2-14 0-6 4-6 0-18-12-4 0 0 10 4 0 6 6-6 8-4 0 0 88 10 6 4 0 14 8 8 10-2 10-10 6-2 4 2 2 0 18 2 4 6 6 6 0 2 2 14 0 8-4 20 0 12 10 6 2 8-6 0-12 2-2 2-10 4-6 8-6 10 2 10 12 8 0 6-4 8 2 6 10 0 8-2 4-10 8-12 0-2-2-2 2-4 0-6 8 2 22-10 10 0 8 14 0 2-10 10-18 10-10 6-2 4-4 6 0 6 8 0 4 2 2 0 16-2 2-10-8-12-2-4 6-4 16 144 0 2-2 0-20 2-2 2-28 2-2 0-6 6-12 0-4 6-8 18-10 28 0 2 2 16 4 18 18 4 10 2 14 4 6 4 2 8 0 2-2 12-2 6-6 0-8-6-8-2-14-4-6 0-8 8-10 2-6-4-4-8 2-2-2 0-8 2-2 14 0 4-4-2-22 4-6 0-4-8-16 4-2 6 4 10 0 0-6-4 0-8-6 0-6 4-4 8 0 0-4-6 0-6-4 0-8 6-6 6 0 0-6-8 0-4 2-4 6-2 10-6 6-4 0-8-6 0-18-20 0-28-12-22-24-4-8 0-10 2-4 38-36 16 0 10-10 8 0 4 4 0 20 4 6 14 6 14 0 0-30-8 0-8 4-6 0-10-6 2-4-14-16 2-2 4 0 12 10 6 0 16-18 4 0 0-16-24 0-2 2-6 0-12-10-10-4-6 0-8-6 0-10 6-6 10 0 4 2 8 8 0 12 2 2 4 0 4-4 2-6 6-4 8 0 10 6 4 0zM1105 1333l10-8 16 0 12 8 2 10-2 2 0 4-8 6-24 2-6-10zM1493 1245l2-2 2 4-2 2zM1491 1243l2-2 2 2-2 2zM1481 1075l0-8 6-4 12 0 4 4-2 8-10 8zM1449 1055l2-2 10 0 8 6 2 6-4 4-10 0-8-8zM1135 987l2 12 4 6 2 12 2 2 0 22 4 6 12 8 10 2 12 6 24 0 20-10 8-10 2-10 2-2 0-38-2-2 0-4zM1073 987l4 8 6-4 0-4zM1065 987l4 20 4 4 6 2 10 12 10 6 12 2 16-24-2-8-10-6-6-8-20 0 0 10-4 6-10 0-6-8 0-8zM1055 987l0 16 4 0 0-16z"/>
<path fill="#b08d6a" d="M1123 1419l-2 4 2 0zM1055 1411l0 12 10 0 0-8zM1217 1403l-4 6-2 14 24 0 0-8-4-8-6-4zM1113 1409l0-6-8-6-26 6 4 4 18 8 4 0zM1423 1419l0 4 70 0-2-8-8-8-8-2-18-14-14 0-4 2-6 6zM1055 1369l0 28 2 0 8-8 16 0 2 2 18 0 4-2 10 4 6 6 6 14 2-2 10-2 2 2 6 0 10 8 0 4 10 0 0-8 2-2 0-8-2-4 6-8 0-8-14 2 4 8 0 4-4 4-6 2-22-8-8-8 0-4 2-2 12 0 8 4 6 0-18-12-14 0-2 2-10 2-10-4-26 0zM1507 1349l-6 4 0 8 6 10 0 6-8 10-2 10 6 8 4 2 8 0 0-42-6-4 0-2 6-4 0-6zM1179 1349l0 6 4 2 2-2 0-6zM1503 1337l6 4 6 0 0-8-8 0zM1513 1285l-2 2 0 8 2 4 2 0 0-14zM1511 1215l0 2 4 2 0-4zM1075 1139l-4 4 0 10 8 10 6 4 4 0 2-4 0-8-6-12-4-4zM1069 1105l-14 0 0 24 6-2 4-4 4-10zM1515 1079l-4 0-4 4 0 8 8 0zM1055 1077l0 14 12 0 2-2 6 0 4-4-2-6-4-2zM1071 1059l-6-4-2 2-8 0 0 4 4 2 10 0zM1055 1013l0 34 18-4 8 8 0 4 4 6 8 2 10-4 2-10-8-10-18-4-16-14 2-2-4-4-4 0zM1469 987l-14 0 2 10 4 4 6-6zM1515 987l-14 0-4 8-6-4 0-4-8 0 0 6 4 8 0 10-8 8-12-4-8-8-8 4-8 0-4-4 0-4-2-2 0-14-50 0 0 4-2 2 0 14-2 2-2 12-2 2 0 4-14 38 0 6-4 8-2 20-2 2 0 28-2 2-2 10-16 14-6 2-10 8-6 2-4 4-6 2-4 4-6 2-4 4-18 10-4 0-8 4-12 0-10 6-16 0-6-4-14 0-2-2-10 0-2-2-10 0-2-2-14 0-2-2-14 0-2-2-40 0-2-2-14 0-6 4-6 0-18-12-4 0 0 8 6 2 4 4 0 6-4 4-4 0-2 2 0 78 20 12 16 18 0 8-2 4-10 6-2 4 2 2 0 18 2 4 6 6 6 0 2 2 14 0 8-4 20 0 12 10 6 2 8-6 0-12 2-2 2-10 4-6 8-6 10 2 10 12 8 0 6-4 8 2 6 10 0 8-2 4-10 8-12 0-2-2-2 2-4 0-6 8 2 22-10 10 0 8 14 0 2-10 10-18 10-10 12-8 4 0 8 10 8 36 104 0 2-2 0-20 2-2 2-28 2-2 0-6 6-12 0-4 6-8 18-10 28 0 2 2 16 4 18 18 4 10 2 14 4 6 4 2 8 0 2-2 12-2 6-6 0-8-6-8-2-14-4-6 0-8 8-10 2-6-4-4-8 2-4-4 0-6 4-4 8 0 2 2 6-2 0-16-2-2 2-18-10-18 0-6 4-2 10 12 12 2 0-6-4 0-8-6 0-6 4-4 8 0 0-4-8 0-4-4 0-8 6-6 6 0 0-6-8 0-4 2-4 6-2 10-6 6-4 0-8-6 0-18-20 0-28-12-22-24-4-8 0-10 2-4 38-36 16 0 10-10 8 0 4 4 0 18 2 4 6 4 6 0 2 2 16-2 0-22-6 0-8 4-6 0-10-4-2-2 2-6-14-16 0-2 4-2 16 12 2-2 4 0 10-14 8-2 0-16-34 2-12-10-20-6-4-6 2-8 6-6 6-2 10 4 8 8 0 6-2 2 0 4 2 2 4 0 4-4 2-6 6-4 8 0 10 6 4 0zM1105 1333l10-8 16 0 12 8 2 10-2 2 0 4-8 6-24 2-6-10zM1481 1075l0-8 6-4 12 0 4 4-2 8-10 8zM1449 1055l2-2 10 0 8 6 2 6-4 4-10 0-8-8zM1135 987l2 12 4 6 2 12 2 2 0 22 4 6 12 8 10 2 12 6 24 0 20-10 8-10 2-10 2-2 0-38-2-2 0-4zM1073 987l4 8 6-4 0-4zM1065 987l4 20 4 4 6 2 10 12 10 6 12 2 16-24-2-8-10-6-6-8-18 0-2 12-6 6-8-2-6-6 0-6-2-4zM1059 987l-4 0 0 16 4-2z"/>
<path fill="#a88268" d="M1055 1411l0 12 10 0 0-8zM1217 1405l-4 8 0 10 20 0 0-6-4-10-8-4zM1113 1409l0-6-8-6-26 6 4 4 18 8 4 0zM1429 1419l0 4 64 0-2-8-8-8-8-2-18-14-12 0-8 8zM1055 1371l0 22 2 0 6-10 4 0 6 4 4 0 8 4 24-2 14 12 4 8 16 0 2 2 4 0 6 4 6 8 4 0 0-6 2-2 0-14-2-2 6-8-2-4-10 2 4 6 0 4-4 4-6 2-22-8-8-8 0-4 2-2 12 0 8 4 6 0-20-12-8 0-10 4-10 0-8-4-16 0-2 2-10 2zM1511 1349l-2 2-4 0-4 4 0 4 6 10 0 10-6 6-4 8 2 2 0 4 6 6 10 2 0-42-6-4 0-2 6-4 0-6zM1503 1337l6 4 6 0 0-8-8 0zM1513 1285l-2 2 0 8 2 4 2 0 0-14zM1511 1215l0 2 4 2 0-4zM1075 1139l-4 4 0 10 8 10 6 4 4 0 2-4 0-8-6-12-4-4zM1069 1105l-14 0 0 24 6-2 4-4 4-10zM1515 1079l-4 0-4 4 0 8 8 0zM1055 1077l0 14 4-2 12 0 6-4 0-4-2-2-14 0-2-2zM1071 1059l-6-4-2 2-8 0 0 4 4 2 10 0zM1055 1013l0 32 20-2 6 6 0 4 6 8 10 0 6-4 0-10-4-6-8-4-10 0-4-2-14-12 2-4-4-4-4 0zM1469 987l-14 0 2 10 4 4 6-6zM1515 987l-14 0 0 6-4 4-6-4 0-4-2-2-6 0 0 6 4 8 0 10-8 8-12-4-8-8-8 4-8 0-4-4 0-4-2-2 0-14-50 0 0 4-2 2 0 14-2 2-2 12-2 2 0 4-14 38 0 6-4 8-2 20-2 2 0 28-2 2-2 10-16 14-6 2-10 8-6 2-4 4-6 2-4 4-6 2-4 4-18 10-4 0-8 4-12 0-10 6-16 0-6-4-14 0-2-2-10 0-2-2-10 0-2-2-14 0-2-2-14 0-2-2-40 0-2-2-14 0-6 4-6 0-18-12-4 0 0 8 8 2 4 6 0 4-4 4-8 2 0 70 18 10 8 8 10 20 0 8-2 4-10 6-2 4 2 2 0 18 2 4 6 6 6 0 2 2 14 0 8-4 20 0 12 10 6 2 8-6 0-12 2-2 2-10 4-6 8-6 10 2 10 12 8 0 6-4 8 2 6 10 0 8-2 4-10 8-12 0-2-2-2 2-4 0-6 8 2 22-10 10 0 8 14 0 2-10 10-18 20-18 8 0 4 4 10 22 0 4 4 6 0 4 4 6 96 0 2-2 0-20 2-2 2-28 2-2 0-6 6-12 0-4 6-8 18-10 28 0 2 2 16 4 18 18 4 10 2 14 4 6 4 2 8 0 2-2 12-2 6-6 0-8-6-8-2-14-4-6 0-8 8-10 2-6-4-4-8 2-4-4 0-8 4-4 14 2 2-2 0-10-4-8 2-16-6-14-4-4 0-8 2-2 4 0 10 12 4 2 8 0 0-4-4 0-8-6 0-6 4-4 8 0 0-4-10 0-4-6 2-8 4-4 8-2 0-4-8 0-4 2-4 6-2 10-6 6-4 0-8-6 0-18-20 0-28-12-22-24-4-8 0-10 2-4 38-36 16 0 10-10 8 0 4 4 0 14 4 6 4 2 12 0 4-2 2-8-20-4-6-6 2-6-8-8-6-10 2-2 4 0 10 10 8 0 14-16 6-2 0-12-36 0-8-8-8-4-8 0-4-2-6-6 0-10 8-8 14 2 10 8 0 10-2 2 2 4 4 0 4-4 2-6 6-4 8 0 10 6 4 0zM1105 1333l10-8 16 0 12 8 2 10-2 2 0 4-8 6-24 2-6-10zM1481 1075l0-8 6-4 12 0 4 4-2 8-10 8zM1449 1055l2-2 10 0 8 6 2 6-4 4-10 0-8-8zM1135 987l2 12 4 6 2 12 2 2 0 22 4 6 12 8 10 2 12 6 24 0 20-10 8-10 2-10 2-2 0-38-2-2 0-4zM1073 987l4 8 6-4 0-4zM1065 987l4 20 4 4 6 2 10 12 10 6 12 2 16-24-2-8-10-6-6-8-18 0 0 10-6 8-8 0-8-8-2-10zM1105 1005l4 0 4 4-6 8-6 0-2-2 0-4zM1059 987l-4 0 0 14 4-2z"/>
<path fill="#9f7866" d="M1055 1411l0 12 10 0 0-8zM1219 1405l-4 6-2 12 18 0 0-8-4-8zM1113 1409l0-6-8-6-26 6 4 4 18 8 4 0zM1441 1399l-2 12-2 2 0 10 34 0 2-4 4 0 4 4 12 0-2-8-8-8-8-2-18-14-8 0zM1073 1383l8 6 30 0 12 10 4 8 18 2 12 6 4 4 6-6 0-10-4-6 2-6-2 0 0 8-4 4-6 2-22-8-8-8 0-4 2-2 12 0 8 4 6 0-12-6-4-4-6 0-2-2-10 4-16 0-2-2-14-2-10 4zM1505 1351l-2 2 0 10 4 6 0 10-8 12 0 6 8 8 6 0 2 2 0-42-6-4 0-2 6-4 0-4zM1503 1337l6 4 6 0 0-8-8 0zM1513 1285l-2 2 0 8 2 4 2 0 0-14zM1511 1215l0 2 4 2 0-4zM1075 1139l-4 4 0 10 8 10 6 4 4 0 2-4 0-8-6-12-4-4zM1069 1105l-14 0 0 24 6-2 4-4 4-10zM1515 1079l-4 0-4 4 0 8 8 0zM1055 1079l0 10 18-2 2-2 0-4-4-2zM1071 1059l-6-4-2 2-8 0 0 4 4 2 10 0zM1055 1013l0 32 6 0 8-4 8 0 4 6 2 8 6 6 6 0 8-6 0-6-8-10-16 0-10-10-10-4 6-6-4-4-4 0zM1469 987l-14 0 2 10 4 4 6-6zM1515 987l-12 0-2 10-4 4-6-6-2-8-6 0 0 6 4 8 0 10-8 8-12-4-8-8-8 4-8 0-4-4 0-4-2-2 0-14-50 0 0 4-2 2 0 14-2 2-2 12-2 2 0 4-14 38 0 6-4 8-2 20-2 2 0 28-2 2-2 10-16 14-6 2-10 8-6 2-4 4-6 2-4 4-6 2-4 4-18 10-4 0-8 4-12 0-10 6-16 0-6-4-14 0-2-2-10 0-2-2-10 0-2-2-14 0-2-2-14 0-2-2-40 0-2-2-14 0-6 4-6 0-18-12-4 0 0 6 2 2 4 0 6 6 0 8-6 4-6 0 0 60 18 10 10 10 8 20 0 16-2 4-10 6-2 4 2 2 0 18 2 4 6 6 6 0 2 2 14 0 8-4 20 0 12 10 6 2 8-6 0-12 2-2 2-10 4-6 8-6 10 2 10 12 8 0 6-4 8 2 6 10 0 8-2 4-10 8-12 0-2-2-2 2-4 0-6 8 2 22-10 10 0 8 14 0 2-10 10-18 10-10 2 0 6-8 4-2 6 0 6 6 16 32 8 10 88 0 2-2 0-20 2-2 2-28 2-2 0-6 6-12 0-4 6-8 18-10 28 0 2 2 16 4 18 18 4 10 2 14 4 6 4 2 8 0 2-2 12-2 6-6 0-8-6-8-2-14-4-6 0-8 8-10 2-6-4-4-10 2-4-6 0-8 4-4 4 0 8 4 4-2 0-12-4-8 2-14-10-20 0-4 4-6 4 0 8 12 8 4 6 0 0-4-4 0-8-6 0-6 4-4 8 0 0-2-6 0-8-6 2-10 4-4 8-2 0-4-8 0-4 2-4 6-2 10-6 6-4 0-8-6 0-18-20 0-28-12-22-24-4-8 0-10 2-4 38-36 16 0 10-10 8 0 4 4 0 10 4 4 4 0-8-8 2-10-8-8-6-10 2-2 4 0 8 8 8 2 4-2 14-16 4 0 0-12-22 0-2 2-8 0-18-12-16-4-4-4-2-8 2-2 0-4 8-6 10 0 8 4 8 8 0 4-4 8 2 2 4 0 4-4 2-6 6-4 8 0 10 6 4 0zM1105 1333l10-8 16 0 12 8 2 10-2 2 0 4-8 6-24 2-6-10zM1437 1071l4-2 8 8 2 0 4 6-2 2-10-2-4-4zM1481 1075l0-8 6-4 12 0 4 4-2 8-10 8zM1449 1055l2-2 10 0 8 6 2 6-4 4-10 0-8-8zM1135 987l2 12 4 6 2 12 2 2 0 22 4 6 12 8 10 2 12 6 24 0 20-10 8-10 2-10 2-2 0-38-2-2 0-4zM1073 987l4 8 6-4 0-4zM1065 987l4 20 4 4 6 2 10 12 10 6 12 2 16-24-2-8-10-6-6-8-18 0 0 12-4 6-12 0-8-12 0-6zM1109 1003l6 8-12 10-6-4 0-8 4-4zM1059 987l-4 0 0 12 2 0z"/>
<path fill="#966e64" d="M1055 1411l0 12 10 0 0-8zM1219 1407l-4 8 0 8 14 0 0-10-6-6zM1113 1409l0-6-8-6-26 6 4 4 18 8 4 0zM1447 1397l0 26 20 0 4-6 6 0 6 6 10 0-2-8-8-8-8-2-18-14-6 0zM1077 1381l0 4 8 4 16 0 2-2 4 0 8 4 10 10 0 2 6 4 10 0 16 8 6 0 4-6 0-4-4-8 0 2-8 6-10-2-14-6-8-8 0-4 2-2 12 0 8 4 6 0-6-4-4 0-8-6-12 0-8 4-8 0-8-4-16 0zM1507 1351l-4 4 0 6 6 10 0 6-8 12 0 10 8 6 6 0 0-40-6-4 0-2 6-4 0-4zM1503 1337l6 4 6 0 0-8-8 0zM1513 1285l-2 2 0 8 2 4 2 0 0-14zM1511 1215l0 2 4 2 0-4zM1075 1139l-4 4 0 10 8 10 6 4 4 0 2-4 0-8-6-12-4-4zM1069 1105l-14 0 0 24 6-2 4-4 4-10zM1055 1087l2-2 14 0 2-2-2-2-10 0-2 2-4-2zM1515 1079l-4 0-4 4 0 8 8 0zM1071 1059l-6-4-2 2-8 0 0 4 4 2 10 0zM1081 1041l0 8 6 10 10 0 4-2 2-6-2-2 0-4-8-6-10 0zM1055 1027l0 18 10-2 8-4 0-4-4-4zM1055 1013l0 8 8 0 2-2-4-4-4 0zM1469 987l-14 0 2 10 4 4 6-6zM1515 987l-12 0 0 12-4 6-2 0-8-10 0-8-6 0 0 6 4 8 0 10-8 8-12-4-8-8-8 4-8 0-4-4 0-4-2-2 0-14-50 0 0 4-2 2 0 14-2 2-2 12-2 2 0 4-14 38 0 6-4 8-2 20-2 2 0 28-2 2-2 10-16 14-6 2-10 8-6 2-4 4-6 2-4 4-6 2-4 4-18 10-4 0-8 4-12 0-10 6-16 0-6-4-14 0-2-2-10 0-2-2-10 0-2-2-14 0-2-2-14 0-2-2-40 0-2-2-14 0-6 4-6 0-18-12-4 0 0 6 8 2 6 8 0 4-6 6-8 2 0 50 20 10 14 14 2 10 2 2-2 28-2 4-10 6-2 4 2 2 0 18 2 4 6 6 6 0 2 2 14 0 8-4 20 0 12 10 6 2 8-6 0-12 2-2 2-10 4-6 8-6 10 2 10 12 8 0 6-4 8 2 6 10 0 8-2 4-10 8-12 0-2-2-2 2-4 0-6 8 2 22-10 10 0 8 14 0 2-10 10-18 22-22 6 0 8 8 12 16 6 12 12 14 80 0 2-2 0-20 2-2 2-28 2-2 0-6 6-12 0-4 6-8 18-10 28 0 2 2 16 4 18 18 4 10 2 14 4 6 4 2 8 0 2-2 12-2 6-6 0-8-6-8-2-14-4-6 0-8 8-10 2-6-4-4-10 2-6-8 0-8 4-4 6 0 6 4 4 0 2-2 0-6-6-12 0-20-6-10 0-12 6-4 6 4 2 6 6 6 10 2 0-4-4 0-8-6 0-6 4-4 8 0 0-2-8 0-6-6 0-8 8-8 6 0 0-4-8 0-4 2-4 6-2 10-6 6-4 0-8-6 0-18-20 0-28-12-22-24-4-8 0-10 2-4 38-36 16 0 10-10 8 0 4 4 0 6 2-10-16-18 2-2 6 0 14 10 4-2 12-14 8-2 0-10-34 0-18-12-14-2-6-6 0-12 12-10 6 0 12 6 6 6-2 16 4 0 4-4 2-6 6-4 8 0 10 6 4 0zM1105 1333l10-8 16 0 12 8 2 10-2 2 0 4-8 6-24 2-6-10zM1435 1067l4-2 10 10 6 2 4 6-6 4-10-2-8-8 0-4-2-2zM1481 1075l0-8 6-4 12 0 4 4-2 8-10 8zM1449 1055l2-2 10 0 8 6 2 6-4 4-10 0-8-8zM1135 987l2 12 4 6 2 12 2 2 0 22 4 6 12 8 10 2 12 6 24 0 20-10 8-10 2-10 2-2 0-38-2-2 0-4zM1073 987l4 8 6-4 0-4zM1065 987l4 20 4 4 6 2 10 12 10 6 12 2 16-24-2-8-10-6-6-8-18 0 0 16-6 4-10-2-6-6-2-4 0-8zM1095 1017l0-8 6-6 12 0 4 6-2 4-12 10zM1055 987l0 10 2 0 0-10z"/>
<path fill="#8a6264" d="M1055 1411l0 12 10 0 0-8zM1221 1409l-4 4 0 10 10 0 0-10zM1113 1409l0-6-8-6-26 6 4 4 18 8 4 0zM1451 1391l2 2 2 18 6 12 2-4 6-4 8 0 8 8 8 0-2-8-8-8-8-2-14-12zM1079 1381l0 2 8 6 22-2 10 6 10 12 4 0 2 2 10 0 12 6 6 0 2-2 0-10-2-4 0 2-8 6-10-2-14-6-8-8 0-4 2-2 12 0 8 4 6 0-20-10-8 0-8 4-12 0-10-4-8 0zM1509 1351l-6 4 0 4 6 10 0 10-8 12 0 6 6 6 8 2 0-40-6-4 0-2 6-4 0-4zM1503 1337l6 4 6 0 0-8-8 0zM1513 1285l-2 2 0 8 2 4 2 0 0-14zM1511 1215l0 2 4 2 0-4zM1075 1139l-4 4 0 10 8 10 6 4 4 0 2-4 0-8-6-12-4-4zM1069 1105l-14 0 0 24 6-2 4-4 4-10zM1515 1079l-4 0-4 4 0 8 8 0zM1071 1059l-6-4-2 2-8 0 0 4 4 2 10 0zM1083 1041l0 10 6 8 6 0 6-4 0-8-6-6zM1055 1029l0 14 12-2 4-4-4-6zM1055 1013l0 6 4 0 2 2 4-2-4-4-4 0zM1469 987l-14 0 2 10 4 4 6-6zM1515 987l-10 0 0 8-2 2 0 14 2 4-4 6-6 0-2-2 2-14-6-8-2-10-4 0 0 6 4 8 0 10-8 8-12-4-8-8-8 4-8 0-4-4 0-4-2-2 0-14-50 0 0 4-2 2 0 14-2 2-2 12-2 2 0 4-14 38 0 6-4 8-2 20-2 2 0 28-2 2-2 10-16 14-6 2-10 8-6 2-4 4-6 2-4 4-6 2-4 4-18 10-4 0-8 4-12 0-10 6-16 0-6-4-14 0-2-2-10 0-2-2-10 0-2-2-14 0-2-2-14 0-2-2-40 0-2-2-14 0-6 4-6 0-18-12-4 0 0 6 6 0 10 12-8 10-8 0 0 44 10 2 18 10 8 8 6 10 0 20-6 12 0 8-2 4-10 6-2 4 2 2 0 18 2 4 6 6 6 0 2 2 14 0 8-4 20 0 12 10 6 2 8-6 0-12 2-2 2-10 4-6 8-6 10 2 10 12 8 0 6-4 8 2 6 10 0 8-2 4-10 8-12 0-2-2-2 2-4 0-6 8 2 22-10 10 0 8 14 0 2-10 10-18 12-12 0-2 12-10 6 0 8 8 0 2 14 12 4 8 18 22 72 0 2-2 0-20 2-2 2-28 2-2 0-6 6-12 0-4 6-8 18-10 28 0 2 2 16 4 18 18 4 10 2 14 4 6 4 2 8 0 2-2 12-2 6-6 0-8-6-8-2-14-4-6 0-8 8-10 2-6-4-4-12 2-4-4 0-4-2-2 0-12 4-4 4 0 8 8 6 0 0-8-8-12 2-20-6-10 0-8 6-6 6 0 8 14 4 2 8 0 0-2-4 0-8-6 0-6 4-4 8 0 0-2-10 0-4-4 0-10 2-4 6-4 6 0 0-4-8 0-4 2-4 6-2 10-6 6-4 0-8-6 0-18-20 0-28-12-22-24-4-8 0-10 2-4 38-36 16 0 10-10 8 0 4 4 0 6 2-10-8-8 0-2-10-8 2-2 6-2 12 10 8 0 14-16 6-2 0-8-36 0-12-10-20-4-6-8 2-12 10-8 10 0 12 6 6 6 0 6-4 6 0 4 4 0 4-4 2-6 6-4 8 0 10 6 4 0zM1093 1349l4 4 0 4-2 2-4 0-2-2 0-4zM1199 1331l4-2 2 4-4 2zM1105 1333l10-8 16 0 12 8 2 10-2 2 0 4-8 6-24 2-6-10zM1481 1075l0-8 6-4 12 0 4 4-2 8-10 8zM1431 1065l4-4 4 0 10 12 16 8-8 6-4 0-2 2-8-2-8-6-4-8zM1449 1055l2-2 10 0 8 6 2 6-4 4-10 0-8-8zM1135 987l2 12 4 6 2 12 2 2 0 22 4 6 12 8 10 2 12 6 24 0 20-10 8-10 2-10 2-2 0-38-2-2 0-4zM1073 987l4 8 6-4 0-4zM1065 987l4 20 4 4 6 2 10 12 10 6 12 2 16-24-2-8-10-6-6-8-16 0 0 18-2 2-14 0-8-8-2-4 0-8zM1093 1005l10-4 8 0 6 6 0 6-10 10-8 0-6-6 0-4-2-2 0-4zM1057 987l-2 0 0 8 2-2z"/>
<path fill="#7e5664" d="M1221 1411l-2 2 0 10 8 0-2-10zM1055 1411l0 12 10 0 0-8zM1113 1409l0-6-8-6-26 6 4 4 18 8 4 0zM1099 1405l2-2 4 2-2 2zM1453 1391l6 10 2 10 4 2 12 0 8 8 0 2 8 0-2-8-8-8-8-2-14-12zM1081 1383l4 4 18 0 4-2 8 4 16 16 16 2 6 4 10 0 2-2 0-8-2-4 0 2-8 6-10-2-14-6-8-8 0-4 2-2 12 0 8 4 6 0-2-2-10-2-6-4-14 0-8 4-6 0-8-4-12 0zM1511 1351l-6 4 0 8 6 10 0 4-8 12 0 8 6 6 6 0 0-38-6-4 0-2 6-4 0-4zM1503 1337l6 4 6 0 0-8-8 0zM1513 1285l-2 2 0 8 2 4 2 0 0-14zM1485 1283l2 8 2 2 6 0 0-4-6-6zM1511 1215l0 2 4 2 0-4zM1075 1139l-4 4 0 10 8 10 6 4 4 0 2-4 0-8-6-12-4-4zM1069 1105l-14 0 0 24 6-2 4-4 4-10zM1515 1079l-4 0-4 4 0 8 8 0zM1071 1059l-6-4-2 2-8 0 0 4 4 2 10 0zM1087 1041l-4 2 0 6 2 2 0 4 8 4 8-6 0-4-4-6zM1055 1031l0 12 4 0 8-4 0-6-4-2zM1055 1013l0 6 10 0-4-4-4 0zM1469 987l-14 0 2 10 4 4 6-6zM1515 987l-10 0 2 30-6 6-8 0-2-2 2-16-4-6-2-12-4 0 0 6 4 8 0 10-8 8-12-4-8-8-8 4-8 0-4-4 0-4-2-2 0-14-50 0 0 4-2 2 0 14-2 2-2 12-2 2 0 4-14 38 0 6-4 8-2 20-2 2 0 28-2 2-2 10-16 14-6 2-10 8-6 2-4 4-6 2-4 4-6 2-4 4-18 10-4 0-8 4-12 0-10 6-16 0-6-4-14 0-2-2-10 0-2-2-10 0-2-2-14 0-2-2-14 0-2-2-40 0-2-2-14 0-6 4-6 0-18-12-4 0 0 4 10 4 6 8 0 6-6 6-10 2 0 36 14 2 16 8 14 14 6 12 0 14-2 4-12 14 0 8-2 4-10 6-2 4 2 2 0 18 2 4 6 6 6 0 2 2 14 0 8-4 20 0 12 10 6 2 8-6 0-12 2-2 2-10 4-6 8-6 10 2 10 12 8 0 6-4 8 2 6 10 0 8-2 4-10 8-12 0-2-2-2 2-4 0-6 8 2 22-10 10 0 8 14 0 2-10 10-18 24-26 8 0 6 6 14 4 12 12 4 8 10 12 6 12 62 0 2-2 0-20 2-2 2-28 2-2 0-6 6-12 0-4 6-8 18-10 28 0 2 2 16 4 18 18 4 10 2 14 4 6 4 2 8 0 2-2 12-2 6-6 0-8-6-8-2-14-4-6 0-8 8-10 2-6-4-4-4 0-6 4-6-4-10-26 0-14 4-10 4-4 4 0 8 6 2-6-6-12 0-8 10-8 8 6 2 6 4 4 10 2 0-2-4 0-8-6 0-6 4-4 8 0 0-2-12 0-4-6 2-10 6-6 8-2 0-2-8 0-4 2-4 6-2 10-6 6-4 0-8-6 0-18-20 0-28-12-22-24-4-8 0-10 2-4 38-36 16 0 10-10 8 0 4 4 0 6 2-10-14-16-4 0-12 8-12 0-12-10-4-14 2-2 0-4 4-4 2 0 16 18 8 4 18-2 12 10 8-2 4-6 14-12 0-4-10 0-2-2-22 2-12-10-10-4-10 0-8-6 0-14 2-4 12-8 10 2 12 6 4 4 0 10-4 4 0 4 4 0 4-4 2-6 6-4 8 0 10 6 4 0zM1091 1347l4 0 4 4 0 6-4 4-4 0-4-4 0-6zM1153 1345l0-4 2-2 4 0 2 2-4 6zM1195 1331l6-6 8 4 0 4-4 4-6 0zM1105 1333l10-8 16 0 12 8 2 10-2 2 0 4-8 6-24 2-6-10zM1481 1075l0-8 6-4 12 0 4 4-2 8-10 8zM1449 1055l2-2 10 0 8 6 2 6-4 4-10 0-8-8zM1135 987l2 12 4 6 2 12 2 2 0 22 4 6 12 8 10 2 12 6 24 0 20-10 8-10 2-10 2-2 0-38-2-2 0-4zM1073 987l4 8 6-4 0-4zM1065 987l4 20 4 4 6 2 10 12 10 6 12 2 16-24-2-8-10-6-6-8-16 0 0 12 2 2 14-2 10 8-2 8-10 10-8 0-6-6-4-10-14-2-6-6-2-4 0-10z"/>
<path fill="#734b62" d="M1221 1417l0 6 2 0 0-6zM1055 1411l0 12 10 0 0-8zM1113 1409l0-6-8-6-26 6 4 4 18 8 4 0zM1097 1407l4-6 4 0 4 4-4 4-6 0zM1453 1391l6 6 6 12 14 4 8 10 6 0-2-8-8-8-8-2-14-12zM1111 1385l16 16 8 4 8 0 14 6 8-4-2-10-4 6-6 2-22-8-8-8 0-4 2-2 12 0 8 4 6 0-2-2-4 0-14-6-10 0zM1083 1383l4 4 12 0 4-2 0-2-8-4-8 0zM1507 1353l-2 2 0 6 8 14-8 12-2 8 2 4 10 4 0-38-6-4 6-8zM1503 1337l6 4 6 0 0-8-8 0zM1513 1285l-2 2 0 8 2 4 2 0 0-14zM1511 1215l0 2 4 2 0-4zM1075 1139l-4 4 0 10 8 10 6 4 4 0 2-4 0-8-6-12-4-4zM1069 1105l-14 0 0 24 6-2 4-4 4-10zM1515 1079l-4 0-4 4 0 8 8 0-4-6 4-2zM1071 1059l-6-4-2 2-8 0 0 4 4 2 10 0zM1085 1043l0 10 4 4 8 0 2-2 0-8-8-6zM1055 1031l0 12 10-4 0-4-2-2zM1055 1013l0 4 10 2-4-4-4 0zM1469 987l-14 0 2 10 4 4 6-6zM1515 987l-8 0 0 18 2 2 2 10-8 8-12 0-4-4 4-6 0-12-6-16-2 0 0 6 4 8 0 10-8 8-12-4-8-8-8 4-8 0-4-4 0-4-2-2 0-14-50 0 0 4-2 2 0 14-2 2-2 12-2 2 0 4-14 38 0 6-4 8-2 20-2 2 0 28-2 2-2 10-16 14-6 2-10 8-6 2-4 4-6 2-4 4-6 2-4 4-18 10-4 0-8 4-12 0-10 6-16 0-6-4-14 0-2-2-10 0-2-2-10 0-2-2-14 0-2-2-14 0-2-2-40 0-2-2-14 0-6 4-6 0-18-12-4 0 0 4 8 2 10 12-2 6-8 6-8 0 0 30 2 2 12 0 2 2 6 0 10 4 20 20 8 12 0 14-2 4-12 12-10 6-2 10-10 6-2 4 2 2 0 18 2 4 6 6 6 0 2 2 14 0 8-4 20 0 12 10 6 2 8-6 0-12 2-2 2-10 4-6 8-6 10 2 10 12 8 0 6-4 8 2 6 10 0 8-2 4-10 8-12 0-2-2-2 2-4 0-6 8 2 22-10 10 0 8 14 0 2-10 10-18 10-10 0-4 12-12 6-4 4 0 8 4 8-4 4-6 10-8 4 0 14 16 14 56 52 0 2-2 0-20 2-2 2-28 2-2 0-6 6-12 0-4 6-8 18-10 28 0 2 2 16 4 18 18 4 10 2 14 4 6 4 2 8 0 2-2 12-2 6-6 0-8-6-8-2-14-4-6 0-8 8-10 2-6-4-4-14 4-8-12-8-8-4-8-2-10 6-16 10-12 4 0 4-4 0-8 8-8 8 0 4 4 6 12 10 2 0-2-4 0-8-6 0-6 4-4 8 0 0-2-12 0-4-4 0-8 2-4 8-8 6 0 0-2-8 0-4 2-4 6-2 10-6 6-4 0-8-6 0-18-20 0-28-12-22-24-4-8 0-10 2-4 38-36 16 0 10-10 8 0 4 4 0 6 2-10-14-16-18 10-8 0-8-4-12-14 0-4-2-2 0-14 6-8 10 8 6 12 8 8 4 2 14 0 4-2 12 10 6 2 10-10 8-12-4-2-28 0-16-12-18-2-6-6 0-12 6-10 8-4 8 0 18 8 4 4 0 6-6 12 4 0 4-4 2-6 6-4 8 0 10 6 4 0zM1091 1345l4 0 6 8 0 6-6 4-6-2-4-6 0-4zM1233 1335l8 6-4 8-4 0-4-4 0-6zM1159 1335l4 4 0 4-2 4-6 4-4-4 0-6zM1105 1333l10-8 16 0 12 8 2 10-2 2 0 4-8 6-24 2-6-10zM1201 1323l4 0 6 4 0 6-6 6-6 0-6-8 0-2zM1225 1217l10 8 2 10-6 8-14 4-6-4-2-8 2-2 0-4zM1481 1075l0-8 6-4 12 0 4 4-2 8-10 8zM1449 1055l2-2 10 0 8 6 2 6-4 4-10 0-8-8zM1135 987l2 12 4 6 2 12 2 2 0 22 4 6 12 8 10 2 12 6 24 0 20-10 8-10 2-10 2-2 0-38-2-2 0-4zM1073 987l4 8 6-4 0-4zM1065 987l4 20 4 4 6 2 10 12 10 6 12 2 16-24-2-8-10-6-6-8-16 0 0 8 4 6 2-2 14 0 6 6 0 8-2 4-8 8-8 2-10-8-4-8-12-4-6-6z"/>
<path fill="#6a425e" d="M1055 1411l0 8 2 4 8 0 0-8zM1113 1409l0-6-8-6-26 6 4 4 18 8 4 0zM1095 1403l8-4 6 4 0 4-4 4-4 0-6-4zM1453 1391l8 6 2 6 6 6 10 2 6 6 2 6 6 0-2-8-8-8-8-2-14-12zM1085 1383l6 4 8-2-2-4-10 0zM1113 1385l20 18 12 2 8 4 8 0 4-4-2-8-4 6-6 2-22-8-8-8 0-4 2-2 12 0 8 4 6 0-2-2-6 0-14-6-10 2zM1509 1353l-4 6 8 14 0 6-8 10 0 8 6 4 4 0 0-36-6-4 6-8zM1503 1337l6 4 6 0 0-8-8 0zM1513 1285l-2 2 0 8 2 4 2 0 0-14zM1511 1215l0 2 4 2 0-4zM1075 1139l-4 4 0 10 8 10 6 4 4 0 2-4 0-8-6-12-4-4zM1069 1105l-14 0 0 24 6-2 4-4 4-10zM1515 1079l-4 0-4 4 0 8 8 0 0-2-6-4 6-4zM1071 1059l-6-4-2 2-8 0 0 4 4 2 10 0zM1441 1049l4 14 10 10 4 0 2 2 4 0 2-2 10 0 10 10 8 0 14-18-6-4-26 0-8-8-8-4zM1481 1075l0-8 6-4 12 0 4 4-2 8-10 8zM1449 1055l2-2 10 0 8 6 2 6-4 4-10 0-8-8zM1087 1043l-2 2 2 10 8 2 4-4-2-8zM1055 1033l0 8 8-2 0-4zM1055 1013l0 4 10 2-4-4-4 0zM1515 987l-8 0 0 12 2 2 0 4 6 8 0 4-8 8-4 0-2 2-14 0-4 6 0 4-6 8 4 0 4-4 2-6 6-4 8 0 10 6 4 0zM1469 987l-14 0 2 10 4 4 6-6zM1485 987l-2 0 0 6 4 8 0 10-8 8-12-4-8-8-8 4-8 0-4-4 0-4-2-2 0-14-50 0 0 4-2 2 0 14-2 2-2 12-2 2 0 4-14 38 0 6-4 8-2 20-2 2 0 28-2 2-2 10-16 14-6 2-10 8-6 2-4 4-6 2-4 4-6 2-4 4-18 10-4 0-8 4-12 0-10 6-16 0-6-4-14 0-2-2-10 0-2-2-10 0-2-2-14 0-2-2-14 0-2-2-40 0-2-2-14 0-6 4-6 0-18-12-4 0 0 4 6 0 6 4 6 8 0 6-6 8-4 2-8 0 0 24 34 4 10 6 14 16 6 2 12 10 0 12-4 10-18 16-4 0-8 4-6 0-2 10-10 6-2 4 2 2 0 18 2 4 6 6 6 0 2 2 14 0 8-4 20 0 12 10 6 2 8-6 0-12 2-2 2-10 4-6 8-6 10 2 10 12 8 0 6-4 8 2 6 10 0 8-2 4-10 8-12 0-2-2-2 2-4 0-6 8 2 22-10 10 0 8 14 0 2-10 10-18 8-8 2-8 8-8 2 0 12-14 4 0 0-2-4 2-4-2-6-6-4-10 6-8 16 2 10-12 4 0 2-2 8 2 16 10 14 20 0 4 4 8 0 8 2 2 0 10 2 2 0 16 2 2-2 20 44 0 2-2 2-38 2-2 0-10 2-2 2-12 4-6 2-8 4-4 18-10 28 0 2 2 16 4 18 18 4 10 2 14 4 6 4 2 8 0 2-2 12-2 6-6 0-8-6-8-2-14-4-6 0-8 8-10 2-6-4-4-4 0-6 6-4 0-10-10-6-2-16-14-4-10 4-10 12-16 10-10 6-2 12-14 10-2 4 4 2 8 6 6 8 0-4 0-8-6 0-6 4-4 8 0-12 0-4-4 0-12 2-4 8-6 6 0 0-2-8 0-4 2-4 6-2 10-6 6-4 0-8-6 0-18-20 0-28-12-18-18-8-14 0-10 2-4 38-36 16 0 10-10 8 0 4 4 0 6 2-10-14-16-2 0-8 8-10 4-10-2-8-4-14-16 0-4-2-2 0-24 2-2 0-6 4-6 4 0 8 10 4-12 8-8 10-4 16 8 10 2 8-12 0-6-6-12zM1195 1389l4-6 6 4-4 6zM1487 1367l2-2 4 6-4 2-2-2zM1479 1349l2 0 4 6 0 6-2 2-4-2-4-6zM1089 1343l6 0 6 6 2 8-4 6-8 0-6-6 0-8zM1163 1333l4 4-2 2 0 4-8 10-4 0-4-4 0-8 6-6zM1105 1333l10-8 16 0 12 8 2 10-2 2 0 4-8 6-24 2-6-10zM1191 1327l8-6 12 0 4 4-2 10-8 6-8-2-4-4zM1233 1217l12 14 0 12-8 10-6 4-4 0-6 6-6 12-10 10-4 0-2 2-12 0-2-2-4 0-20-18 4-8 24-14 24-26 8-4 8 0zM1135 987l2 12 4 6 2 12 2 2 0 22 4 6 12 8 10 2 12 6 24 0 20-10 8-10 2-10 2-2 0-38-2-2 0-4-48 0-4 4-4 0-6-4zM1073 987l4 8 6-4 0-4-4 2-2-2zM1065 987l4 20 4 4 6 2 10 12 10 6 12 2 16-24-2-8-10-6-6-8-14 0 0 10 2 2 14-2 10 8 0 6-6 10-6 6-10 0-8-6-2-6-4-4-8-2-8-6z"/>
<path fill="#623a59" d="M1055 1411l0 6 2 0 4 6 4 0 0-8zM1113 1409l0-6-8-6-26 6 4 4 18 8 4 0zM1093 1403l6-4 8 0 4 4 0 4-4 4-10 0-4-4zM1455 1391l14 16 8 2 6 4 4 6 0 4 6 0-2-8-8-8-8-2-14-12zM1513 1381l-8 12 4 6 4 0 2 2 0-20zM1117 1383l0 6 8 8 10 6 6 0 8 4 12 0 2-2 0-8-4 6-6 2-22-8-8-8 0-4 2-2 12 0 8 4 6 0-2-2-6 0-10-4-12 0zM1089 1381l0 4 6 0 2-2zM1511 1353l-4 2 0 8 4 6 4 2 0-6-6-4 6-8zM1503 1337l6 4 6 0 0-8-8 0zM1091 1315l-2 10-10 6-2 4 2 2 0 18 2 4 6 6 6 0 2 2 14 0 8-4 20 0 12 10 6 2 8-6 0-12 2-2 2-10 4-6 8-6 10 2 10 12 8 0 6-4 4 0 6 4 4 8 0 8-2 4-10 8-12 0-2-2-2 2-4 0-6 8 2 22-10 10 0 8 14 0 2-10 4-8 4-4 2-6 8-8-2-4 18-20 0-10-6-8-2-10 2-4 8-6 0-6-6-4-12 20-6 6-4 0-2 2-14-12 0-6 12-8 12-2 2-2 4 0 0-2-10-2-2-2-18-2-34-14-8 2-20 18-12 6-14 2zM1205 1381l4 6-4 6-6 4-4-4-2-6 6-6zM1093 1337l10 12 0 12-6 4-8-2-6-6 0-8zM1169 1329l2 4-8 16-10 10-6-8 0-10 8-8zM1105 1333l10-8 16 0 12 8 2 10-2 2 0 4-8 6-24 2-6-10zM1513 1285l-2 2 0 8 2 4 2 0 0-14zM1501 1229l0 8 2 4 6 4 6 0-4 0-8-6 0-6 4-4 8 0zM1511 1215l0 2 4 2 0-4zM1075 1139l-4 4 0 10 8 10 6 4 4 0 2-4 0-8-6-12-4-4zM1069 1105l-14 0 0 6 4 2 0 4-4 2 0 10 6-2 4-4 4-10zM1515 1079l-4 0-4 4 0 8 8 0-6-4 0-4zM1071 1059l-6-4-2 2-8 0 0 4 4 2 10 0zM1445 1051l0 10 8 10 4 2 12 0 4-2 16 12 6 0 12-16-2-4-4 0-2-2-20 2-12-10-10-4-10 0zM1481 1075l0-8 6-4 12 0 4 4-2 8-10 8zM1449 1055l2-2 10 0 8 6 2 6-4 4-10 0-8-8zM1087 1045l0 8 2 2 6 0 2-2 0-6-6-4zM1055 1041l6-4-2-2-4 0zM1515 1025l-28 4-4 6 0 4-6 6 4 0 4-4 2-6 6-4 8 0 10 6 4 0zM1055 1013l2 4 8 2-4-4-4 0zM1509 987l-2 2 2 2 0 10 6 6 0-20zM1469 987l-14 0 2 10 4 4 6-6zM1485 987l-2 0 0 6 4 8 0 10-8 8-12-4-8-8-8 4-8 0-4-4 0-4-2-2 0-14-50 0 0 4-2 2 0 14-2 2-2 12-2 2 0 4-14 38 0 6-4 8-2 20-2 2 0 28-2 2-2 10-16 14-6 2-10 8-6 2-34 22-20 8-12 0-10 6-16 0-6-4-14 0-2-2-10 0-2-2-10 0-2-2-14 0-2-2-14 0-2-2-40 0-2-2-14 0-6 4-6 0-18-12-4 0 0 2 10 4 10 10 0 6-8 10-12 2 0 18 48 0 8 4 6 6 10 4 22 0 2-2 16 0 2-2 6 0 16-8 18-16 10-4 10 0 10 4 12 12 4 10 0 10-16 26 0 4-2 2 0 16 2 4 6 4 16 2 2 2 6 0 16 6 4 4 6 2 12 12 6 16 4 28 6 14 0 20-2 2-2 10 34 0 2-2 2-38 2-2 0-10 2-2 2-12 4-6 2-8 4-4 18-10 28 0 2 2 16 4 18 18 4 10 2 14 4 6 4 2 8 0 2-2 12-2 6-6 0-8-6-8-2-14-4-6 0-8 8-10 2-6-4-4-4 0-4 8-6 0-10-6-16-4-14-8-4 0-14-6-4-8 2-2 0-4 32-30 14-10 10-4 8-8 4-2 10 0 4-8 0-8 8-8 8 0 0-2-8 0-4 2-4 6-2 10-6 6-4 0-8-6 0-18-20 0-28-12-18-18-8-14 0-10 2-4 38-36 16 0 10-10 8 0 4 4 0 6 0-6 2-2 0-2-14-16-4 6-8 6-16 0-16-6-12-12-6-16 0-16 2-2 0-14 2-2 2-18 4-6 6 0 4 6 2 12 4 6 6-6 12-6 8 0 14 8 8 0 6-8 0-12-4-6zM1477 1345l8 6 2 8 8 10 0 4-2 2-6 0-4-8-8-8-2-10zM1135 987l2 12 4 6 2 12 2 2 0 22 4 6 12 8 10 2 12 6 24 0 20-10 8-10 2-10 2-2 0-38-2-2 0-4-30 0 0 16-6 8-10 4-2-2-10-2-12-12-8-4-4 0-8-8zM1073 987l4 8 6-4 0-4-2 0-2 4zM1065 987l4 20 4 4 6 2 10 12 10 6 12 2 16-24-2-8-10-6-6-8-14 0 0 8 2 2 8 0 4-2 8 4 6 8-4 10-6 8-6 4-6 0-4-2-14-16-8-2-6-6-4-10z"/>
<path fill="#5a3255" d="M1055 1411l0 4 4 0 4 8 2 0 0-8zM1113 1409l0-6-8-6-26 6 4 4 18 8 4 0zM1091 1403l6-4 10 0 4 4 0 6-6 4-6 0-8-6zM1455 1391l4 2 12 14 8 2 8 8 2 6 4 0-2-8-8-8-8-2-14-12zM1515 1383l-4 2-4 6 0 4 4 4 4 0zM1117 1385l0 2 16 14 4 0 8 4 6 0 2 2 6 0 4-4 0-4-8 6-16-4-8-4-8-8 0-4 2-2 12 0 8 4 6 0-2-2-8 0-10-4-8 0zM1515 1353l-8 4 0 4 6 8 2 0 0-4-2 0-4-6 6-4zM1503 1337l6 4 6 0 0-8-8 0zM1091 1315l-2 10-10 6-2 4 2 2 0 18 2 4 6 6 6 0 2 2 14 0 8-4 20 0 12 10 6 2 8-6 0-12 2-2 2-10 4-6 8-6 10 2 10 12 8 0 6-4 4 0 6 4 4 8 0 8-2 4-10 8-12 0-2-2-2 2-4 0-6 8 2 22-10 10 0 8 14 0 2-10 4-8 4-4 2-6 8-8-4 0-10 12-4 0-4-6 0-10 4-4 14 2 18-16 0-12-10-18-12 8-8 0-14-16 2-10-20-8-16 0-2 2-10 2-6 4-22 4-12 8-2-2 0-6zM1095 1327l4 2 0 10 6 14 0 8-4 4-10 0-8-6 0-14 2-2 0-4zM1105 1333l10-8 16 0 12 8 2 10-2 2 0 4-8 6-24 2-6-10zM1175 1323l2 2 0 4-10 12-8 16-2 10-2 2-4 0-6-8 0-10 2-2 0-10 2-4 6-4 4 0 10-8zM1513 1285l-2 2 0 8 2 4 2 0 0-14zM1505 1229l-4 4 2 6 6 6 6 0-4 0-8-6 0-6 4-4 8 0zM1511 1215l0 2 4 2 0-4zM1075 1139l-4 4 0 10 8 10 6 4 4 0 2-4 0-8-6-12-4-4zM1079 1155l2-2 2 2-2 2zM1069 1105l-14 0 0 4 4 0 4 4 0 4-8 6 0 6 6-2 4-4 4-10zM1515 1079l-4 0-4 4 0 8 8 0-4 0-4-4 0-2zM1071 1059l-6-4-2 2-8 0 0 4 4 2 10 0zM1445 1053l2 10 8 8 22 0 12 12 4 0 12-14 0-4-2-2-26 0-8-8-8-4-14 0zM1481 1075l0-8 6-4 12 0 4 4-2 8-10 8zM1449 1055l2-2 10 0 8 6 2 6-4 4-10 0-8-8zM1087 1047l0 4 4 4 6-2 0-4-4-4-4 0zM1055 1035l0 4 2-2zM1477 1045l4 0 4-4 2-6 6-4 8 0 10 6 4 0 0-8-24 0-4 2-2 6zM1055 1013l0 2 4 0 6 4-4-4-4 0zM1509 987l0 8 6 8 0-16zM1469 987l-2 0-4 6-4-2 0-4-4 0 2 10 4 4 6-6zM1427 987l4 8 2 16 4 6 6 0 6-4 6 0 2-2 16 8 10 0 6-8 0-6-2-2-4-16 0 6 4 8 0 10-8 8-12-4-8-8-8 4-8 0-4-4 0-4-2-2 0-14zM1417 987l-30 0 0 4-2 2 0 14-2 2-2 12-2 2 0 4-14 38 0 6-4 8-2 20-2 2 0 28-2 2-2 10-16 14-6 2-10 8-6 2-34 22-20 8-12 0-10 6-16 0-6-4-14 0-2-2-10 0-2-2-10 0-2-2-14 0-2-2-14 0-2-2-40 0-2-2-14 0-6 4-6 0-18-12-4 0 0 2 4 0 10 6 8 10 0 4-8 12-14 2 0 10 16 0 2-2 10 0 2-2 6 0 10-4 14 0 14 10 14 6 26 0 2-2 12-2 26-16 8 0 2-2 16 2 16 8 12 14 6 14-2 14-8 14 0 14 4 4 12 6 4 0 14 8 4 0 12 6 10 8 4 8 0 36 14 30 0 6-4 6-4 14 24 0 2-2 2-38 2-2 0-10 2-2 2-12 4-6 2-8 4-4 18-10 28 0 2 2 16 4 18 18 4 10 2 14 2 4 6 4 8 0 2-2 12-2 6-6 0-8-6-8-2-14-4-6 0-8 10-14-4-6-4 0-2 2 2 0 2 4-8 6-4 0-8-4-16 0-16-8-4 0-20-8-8-10 0-14 4-8 12-12 20-14 20-10 4 0 16-8 14-2 2-2 0-6 4-10 4-4 10-2-8 0-4 2-4 6-2 10-6 6-4 0-8-6 0-18-20 0-28-12-18-18-8-14 0-10 2-4 38-36 16 0 10-10 8 0 4 4 0 6 0-6 2-2 0-2-14-16-2 2 4 6-2 2-18 6-10-4-18-2-8-4-10-12-4-10-2-20 2-2 0-14 2-2 2-24 6-12zM1473 1337l12 10 4 8 0 4 8 12-4 6-6 0-14-16 0-4-2-2 0-16zM1135 987l2 12 4 6 2 12 2 2 0 22 4 6 12 8 10 2 12 6 24 0 20-10 8-10 2-10 2-2 0-38-2-2 0-4-20 0 2 20-4 8-6 6-10 4-8 0-16-6-16-14-2 0-12-12-2-6zM1067 997l2 10 4 4 6 2 10 12 16 8 6 0 4-4 2-6 10-14-2-8-10-6-6-8-14 0 2 8 14 0 12 10 0 8-4 6-14 12-10-4-14-16-4 0-6-4-4-6zM1073 987l4 8 6-4 0-4 0 2-6 4-2-2 0-4z"/>
<path fill="#522a51" d="M1055 1411l0 2 4 0 4 4 0 6 2 0 0-8zM1113 1409l0-6-8-6-26 6 4 4 18 8 4 0zM1089 1403l6-4 10-2 8 6 0 4-6 6-10 0-8-6zM1455 1391l2 0 14 14 10 4 8 8 0 6 4 0-2-8-8-8-8-2-14-12zM1515 1385l-4 2-2 4 0 4 2 2 4 0zM1119 1385l0 2 16 14 6 0 8 4 12 0 2-2 0-4-8 6-16-4-8-4-8-8 0-4 2-2 12 0 8 4 6 0-4-2-8 0-2-2-16 0zM1511 1355l-2 2 0 6 6 4 0-2-6-4 0-2 6-4zM1503 1337l6 4 6 0 0-8-8 0zM1091 1317l-2 8-10 6-2 4 2 2 0 18 2 4 6 6 6 0 2 2 14 0 8-4 20 0 12 10 6 2 8-6 0-12 2-2 2-10 4-6 8-6 10 2 10 12 8 0 6-4 4 0 6 4 4 8 0 8-2 4-10 8-12 0-2-2-2 2-4 0-6 8 2 22-10 10 0 8 6 0-2-2 0-4 4-4 4 4-2 6 4 0 2-10 4-8 4-4 2-6 8-8-2 0-14 16-8-10 0-10 8-6 8 0 4 2 12-8 6-10 0-4-10-18-4 0-10 6-4 0-16-14-6 0-4 2-8 10 0 4-6 10 0 10-8 6-12-12 0-4 4-6 0-12 2-4 14-10 0-6-12-2-2 2-8 0-2 2-24 2-8 4-4 8 2 12 4 8 0 6-4 4-8 2-2-2-4 0-8-8 2-22 10-10 0-6zM1105 1333l10-8 16 0 12 8 2 10-2 2 0 4-8 6-24 2-6-10zM1513 1285l-2 2 0 8 2 4 2 0 0-14zM1503 1231l0 8 4 4 8 2-4 0-8-6 0-6 4-4 8 0-8 0zM1511 1215l0 2 4 2 0-4zM1075 1139l-4 4 0 10 8 10 6 4 4 0 2-4 0-8-6-12-4-4zM1075 1149l2-2 4 0 4 4 2 8-2 2-4 0-6-6zM1069 1105l-14 0 0 2 6 0 4 4 0 6-8 8-2 0 0 4 6-2 4-4 4-10zM1515 1079l-4 0-4 4 0 8 8 0-6 0-2-2 0-6 4-4zM1071 1059l-6-4-2 2-8 0 0 4 4 2 10 0zM1447 1053l0 6 8 10 4 2 16-2 12 12 2 0-8-6 0-8 6-4 12 0 4 4 0 4-2 4-8 6 2 0 8-10 0-6-2-2-16 0-2 2-6 0-10-10-8-4-8 0zM1449 1055l2-2 10 0 8 6 2 6-4 4-10 0-8-8zM1089 1047l0 4 2 2 4 0 0-6zM1477 1045l4 0 4-4 2-6 6-4 8 0 10 6 4 0 0-6-26 0-4 8zM1055 1013l0 2 4 0 6 4-4-4-4 0zM1511 987l0 10 4 2 0-12zM1469 987l-2 0 0 4-4 4-2 0-4-4 0-4-2 0 2 10 4 4 6-6zM1433 987l2 20 4 8 6 0 8-4 8 0 14 8 6 0 6-6 0-12-4-8 0-6 0 6 4 8 0 10-8 8-12-4-8-8-8 4-8 0-4-4 0-4-2-2 0-14zM1405 987l-18 0 0 4-2 2 0 14-2 2-2 12-2 2 0 4-14 38 0 6-4 8-2 20-2 2 0 28-2 2-2 10-16 14-6 2-10 8-6 2-34 22-20 8-12 0-10 6-16 0-6-4-14 0-2-2-10 0-2-2-10 0-2-2-14 0-2-2-14 0-2-2-40 0-2-2-14 0-6 4-6 0-18-12-4 0 10 4 14 14-2 16 8 0 12-6 20 0 2 2 10 2 18 12 20 0 2-2 12 0 22-10 8 0 2-2 24 2 2 2 8 0 12 6 34 26 8 4 4 6 0 4-16 18 0 4-2 2 2 2 0 4 6 6 8 4 26 0 4 2 6 6 4 10 0 12-12 24 0 14 12 24 0 16-6 12 0 4 16 0 2-2 2-38 2-2 0-10 2-2 2-12 4-6 2-8 4-4 18-10 28 0 2 2 16 4 18 18 4 10 2 14 2 4 6 4 8 0 2-2 12-2 6-6 0-8-6-8-2-14-4-6 0-8 10-14-4-6-4 0 4 4 0 4-12 10 0 8 8 10 2 10 8 12 0 4-6 6-4 0-16-18-2-4 0-12-4-8-6-6-10-4-4-4-12-6-26-8-10-12-2-18 2-2 2-12 18-18 22-12 4 0 26-10 24 0 4-4 2-12 6-6 10-2-8 0-4 2-4 6-2 10-6 6-4 0-8-6 0-18-20 0-28-12-22-24-4-8 0-10 2-4 20-20 2 0 16-16 16 0 10-10 8 0 4 4 0 4 2-8-14-16 4 6 0 4-16 8-8 0-8-4-14 0-4 2-10-4-12-12-8-16 0-6-2-2 0-16 2-2 0-8 2-2 0-8 2-2 0-10 2-2 0-8 2-2zM1135 987l2 12 4 6 2 12 2 2 0 22 4 6 12 8 10 2 12 6 24 0 20-10 8-10 2-10 2-2 0-38-2-2 0-4-14 0 0 4 4 8 0 10-8 18-10 8-16 0-2-2-16-2-8-4-14-12-12-22 0-4-2-2zM1069 1005l0 2 4 4 6 2 10 12 16 8 6 0 4-4 2-6 10-14-2-8-10-6-6-8-12 0 0 6 14 0 14 12 0 4-8 14-8 8-8 0-8-4-10-14-8-2zM1083 987l0 4-2 2-4 0-2-2 0 2 4 2 4-4z"/>
<path fill="#4b234d" d="M1055 1411l6 2 4 4 0 6 0-8zM1113 1403l0 6-4 4-8 2 8-2 4-4zM1079 1403l4 4 14 6-12-8 2-4 8-2zM1455 1391l6 2 12 12 8 2 8 8 2 8 2 0-2-8-8-8-8-2-14-12zM1513 1389l-2 4 4 2 0-6zM1121 1385l0 4 12 10 4 0 14 6 6 0 6-4 0-2-8 6-16-4-8-4-8-8 0-4 2-2 10 0-10 0zM1511 1355l-2 2 0 4 2 4 4 2 0-2-6-4 0-2 6-4zM1503 1337l6 4 6 0-6-4 6-4-8 0zM1179 1333l-4 2-6 8 2-4 8-6 6 0 4 2 10 12 8 0 6-4 8 2 6 10 0 8-6 8-6 4-12 0-2-2-2 2-4 0-6 8 2 22-10 10 0 8 2 0 0-8 8-6 4 2 0 10-2 2 2 0 2-10 4-8 4-4 2-6 8-8-4 2-4 8-10 10-4-4 0-4-4-8 0-6 2-4 8-6 12 2 8-4 8-10 0-8-4-8-6-6-14 6-14-12zM1105 1331l-2 10 6 16 0 6-6 4-8 0 14 0 8-4 20 0 16 12 6-2 4-4 0-12 4-10-4 8 0 10-6 8-6 0-14-12-6 0-2-2 10-4 4-4 0-4 2-2 0-12 4-4 4 0 2-2 0-4-10 0-2 2-22-2-2 2-6 0zM1105 1333l10-8 16 0 12 8 2 10-2 2 0 4-8 6-24 2-6-10zM1091 1317l-2 8-10 6-2 4 2 2 0 18 8 10 2 0-8-6-2-8 2-2 0-16 10-8zM1487 1311l6 4 0 4-10 10 0 10 6 10 0 4 4 8-4-8 0-8-4-6 0-8 8-10 2-6-4-4zM1513 1285l-2 2 0 8 2 4 2 0 0-4-2-2 2-8zM1505 1231l-2 2 0 4 0-4zM1511 1215l0 2 4 2 0-4zM1501 1205l6-4 8 0-8 0zM1055 1179l4 0 2 2-2-2zM1075 1139l-4 4 0 10 8 10 6 4 4 0 2-4 0-8-6-12-4-4zM1077 1143l4 0 8 12 0 6-4 4-12-10 0-8zM1069 1105l-14 0 6 0 6 4 0 6-4 8-8 4 0 2 6-2 4-4 4-10zM1507 1089l0 2 2 0zM1513 1079l-2 0-4 6 0-2zM1071 1059l-6-4-2 2-8 0 0 4 4 2 10 0zM1449 1053l0 8 2 4 6 4 14 0 2-2 4 0 4 6 0-6 4-2-8 2-14-14zM1449 1055l2-2 10 0 8 6 2 6-4 4-10 0-8-8zM1091 1047l0 4 4 0-2-4zM1477 1045l4 0 4-4 2-6 6-4 8 0 10 6 4 0 0-2-10-4-12 0-6 4-2 6-4 4zM1469 1015l2 2 4 0-4 0zM1487 1003l0 8-6 6 2 0 4-6zM1511 987l0 4 4 6 0-10zM1469 987l0 4-6 6-4 0-2-2-2-8 2 10 4 4 6-6zM1435 987l2 20 4 6 6 0 8-4 4 0 6 4-6-6-8 4-8 0-4-4 0-4-2-2 0-14zM1397 987l-10 0 0 4-2 2 0 14-2 2-2 12-2 2 0 4-14 38 0 6-4 8-2 20-2 2 0 28-2 2 0 6-10 12-24 16-6 2-4 4-6 2-4 4-6 2-4 4-18 10-4 0-8 4-12 0-10 6-16 0-6-4-14 0-2-2-10 0-2-2-10 0-2-2-14 0-2-2-14 0-2-2-40 0-2-2-14 0-6 4-6 0-6-4 10 8 12 0 8 4 26 0 2 2 8 0 14 6 26 0 2 2 10 0 2-2 32 0 2 2 40 0 2 2 18-2 2 2 4 0 10 12 20 0 2-2 12 0 4 2 4 6 0 8-6 12 0 8 2 2 0 4 14 16 6 12 0 4 10 18 0 4-10 18-4 4-2 6-12 14 0 8 4 6 2 14 2 2 0 14-2 2 0 8-4 10 10 0 2-2 0-20 2-2 2-28 2-2 0-6 8-20 4-4 18-10 28 0 2 2 16 4 18 18 4 10 2 14 2 4 6 4 8 0 2-2 12-2 6-6 0-8-2-2 2 2 0 8-6 6-6 0-10-12-8 2-2-2 2-20-6-8-30-18-30-6-8-4-6-6 0-16-2-2 0-8-2-2 0-8-2-2 0-12 2-2 0-4 6-8 10-6 20-6 4-4 12-6 20 0 6-4 8-2 14 10 8 0 4-2 2-4 0-4 0 4-6 6-4 0-8-6 0-18-20 0-28-12-18-18-8-14 0-10 2-4 38-36 16 0 10-10 8 0 4 4 0 4 2-8-14-16 4 4 2 8-14 6-4 4-6 0-12-6-4 0-8 6-12 0-8-4-12-12-14-30 0-10 2-2 4-22 4-8zM1135 987l2 12 4 6 2 12 2 2 0 22 4 6 12 8 10 2 12 6 24 0 20-10 8-10 2-10 2-2 0-38-2-2 0-4-8 0 0 4 2 2 0 26-2 2 0 8-4 8-8 8-8 4-14 0-8-4-12 0-18-8-8-8-4-22-6-12 0-4-2-4zM1069 1005l0 2 4 4 6 2 10 12 16 8 6 0 4-4 2-6 10-14-2-8-10-6-6-8-12 0 4 6 2-2 6 0 16 12 0 10-8 12-8 8-4 0-10-4-14-16-10-4zM1083 987l0 4-6 4-2-2 4 2 4-4z"/>
<path fill="#441a4a" d="M1477 1405l6 2 8 8 2 8-2-8-8-8zM1205 1401l-8 12 0 6 0-6zM1079 1403l8 6-6-4 0-2 4-2zM1191 1395l0 10-10 10 0 8 0-8 10-10zM1123 1385l0 4 6 6-6-6zM1163 1365l0 4-4 4 4-4zM1095 1367l14 0 8-4 18 0-16 0-2-2 2-4 4-2 10 0-22 2-4-8 6 14-4 4zM1219 1345l-2-2-4 0-6 4-8 0-2-2 2 2 8 0 6-4 4 0zM1511 1333l-4 0-4 4 2 2 0-4 2-2zM1085 1327l-6 4-2 4 2 2 0 18 0-22zM1351 1423l4-2 2-38 2-2 2-18 6-12 0-4 6-8 18-10 28 0 2 2 16 4 18 18 8 28 6 4 16-2-4-2-4-6-2 0 0 4-4 4-8-6-2-4 0-8-2-2 0-12-20-18-16-6-6 0-2-2-26 0-22 14-10 22zM1117 1325l14 0 8 4 4 4 0 4 0-4-12-8zM1491 1311l-4 0 4 0 4 6-10 12 0 10 4 6 0 4 0-4-4-6 0-8 10-14zM1513 1285l-2 2 0 8 2 4 2 0-4-4 0-6 4-4zM1511 1215l0 2 4 2-2 0zM1075 1139l-4 4 0 10 2 2-2-2 0-8 8-6 8 8 4 8 0 8-4 4-4-2 2 2 4 0 2-4 0-8-6-12-4-4zM1067 1117l-2 6-4 4-6 2 6-2 4-4zM1055 1105l12 0 2 2 0 6 0-8zM1467 1057l4 6-2 4 2-4zM1071 1059l-2-2 2 2-2 4-10 0-4-2 4 2 10 0zM1503 1033l8 4 4 0-4 0zM1115 1029l-4 4-6 0 6 0zM1463 1011l-4-4-2 2-4 0 8 0zM1439 1003l0 4 4 4 6 0-6 0-4-4zM1457 997l0-2 4 6 6-6-4 4-4 0zM1513 987l0 4 2 2 0-6zM1485 1097l-6-6 2 2-2 4-8 0-14 10-4 0-8-4-6 0-14 16-2 0-26 24-4-4 0-10 8-12 0-6-18-20 0-14-2-4-6-2-4-4 2-14 2-2 0-4 4-8 0-6 2-2 0-4 6-14 0-6 2-2 0-16 2-2-4 0 0 4-2 2 0 14-2 2-2 12-2 2 0 4-14 38 0 6-4 8-2 20-2 2 0 28-2 2 0 6-2 4-16 14-6 2-10 8-6 2-4 4-6 2-4 4-6 2-4 4-18 10-4 0-8 4-12 0-10 6-16 0-6-4-14 0-2-2-10 0-2-2-10 0-2-2-14 0-2-2-14 0-2-2-40 0-2-2-14 0-6 4-6 0-2-2 2 2 6 0 2-2 12 0 2 2 30 0 2 2 32 2 2 2 12 0 2 2 12 0 2 2 18 0 10 4 22 0 6-4 12 0 2-2 10-2 16-8 24-16 18-8 22-16 8-2 2 2-2 10-8 8-16 6-6 10 0 6 6 10 20 8 14 0 10-4 8-10 0-28 2-2 0-4 4-4 8 8 4 8 22 22 8 4 4 0 10 6 6 0 2 2 14 0 4 4 2 10 6 4-6-4 0-18-20 0-28-12-18-18-8-14 0-10 2-4 38-36 16 0 10-10 8 0 4 4 0 4zM1373 1083l4 4 2 6-10 14 0 12 4 10-2 2 0 4-8 8-2-2 0-12 2-2 0-30 2-2 2-10 2-2zM1135 987l2 12 4 6 2 12 2 2 0 22 4 6 12 8 10 2 12 6 24 0 20-10 8-10 2-10 2-2 0-38-2-2 0-4-2 0 0 12 2 2-2 34-12 16-6 2-8 6-26 0-12-6-4 0-18-10-4-6 0-18-2-2 0-8-6-12zM1099 987l2 2 8 0 2 2-2-4z"/>
<path d="M1214.4 1215.5h13.7" stroke="#fff" stroke-width="6.4"/>
<path d="M1240.2 1213.1h25.5M1252.9 1201.6v23.9" stroke="#fff" stroke-width="6"/>
<ellipse cx="1230.8" cy="1203.7" rx="28.7" ry="28.5" fill="none" stroke="#00ffff" stroke-width="4.3" stroke-dasharray="3.4 7.2" stroke-linecap="round"/>
</g>
<text x="547.0" y="141.0" text-anchor="end" font-family='"Liberation Sans", Arial, sans-serif' font-weight="bold" font-size="60" fill="#fff">(a1)</text>
<text x="1029.1" y="141.0" text-anchor="end" font-family='"Liberation Sans", Arial, sans-serif' font-weight="bold" font-size="60" fill="#fff">(a2)</text>
<text x="1513.6" y="143.7" text-anchor="end" font-family='"Liberation Sans", Arial, sans-serif' font-weight="bold" font-size="60" fill="#fff">(a3)</text>
<text x="552.6" y="589.7" text-anchor="end" font-family='"Liberation Sans", Arial, sans-serif' font-weight="bold" font-size="60" fill="#fff">(b1)</text>
<text x="1033.1" y="592.4" text-anchor="end" font-family='"Liberation Sans", Arial, sans-serif' font-weight="bold" font-size="60" fill="#fff">(b2)</text>
<text x="1509.6" y="600.5" text-anchor="end" font-family='"Liberation Sans", Arial, sans-serif' font-weight="bold" font-size="60" fill="#fff">(b3)</text>
<text x="550.4" y="1041.0" text-anchor="end" font-family='"Liberation Sans", Arial, sans-serif' font-weight="bold" font-size="60" fill="#fff">(c1)</text>
<text x="1028.2" y="1039.7" text-anchor="end" font-family='"Liberation Sans", Arial, sans-serif' font-weight="bold" font-size="60" fill="#fff">(c2)</text>
<text x="1507.3" y="1041.5" text-anchor="end" font-family='"Liberation Sans", Arial, sans-serif' font-weight="bold" font-size="60" fill="#fff">(c3)</text>
<text x="101.0" y="493.3" fill="#fff" font-size="47" font-family='"Liberation Serif", "Times New Roman", serif'>&#937;</text><text x="149.6" y="493.6" fill="#fff" font-size="46.5" font-family='"Liberation Sans", Arial, sans-serif' font-weight="bold" textLength="111.2" lengthAdjust="spacingAndGlyphs">=0.60</text><text x="261.8" y="493.3" fill="#fff" font-size="48" font-family='"Liberation Serif", "Times New Roman", serif'>&#969;</text><text x="291.5" y="510.8" fill="#fff" font-size="50" font-family='"Liberation Serif", "Times New Roman", serif'>t</text>
<text x="578.4" y="490.0" fill="#fff" font-size="47" font-family='"Liberation Serif", "Times New Roman", serif'>&#937;</text><text x="627.0" y="490.3" fill="#fff" font-size="46.5" font-family='"Liberation Sans", Arial, sans-serif' font-weight="bold" textLength="112.3" lengthAdjust="spacingAndGlyphs">=0.52</text><text x="739.9" y="490.0" fill="#fff" font-size="48" font-family='"Liberation Serif", "Times New Roman", serif'>&#969;</text><text x="769.5" y="507.5" fill="#fff" font-size="50" font-family='"Liberation Serif", "Times New Roman", serif'>t</text>
<text x="1063.7" y="487.0" fill="#fff" font-size="47" font-family='"Liberation Serif", "Times New Roman", serif'>&#937;</text><text x="1112.8" y="487.3" fill="#fff" font-size="46.5" font-family='"Liberation Sans", Arial, sans-serif' font-weight="bold" textLength="110.7" lengthAdjust="spacingAndGlyphs">=0.46</text><text x="1224.7" y="487.0" fill="#fff" font-size="48" font-family='"Liberation Serif", "Times New Roman", serif'>&#969;</text><text x="1254.2" y="504.5" fill="#fff" font-size="50" font-family='"Liberation Serif", "Times New Roman", serif'>t</text>
<line x1="376.8" y1="747.5" x2="376.8" y2="668.0" stroke="#fff" stroke-width="3.2"/><path d="M376.8 642.0L384.8 670.0L368.8 670.0Z" fill="#fff"/>
<line x1="376.6" y1="750.6" x2="297.3" y2="750.6" stroke="#000" stroke-width="3.0"/><path d="M270.3 750.6L299.3 743.1L299.3 758.1Z" fill="#000"/>
<line x1="754.7" y1="754.4" x2="841.0" y2="754.4" stroke="#000" stroke-width="3.0"/><path d="M868.0 754.4L839.0 762.4L839.0 746.4Z" fill="#000"/>
<line x1="757.8" y1="751.6" x2="757.8" y2="826.9" stroke="#fff" stroke-width="3.0"/><path d="M757.8 852.9L750.3 824.9L765.3 824.9Z" fill="#fff"/>
<line x1="1238.7" y1="753.5" x2="1324.4" y2="753.5" stroke="#000" stroke-width="3.0"/><path d="M1351.4 753.5L1322.4 761.5L1322.4 745.5Z" fill="#000"/>
<line x1="1238.6" y1="752.8" x2="1238.6" y2="828.4" stroke="#fff" stroke-width="3.0"/><path d="M1238.6 854.4L1231.1 826.4L1246.1 826.4Z" fill="#fff"/>
<rect x="1522.8" y="89.00" width="25.5" height="9.63" fill="#ff0b00"/>
<rect x="1522.8" y="98.03" width="25.5" height="9.63" fill="#ff2100"/>
<rect x="1522.8" y="107.06" width="25.5" height="9.63" fill="#ff3600"/>
<rect x="1522.8" y="116.10" width="25.5" height="9.63" fill="#ff4c00"/>
<rect x="1522.8" y="125.13" width="25.5" height="9.63" fill="#ff6200"/>
<rect x="1522.8" y="134.16" width="25.5" height="9.63" fill="#ff7700"/>
<rect x="1522.8" y="143.19" width="25.5" height="9.63" fill="#ff8d00"/>
<rect x="1522.8" y="152.22" width="25.5" height="9.63" fill="#ffa300"/>
<rect x="1522.8" y="161.26" width="25.5" height="9.63" fill="#ffb800"/>
<rect x="1522.8" y="170.29" width="25.5" height="9.63" fill="#ffce00"/>
<rect x="1522.8" y="179.32" width="25.5" height="9.63" fill="#ffe400"/>
<rect x="1522.8" y="188.35" width="25.5" height="9.63" fill="#fffa00"/>
<rect x="1522.8" y="197.38" width="25.5" height="9.63" fill="#efff00"/>
<rect x="1522.8" y="206.41" width="25.5" height="9.63" fill="#d9ff00"/>
<rect x="1522.8" y="215.45" width="25.5" height="9.63" fill="#c3ff00"/>
<rect x="1522.8" y="224.48" width="25.5" height="9.63" fill="#aeff00"/>
<rect x="1522.8" y="233.51" width="25.5" height="9.63" fill="#98ff00"/>
<rect x="1522.8" y="242.54" width="25.5" height="9.63" fill="#82ff00"/>
<rect x="1522.8" y="251.57" width="25.5" height="9.63" fill="#6dff00"/>
<rect x="1522.8" y="260.61" width="25.5" height="9.63" fill="#57ff00"/>
<rect x="1522.8" y="269.64" width="25.5" height="9.63" fill="#41ff00"/>
<rect x="1522.8" y="278.67" width="25.5" height="9.63" fill="#2bff00"/>
<rect x="1522.8" y="287.70" width="25.5" height="9.63" fill="#16ff00"/>
<rect x="1522.8" y="296.73" width="25.5" height="9.63" fill="#00ff00"/>
<rect x="1522.8" y="305.77" width="25.5" height="9.63" fill="#00ff16"/>
<rect x="1522.8" y="314.80" width="25.5" height="9.63" fill="#00ff2b"/>
<rect x="1522.8" y="323.83" width="25.5" height="9.63" fill="#00ff41"/>
<rect x="1522.8" y="332.86" width="25.5" height="9.63" fill="#00ff57"/>
<rect x="1522.8" y="341.89" width="25.5" height="9.63" fill="#00ff6d"/>
<rect x="1522.8" y="350.93" width="25.5" height="9.63" fill="#00ff82"/>
<rect x="1522.8" y="359.96" width="25.5" height="9.63" fill="#00ff98"/>
<rect x="1522.8" y="368.99" width="25.5" height="9.63" fill="#00ffae"/>
<rect x="1522.8" y="378.02" width="25.5" height="9.63" fill="#00ffc3"/>
<rect x="1522.8" y="387.05" width="25.5" height="9.63" fill="#00ffd9"/>
<rect x="1522.8" y="396.09" width="25.5" height="9.63" fill="#00ffef"/>
<rect x="1522.8" y="405.12" width="25.5" height="9.63" fill="#00faff"/>
<rect x="1522.8" y="414.15" width="25.5" height="9.63" fill="#00e4ff"/>
<rect x="1522.8" y="423.18" width="25.5" height="9.63" fill="#00ceff"/>
<rect x="1522.8" y="432.21" width="25.5" height="9.63" fill="#00b8ff"/>
<rect x="1522.8" y="441.24" width="25.5" height="9.63" fill="#00a3ff"/>
<rect x="1522.8" y="450.28" width="25.5" height="9.63" fill="#008dff"/>
<rect x="1522.8" y="459.31" width="25.5" height="9.63" fill="#0077ff"/>
<rect x="1522.8" y="468.34" width="25.5" height="9.63" fill="#0062ff"/>
<rect x="1522.8" y="477.37" width="25.5" height="9.63" fill="#004cff"/>
<rect x="1522.8" y="486.40" width="25.5" height="9.63" fill="#0036ff"/>
<rect x="1522.8" y="495.44" width="25.5" height="9.63" fill="#0021ff"/>
<rect x="1522.8" y="504.47" width="25.5" height="9.63" fill="#000bff"/>
<rect x="1522.8" y="89.0" width="25.5" height="424.5" fill="none" stroke="#222" stroke-width="1.2"/>
<line x1="1548.3" y1="88.4" x2="1548.3" y2="514.1" stroke="#000" stroke-width="2.2"/>
<line x1="1548.3" y1="89.0" x2="1557.5" y2="89.0" stroke="#000" stroke-width="2.2"/>
<text x="1566.0" y="98.0" font-family='"Liberation Sans", Arial, sans-serif' font-weight="bold" font-size="25">0.2310</text>
<line x1="1548.3" y1="301.2" x2="1557.5" y2="301.2" stroke="#000" stroke-width="2.2"/>
<text x="1566.0" y="310.2" font-family='"Liberation Sans", Arial, sans-serif' font-weight="bold" font-size="25">0.1155</text>
<line x1="1548.3" y1="513.5" x2="1557.5" y2="513.5" stroke="#000" stroke-width="2.2"/>
<text x="1566.0" y="522.5" font-family='"Liberation Sans", Arial, sans-serif' font-weight="bold" font-size="25">0.000</text>
<rect x="1526.8" y="547.40" width="24.8" height="9.30" fill="#ff0b00"/>
<rect x="1526.8" y="556.10" width="24.8" height="9.30" fill="#ff2100"/>
<rect x="1526.8" y="564.80" width="24.8" height="9.30" fill="#ff3600"/>
<rect x="1526.8" y="573.49" width="24.8" height="9.30" fill="#ff4c00"/>
<rect x="1526.8" y="582.19" width="24.8" height="9.30" fill="#ff6200"/>
<rect x="1526.8" y="590.89" width="24.8" height="9.30" fill="#ff7700"/>
<rect x="1526.8" y="599.59" width="24.8" height="9.30" fill="#ff8d00"/>
<rect x="1526.8" y="608.29" width="24.8" height="9.30" fill="#ffa300"/>
<rect x="1526.8" y="616.98" width="24.8" height="9.30" fill="#ffb800"/>
<rect x="1526.8" y="625.68" width="24.8" height="9.30" fill="#ffce00"/>
<rect x="1526.8" y="634.38" width="24.8" height="9.30" fill="#ffe400"/>
<rect x="1526.8" y="643.08" width="24.8" height="9.30" fill="#fffa00"/>
<rect x="1526.8" y="651.77" width="24.8" height="9.30" fill="#efff00"/>
<rect x="1526.8" y="660.47" width="24.8" height="9.30" fill="#d9ff00"/>
<rect x="1526.8" y="669.17" width="24.8" height="9.30" fill="#c3ff00"/>
<rect x="1526.8" y="677.87" width="24.8" height="9.30" fill="#aeff00"/>
<rect x="1526.8" y="686.57" width="24.8" height="9.30" fill="#98ff00"/>
<rect x="1526.8" y="695.26" width="24.8" height="9.30" fill="#82ff00"/>
<rect x="1526.8" y="703.96" width="24.8" height="9.30" fill="#6dff00"/>
<rect x="1526.8" y="712.66" width="24.8" height="9.30" fill="#57ff00"/>
<rect x="1526.8" y="721.36" width="24.8" height="9.30" fill="#41ff00"/>
<rect x="1526.8" y="730.06" width="24.8" height="9.30" fill="#2bff00"/>
<rect x="1526.8" y="738.75" width="24.8" height="9.30" fill="#16ff00"/>
<rect x="1526.8" y="747.45" width="24.8" height="9.30" fill="#00ff00"/>
<rect x="1526.8" y="756.15" width="24.8" height="9.30" fill="#00ff16"/>
<rect x="1526.8" y="764.85" width="24.8" height="9.30" fill="#00ff2b"/>
<rect x="1526.8" y="773.54" width="24.8" height="9.30" fill="#00ff41"/>
<rect x="1526.8" y="782.24" width="24.8" height="9.30" fill="#00ff57"/>
<rect x="1526.8" y="790.94" width="24.8" height="9.30" fill="#00ff6d"/>
<rect x="1526.8" y="799.64" width="24.8" height="9.30" fill="#00ff82"/>
<rect x="1526.8" y="808.34" width="24.8" height="9.30" fill="#00ff98"/>
<rect x="1526.8" y="817.03" width="24.8" height="9.30" fill="#00ffae"/>
<rect x="1526.8" y="825.73" width="24.8" height="9.30" fill="#00ffc3"/>
<rect x="1526.8" y="834.43" width="24.8" height="9.30" fill="#00ffd9"/>
<rect x="1526.8" y="843.13" width="24.8" height="9.30" fill="#00ffef"/>
<rect x="1526.8" y="851.83" width="24.8" height="9.30" fill="#00faff"/>
<rect x="1526.8" y="860.52" width="24.8" height="9.30" fill="#00e4ff"/>
<rect x="1526.8" y="869.22" width="24.8" height="9.30" fill="#00ceff"/>
<rect x="1526.8" y="877.92" width="24.8" height="9.30" fill="#00b8ff"/>
<rect x="1526.8" y="886.62" width="24.8" height="9.30" fill="#00a3ff"/>
<rect x="1526.8" y="895.31" width="24.8" height="9.30" fill="#008dff"/>
<rect x="1526.8" y="904.01" width="24.8" height="9.30" fill="#0077ff"/>
<rect x="1526.8" y="912.71" width="24.8" height="9.30" fill="#0062ff"/>
<rect x="1526.8" y="921.41" width="24.8" height="9.30" fill="#004cff"/>
<rect x="1526.8" y="930.11" width="24.8" height="9.30" fill="#0036ff"/>
<rect x="1526.8" y="938.80" width="24.8" height="9.30" fill="#0021ff"/>
<rect x="1526.8" y="947.50" width="24.8" height="9.30" fill="#000bff"/>
<rect x="1526.8" y="547.4" width="24.8" height="408.8" fill="none" stroke="#222" stroke-width="1.2"/>
<line x1="1551.6" y1="546.8" x2="1551.6" y2="956.8" stroke="#000" stroke-width="1.8"/>
<line x1="1551.6" y1="547.4" x2="1561.5" y2="547.4" stroke="#000" stroke-width="2.2"/>
<text x="1569.5" y="556.4" font-family='"Liberation Sans", Arial, sans-serif' font-weight="bold" font-size="25">0.2310</text>
<line x1="1551.6" y1="751.8" x2="1561.5" y2="751.8" stroke="#000" stroke-width="2.2"/>
<text x="1569.5" y="760.8" font-family='"Liberation Sans", Arial, sans-serif' font-weight="bold" font-size="25">0.1155</text>
<line x1="1551.6" y1="956.2" x2="1561.5" y2="956.2" stroke="#000" stroke-width="2.2"/>
<text x="1569.5" y="965.2" font-family='"Liberation Sans", Arial, sans-serif' font-weight="bold" font-size="25">0.000</text>
<rect x="1527.6" y="1001.30" width="25.6" height="9.46" fill="#421849"/>
<rect x="1527.6" y="1010.16" width="25.6" height="9.46" fill="#461c4a"/>
<rect x="1527.6" y="1019.01" width="25.6" height="9.46" fill="#49214c"/>
<rect x="1527.6" y="1027.87" width="25.6" height="9.46" fill="#4d254e"/>
<rect x="1527.6" y="1036.72" width="25.6" height="9.46" fill="#512950"/>
<rect x="1527.6" y="1045.58" width="25.6" height="9.46" fill="#552d52"/>
<rect x="1527.6" y="1054.43" width="25.6" height="9.46" fill="#593154"/>
<rect x="1527.6" y="1063.29" width="25.6" height="9.46" fill="#5c3456"/>
<rect x="1527.6" y="1072.14" width="25.6" height="9.46" fill="#603859"/>
<rect x="1527.6" y="1081.00" width="25.6" height="9.46" fill="#653d5b"/>
<rect x="1527.6" y="1089.85" width="25.6" height="9.46" fill="#69415d"/>
<rect x="1527.6" y="1098.71" width="25.6" height="9.46" fill="#6e4660"/>
<rect x="1527.6" y="1107.56" width="25.6" height="9.46" fill="#724a62"/>
<rect x="1527.6" y="1116.42" width="25.6" height="9.46" fill="#764e64"/>
<rect x="1527.6" y="1125.27" width="25.6" height="9.46" fill="#7d5564"/>
<rect x="1527.6" y="1134.13" width="25.6" height="9.46" fill="#835b64"/>
<rect x="1527.6" y="1142.99" width="25.6" height="9.46" fill="#896164"/>
<rect x="1527.6" y="1151.84" width="25.6" height="9.46" fill="#8f6764"/>
<rect x="1527.6" y="1160.70" width="25.6" height="9.46" fill="#956d64"/>
<rect x="1527.6" y="1169.55" width="25.6" height="9.46" fill="#9a7265"/>
<rect x="1527.6" y="1178.41" width="25.6" height="9.46" fill="#9e7866"/>
<rect x="1527.6" y="1187.26" width="25.6" height="9.46" fill="#a37d67"/>
<rect x="1527.6" y="1196.12" width="25.6" height="9.46" fill="#a78268"/>
<rect x="1527.6" y="1204.97" width="25.6" height="9.46" fill="#ac8769"/>
<rect x="1527.6" y="1213.83" width="25.6" height="9.46" fill="#b08d6a"/>
<rect x="1527.6" y="1222.68" width="25.6" height="9.46" fill="#b3936a"/>
<rect x="1527.6" y="1231.54" width="25.6" height="9.46" fill="#b79a6b"/>
<rect x="1527.6" y="1240.39" width="25.6" height="9.46" fill="#bba06b"/>
<rect x="1527.6" y="1249.25" width="25.6" height="9.46" fill="#bea66c"/>
<rect x="1527.6" y="1258.10" width="25.6" height="9.46" fill="#bfab6c"/>
<rect x="1527.6" y="1266.96" width="25.6" height="9.46" fill="#c0af6c"/>
<rect x="1527.6" y="1275.81" width="25.6" height="9.46" fill="#c1b46c"/>
<rect x="1527.6" y="1284.67" width="25.6" height="9.46" fill="#c2b96c"/>
<rect x="1527.6" y="1293.53" width="25.6" height="9.46" fill="#c3be6c"/>
<rect x="1527.6" y="1302.38" width="25.6" height="9.46" fill="#c4c369"/>
<rect x="1527.6" y="1311.24" width="25.6" height="9.46" fill="#c4c766"/>
<rect x="1527.6" y="1320.09" width="25.6" height="9.46" fill="#c5cc63"/>
<rect x="1527.6" y="1328.95" width="25.6" height="9.46" fill="#c6d161"/>
<rect x="1527.6" y="1337.80" width="25.6" height="9.46" fill="#c7d65d"/>
<rect x="1527.6" y="1346.66" width="25.6" height="9.46" fill="#c8db59"/>
<rect x="1527.6" y="1355.51" width="25.6" height="9.46" fill="#cae156"/>
<rect x="1527.6" y="1364.37" width="25.6" height="9.46" fill="#cbe652"/>
<rect x="1527.6" y="1373.22" width="25.6" height="9.46" fill="#cdeb4e"/>
<rect x="1527.6" y="1382.08" width="25.6" height="9.46" fill="#cdef4b"/>
<rect x="1527.6" y="1390.93" width="25.6" height="9.46" fill="#cdf448"/>
<rect x="1527.6" y="1399.79" width="25.6" height="9.46" fill="#cef845"/>
<rect x="1527.6" y="1408.64" width="25.6" height="9.46" fill="#cefd42"/>
<rect x="1527.6" y="1001.3" width="25.6" height="416.2" fill="none" stroke="#222" stroke-width="1.2"/>
<line x1="1553.2" y1="1000.7" x2="1553.2" y2="1418.1" stroke="#000" stroke-width="1.8"/>
<line x1="1553.2" y1="1001.3" x2="1562.0" y2="1001.3" stroke="#000" stroke-width="2.2"/>
<text x="1571.5" y="1010.3" font-family='"Liberation Sans", Arial, sans-serif' font-weight="bold" font-size="25">6.300</text>
<line x1="1553.2" y1="1209.4" x2="1562.0" y2="1209.4" stroke="#000" stroke-width="2.2"/>
<text x="1571.5" y="1218.4" font-family='"Liberation Sans", Arial, sans-serif' font-weight="bold" font-size="25">3.150</text>
<line x1="1553.2" y1="1417.5" x2="1562.0" y2="1417.5" stroke="#000" stroke-width="2.2"/>
<text x="1571.5" y="1426.5" font-family='"Liberation Sans", Arial, sans-serif' font-weight="bold" font-size="25">0.000</text>
<path d="M94 989 L92.6 1424" stroke="#000" stroke-width="4.2" stroke-linecap="round" fill="none"/>
<path d="M96 1421.5 L553.5 1423.7" stroke="#000" stroke-width="4.2" stroke-linecap="round" fill="none"/>
<text x="90" y="1018" text-anchor="end" font-family='"Liberation Sans", Arial, sans-serif' font-size="40">60</text>
<text x="85" y="1415.4" text-anchor="end" font-family='"Liberation Sans", Arial, sans-serif' font-size="40">0</text>
<text x="546" y="1459.5" text-anchor="end" font-family='"Liberation Sans", Arial, sans-serif' font-size="40">60</text>
<text x="19.2" y="1462" font-size="40" font-family='"Liberation Serif", "Times New Roman", serif'>(</text>
<text transform="translate(32.8 1462) scale(1.14 1.05)" font-size="40" font-family='"Liberation Serif", "Times New Roman", serif'>&#956;</text>
<text x="57.3" y="1462" font-size="44" font-family='"Liberation Sans", Arial, sans-serif'>m</text>
<text x="96.2" y="1462" font-size="40" font-family='"Liberation Serif", "Times New Roman", serif'>)</text>
<text x="109.5" y="1463" font-size="41.5" font-family='"Liberation Sans", Arial, sans-serif'>0</text>
<ellipse cx="2009.2" cy="261.2" rx="200.8" ry="203.5" fill="#c4c4c4"/>
<ellipse cx="2006.8" cy="261.7" rx="107.8" ry="113" fill="none" stroke="#858585" stroke-width="25"/>
<ellipse cx="2006.8" cy="261.7" rx="120.6" ry="124.8" fill="none" stroke="#ffff00" stroke-width="4.6" stroke-dasharray="21 17"/>
<ellipse cx="2006.8" cy="261.7" rx="95.2" ry="101" fill="none" stroke="#ffff00" stroke-width="4.6" stroke-dasharray="19 14"/>
<circle cx="2120" cy="253" r="33.5" fill="#000099" stroke="#8b1c2c" stroke-width="1.2"/>
<line x1="2120.3" y1="253" x2="2120.3" y2="185" stroke="#fff" stroke-width="2.2"/>
<path d="M2120.3 163 L2125.5 188 L2115.1 188 Z" fill="#fff"/>
<line x1="2133" y1="252.5" x2="2030" y2="252.5" stroke="#000" stroke-width="2"/>
<path d="M2011.5 252.5 L2035 246.5 L2035 258.5 Z" fill="#000"/>
<circle cx="2106.5" cy="252.5" r="2.2" fill="none" stroke="#000" stroke-width="1"/>
<circle cx="2132.5" cy="252.5" r="2.2" fill="none" stroke="#000" stroke-width="1"/>
<path d="M2129.5 241.5h15.5" stroke="#ffff00" stroke-width="3.6"/>
<path d="M2101 273h20M2111 263v20" stroke="#ffff00" stroke-width="3.2"/>
<text x="2253" y="97.5" text-anchor="end" font-family='"Liberation Sans", Arial, sans-serif' font-weight="bold" font-size="61">(d)</text>
<path d="M1761.2 497.0 H2262.5 V912.8" fill="none" stroke="#000" stroke-width="2.8"/>
<line x1="1761.2" y1="495.7" x2="1761.2" y2="914.6" stroke="#000" stroke-width="3.6"/>
<line x1="1759.4" y1="912.8" x2="2263.9" y2="912.8" stroke="#000" stroke-width="3.6"/>
<path d="M1761.2 912.8h-9M1761.2 871.2h-5M1761.2 829.6h-9M1761.2 788.1h-5M1761.2 746.5h-9M1761.2 704.9h-5M1761.2 663.3h-9M1761.2 621.7h-5M1761.2 580.2h-9M1761.2 538.6h-5M1761.2 497.0h-9M1761.2 912.8v9M1811.3 912.8v5M1861.5 912.8v9M1911.6 912.8v5M1961.7 912.8v9M2011.8 912.8v5M2062.0 912.8v9M2112.1 912.8v5M2162.2 912.8v9M2212.4 912.8v5M2262.5 912.8v9" stroke="#000" stroke-width="2.6" fill="none"/>
<text transform="translate(1746.9 921.8) scale(0.9 1)" text-anchor="end" font-family='"Liberation Sans", Arial, sans-serif' font-size="29">0.0</text>
<text transform="translate(1746.9 838.6) scale(0.9 1)" text-anchor="end" font-family='"Liberation Sans", Arial, sans-serif' font-size="29">0.1</text>
<text transform="translate(1746.9 755.5) scale(0.9 1)" text-anchor="end" font-family='"Liberation Sans", Arial, sans-serif' font-size="29">0.2</text>
<text transform="translate(1746.9 672.3) scale(0.9 1)" text-anchor="end" font-family='"Liberation Sans", Arial, sans-serif' font-size="29">0.3</text>
<text transform="translate(1746.9 589.2) scale(0.9 1)" text-anchor="end" font-family='"Liberation Sans", Arial, sans-serif' font-size="29">0.4</text>
<text transform="translate(1746.9 506.0) scale(0.9 1)" text-anchor="end" font-family='"Liberation Sans", Arial, sans-serif' font-size="29">0.5</text>
<text transform="translate(1761.2 948.8) scale(0.9 1)" text-anchor="middle" font-family='"Liberation Sans", Arial, sans-serif' font-size="29">0</text>
<text transform="translate(1861.5 948.8) scale(0.9 1)" text-anchor="middle" font-family='"Liberation Sans", Arial, sans-serif' font-size="29">3</text>
<text transform="translate(1961.7 948.8) scale(0.9 1)" text-anchor="middle" font-family='"Liberation Sans", Arial, sans-serif' font-size="29">6</text>
<text transform="translate(2062.0 948.8) scale(0.9 1)" text-anchor="middle" font-family='"Liberation Sans", Arial, sans-serif' font-size="29">9</text>
<text transform="translate(2162.2 948.8) scale(0.9 1)" text-anchor="middle" font-family='"Liberation Sans", Arial, sans-serif' font-size="29">12</text>
<text transform="translate(2262.5 948.8) scale(0.9 1)" text-anchor="middle" font-family='"Liberation Sans", Arial, sans-serif' font-size="29">15</text>
<path d="M1761.2 912.5 L1765.8 867.7 L1768.9 782.7 L1771.2 766.5 L1773.5 769.6 L1775.1 764.2 L1779.0 742.6 L1784.4 762.6 L1787.5 741.0 L1790.9 710.9 L1794.4 719.4 L1798.3 714.0 L1802.9 743.3 L1807.9 720.1 L1812.2 739.5 L1816.8 754.9 L1821.5 776.6 L1826.9 769.6 L1831.5 788.1 L1835.4 791.2 L1839.7 799.7 L1846.2 781.2 L1850.8 780.1 L1855.5 777.3 L1860.1 775.8 L1865.0 762.6 L1870.1 767.0 L1873.2 768.0 L1877.9 773.9 L1883.0 771.6 L1889.5 779.6 L1896.9 786.6 L1902.6 782.7 L1908.0 784.3 L1914.2 782.7 L1921.9 776.2 L1932.7 776.6 L1939.7 775.0 L1948.2 779.3 L1953.0 781.0 L1958.7 780.0 L1967.4 782.0 L1977.5 779.3 L1989.0 778.5 L1997.6 777.4 L2012.0 779.1 L2026.5 780.5 L2055.3 778.8 L2084.0 779.8 L2108.6 779.8 L2130.2 778.8 L2156.0 779.7 L2185.0 779.8 L2206.6 778.8 L2228.2 779.4 L2261.3 779.8" fill="none" stroke="#000" stroke-width="3.4" stroke-linejoin="round" stroke-linecap="round"/>
<text x="2259.0" y="551.6" text-anchor="end" font-family='"Liberation Sans", Arial, sans-serif' font-weight="bold" font-size="59">(e2)</text>
<text x="1688.0" y="702.0" font-family='"Liberation Sans", Arial, sans-serif' font-size="33.4">L<tspan dx="-1.5" dy="13" font-size="33.4">z</tspan></text>
<text x="2012.0" y="968.0" text-anchor="middle" font-family='"Liberation Sans", Arial, sans-serif' font-size="27">t(s)</text>
<path d="M1758.3 988.0 H2259.5 V1404.0" fill="none" stroke="#000" stroke-width="2.8"/>
<line x1="1758.3" y1="986.7" x2="1758.3" y2="1405.8" stroke="#000" stroke-width="3.6"/>
<line x1="1756.5" y1="1404.0" x2="2260.9" y2="1404.0" stroke="#000" stroke-width="3.6"/>
<path d="M1758.3 1404.0h-9M1758.3 1362.4h-5M1758.3 1320.8h-9M1758.3 1279.2h-5M1758.3 1237.6h-9M1758.3 1196.0h-5M1758.3 1154.4h-9M1758.3 1112.8h-5M1758.3 1071.2h-9M1758.3 1029.6h-5M1758.3 988.0h-9M1758.3 1404.0v9M1808.4 1404.0v5M1858.5 1404.0v9M1908.7 1404.0v5M1958.8 1404.0v9M2008.9 1404.0v5M2059.0 1404.0v9M2109.1 1404.0v5M2159.3 1404.0v9M2209.4 1404.0v5M2259.5 1404.0v9" stroke="#000" stroke-width="2.6" fill="none"/>
<text transform="translate(1744.0 1413.0) scale(0.9 1)" text-anchor="end" font-family='"Liberation Sans", Arial, sans-serif' font-size="29">0.0</text>
<text transform="translate(1744.0 1329.8) scale(0.9 1)" text-anchor="end" font-family='"Liberation Sans", Arial, sans-serif' font-size="29">0.1</text>
<text transform="translate(1744.0 1246.6) scale(0.9 1)" text-anchor="end" font-family='"Liberation Sans", Arial, sans-serif' font-size="29">0.2</text>
<text transform="translate(1744.0 1163.4) scale(0.9 1)" text-anchor="end" font-family='"Liberation Sans", Arial, sans-serif' font-size="29">0.3</text>
<text transform="translate(1744.0 1080.2) scale(0.9 1)" text-anchor="end" font-family='"Liberation Sans", Arial, sans-serif' font-size="29">0.4</text>
<text transform="translate(1744.0 997.0) scale(0.9 1)" text-anchor="end" font-family='"Liberation Sans", Arial, sans-serif' font-size="29">0.5</text>
<text transform="translate(1758.3 1440.0) scale(0.9 1)" text-anchor="middle" font-family='"Liberation Sans", Arial, sans-serif' font-size="29">0</text>
<text transform="translate(1858.5 1440.0) scale(0.9 1)" text-anchor="middle" font-family='"Liberation Sans", Arial, sans-serif' font-size="29">3</text>
<text transform="translate(1958.8 1440.0) scale(0.9 1)" text-anchor="middle" font-family='"Liberation Sans", Arial, sans-serif' font-size="29">6</text>
<text transform="translate(2059.0 1440.0) scale(0.9 1)" text-anchor="middle" font-family='"Liberation Sans", Arial, sans-serif' font-size="29">9</text>
<text transform="translate(2159.3 1440.0) scale(0.9 1)" text-anchor="middle" font-family='"Liberation Sans", Arial, sans-serif' font-size="29">12</text>
<text transform="translate(2259.5 1440.0) scale(0.9 1)" text-anchor="middle" font-family='"Liberation Sans", Arial, sans-serif' font-size="29">15</text>
<path d="M1758.3 1403.5 L1762.1 1364.5 L1765.5 1326.9 L1767.7 1312.1 L1771.5 1323.5 L1774.9 1310.8 L1778.5 1316.8 L1782.0 1311.5 L1784.7 1313.5 L1789.0 1296.0 L1792.3 1302.7 L1796.4 1289.3 L1800.0 1294.7 L1803.7 1279.2 L1807.1 1277.2 L1811.1 1271.1 L1813.4 1270.5 L1817.2 1261.7 L1820.1 1260.4 L1823.9 1247.6 L1827.7 1250.3 L1831.3 1240.2 L1835.3 1238.2 L1838.0 1235.5 L1841.4 1230.8 L1848.1 1234.2 L1852.8 1228.8 L1857.5 1233.5 L1860.9 1233.5 L1864.9 1242.9 L1868.9 1241.6 L1875.0 1250.3 L1879.7 1253.0 L1884.4 1259.0 L1887.7 1258.1 L1893.5 1265.1 L1897.8 1263.1 L1901.8 1265.4 L1906.5 1263.1 L1911.9 1266.0 L1916.6 1261.7 L1920.7 1262.4 L1925.4 1259.0 L1929.4 1260.8 L1935.4 1255.4 L1939.5 1256.4 L1944.2 1253.3 L1948.2 1254.7 L1952.9 1251.0 L1957.6 1253.3 L1962.3 1250.7 L1967.0 1252.7 L1971.0 1250.6 L1975.7 1253.9 L1980.0 1252.1 L1985.2 1254.7 L1990.0 1253.0 L1996.6 1256.8 L2003.2 1254.2 L2009.8 1256.8 L2016.4 1254.2 L2023.0 1256.8 L2029.6 1254.2 L2036.2 1256.8 L2042.8 1254.2 L2049.4 1256.8 L2056.0 1254.2 L2062.6 1256.8 L2069.2 1254.2 L2075.8 1256.8 L2082.4 1254.2 L2089.0 1256.8 L2095.6 1254.2 L2102.2 1256.8 L2108.8 1254.2 L2115.4 1256.8 L2122.0 1254.2 L2128.6 1256.8 L2135.2 1254.2 L2141.8 1256.8 L2148.4 1254.2 L2155.0 1256.8 L2161.6 1254.2 L2168.2 1256.8 L2174.8 1254.2 L2181.4 1256.8 L2188.0 1254.2 L2194.6 1256.8 L2201.2 1254.2 L2207.8 1256.8 L2214.4 1254.2 L2221.0 1256.8 L2227.6 1254.2 L2234.2 1256.8 L2240.8 1254.2 L2247.4 1256.8 L2254.0 1254.2 L2259.5 1256.8" fill="none" stroke="#000" stroke-width="3.4" stroke-linejoin="round" stroke-linecap="round"/>
<text x="2258.0" y="1044.0" text-anchor="end" font-family='"Liberation Sans", Arial, sans-serif' font-weight="bold" font-size="59">(e3)</text>
<text x="1691.0" y="1198.0" font-family='"Liberation Sans", Arial, sans-serif' font-size="33.4">L<tspan dx="-1.5" dy="13" font-size="33.4">z</tspan></text>
<text x="2013.0" y="1459.0" text-anchor="middle" font-family='"Liberation Sans", Arial, sans-serif' font-size="27">t(s)</text>
</svg>
</body></html>
